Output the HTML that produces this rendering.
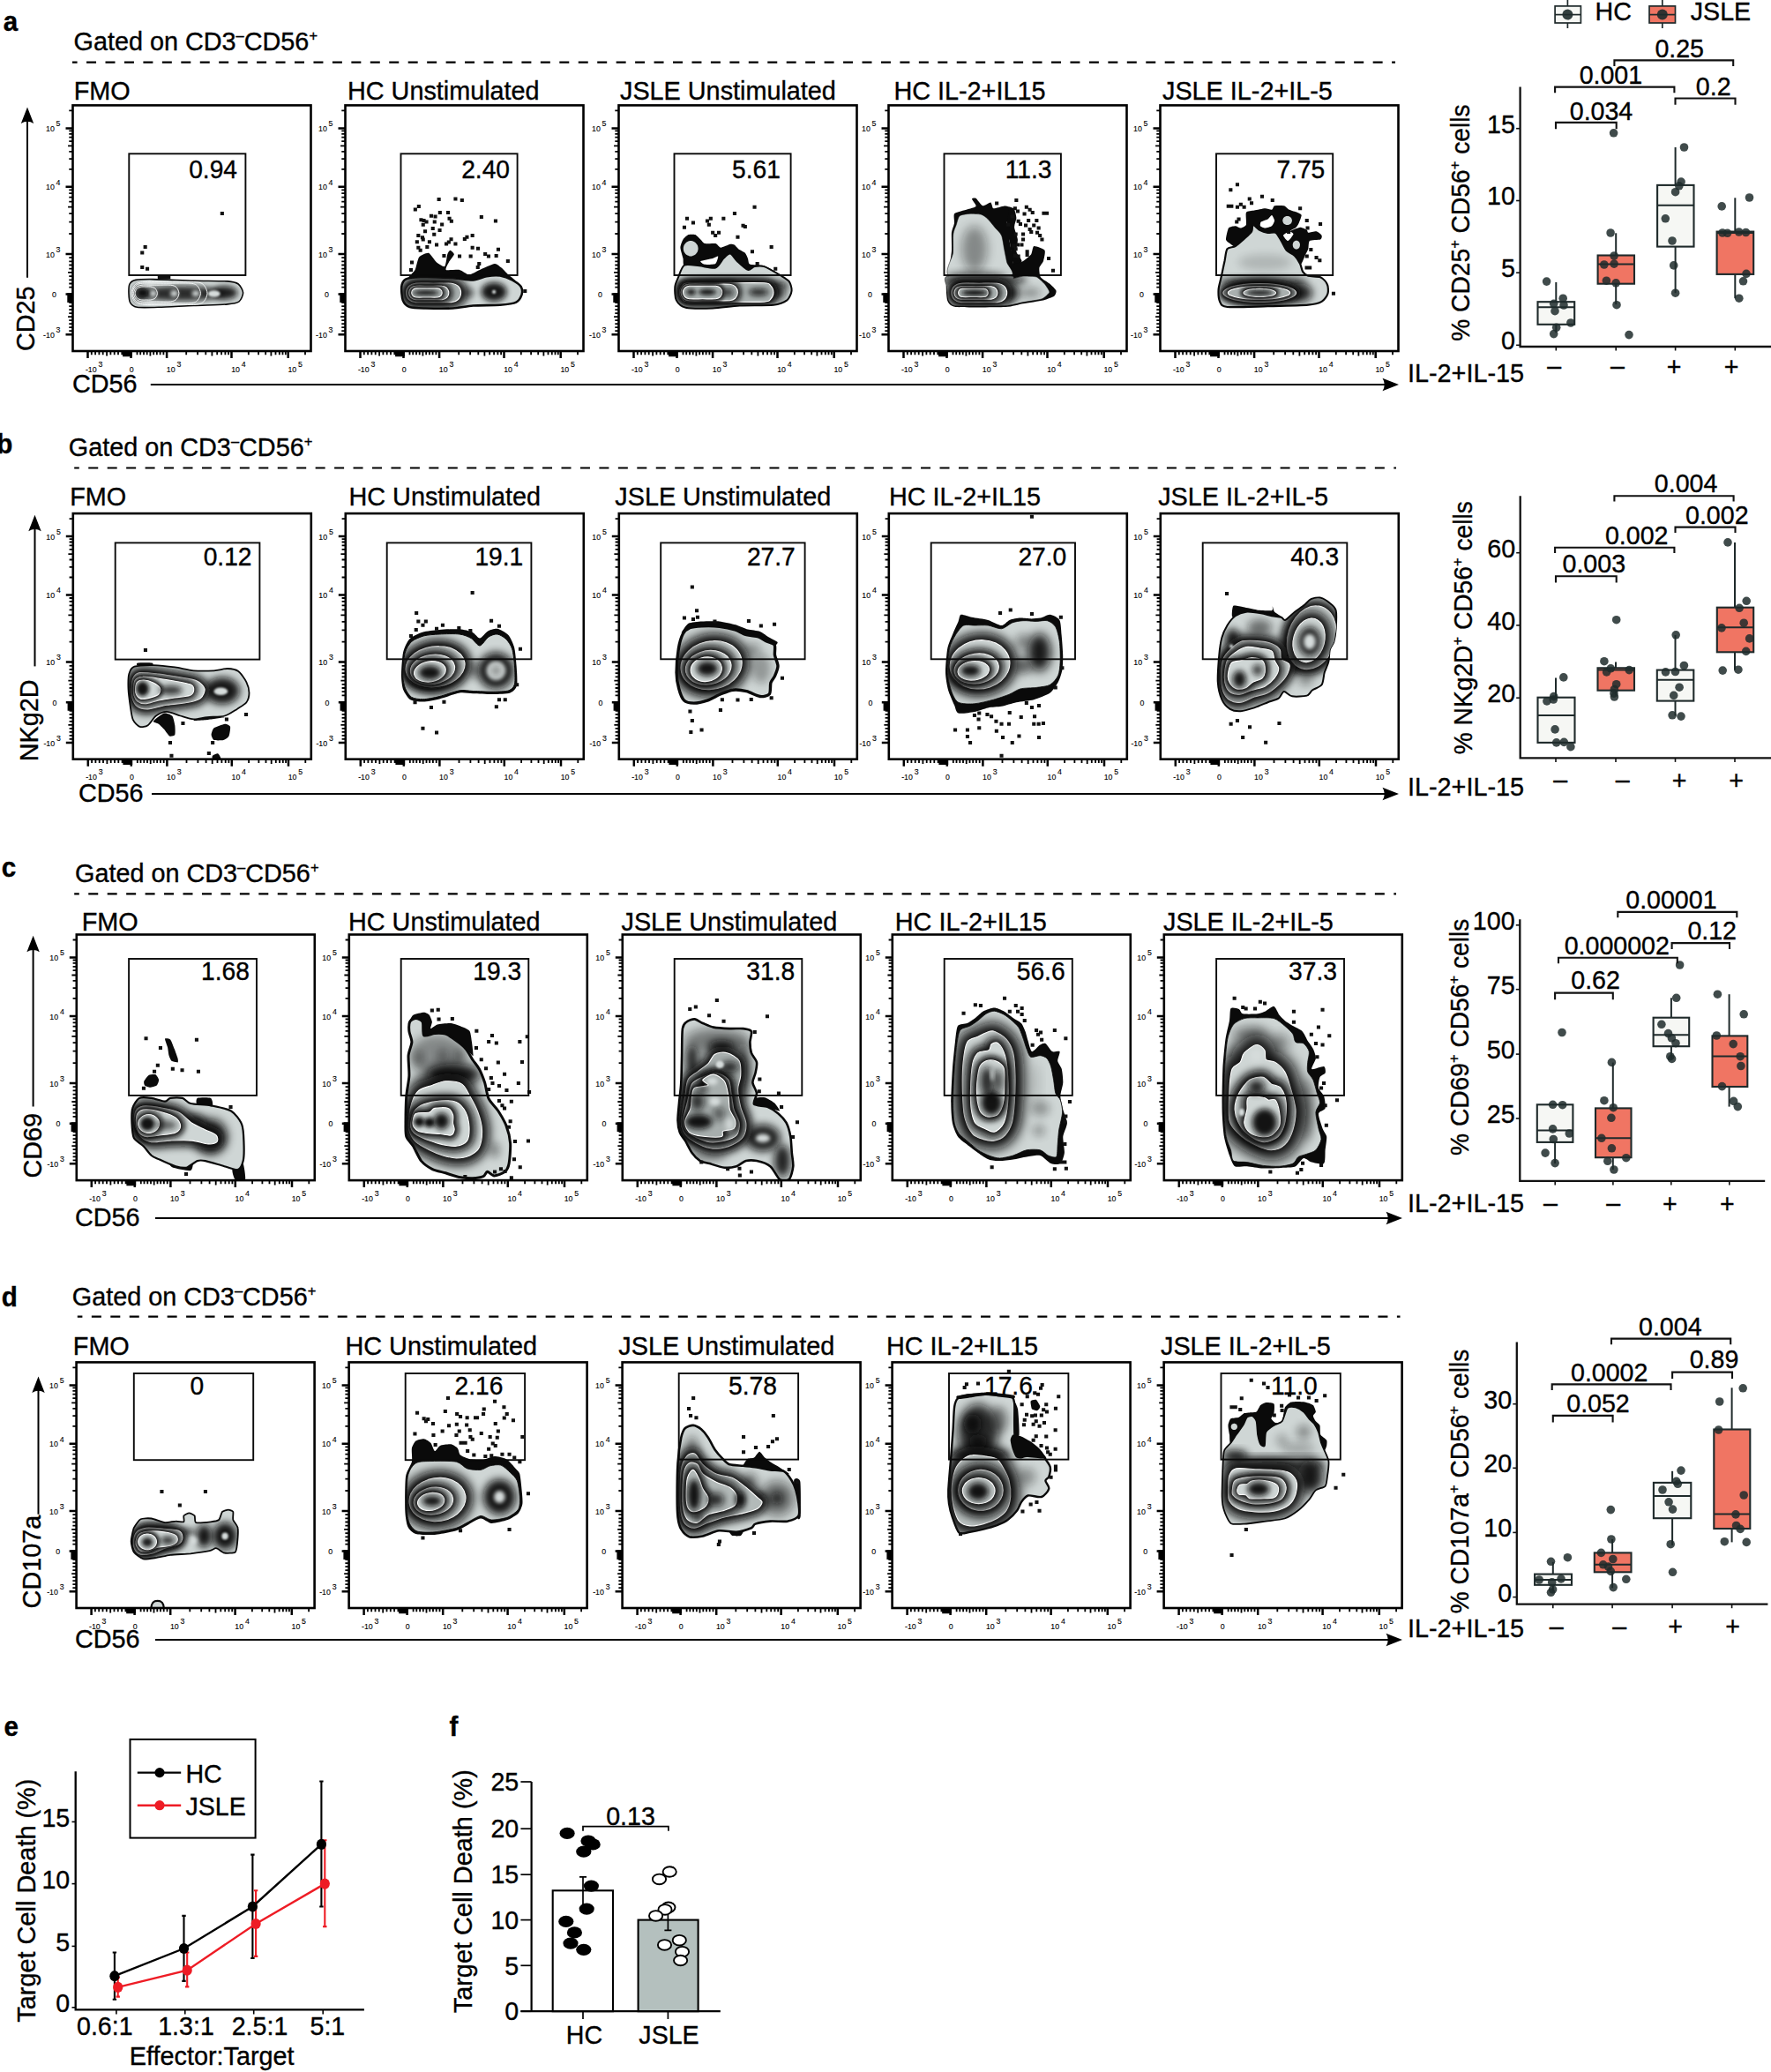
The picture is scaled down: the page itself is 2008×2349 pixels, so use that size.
<!DOCTYPE html><html><head><meta charset="utf-8"><title>Figure</title><style>html,body{margin:0;padding:0;background:#fff}svg{display:block}text{font-family:"Liberation Sans",sans-serif;fill:#000;stroke:#000;stroke-width:.35px}.t{stroke-width:.12px}</style></head><body><svg width="2008" height="2349" viewBox="0 0 2008 2349"><defs><clipPath id="pc"><rect x="0" y="0" width="271" height="278"/></clipPath><filter id="b1" x="-50%" y="-50%" width="200%" height="200%"><feGaussianBlur stdDeviation="1"/></filter><filter id="b2" x="-50%" y="-50%" width="200%" height="200%"><feGaussianBlur stdDeviation="2"/></filter><filter id="b3" x="-50%" y="-50%" width="200%" height="200%"><feGaussianBlur stdDeviation="3"/></filter><filter id="b4" x="-50%" y="-50%" width="200%" height="200%"><feGaussianBlur stdDeviation="4"/></filter><filter id="b5" x="-50%" y="-50%" width="200%" height="200%"><feGaussianBlur stdDeviation="5"/></filter><filter id="b6" x="-50%" y="-50%" width="200%" height="200%"><feGaussianBlur stdDeviation="6"/></filter><filter id="b7" x="-50%" y="-50%" width="200%" height="200%"><feGaussianBlur stdDeviation="7"/></filter><filter id="b8" x="-50%" y="-50%" width="200%" height="200%"><feGaussianBlur stdDeviation="8"/></filter><filter id="b9" x="-50%" y="-50%" width="200%" height="200%"><feGaussianBlur stdDeviation="9"/></filter><filter id="b10" x="-50%" y="-50%" width="200%" height="200%"><feGaussianBlur stdDeviation="10"/></filter><clipPath id="c1"><path d="M64 212.7C63.9 209.8 64 204 65 202C66.1 199.9 68.3 198.1 71.9 197.4C75.5 196.7 83 196.5 91.8 196.6C100.6 196.7 126.5 197.9 137.7 198.2C148.9 198.5 169.2 198.4 176 198.9C182.7 199.4 185.9 200.3 188.2 202C190.6 203.7 193.5 209.3 193.6 211.9C193.7 214.6 191.3 220.1 189 221.9C186.6 223.6 182.8 224.3 176 224.9C169.1 225.6 148.1 226 137.7 226.5C127.3 226.9 106.5 228.1 97.9 228.3C89.4 228.6 77.7 229 73.5 228.3C69.2 227.7 67.1 225.5 65.8 223.4C64.5 221.3 64.1 215.6 64 212.7Z"/></clipPath><clipPath id="c2"><path d="M64.3 205C64.7 201.9 66 198.1 68.9 196.6C71.7 195.2 78.6 194.5 85.7 194.3C92.8 194.1 114.5 194.7 122.4 195.1C130.4 195.5 140.3 197.7 145.4 197.4C150.5 197.1 156.6 193.8 160.7 193.1C164.8 192.5 172.1 191.9 176 192.5C179.9 193.1 186.6 195.7 189.7 197.4C192.9 199.1 198.3 202.8 199.7 205C201.1 207.3 201.2 211.9 200.5 214.2C199.7 216.6 197.6 221.1 194.3 222.6C191.1 224.2 182.5 225.2 176 225.7C169.4 226.2 152.5 226 145.4 226.5C138.2 227 129.6 229.1 122.4 229.5C115.3 229.9 98.3 229.7 91.8 229.5C85.3 229.3 76.9 229.2 73.5 228C70 226.8 67 223.4 65.8 220.4C64.6 217.3 63.9 208.2 64.3 205Z"/></clipPath><clipPath id="c3"><path d="M64.3 205C64.6 201.6 66.7 197.6 68.1 194.3C69.5 191.1 71.8 182.3 75 180.6C78.1 178.8 87.1 180.9 91.8 181.3C96.5 181.7 106.5 184.7 110.2 183.6C113.8 182.5 117.1 175.1 119.4 172.9C121.6 170.8 125 167.1 127 167.6C129 168 132 173.5 134.7 176C137.3 178.4 144.2 185.1 146.9 185.9C149.6 186.7 152.1 182.6 154.6 182.1C157 181.6 161.4 180.8 165.3 182.1C169.1 183.4 179.9 189.8 183.6 192C187.4 194.3 191.8 196.6 193.6 198.9C195.3 201.3 196.9 206.8 196.6 209.6C196.3 212.5 194 218.2 191.3 220.4C188.5 222.5 183.1 224.9 176 225.7C168.8 226.5 146.9 226 137.7 226.5C128.5 227 115.3 229.2 107.1 229.5C99 229.8 82 230 76.5 228.8C71 227.5 67.4 223.5 65.8 220.4C64.2 217.2 64 208.5 64.3 205Z"/></clipPath><clipPath id="c4"><path d="M69.6 193.1C62 190 73 172.4 73.5 166.8C73.9 161.2 73.3 149.1 73.8 145.4C74.2 141.6 76.4 137.1 77.3 134.7C78.1 132.2 79.4 126.1 81.1 124.7C82.8 123.3 89 122.6 91.8 122.4C94.7 122.2 103.1 122.5 105.6 123.2C108.1 123.9 111.5 126.8 113.2 128.5C115 130.2 119.1 135.6 120.9 137.7C122.7 139.9 127.3 144 128.5 146.9C129.8 149.8 130.9 158.6 131.6 162.2C132.3 165.8 133.9 173.9 134.7 177.5C135.5 181.1 146.1 191.3 138.5 193.1C130.9 194.9 77.2 196.2 69.6 193.1Z"/></clipPath><clipPath id="c5"><path d="M67.3 193.1C73.3 192.1 132.2 192.9 138.5 193.1C144.7 193.3 141.1 195.6 142.3 195.6C143.5 195.6 150.9 193.2 153 193.1C155.2 193 166.3 193.3 168.3 194C170.4 194.8 176.3 200.6 177.5 202C178.7 203.4 183.1 209.8 182.9 211.2C182.6 212.6 176.9 217.9 174.4 218.8C172 219.8 156.5 222 153 222.6C149.6 223.3 139.5 226.2 133.1 226.5C126.8 226.8 81.9 227 76.5 226.5C71.1 226 69.4 222.1 68.6 220.4C67.7 218.6 66.5 207.3 66.4 205C66.3 202.8 61.3 194.1 67.3 193.1Z"/></clipPath><clipPath id="c6"><path d="M66.6 208.1C66.8 204.4 68.7 198.6 69.6 194.3C70.5 190.1 72.5 180.3 73.5 176C74.4 171.7 74.9 164.4 76.5 162.2C78.1 160 83.2 160.6 85.7 159.1C88.1 157.7 92.4 153.7 94.9 151.5C97.3 149.2 102.6 144.6 104.1 142.3C105.5 140.1 104.4 134.9 105.6 134.7C106.8 134.5 111 139.6 113.2 140.8C115.5 142 120 143.4 122.4 143.8C124.9 144.2 129.6 142.6 131.6 143.8C133.6 145.1 136.1 150.4 137.7 153C139.4 155.7 141.8 161.5 143.8 163.7C145.9 166 151 167.8 153 169.9C155.1 171.9 157.9 176.6 159.1 179C160.4 181.5 161 186.4 162.2 188.2C163.4 190.1 165.7 192 168.3 192.8C171 193.6 179.2 193.1 182.1 194.3C185 195.6 188.6 199.5 189.7 202C190.9 204.4 191.3 210 190.5 212.7C189.7 215.4 186.6 220.1 183.6 221.9C180.7 223.6 176.5 225 168.3 225.7C160.2 226.4 134.7 226.9 122.4 227.2C110.2 227.5 83.8 228.7 76.5 228C69.3 227.3 69.4 224.5 68.1 221.9C66.8 219.2 66.4 211.8 66.6 208.1Z"/></clipPath><clipPath id="c7"><path d="M63.5 198.9C63.3 194 63.4 185.5 64.3 182.1C65.2 178.7 66.7 175 70.4 173.7C74.1 172.4 85.7 172 91.8 172.1C97.9 172.3 110.2 173.6 116.3 174.4C122.4 175.3 131.8 177.8 137.7 178.3C143.6 178.8 155.6 178.6 160.7 178.3C165.8 178 172.3 175.9 176 176C179.6 176.1 185.4 177 188.2 179C191.1 181.1 195.8 188 197.4 191.3C199 194.5 200.5 200.5 200.5 203.5C200.5 206.6 199.2 211.8 197.4 214.2C195.6 216.7 189.9 219.8 186.7 221.9C183.4 223.9 177.4 228.3 172.9 229.5C168.4 230.8 157.7 230.6 153 231.1C148.3 231.6 141.8 233.6 137.7 233.4C133.6 233.2 126.5 230.7 122.4 229.5C118.3 228.4 110.8 224.9 107.1 224.9C103.4 224.9 97.7 227.5 94.9 229.5C92 231.6 88.1 238.6 85.7 240.2C83.2 241.9 78.8 242.6 76.5 241.8C74.3 241 70.3 237.2 68.9 234.1C67.4 231.1 66.5 223.5 65.8 218.8C65.1 214.1 63.7 203.8 63.5 198.9Z"/></clipPath><clipPath id="c8"><path d="M65.8 183.6C65.8 178.3 66.8 163.5 68.1 158.4C69.4 153.3 72.9 148 75.7 145.4C78.6 142.8 85.3 140.1 89.5 138.9C93.7 137.8 101.7 137.2 107.1 137C112.5 136.7 125.3 136.3 130.1 137C134.9 137.6 140 139.8 143.1 141.5C146.1 143.3 150.4 150.2 153 150C155.7 149.8 160.3 141.7 163 140C165.6 138.3 170.3 136.6 172.9 137C175.6 137.3 180.6 140.4 182.9 142.6C185.1 144.9 188.5 149.7 189.7 153.8C191 157.8 192.1 167.6 192.5 172.9C192.9 178.2 193.4 189.9 192.5 193.6C191.6 197.3 189.1 199.6 185.9 200.8C182.7 201.9 173.7 202.2 168.3 202.3C162.9 202.4 150.5 201.7 145.4 201.5C140.3 201.3 135.2 199.9 130.1 200.8C125 201.6 112.6 206.3 107.1 207.6C101.6 209 92.9 210.6 88.8 210.7C84.6 210.8 78.5 210.1 75.7 208.4C73 206.7 69.7 201.5 68.4 198.2C67.1 194.9 65.8 188.9 65.8 183.6Z"/></clipPath><clipPath id="c9"><path d="M66.1 180.6C66.1 174.5 67.4 158.9 68.4 153C69.4 147.1 71.8 139.3 73.5 136.2C75.1 133.1 77.9 130.9 80.8 129.8C83.7 128.6 90.3 128 94.9 127.8C99.4 127.6 109.8 127.7 114.8 128.2C119.8 128.8 128.3 130.6 132.4 131.9C136.4 133.2 141.8 136.6 145.4 137.7C148.9 138.8 156.1 139 159.1 140C162.2 141 165.9 143.8 168.3 145.1C170.7 146.3 176 147.1 177.2 149.2C178.4 151.3 177 157.5 177.5 160.7C178 163.8 181 169.8 181 172.9C181 176.1 178.6 181.8 177.5 184.4C176.4 186.9 173.7 189.3 172.9 192C172.1 194.8 173 202.7 171.4 204.7C169.8 206.8 164.1 207.9 160.7 207.5C157.2 207.1 149.5 202.7 145.4 201.7C141.3 200.7 133.9 199.7 130.1 200.2C126.2 200.6 120.2 203.2 116.3 204.7C112.4 206.3 105.1 210.7 101 212.1C96.9 213.5 89.2 215.1 85.7 215.1C82.2 215.1 77 214.4 74.7 212.1C72.4 209.8 69.7 202.4 68.6 198.2C67.4 194 66.1 186.6 66.1 180.6Z"/></clipPath><clipPath id="c10"><path d="M67.3 180.6C67 174 68.4 158.7 69.6 153C70.8 147.3 74.4 141.2 76.5 137.7C78.7 134.3 82.8 128.4 85.7 127C88.5 125.6 94.3 127 97.9 127C101.6 127 109.2 126.5 113.2 127C117.3 127.5 124.9 131.2 128.5 130.8C132.2 130.4 137.5 125.2 140.8 123.9C144 122.7 149.3 121.9 153 121.7C156.7 121.4 164.7 122.4 168.3 122.4C172 122.4 177.7 120.8 180.6 121.7C183.4 122.5 187.9 125.4 189.7 128.5C191.6 131.7 193.6 140.1 194.3 145.4C195.1 150.7 195.3 163.2 195.1 168.3C194.9 173.4 194.3 180.2 192.8 183.6C191.3 187.1 186.9 192.5 183.6 194.3C180.4 196.2 172.8 196.8 168.3 197.4C163.8 198 154 197.9 150 198.9C145.9 199.9 141.8 203.4 137.7 205C133.6 206.7 124.7 209.7 119.4 211.2C114.1 212.6 103.2 215.4 97.9 215.8C92.6 216.2 83 216.1 79.6 214.2C76.1 212.4 73.6 206.5 71.9 202C70.3 197.5 67.6 187.1 67.3 180.6Z"/></clipPath><clipPath id="c11"><path d="M65.8 191.3C65.4 184.5 66.7 167.4 67.3 160.7C67.9 153.9 69.2 145.3 70.4 140.8C71.6 136.3 74.5 130.3 76.5 127C78.6 123.7 82.8 118.3 85.7 116.3C88.5 114.3 94.1 112.1 97.9 111.7C101.8 111.3 110.9 112.6 114.8 113.2C118.6 113.8 123.9 115.7 127 116.3C130.1 116.9 135.7 117.2 137.7 117.8C139.8 118.4 140.3 121.7 142.3 120.9C144.3 120.1 150.2 113.9 153 111.7C155.9 109.5 161.3 106 163.7 104.1C166.2 102.1 168.9 98.3 171.4 97.2C173.8 96 179.2 95 182.1 95.6C185 96.3 190.5 99.8 192.8 101.8C195.2 103.7 198.8 106.4 199.7 110.2C200.6 113.9 200 125.4 199.7 130.1C199.4 134.8 198.3 142.1 197.4 145.4C196.5 148.6 193.6 151.5 192.8 154.6C192 157.6 192.1 164.9 191.3 168.3C190.5 171.8 187.7 177.1 186.7 180.6C185.7 184 185.5 191.7 183.6 194.3C181.8 197 175.2 198.8 172.9 200.5C170.7 202.1 169.9 205.7 166.8 206.6C163.7 207.5 153.4 208 150 207.3C146.5 206.7 142.8 201.7 140.8 202C138.7 202.3 137.1 208 134.7 209.6C132.2 211.3 126.1 212.8 122.4 214.2C118.7 215.7 111.2 219 107.1 220.4C103 221.7 95.5 224 91.8 224.2C88.1 224.4 82.4 223.6 79.6 221.9C76.7 220.1 72.2 215.2 70.4 211.2C68.6 207.1 66.2 198 65.8 191.3Z"/></clipPath><clipPath id="c12"><path d="M63.5 214.2C63.3 209.7 63.1 201.2 64.3 197.4C65.4 193.6 69.1 187.5 71.9 185.9C74.8 184.4 81.8 185.4 85.7 185.9C89.6 186.4 98.1 189.7 101 189.7C103.9 189.7 104.5 186.4 107.1 185.9C109.8 185.4 117.8 185.1 120.9 185.9C123.9 186.7 125.8 190.9 130.1 192C134.4 193.2 146.9 193.2 153 194.3C159.1 195.5 171.3 197.6 176 200.5C180.7 203.3 186.3 210.9 188.2 215.8C190.2 220.7 190.3 231.7 190.5 237.2C190.7 242.7 190.7 253.1 189.7 257.1C188.8 261.1 186.5 266.2 183.6 267C180.8 267.8 173.2 264.5 168.3 263.2C163.4 261.9 151 257.9 146.9 257.1C142.8 256.3 140.6 256.1 137.7 257.1C134.9 258.1 128.7 263.9 125.5 264.7C122.2 265.5 117.3 264.4 113.2 263.2C109.2 262 98.5 257.2 94.9 255.5C91.2 253.9 88.1 253 85.7 251C83.2 248.9 79.2 242.9 76.5 240.2C73.9 237.6 67.5 234.5 65.8 231.1C64.1 227.6 63.7 218.7 63.5 214.2Z"/></clipPath><clipPath id="c13"><path d="M65 214.2C65 208.1 65.3 190.8 65.8 183.6C66.3 176.5 68.6 166.8 68.9 160.7C69.2 154.6 67.7 142.8 68.1 137.7C68.5 132.6 71.8 126.1 71.9 122.4C72 118.7 69.2 113.2 68.9 110.2C68.6 107.1 68.6 101.4 69.6 99.5C70.6 97.5 74.6 95.6 76.5 95.6C78.4 95.6 82.9 96.9 84.2 99.5C85.4 102 83.9 113 85.7 114.8C87.5 116.5 94.7 112.7 97.9 112.5C101.2 112.3 106.9 112.1 110.2 113.2C113.4 114.4 119.4 118.6 122.4 120.9C125.5 123.1 130.7 127.2 133.1 130.1C135.6 132.9 138.7 139.2 140.8 142.3C142.8 145.4 146.6 149.6 148.4 153C150.3 156.5 153.1 163.8 154.6 168.3C156 172.8 157.1 182.4 159.1 186.7C161.2 191 167.2 196.4 169.9 200.5C172.5 204.5 177.2 212.4 179 217.3C180.9 222.2 183.2 231.5 183.6 237.2C184 242.9 182.9 255.9 182.1 260.1C181.3 264.4 179.7 267.5 177.5 269.3C175.3 271.2 167.9 273.9 165.3 273.9C162.6 273.9 159.2 269.2 157.6 269.3C156 269.4 155.3 273.7 153 274.7C150.8 275.7 144.5 276.6 140.8 276.7C137.1 276.8 129.6 276.2 125.5 275.4C121.4 274.7 114.3 272.1 110.2 270.8C106.1 269.6 98.5 268.1 94.9 266.3C91.2 264.4 85.5 260.5 82.6 257.1C79.8 253.6 75.7 243.9 73.5 240.2C71.2 236.6 66.9 233 65.8 229.5C64.7 226.1 65 220.4 65 214.2Z"/></clipPath><clipPath id="c14"><path d="M63.5 211.2C63.4 206.7 64.5 197 65 191.3C65.5 185.6 66.9 175.5 67.3 168.3C67.7 161.2 67.9 145.9 68.1 137.7C68.3 129.6 68.1 112.2 68.9 107.1C69.6 102 71.6 100.9 73.5 99.5C75.3 98 80.2 96.2 82.6 96.4C85.1 96.6 89 99.8 91.8 101C94.7 102.2 100 104.8 104.1 105.6C108.1 106.4 117.9 106.9 122.4 107.1C126.9 107.3 134.5 106.7 137.7 107.1C141 107.5 145.9 108.1 146.9 110.2C147.9 112.2 145.4 119.2 145.4 122.4C145.4 125.7 145.9 131.6 146.9 134.7C147.9 137.7 152.4 142.3 153 145.4C153.6 148.4 152.1 154.6 151.5 157.6C150.9 160.7 148.2 165.3 148.4 168.3C148.6 171.4 152.8 177.3 153 180.6C153.2 183.8 148.3 190.8 150 192.8C151.6 194.8 161.6 194.4 165.3 195.9C168.9 197.3 174.6 201.1 177.5 203.5C180.4 206 184.8 210.8 186.7 214.2C188.5 217.7 190.5 225 191.3 229.5C192.1 234 192.4 243.4 192.8 247.9C193.2 252.4 194.7 259.2 194.3 263.2C193.9 267.2 191.8 276.1 189.7 278C187.7 280 181.9 280 179 278C176.2 276.1 171.8 266 168.3 263.2C164.9 260.4 156.7 257.9 153 257.1C149.3 256.3 143.8 256.3 140.8 257.1C137.7 257.9 133.3 262.2 130.1 263.2C126.8 264.2 120.4 265.1 116.3 264.7C112.2 264.3 103.1 261.2 99.5 260.1C95.8 259.1 91.4 258.7 88.8 257.1C86.1 255.4 81.8 251 79.6 247.9C77.3 244.8 73.8 237.2 71.9 234.1C70.1 231.1 66.9 228 65.8 224.9C64.7 221.9 63.6 215.7 63.5 211.2Z"/></clipPath><clipPath id="c15"><path d="M69.6 191.3C69.6 183.1 70.5 162.2 71.2 153C71.8 143.8 73.3 128.3 74.2 122.4C75.1 116.5 76.1 111.1 78 108.6C80 106.2 86.1 105.5 88.8 104.1C91.4 102.6 95.5 99.8 97.9 97.9C100.4 96.1 104.7 91.7 107.1 90.3C109.6 88.9 113.6 87.1 116.3 87.2C118.9 87.3 124.4 89.6 127 91C129.7 92.5 133.9 96 136.2 97.9C138.4 99.9 142.2 103.1 143.8 105.6C145.5 108 147.2 113 148.4 116.3C149.7 119.6 151.8 127 153 130.1C154.2 133.1 155.6 138.2 157.6 139.2C159.7 140.3 165.9 137.5 168.3 137.7C170.8 137.9 174.3 139.1 176 140.8C177.6 142.4 179.5 146.7 180.6 150C181.6 153.2 182.9 161.2 183.6 165.3C184.3 169.3 184.9 177.5 185.9 180.6C186.9 183.6 190.3 185.4 191.3 188.2C192.3 191.1 193.8 197.5 193.6 202C193.4 206.5 190.5 217 189.7 221.9C189 226.8 188.6 234.6 188.2 238.7C187.8 242.8 188.1 250.9 186.7 252.5C185.3 254.1 180 252 177.5 251C175.1 249.9 171.6 245.6 168.3 244.8C165.1 244 157.1 244 153 244.8C148.9 245.6 141.8 249.7 137.7 251C133.6 252.2 126.1 254 122.4 254C118.7 254 113.4 252.2 110.2 251C106.9 249.7 101 246.9 97.9 244.8C94.9 242.8 90.1 238.1 87.2 235.7C84.4 233.2 78.7 229.3 76.5 226.5C74.4 223.6 72.1 218.9 71.2 214.2C70.2 209.5 69.6 199.4 69.6 191.3Z"/></clipPath><clipPath id="c16"><path d="M68.9 198.9C68.7 188.7 69.1 163.6 69.6 153C70.1 142.4 71.4 126.1 72.7 119.4C74 112.6 77 105.7 79.6 102.5C82.1 99.4 88.1 96.7 91.8 95.6C95.5 94.6 102.6 94.9 107.1 94.9C111.6 94.9 121.4 94.4 125.5 95.6C129.6 96.9 134.9 101.7 137.7 104.1C140.6 106.4 145.3 110.8 146.9 113.2C148.5 115.7 148.3 121 150 122.4C151.6 123.8 157.1 122.5 159.1 123.9C161.2 125.4 164.7 130.3 165.3 133.1C165.9 136 163.9 142.3 163.7 145.4C163.5 148.4 162.9 153.4 163.7 156.1C164.5 158.7 168.4 162 169.9 165.3C171.3 168.5 173.4 177.1 174.4 180.6C175.5 184 177.7 188.4 177.5 191.3C177.3 194.1 173.1 198.1 172.9 202C172.7 205.9 175.2 216.3 176 220.4C176.8 224.4 179.4 229.3 179 232.6C178.6 235.9 175.2 242.6 172.9 244.8C170.7 247.1 164.9 248.4 162.2 249.4C159.5 250.4 155.1 251.1 153 252.5C151 253.9 149.8 258.7 146.9 260.1C144 261.6 136.1 262.9 131.6 263.2C127.1 263.5 118.1 263 113.2 262.4C108.3 261.8 99.4 259.3 94.9 258.6C90.4 257.9 82 258.9 79.6 257.1C77.1 255.2 77.6 248.5 76.5 244.8C75.4 241.2 72.2 235.7 71.2 229.5C70.1 223.4 69.1 209.1 68.9 198.9Z"/></clipPath><clipPath id="c17"><path d="M62.7 203.5C62.7 200.8 64.7 190.7 65.8 188.2C66.9 185.7 71.5 179.3 73.5 178.3C75.4 177.2 82.9 177.1 85.7 177.5C88.4 177.9 98.2 181.8 101 182.1C103.7 182.4 111.1 180.6 113.2 180.6C115.4 180.5 121.5 181.9 122.4 181.3C123.3 180.7 121.8 175.4 122.4 174.4C123 173.4 127.3 171.4 128.5 171.4C129.8 171.4 133.9 173.4 134.7 174.4C135.4 175.5 134.4 181.4 136.2 182.1C138 182.8 150.4 181.6 153 181.3C155.6 181 160.9 180.2 162.2 179C163.5 177.9 165 171 166 169.9C167.1 168.7 171.7 167.6 172.9 167.6C174.1 167.6 177.7 168.7 178.3 169.9C178.8 171 177.7 177.2 178.3 179C178.8 180.9 183.2 185.5 183.6 188.2C184.1 191 183.2 203.8 182.9 206.6C182.6 209.3 182 214.8 180.6 215.8C179.1 216.8 170.5 217 168.3 216.5C166.2 216.1 160.8 211.4 159.1 211.2C157.5 210.9 154.4 213.6 151.5 214.2C148.6 214.8 134.5 216.8 130.1 217.3C125.6 217.7 110.9 218.4 107.1 218.8C103.3 219.3 94.9 221.4 91.8 221.9C88.8 222.3 79.1 224 76.5 223.4C73.9 222.8 67.2 217.7 65.8 215.8C64.4 213.8 62.7 206.3 62.7 203.5Z"/></clipPath><clipPath id="c18"><path d="M85.1 290.7C83.7 289.2 85.6 277.4 86 275.4C86.4 273.5 88.6 271.6 89.5 271.2C90.5 270.7 94.7 270.7 95.6 271.2C96.6 271.6 98.7 273.5 99.2 275.4C99.6 277.4 101.5 289.2 100.1 290.7C98.7 292.3 86.5 292.3 85.1 290.7Z"/></clipPath><clipPath id="c19"><path d="M66.6 168.3C66.3 161.2 66 137.2 67.3 130.1C68.7 122.9 72.8 117.1 76.5 114.8C80.2 112.4 88.8 112.7 94.9 112.5C101 112.3 117.1 112.1 122.4 113.2C127.7 114.4 131 119.7 134.7 120.9C138.3 122.1 146.5 122.8 150 122.4C153.4 122 157.6 118.5 160.7 117.8C163.7 117.1 169.9 116 172.9 117.1C176 118.1 181.2 123.1 183.6 125.5C186.1 127.8 189.8 131 191.3 134.7C192.7 138.3 194.1 148.7 194.3 153C194.5 157.3 194.6 163.7 192.8 166.8C191 169.9 184.6 174.3 180.6 176C176.5 177.6 166.3 179.2 162.2 179C158.1 178.8 153.6 174 150 174.4C146.3 174.9 138.3 180.3 134.7 182.1C131 183.9 127.3 186.8 122.4 188.2C117.5 189.6 103.9 192.3 97.9 192.8C92 193.3 81.8 193.3 78 192C74.3 190.8 71.2 186.8 69.6 183.6C68.1 180.5 66.9 175.5 66.6 168.3Z"/></clipPath><clipPath id="c20"><path d="M62.7 153C62.7 144.9 62.9 123.7 63.5 114.8C64.1 105.8 66.2 91 67.3 85.7C68.5 80.4 70.1 76.8 71.9 75C73.8 73.1 78.7 71.7 81.1 71.9C83.5 72.1 88 74.7 90.3 76.5C92.5 78.3 95.9 82.6 97.9 85.7C100 88.8 103.3 96.2 105.6 99.5C107.8 102.7 112.5 107.9 114.8 110.2C117 112.4 119.4 115.3 122.4 116.3C125.5 117.3 133.6 117.4 137.7 117.8C141.8 118.2 148.9 118.7 153 119.4C157.1 120 164.2 121.8 168.3 122.4C172.4 123 180.4 122.3 183.6 123.9C186.9 125.6 191 131.8 192.8 134.7C194.6 137.5 196.4 141.9 197.4 145.4C198.4 148.8 200 156.8 200.5 160.7C200.9 164.5 202.1 171.8 200.5 174.4C198.8 177.1 192.5 179.7 188.2 180.6C183.9 181.4 173.2 180.2 168.3 180.6C163.4 181 154.3 182.6 151.5 183.6C148.6 184.6 149.8 187 146.9 188.2C144 189.4 135 192.4 130.1 192.8C125.2 193.2 115.3 190.7 110.2 191.3C105.1 191.9 96.3 196.5 91.8 197.4C87.3 198.3 79.8 199.2 76.5 198.2C73.2 197.1 69.1 192.7 67.3 189.7C65.6 186.8 64.1 180.9 63.5 176C62.9 171.1 62.7 161.2 62.7 153Z"/></clipPath><clipPath id="c21"><path d="M64.3 145.4C64.6 138.2 66.6 116.3 67.3 107.1C68 97.9 69.1 84.1 69.6 76.5C70.1 69 70.4 55.2 71.2 50.5C71.9 45.8 73 43 75 41.3C76.9 39.6 81.4 38.1 85.7 37.5C90 36.9 101.2 36.6 107.1 36.7C113 36.8 126 37.6 130.1 38.3C134.1 38.9 136.4 39.3 137.7 41.3C139 43.4 139.6 49.9 140 53.6C140.4 57.2 140.7 65 140.8 68.9C140.9 72.7 140 80.4 140.8 82.6C141.6 84.9 144.7 84.5 146.9 85.7C149.1 86.9 154.8 89.8 157.6 91.8C160.5 93.9 166.1 98.5 168.3 101C170.6 103.4 172.9 107.7 174.4 110.2C176 112.6 179.3 116.7 179.8 119.4C180.3 122 179 128 178.3 130.1C177.6 132.1 174.4 132.8 174.4 134.7C174.4 136.5 178.9 141.4 178.3 143.8C177.7 146.3 173 152 169.9 153C166.7 154 157.6 150.7 154.6 151.5C151.5 152.3 148.5 156.9 146.9 159.1C145.3 161.4 144.3 165.7 142.3 168.3C140.3 171 134.7 176.8 131.6 179C128.5 181.3 123 183.7 119.4 185.2C115.7 186.6 108.1 188.7 104.1 189.7C100 190.8 92.4 192.3 88.8 192.8C85.1 193.3 79.2 195.8 76.5 193.6C73.9 191.3 70.4 180.4 68.9 176C67.3 171.6 65.6 164.8 65 160.7C64.4 156.6 64 152.5 64.3 145.4Z"/></clipPath><clipPath id="c22"><path d="M66.6 153C66.4 147.7 67.1 128.5 67.3 122.4C67.6 116.3 67.8 104.6 68.9 101C69.9 97.4 74.9 94 76.5 91.8C78.1 89.7 81 85 82.6 82.6C84.2 80.3 88.9 74.2 90.3 71.9C91.7 69.6 93.6 64 94.9 62.7C96.1 61.5 99.7 60.7 101 61.2C102.2 61.7 104.9 64.8 105.6 67.3C106.3 69.8 106.6 79.6 107.1 82.6C107.7 85.7 109.3 91.9 110.2 93.3C111.1 94.8 114.1 96.5 114.8 94.9C115.5 93.3 115 82.2 116.3 79.6C117.5 76.9 123.3 73.3 125.5 71.9C127.6 70.5 132.9 69.7 134.7 67.3C136.4 65 139 53.9 140.8 52C142.6 50.2 147.8 50.7 150 51.3C152.1 51.8 157.4 55.1 159.1 56.6C160.9 58.1 163.8 62.7 165.3 64.3C166.7 65.9 170.1 68.6 171.4 70.4C172.6 72.2 175.1 77.1 176 79.6C176.9 82.1 178.1 89.1 179 91.8C179.9 94.5 182.6 100 183.6 102.5C184.6 105 187.2 110 187.5 113.2C187.7 116.4 186.4 126.9 185.9 130.1C185.5 133.3 185.1 139 183.6 140.8C182.1 142.6 175.1 143.6 172.9 145.4C170.8 147.2 167.6 153.4 165.3 156.1C162.9 158.8 156.2 165.8 153 168.3C149.8 170.8 142 176.1 137.7 177.5C133.4 178.9 121.7 179.9 116.3 180.6C110.9 181.3 96.5 183.4 91.8 183.6C87.2 183.9 79.2 184.6 76.5 182.9C73.8 181.1 70 171.8 68.9 168.3C67.7 164.8 66.7 158.4 66.6 153Z"/></clipPath></defs><rect width="2008" height="2349" fill="#fff"/><text font-weight="bold" transform="translate(3.8 35) scale(1 1.04)" font-size="29.6" stroke-width="0">a</text>
<text transform="translate(83.5 56.5) scale(1 1.04)" font-size="28.8">Gated on CD3<tspan font-size="16.5" dy="-10.5">&#8211;</tspan><tspan dy="10.5" font-size="1">&#8203;</tspan>CD56<tspan font-size="16.5" dy="-10.5">+</tspan><tspan dy="10.5" font-size="1">&#8203;</tspan></text>
<line x1="82" y1="70.6" x2="1582" y2="70.6" stroke="#000" stroke-width="2.2" stroke-dasharray="11 10.45" stroke-dashoffset="5.4"/>
<text transform="translate(83.7 112.8) scale(1 1.04)" font-size="28.8">FMO</text>
<text transform="translate(394 112.8) scale(1 1.04)" font-size="28.8">HC Unstimulated</text>
<text transform="translate(703 112.8) scale(1 1.04)" font-size="28.8">JSLE Unstimulated</text>
<text transform="translate(1013.4 112.8) scale(1 1.04)" font-size="28.8">HC IL-2+IL15</text>
<text transform="translate(1318 112.8) scale(1 1.04)" font-size="28.8">JSLE IL-2+IL-5</text>
<text transform="translate(39.1 398) rotate(-90) scale(1 1.04)" font-size="28.8">CD25</text>
<line x1="31" y1="314.8" x2="31" y2="131.4" stroke="#000" stroke-width="2"/>
<path d="M31 121.4l-7.2 18.5q7.2 -4.5 14.4 0z" fill="#000"/>
<text transform="translate(81.9 444.6) scale(1 1.04)" font-size="28.8">CD56</text>
<line x1="170.8" y1="436" x2="1576" y2="436" stroke="#000" stroke-width="2"/>
<path d="M1586 436l-18.5 -7.2q4.5 7.2 0 14.4z" fill="#000"/>
<text transform="translate(1596 433) scale(1 1.04)" font-size="28.8">IL-2+IL-15</text>
<g transform="translate(82 120)" clip-path="url(#pc)">
<path d="M64 212.7C63.9 209.8 64 204 65 202C66.1 199.9 68.3 198.1 71.9 197.4C75.5 196.7 83 196.5 91.8 196.6C100.6 196.7 126.5 197.9 137.7 198.2C148.9 198.5 169.2 198.4 176 198.9C182.7 199.4 185.9 200.3 188.2 202C190.6 203.7 193.5 209.3 193.6 211.9C193.7 214.6 191.3 220.1 189 221.9C186.6 223.6 182.8 224.3 176 224.9C169.1 225.6 148.1 226 137.7 226.5C127.3 226.9 106.5 228.1 97.9 228.3C89.4 228.6 77.7 229 73.5 228.3C69.2 227.7 67.1 225.5 65.8 223.4C64.5 221.3 64.1 215.6 64 212.7Z" fill="#cfd6d5" stroke="#0a0a0a" stroke-width="1.6"/>
<g clip-path="url(#c1)">
<ellipse cx="122.4" cy="212.7" rx="50.5" ry="8.4" fill="#0c0c0c" opacity="0.85" filter="url(#b3)"/>
<ellipse cx="172.9" cy="211.9" rx="14.5" ry="7.7" fill="#0c0c0c" opacity="0.9" filter="url(#b3)"/>
<ellipse cx="76.5" cy="212.7" rx="9.2" ry="10.7" fill="#0c0c0c" opacity="0.6" filter="url(#b3)"/>
<ellipse cx="91.8" cy="212.7" rx="4" ry="3.7" fill="#d6dcdb" filter="url(#b2)"/>
<ellipse cx="115.5" cy="212.7" rx="4.3" ry="3.7" fill="#d6dcdb" filter="url(#b2)"/>
<ellipse cx="140" cy="212.7" rx="4.3" ry="3.4" fill="#d6dcdb" filter="url(#b2)"/>
<ellipse cx="160.7" cy="213" rx="7" ry="3.8" fill="#d6dcdb" filter="url(#b1)"/>
<path d="M79.3 223.7C74 223.2 73.1 222.1 71.4 220.4C69.7 218.7 68.1 214.9 68.1 212.5C68.1 210.1 69.7 206.2 71.4 204.5C73.1 202.8 74 201.7 79.3 201.2C84.6 200.7 98.5 201.2 106.7 201.2C114.9 201.2 128.8 200.7 134.1 201.2C139.4 201.7 140.4 202.8 142.1 204.5C143.8 206.2 145.4 210.1 145.4 212.5C145.4 214.9 143.8 218.7 142.1 220.4C140.4 222.1 139.4 223.2 134.1 223.7C128.8 224.2 114.9 223.7 106.7 223.7C98.5 223.7 84.6 224.2 79.3 223.7Z" fill="none" stroke="#f4f6f6" stroke-width="1"/>
<path d="M79 221.9C75.5 221.5 73.8 220.5 72.4 219.1C71 217.7 69.6 214.5 69.6 212.5C69.6 210.6 71 207.3 72.4 205.9C73.8 204.5 75.5 203.6 79 203.2C82.4 202.8 90.4 203.2 95.3 203.2C100.1 203.2 108.1 202.8 111.6 203.2C115 203.6 116.8 204.5 118.2 205.9C119.6 207.3 120.9 210.6 120.9 212.5C120.9 214.5 119.6 217.7 118.2 219.1C116.8 220.5 115 221.5 111.6 221.9C108.1 222.3 100.1 221.9 95.3 221.9C90.4 221.9 82.4 222.3 79 221.9Z" fill="none" stroke="#f4f6f6" stroke-width="1"/>
<path d="M78.7 220C77.1 219.7 74.5 219 73.4 217.8C72.2 216.7 71.2 214.1 71.2 212.5C71.2 211 72.2 208.4 73.4 207.2C74.5 206.1 77.1 205.4 78.7 205C80.2 204.7 82.2 205 83.8 205C85.3 205 87.3 204.7 88.9 205C90.5 205.4 93.1 206.1 94.2 207.2C95.3 208.4 96.4 211 96.4 212.5C96.4 214.1 95.3 216.7 94.2 217.8C93.1 219 90.5 219.7 88.9 220C87.3 220.4 85.3 220 83.8 220C82.2 220 80.2 220.4 78.7 220Z" fill="none" stroke="#f4f6f6" stroke-width="1"/>
<path d="M79.6 225.2C73.7 224.7 72.5 223.4 70.6 221.5C68.7 219.6 66.9 215.2 66.9 212.5C66.9 209.8 68.7 205.4 70.6 203.4C72.5 201.5 73.7 200.3 79.6 199.7C85.5 199.1 100.9 199.7 109.9 199.7C119 199.7 134.3 199.1 140.2 199.7C146.1 200.3 147.4 201.5 149.3 203.4C151.2 205.4 153 209.8 153 212.5C153 215.2 151.2 219.6 149.3 221.5C147.4 223.4 146.1 224.7 140.2 225.2C134.3 225.8 119 225.2 109.9 225.2C100.9 225.2 85.5 225.8 79.6 225.2Z" fill="none" stroke="#f4f6f6" stroke-width="1"/>
<ellipse cx="79.6" cy="211.9" rx="5.8" ry="4" fill="#0c0c0c" opacity="0.95" filter="url(#b2)"/>
</g>
<path d="M167.8 120h4.1v4h-4.1zM80.6 157.9h4.1v4h-4.1zM77.2 164.5h4.1v4h-4.1zM77.2 180.9h4.1v4h-4.1zM83 182.8h4.1v4h-4.1zM96.8 192.2h14.5v4h-14.5z" fill="#111"/>
<rect x="64.3" y="54.3" width="132.1" height="137.7" fill="none" stroke="#0a0a0a" stroke-width="1.9"/>
<text transform="translate(187 82.2) scale(1 1.04)" font-size="28.2" text-anchor="end">0.94</text>
</g>
<rect x="82.5" y="119.4" width="270" height="278.6" fill="none" stroke="#000" stroke-width="2.6"/>
<path d="M211.2 398v4.2M224.1 398v4.2M233.3 398v4.2M240.4 398v5.4M246.2 398v4.2M251.1 398v4.2M255.4 398v4.2M259.1 398v4.2M281.8 398v4.2M293.1 398v4.2M301.2 398v4.2M307.4 398v5.4M312.5 398v4.2M316.8 398v4.2M320.5 398v4.2M323.8 398v4.2M346 398v4.2M155.5 398v4.2M159.2 398v4.2M163 398v4.2M166.7 398v4.2M170.4 398v5.4M174.2 398v4.2M177.9 398v4.2M181.6 398v4.2M185.4 398v4.2M138.3 398v4.2M134 398v4.2M129.7 398v4.2M125.4 398v4.2M121.1 398v5.4M116.7 398v4.2M112.4 398v4.2M108.1 398v4.2M103.8 398v4.2M140 398v6.2M141.5 398v6.2M143 398v6.2M144.5 398v6.2M146 398v6.2M147.5 398v6.2M149 398v6.2" stroke="#000" stroke-width="1.8" fill="none"/>
<path d="M99.5 398v8M148.5 398v8M189.1 398v8M262.5 398v8M326.7 398v8" stroke="#000" stroke-width="2.5" fill="none"/>
<path d="M82.5 265h-4.2M82.5 251.6h-4.2M82.5 242.1h-4.2M82.5 234.7h-5.4M82.5 228.7h-4.2M82.5 223.6h-4.2M82.5 219.2h-4.2M82.5 215.3h-4.2M82.5 191.8h-4.2M82.5 180.1h-4.2M82.5 171.8h-4.2M82.5 165.4h-5.4M82.5 160.1h-4.2M82.5 155.7h-4.2M82.5 151.8h-4.2M82.5 148.4h-4.2M82.5 125.4h-4.2M82.5 325.7h-4.2M82.5 321.5h-4.2M82.5 317.3h-4.2M82.5 313.1h-4.2M82.5 308.9h-5.4M82.5 304.7h-4.2M82.5 300.5h-4.2M82.5 296.3h-4.2M82.5 292.1h-4.2M82.5 343.1h-4.2M82.5 347.1h-4.2M82.5 351.1h-4.2M82.5 355.1h-4.2M82.5 359.1h-5.4M82.5 363.1h-4.2M82.5 367.2h-4.2M82.5 371.2h-4.2M82.5 375.2h-4.2M82.5 342.1h-6.2M82.5 340.6h-6.2M82.5 339.1h-6.2M82.5 337.6h-6.2M82.5 336.1h-6.2M82.5 334.6h-6.2M82.5 333.1h-6.2" stroke="#000" stroke-width="1.8" fill="none"/>
<path d="M82.5 379.2h-8M82.5 333.6h-8M82.5 287.9h-8M82.5 211.8h-8M82.5 145.4h-8" stroke="#000" stroke-width="2.5" fill="none"/>
<text x="96.9" y="421.5" font-size="8.8" class="t">-10<tspan dx="1.8" dy="-5.8">3</tspan></text>
<text x="146.7" y="421.5" font-size="8.8" class="t">0</text>
<text x="188.8" y="421.5" font-size="8.8" class="t">10<tspan dx="1.8" dy="-5.8">3</tspan></text>
<text x="262.2" y="421.5" font-size="8.8" class="t">10<tspan dx="1.8" dy="-5.8">4</tspan></text>
<text x="326.4" y="421.5" font-size="8.8" class="t">10<tspan dx="1.8" dy="-5.8">5</tspan></text>
<text x="68.5" y="382.8" font-size="8.8" text-anchor="end" class="t">-10<tspan dx="1.8" dy="-5.8">3</tspan></text>
<text x="64" y="337.2" font-size="8.8" text-anchor="end" class="t">0</text>
<text x="68.5" y="291.5" font-size="8.8" text-anchor="end" class="t">10<tspan dx="1.8" dy="-5.8">3</tspan></text>
<text x="68.5" y="215.4" font-size="8.8" text-anchor="end" class="t">10<tspan dx="1.8" dy="-5.8">4</tspan></text>
<text x="68.5" y="149" font-size="8.8" text-anchor="end" class="t">10<tspan dx="1.8" dy="-5.8">5</tspan></text>
<g transform="translate(391 120)" clip-path="url(#pc)">
<path d="M71.9 195.1C71.3 194.2 78.3 188.3 79.6 185.9C80.8 183.5 82.6 173.3 84.2 171.4C85.7 169.5 92.9 166.2 94.9 166.8C96.9 167.4 102.2 176 104.1 177.5C105.9 179 112 183 113.2 182.1C114.5 181.2 115.7 170.2 116.3 168.3C116.9 166.5 118.6 163.7 119.4 163.7C120.1 163.7 124.1 166.9 123.9 168.3C123.8 169.7 118.7 175.7 117.8 177.5C116.9 179.3 113.5 185.1 114.8 185.9C116 186.8 127.5 185.4 130.1 185.9C132.7 186.5 138.5 191.3 140.8 191.3C143.1 191.3 150.1 187.1 153 185.9C155.9 184.7 167.4 179.3 169.9 179C172.3 178.8 176 182.4 177.5 183.6C179 184.8 183.6 189.7 185.2 191.3C186.7 192.8 195.3 198.6 192.8 198.9C190.4 199.2 165.4 194.4 160.7 194.3C155.9 194.3 149.2 198 145.4 198.2C141.5 198.3 128.4 196.2 122.4 195.9C116.4 195.6 90.7 195.2 85.7 195.1C80.6 195 72.5 196 71.9 195.1Z" fill="#0a0a0a"/>
<path d="M64.3 205C64.7 201.9 66 198.1 68.9 196.6C71.7 195.2 78.6 194.5 85.7 194.3C92.8 194.1 114.5 194.7 122.4 195.1C130.4 195.5 140.3 197.7 145.4 197.4C150.5 197.1 156.6 193.8 160.7 193.1C164.8 192.5 172.1 191.9 176 192.5C179.9 193.1 186.6 195.7 189.7 197.4C192.9 199.1 198.3 202.8 199.7 205C201.1 207.3 201.2 211.9 200.5 214.2C199.7 216.6 197.6 221.1 194.3 222.6C191.1 224.2 182.5 225.2 176 225.7C169.4 226.2 152.5 226 145.4 226.5C138.2 227 129.6 229.1 122.4 229.5C115.3 229.9 98.3 229.7 91.8 229.5C85.3 229.3 76.9 229.2 73.5 228C70 226.8 67 223.4 65.8 220.4C64.6 217.3 63.9 208.2 64.3 205Z" fill="#cfd6d5" stroke="#0a0a0a" stroke-width="2.6"/>
<g clip-path="url(#c2)">
<ellipse cx="169.1" cy="210.9" rx="14.5" ry="10.7" fill="#0c0c0c" opacity="0.95" filter="url(#b3)"/>
<ellipse cx="137.7" cy="211.9" rx="9.2" ry="6.1" fill="#0c0c0c" opacity="0.5" filter="url(#b3)"/>
<ellipse cx="169.1" cy="210.9" rx="2.1" ry="2.1" fill="#d6dcdb" filter="url(#b1)"/>
<path d="M80.3 222.6C76.2 222.2 74.4 221.1 72.8 219.5C71.2 217.9 69.6 214.2 69.6 211.9C69.6 209.7 71.2 206 72.8 204.4C74.4 202.8 76.2 201.7 80.3 201.2C84.5 200.8 94.5 201.2 100.6 201.2C106.7 201.2 116.7 200.8 120.9 201.2C125.1 201.7 126.9 202.8 128.5 204.4C130.1 206 131.6 209.7 131.6 211.9C131.6 214.2 130.1 217.9 128.5 219.5C126.9 221.1 125.1 222.2 120.9 222.6C116.7 223.1 106.7 222.6 100.6 222.6C94.5 222.6 84.5 223.1 80.3 222.6Z" fill="#0c0c0c" stroke="#0c0c0c" stroke-width="13.6" filter="url(#b5)"/>
<path d="M80.3 222.6C76.2 222.2 74.4 221.1 72.8 219.5C71.2 217.9 69.6 214.2 69.6 211.9C69.6 209.7 71.2 206 72.8 204.4C74.4 202.8 76.2 201.7 80.3 201.2C84.5 200.8 94.5 201.2 100.6 201.2C106.7 201.2 116.7 200.8 120.9 201.2C125.1 201.7 126.9 202.8 128.5 204.4C130.1 206 131.6 209.7 131.6 211.9C131.6 214.2 130.1 217.9 128.5 219.5C126.9 221.1 125.1 222.2 120.9 222.6C116.7 223.1 106.7 222.6 100.6 222.6C94.5 222.6 84.5 223.1 80.3 222.6Z" fill="#a9b0af" stroke="#fff" stroke-width="1.1"/>
<path d="M80.3 219.6C77.3 219.2 76.1 218.5 74.9 217.3C73.8 216.2 72.7 213.6 72.7 211.9C72.7 210.3 73.8 207.7 74.9 206.5C76.1 205.4 77.3 204.6 80.3 204.3C83.4 203.9 90.8 204.3 95.3 204.3C99.7 204.3 107.1 203.9 110.2 204.3C113.2 204.6 114.4 205.4 115.6 206.5C116.7 207.7 117.8 210.3 117.8 211.9C117.8 213.6 116.7 216.2 115.6 217.3C114.4 218.5 113.2 219.2 110.2 219.6C107.1 219.9 99.7 219.6 95.3 219.6C90.8 219.6 83.4 219.9 80.3 219.6Z" fill="#0c0c0c" stroke="#0c0c0c" stroke-width="8.5" filter="url(#b3)"/>
<path d="M80.3 219.6C77.3 219.2 76.1 218.5 74.9 217.3C73.8 216.2 72.7 213.6 72.7 211.9C72.7 210.3 73.8 207.7 74.9 206.5C76.1 205.4 77.3 204.6 80.3 204.3C83.4 203.9 90.8 204.3 95.3 204.3C99.7 204.3 107.1 203.9 110.2 204.3C113.2 204.6 114.4 205.4 115.6 206.5C116.7 207.7 117.8 210.3 117.8 211.9C117.8 213.6 116.7 216.2 115.6 217.3C114.4 218.5 113.2 219.2 110.2 219.6C107.1 219.9 99.7 219.6 95.3 219.6C90.8 219.6 83.4 219.9 80.3 219.6Z" fill="#a9b0af" stroke="#fff" stroke-width="1.1"/>
<path d="M80.8 217C78.4 216.8 78 216.3 77.2 215.5C76.5 214.7 75.7 213 75.7 211.9C75.7 210.9 76.5 209.1 77.2 208.4C78 207.6 78.4 207.1 80.8 206.9C83.2 206.7 89.3 206.9 93 206.9C96.6 206.9 102.8 206.7 105.1 206.9C107.5 207.1 107.9 207.6 108.7 208.4C109.5 209.1 110.2 210.9 110.2 211.9C110.2 213 109.5 214.7 108.7 215.5C107.9 216.3 107.5 216.8 105.1 217C102.8 217.2 96.6 217 93 217C89.3 217 83.2 217.2 80.8 217Z" fill="#0c0c0c" stroke="#0c0c0c" stroke-width="6.8" filter="url(#b2)"/>
<path d="M80.8 217C78.4 216.8 78 216.3 77.2 215.5C76.5 214.7 75.7 213 75.7 211.9C75.7 210.9 76.5 209.1 77.2 208.4C78 207.6 78.4 207.1 80.8 206.9C83.2 206.7 89.3 206.9 93 206.9C96.6 206.9 102.8 206.7 105.1 206.9C107.5 207.1 107.9 207.6 108.7 208.4C109.5 209.1 110.2 210.9 110.2 211.9C110.2 213 109.5 214.7 108.7 215.5C107.9 216.3 107.5 216.8 105.1 217C102.8 217.2 96.6 217 93 217C89.3 217 83.2 217.2 80.8 217Z" fill="#a9b0af" stroke="#fff" stroke-width="1.1"/>
<ellipse cx="91.8" cy="211.9" rx="14.5" ry="2.8" fill="#0c0c0c" opacity="0.95" filter="url(#b2)"/>
</g>
<path d="M104.6 104h4.1v4h-4.1zM123.4 103.6h4.1v4h-4.1zM130.8 105.1h4.1v4h-4.1zM81.8 112h4.1v4h-4.1zM77.8 115.4h4.1v4h-4.1zM105.8 118.9h4.1v4h-4.1zM115 118.9h4.1v4h-4.1zM95.9 122.7h4.1v4h-4.1zM100.5 123.5h4.1v4h-4.1zM84.4 127.3h4.1v4h-4.1zM87.5 128.1h4.1v4h-4.1zM90.5 129.6h4.1v4h-4.1zM99.7 129.6h4.1v4h-4.1zM152.8 123.9h4.1v4h-4.1zM116.5 125.8h4.1v4h-4.1zM118.8 128.8h4.1v4h-4.1zM168.9 128.4h4.1v4h-4.1zM86.7 132.7h4.1v4h-4.1zM108.1 132.4h4.1v4h-4.1zM97.7 136.9h4.1v4h-4.1zM89 140.3h4.1v4h-4.1zM105.5 139.1h4.1v4h-4.1zM99.2 143.7h4.1v4h-4.1zM81.3 144.9h4.1v4h-4.1zM85.9 147.2h4.1v4h-4.1zM142.6 144.9h4.1v4h-4.1zM136.4 146.7h4.1v4h-4.1zM133.8 149h4.1v4h-4.1zM118.5 149.2h4.1v4h-4.1zM79.8 152.2h4.1v4h-4.1zM86.7 149.5h4.1v4h-4.1zM93.9 152.2h4.1v4h-4.1zM115.8 152.6h4.1v4h-4.1zM113 154.4h4.1v4h-4.1zM123.4 154.4h4.1v4h-4.1zM102 155.6h4.1v4h-4.1zM81.3 158.7h4.1v4h-4.1zM91.3 157.9h4.1v4h-4.1zM142.6 158.7h4.1v4h-4.1zM149 159.7h4.1v4h-4.1zM171.9 160.7h4.1v4h-4.1zM83.6 161.7h4.1v4h-4.1zM157.1 166h4.1v4h-4.1zM160.9 168.6h4.1v4h-4.1zM169.6 167.9h4.1v4h-4.1zM110.4 167.9h4.1v4h-4.1zM128 168.6h4.1v4h-4.1zM140.6 168.6h4.1v4h-4.1zM74 175.5h4.1v4h-4.1zM72.9 183.9h4.1v4h-4.1zM150.2 177h4.1v4h-4.1zM148.7 180.9h4.1v4h-4.1zM182.8 174h4.1v4h-4.1zM202.2 207.9h4.1v4h-4.1z" fill="#111"/>
<rect x="63.5" y="54.3" width="132.1" height="137.7" fill="none" stroke="#0a0a0a" stroke-width="1.9"/>
<text transform="translate(187 82.2) scale(1 1.04)" font-size="28.2" text-anchor="end">2.40</text>
</g>
<rect x="391.5" y="119.4" width="270" height="278.6" fill="none" stroke="#000" stroke-width="2.6"/>
<path d="M520.2 398v4.2M533.1 398v4.2M542.3 398v4.2M549.4 398v5.4M555.2 398v4.2M560.1 398v4.2M564.4 398v4.2M568.1 398v4.2M590.8 398v4.2M602.1 398v4.2M610.2 398v4.2M616.4 398v5.4M621.5 398v4.2M625.8 398v4.2M629.5 398v4.2M632.8 398v4.2M655 398v4.2M464.5 398v4.2M468.2 398v4.2M472 398v4.2M475.7 398v4.2M479.4 398v5.4M483.2 398v4.2M486.9 398v4.2M490.6 398v4.2M494.4 398v4.2M447.3 398v4.2M443 398v4.2M438.7 398v4.2M434.4 398v4.2M430.1 398v5.4M425.7 398v4.2M421.4 398v4.2M417.1 398v4.2M412.8 398v4.2M449 398v6.2M450.5 398v6.2M452 398v6.2M453.5 398v6.2M455 398v6.2M456.5 398v6.2M458 398v6.2" stroke="#000" stroke-width="1.8" fill="none"/>
<path d="M408.5 398v8M457.5 398v8M498.1 398v8M571.5 398v8M635.7 398v8" stroke="#000" stroke-width="2.5" fill="none"/>
<path d="M391.5 265h-4.2M391.5 251.6h-4.2M391.5 242.1h-4.2M391.5 234.7h-5.4M391.5 228.7h-4.2M391.5 223.6h-4.2M391.5 219.2h-4.2M391.5 215.3h-4.2M391.5 191.8h-4.2M391.5 180.1h-4.2M391.5 171.8h-4.2M391.5 165.4h-5.4M391.5 160.1h-4.2M391.5 155.7h-4.2M391.5 151.8h-4.2M391.5 148.4h-4.2M391.5 125.4h-4.2M391.5 325.7h-4.2M391.5 321.5h-4.2M391.5 317.3h-4.2M391.5 313.1h-4.2M391.5 308.9h-5.4M391.5 304.7h-4.2M391.5 300.5h-4.2M391.5 296.3h-4.2M391.5 292.1h-4.2M391.5 343.1h-4.2M391.5 347.1h-4.2M391.5 351.1h-4.2M391.5 355.1h-4.2M391.5 359.1h-5.4M391.5 363.1h-4.2M391.5 367.2h-4.2M391.5 371.2h-4.2M391.5 375.2h-4.2M391.5 342.1h-6.2M391.5 340.6h-6.2M391.5 339.1h-6.2M391.5 337.6h-6.2M391.5 336.1h-6.2M391.5 334.6h-6.2M391.5 333.1h-6.2" stroke="#000" stroke-width="1.8" fill="none"/>
<path d="M391.5 379.2h-8M391.5 333.6h-8M391.5 287.9h-8M391.5 211.8h-8M391.5 145.4h-8" stroke="#000" stroke-width="2.5" fill="none"/>
<text x="405.9" y="421.5" font-size="8.8" class="t">-10<tspan dx="1.8" dy="-5.8">3</tspan></text>
<text x="455.7" y="421.5" font-size="8.8" class="t">0</text>
<text x="497.8" y="421.5" font-size="8.8" class="t">10<tspan dx="1.8" dy="-5.8">3</tspan></text>
<text x="571.2" y="421.5" font-size="8.8" class="t">10<tspan dx="1.8" dy="-5.8">4</tspan></text>
<text x="635.4" y="421.5" font-size="8.8" class="t">10<tspan dx="1.8" dy="-5.8">5</tspan></text>
<text x="377.5" y="382.8" font-size="8.8" text-anchor="end" class="t">-10<tspan dx="1.8" dy="-5.8">3</tspan></text>
<text x="373" y="337.2" font-size="8.8" text-anchor="end" class="t">0</text>
<text x="377.5" y="291.5" font-size="8.8" text-anchor="end" class="t">10<tspan dx="1.8" dy="-5.8">3</tspan></text>
<text x="377.5" y="215.4" font-size="8.8" text-anchor="end" class="t">10<tspan dx="1.8" dy="-5.8">4</tspan></text>
<text x="377.5" y="149" font-size="8.8" text-anchor="end" class="t">10<tspan dx="1.8" dy="-5.8">5</tspan></text>
<g transform="translate(701 120)" clip-path="url(#pc)">
<path d="M70.4 160.7C70.4 158.5 72.5 152.9 73.5 151.5C74.4 150 78.2 146.7 79.6 146.1C80.9 145.6 85.8 145.6 87.2 146.1C88.6 146.7 92.3 150.5 93.3 151.5C94.4 152.5 96.3 155.6 97.9 156.1C99.6 156.5 108.3 155.6 110.2 156.1C112 156.5 114.6 160.6 116.3 160.7C118 160.7 125.5 157.2 127 156.8C128.5 156.5 130.7 157.1 131.6 157.6C132.5 158.1 135 161.3 136.2 162.2C137.4 163.1 142.8 165.7 143.8 166.8C144.9 167.9 146.4 171.7 146.9 172.9C147.4 174.1 147.7 178.2 148.4 179C149.2 179.9 154.7 180.6 154.6 181.3C154.4 182.1 148.9 187.2 146.9 186.7C144.9 186.1 136.6 177.9 134.7 176C132.7 174.1 128.5 167.9 127 167.6C125.5 167.3 120.7 171.2 119.4 172.9C118 174.6 116 183.5 113.2 184.4C110.5 185.3 95.6 182.4 91.8 182.1C88 181.8 76.8 182.2 75 181.3C73.1 180.4 73.9 175 73.5 172.9C73 170.8 70.4 162.8 70.4 160.7Z" fill="#0a0a0a"/>
<path d="M146.9 180.6C148.7 180 161.6 180.3 165.3 181.3C168.9 182.4 181.9 190.1 183.6 191.3C185.3 192.5 183.9 193.9 182.1 193.1C180.3 192.3 168 184.7 165.3 183.6C162.5 182.6 156.3 182.5 154.6 182.9C152.8 183.2 148.4 187.2 147.7 187C146.9 186.8 145.1 181.1 146.9 180.6Z" fill="#0a0a0a"/>
<path d="M64.3 205C64.6 201.6 66.7 197.6 68.1 194.3C69.5 191.1 71.8 182.3 75 180.6C78.1 178.8 87.1 180.9 91.8 181.3C96.5 181.7 106.5 184.7 110.2 183.6C113.8 182.5 117.1 175.1 119.4 172.9C121.6 170.8 125 167.1 127 167.6C129 168 132 173.5 134.7 176C137.3 178.4 144.2 185.1 146.9 185.9C149.6 186.7 152.1 182.6 154.6 182.1C157 181.6 161.4 180.8 165.3 182.1C169.1 183.4 179.9 189.8 183.6 192C187.4 194.3 191.8 196.6 193.6 198.9C195.3 201.3 196.9 206.8 196.6 209.6C196.3 212.5 194 218.2 191.3 220.4C188.5 222.5 183.1 224.9 176 225.7C168.8 226.5 146.9 226 137.7 226.5C128.5 227 115.3 229.2 107.1 229.5C99 229.8 82 230 76.5 228.8C71 227.5 67.4 223.5 65.8 220.4C64.2 217.2 64 208.5 64.3 205Z" fill="#cfd6d5" stroke="#0a0a0a" stroke-width="2"/>
<g clip-path="url(#c3)">
<ellipse cx="130.1" cy="203.5" rx="64.3" ry="6.9" fill="#0c0c0c" opacity="0.9" filter="url(#b4)"/>
<ellipse cx="176" cy="211.9" rx="13.8" ry="9.2" fill="#0c0c0c" opacity="0.8" filter="url(#b4)"/>
<path d="M80.3 222.2C72.8 221.7 74.4 220.7 72.8 219C71.2 217.4 69.6 213.7 69.6 211.5C69.6 209.2 71.2 205.5 72.8 203.9C74.4 202.3 72.8 201.2 80.3 200.8C87.8 200.3 110.1 200.8 122.8 200.8C135.5 200.8 157.8 200.3 165.3 200.8C172.8 201.2 171.2 202.3 172.8 203.9C174.4 205.5 176 209.2 176 211.5C176 213.7 174.4 217.4 172.8 219C171.2 220.7 172.8 221.7 165.3 222.2C157.8 222.7 135.5 222.2 122.8 222.2C110.1 222.2 87.8 222.7 80.3 222.2Z" fill="#0c0c0c" stroke="#0c0c0c" stroke-width="10.2" filter="url(#b3)"/>
<path d="M80.3 222.2C72.8 221.7 74.4 220.7 72.8 219C71.2 217.4 69.6 213.7 69.6 211.5C69.6 209.2 71.2 205.5 72.8 203.9C74.4 202.3 72.8 201.2 80.3 200.8C87.8 200.3 110.1 200.8 122.8 200.8C135.5 200.8 157.8 200.3 165.3 200.8C172.8 201.2 171.2 202.3 172.8 203.9C174.4 205.5 176 209.2 176 211.5C176 213.7 174.4 217.4 172.8 219C171.2 220.7 172.8 221.7 165.3 222.2C157.8 222.7 135.5 222.2 122.8 222.2C110.1 222.2 87.8 222.7 80.3 222.2Z" fill="#a9b0af" stroke="#fff" stroke-width="1.1"/>
<path d="M80.3 220.7C75.9 220.3 75.2 219.3 73.8 218C72.5 216.6 71.2 213.4 71.2 211.5C71.2 209.5 72.5 206.4 73.8 205C75.2 203.6 75.9 202.7 80.3 202.3C84.8 201.9 96.4 202.3 103.3 202.3C110.2 202.3 121.8 201.9 126.2 202.3C130.7 202.7 131.4 203.6 132.7 205C134.1 206.4 135.4 209.5 135.4 211.5C135.4 213.4 134.1 216.6 132.7 218C131.4 219.3 130.7 220.3 126.2 220.7C121.8 221.1 110.2 220.7 103.3 220.7C96.4 220.7 84.8 221.1 80.3 220.7Z" fill="#0c0c0c" stroke="#0c0c0c" stroke-width="8.5" filter="url(#b3)"/>
<path d="M80.3 220.7C75.9 220.3 75.2 219.3 73.8 218C72.5 216.6 71.2 213.4 71.2 211.5C71.2 209.5 72.5 206.4 73.8 205C75.2 203.6 75.9 202.7 80.3 202.3C84.8 201.9 96.4 202.3 103.3 202.3C110.2 202.3 121.8 201.9 126.2 202.3C130.7 202.7 131.4 203.6 132.7 205C134.1 206.4 135.4 209.5 135.4 211.5C135.4 213.4 134.1 216.6 132.7 218C131.4 219.3 130.7 220.3 126.2 220.7C121.8 221.1 110.2 220.7 103.3 220.7C96.4 220.7 84.8 221.1 80.3 220.7Z" fill="#a9b0af" stroke="#fff" stroke-width="1.1"/>
<path d="M80.7 218.8C77.7 218.5 76.7 217.8 75.6 216.7C74.5 215.6 73.5 213.1 73.5 211.6C73.5 210 74.5 207.5 75.6 206.4C76.7 205.3 77.7 204.6 80.7 204.3C83.7 204 91.2 204.3 95.6 204.3C100.1 204.3 107.5 204 110.6 204.3C113.6 204.6 114.6 205.3 115.7 206.4C116.8 207.5 117.8 210 117.8 211.6C117.8 213.1 116.8 215.6 115.7 216.7C114.6 217.8 113.6 218.5 110.6 218.8C107.5 219.1 100.1 218.8 95.6 218.8C91.2 218.8 83.7 219.1 80.7 218.8Z" fill="#0c0c0c" stroke="#0c0c0c" stroke-width="6.8" filter="url(#b2)"/>
<path d="M80.7 218.8C77.7 218.5 76.7 217.8 75.6 216.7C74.5 215.6 73.5 213.1 73.5 211.6C73.5 210 74.5 207.5 75.6 206.4C76.7 205.3 77.7 204.6 80.7 204.3C83.7 204 91.2 204.3 95.6 204.3C100.1 204.3 107.5 204 110.6 204.3C113.6 204.6 114.6 205.3 115.7 206.4C116.8 207.5 117.8 210 117.8 211.6C117.8 213.1 116.8 215.6 115.7 216.7C114.6 217.8 113.6 218.5 110.6 218.8C107.5 219.1 100.1 218.8 95.6 218.8C91.2 218.8 83.7 219.1 80.7 218.8Z" fill="#a9b0af" stroke="#fff" stroke-width="1.1"/>
<ellipse cx="82.6" cy="211.2" rx="5.4" ry="3.4" fill="#0c0c0c" opacity="0.9" filter="url(#b2)"/>
<ellipse cx="101" cy="211.2" rx="9.9" ry="3.4" fill="#0c0c0c" opacity="0.95" filter="url(#b2)"/>
<ellipse cx="124.7" cy="211.5" rx="6.1" ry="4.3" fill="#0c0c0c" opacity="0.85" filter="url(#b3)"/>
<ellipse cx="159.1" cy="211.2" rx="11.5" ry="4" fill="#0c0c0c" opacity="0.9" filter="url(#b3)"/>
</g>
<path d="M93.3 176C94.3 175.3 105.1 173.4 107.1 172.9C109.1 172.4 112.9 170 113.2 170.6C113.5 171.2 111.7 178.1 110.2 179C108.6 180 99.6 180.1 97.9 179.8C96.3 179.5 92.4 176.7 93.3 176Z" fill="#fff"/>
<path d="M90.6 161.7C90.6 162.8 90.2 164.6 89.8 165.5C89.3 166.4 88.2 167.9 87.4 168.6C86.7 169.2 85 170 84 170.2C83.1 170.5 81.2 170.5 80.3 170.2C79.4 170 77.7 169.2 76.9 168.6C76.2 167.9 75 166.4 74.6 165.5C74.2 164.6 73.8 162.8 73.8 161.7C73.8 160.7 74.2 158.9 74.6 158C75 157 76.2 155.6 76.9 154.9C77.7 154.3 79.4 153.5 80.3 153.2C81.2 153 83.1 153 84 153.2C85 153.5 86.7 154.3 87.4 154.9C88.2 155.6 89.3 157 89.8 158C90.2 158.9 90.6 160.7 90.6 161.7Z" fill="#cfd6d5"/>
<path d="M152.5 112.8h4.1v4h-4.1zM129.9 120h4.1v4h-4.1zM76 125.8h4.1v4h-4.1zM102.8 125.8h4.1v4h-4.1zM117.3 125.8h4.1v4h-4.1zM82.9 130.4h4.1v4h-4.1zM98.9 128.4h4.1v4h-4.1zM100.8 132.7h4.1v4h-4.1zM72.9 135.7h4.1v4h-4.1zM139.5 133.7h4.1v4h-4.1zM141.8 135h4.1v4h-4.1zM105.1 141.8h4.1v4h-4.1zM112 141.8h4.1v4h-4.1zM108.1 144.9h4.1v4h-4.1zM133.4 146.7h4.1v4h-4.1zM171.6 157.9h4.1v4h-4.1zM149.9 163.3h4.1v4h-4.1zM155.6 177h4.1v4h-4.1zM176.2 182.8h4.1v4h-4.1z" fill="#111"/>
<rect x="63.5" y="54.3" width="132.1" height="137.7" fill="none" stroke="#0a0a0a" stroke-width="1.9"/>
<text transform="translate(183.9 82.2) scale(1 1.04)" font-size="28.2" text-anchor="end">5.61</text>
</g>
<rect x="701.5" y="119.4" width="270" height="278.6" fill="none" stroke="#000" stroke-width="2.6"/>
<path d="M830.2 398v4.2M843.1 398v4.2M852.3 398v4.2M859.4 398v5.4M865.2 398v4.2M870.1 398v4.2M874.4 398v4.2M878.1 398v4.2M900.8 398v4.2M912.1 398v4.2M920.2 398v4.2M926.4 398v5.4M931.5 398v4.2M935.8 398v4.2M939.5 398v4.2M942.8 398v4.2M965 398v4.2M774.5 398v4.2M778.2 398v4.2M782 398v4.2M785.7 398v4.2M789.4 398v5.4M793.2 398v4.2M796.9 398v4.2M800.6 398v4.2M804.4 398v4.2M757.3 398v4.2M753 398v4.2M748.7 398v4.2M744.4 398v4.2M740.1 398v5.4M735.7 398v4.2M731.4 398v4.2M727.1 398v4.2M722.8 398v4.2M759 398v6.2M760.5 398v6.2M762 398v6.2M763.5 398v6.2M765 398v6.2M766.5 398v6.2M768 398v6.2" stroke="#000" stroke-width="1.8" fill="none"/>
<path d="M718.5 398v8M767.5 398v8M808.1 398v8M881.5 398v8M945.7 398v8" stroke="#000" stroke-width="2.5" fill="none"/>
<path d="M701.5 265h-4.2M701.5 251.6h-4.2M701.5 242.1h-4.2M701.5 234.7h-5.4M701.5 228.7h-4.2M701.5 223.6h-4.2M701.5 219.2h-4.2M701.5 215.3h-4.2M701.5 191.8h-4.2M701.5 180.1h-4.2M701.5 171.8h-4.2M701.5 165.4h-5.4M701.5 160.1h-4.2M701.5 155.7h-4.2M701.5 151.8h-4.2M701.5 148.4h-4.2M701.5 125.4h-4.2M701.5 325.7h-4.2M701.5 321.5h-4.2M701.5 317.3h-4.2M701.5 313.1h-4.2M701.5 308.9h-5.4M701.5 304.7h-4.2M701.5 300.5h-4.2M701.5 296.3h-4.2M701.5 292.1h-4.2M701.5 343.1h-4.2M701.5 347.1h-4.2M701.5 351.1h-4.2M701.5 355.1h-4.2M701.5 359.1h-5.4M701.5 363.1h-4.2M701.5 367.2h-4.2M701.5 371.2h-4.2M701.5 375.2h-4.2M701.5 342.1h-6.2M701.5 340.6h-6.2M701.5 339.1h-6.2M701.5 337.6h-6.2M701.5 336.1h-6.2M701.5 334.6h-6.2M701.5 333.1h-6.2" stroke="#000" stroke-width="1.8" fill="none"/>
<path d="M701.5 379.2h-8M701.5 333.6h-8M701.5 287.9h-8M701.5 211.8h-8M701.5 145.4h-8" stroke="#000" stroke-width="2.5" fill="none"/>
<text x="715.9" y="421.5" font-size="8.8" class="t">-10<tspan dx="1.8" dy="-5.8">3</tspan></text>
<text x="765.7" y="421.5" font-size="8.8" class="t">0</text>
<text x="807.8" y="421.5" font-size="8.8" class="t">10<tspan dx="1.8" dy="-5.8">3</tspan></text>
<text x="881.2" y="421.5" font-size="8.8" class="t">10<tspan dx="1.8" dy="-5.8">4</tspan></text>
<text x="945.4" y="421.5" font-size="8.8" class="t">10<tspan dx="1.8" dy="-5.8">5</tspan></text>
<text x="687.5" y="382.8" font-size="8.8" text-anchor="end" class="t">-10<tspan dx="1.8" dy="-5.8">3</tspan></text>
<text x="683" y="337.2" font-size="8.8" text-anchor="end" class="t">0</text>
<text x="687.5" y="291.5" font-size="8.8" text-anchor="end" class="t">10<tspan dx="1.8" dy="-5.8">3</tspan></text>
<text x="687.5" y="215.4" font-size="8.8" text-anchor="end" class="t">10<tspan dx="1.8" dy="-5.8">4</tspan></text>
<text x="687.5" y="149" font-size="8.8" text-anchor="end" class="t">10<tspan dx="1.8" dy="-5.8">5</tspan></text>
<g transform="translate(1007 120)" clip-path="url(#pc)">
<path d="M130.1 114C130.8 112.3 140.8 115 142.3 116.3C143.8 117.6 145.3 124.9 145.4 127C145.4 129.1 142.9 135.3 143.1 137.7C143.2 140.2 146.7 148.7 146.9 151.5C147.1 154.2 144.9 162.8 145.4 165.3C145.8 167.7 151.8 174.4 151.5 176C151.2 177.5 143.7 182.9 142.3 180.6C140.9 178.3 138.5 157.8 137.7 153C137 148.3 135.4 137 134.7 133.1C133.9 129.2 129.3 115.7 130.1 114Z" fill="#0a0a0a"/>
<path d="M65.8 205C65.9 202.1 67.5 195.3 68.1 191.3C68.7 187.3 71.5 170 71.9 165.3C72.3 160.5 71.6 147.1 71.9 143.8C72.2 140.6 74.7 135.3 75 133.1C75.3 131 73.9 123.9 75 122.4C76.1 121 83.2 119.4 85.7 118.6C88.1 117.7 98.5 115.3 99.5 114C100.4 112.7 94.9 106.5 94.9 105.6C94.9 104.7 98.2 104.1 99.5 104.8C100.7 105.6 105.4 112.8 107.1 113.2C108.8 113.7 115.1 109.1 116.3 109.4C117.5 109.7 118 115.8 119.4 116.3C120.7 116.8 128.4 114 130.1 114C131.8 114 135.6 115.5 136.2 116.3C136.8 117.1 136.3 120.7 136.2 122.4C136 124.1 134.2 131.1 134.7 133.1C135.1 135.1 140.5 140.3 140.8 142.3C141.1 144.3 137.7 150.4 137.7 153C137.7 155.6 140.3 165.7 140.8 168.3C141.2 170.9 141.1 178.3 142.3 179C143.5 179.8 151 177 153 176C155 174.9 161 170 162.2 168.3C163.4 166.6 163.7 159.6 165.3 159.1C166.8 158.7 176.4 162 177.5 163.7C178.6 165.4 176.6 174 176 176C175.4 178 171.7 181.8 171.4 183.6C171.1 185.5 171.7 192.5 172.9 194.3C174.1 196.2 181.9 200.5 183.6 202C185.4 203.5 190.1 208.3 190.5 209.6C191 211 189.7 214.7 188.2 215.8C186.8 216.8 179.5 219.5 176 220.4C172.5 221.2 157.3 223.4 153 224.2C148.7 224.9 140.8 227.6 133.1 228C125.5 228.4 83.1 228.7 76.5 228C69.9 227.3 68.4 223.4 67.3 221.1C66.3 218.8 65.7 208 65.8 205Z" fill="#0a0a0a"/>
<path d="M69.6 193.1C62 190 73 172.4 73.5 166.8C73.9 161.2 73.3 149.1 73.8 145.4C74.2 141.6 76.4 137.1 77.3 134.7C78.1 132.2 79.4 126.1 81.1 124.7C82.8 123.3 89 122.6 91.8 122.4C94.7 122.2 103.1 122.5 105.6 123.2C108.1 123.9 111.5 126.8 113.2 128.5C115 130.2 119.1 135.6 120.9 137.7C122.7 139.9 127.3 144 128.5 146.9C129.8 149.8 130.9 158.6 131.6 162.2C132.3 165.8 133.9 173.9 134.7 177.5C135.5 181.1 146.1 191.3 138.5 193.1C130.9 194.9 77.2 196.2 69.6 193.1Z" fill="#cfd6d5" stroke="#0a0a0a" stroke-width="0.5"/>
<g clip-path="url(#c4)">
<ellipse cx="97.9" cy="162.2" rx="14.5" ry="26" fill="#0c0c0c" opacity="0.38" filter="url(#b6)"/>
<ellipse cx="99.5" cy="195.9" rx="35.2" ry="6.9" fill="#0c0c0c" opacity="0.7" filter="url(#b5)"/>
</g>
<path d="M67.3 193.1C73.3 192.1 132.2 192.9 138.5 193.1C144.7 193.3 141.1 195.6 142.3 195.6C143.5 195.6 150.9 193.2 153 193.1C155.2 193 166.3 193.3 168.3 194C170.4 194.8 176.3 200.6 177.5 202C178.7 203.4 183.1 209.8 182.9 211.2C182.6 212.6 176.9 217.9 174.4 218.8C172 219.8 156.5 222 153 222.6C149.6 223.3 139.5 226.2 133.1 226.5C126.8 226.8 81.9 227 76.5 226.5C71.1 226 69.4 222.1 68.6 220.4C67.7 218.6 66.5 207.3 66.4 205C66.3 202.8 61.3 194.1 67.3 193.1Z" fill="#cfd6d5" stroke="#0a0a0a" stroke-width="0.5"/>
<g clip-path="url(#c5)">
<ellipse cx="107.1" cy="197.4" rx="50.5" ry="6.1" fill="#0c0c0c" opacity="0.85" filter="url(#b4)"/>
<ellipse cx="137.7" cy="211.9" rx="10.7" ry="10.7" fill="#0c0c0c" opacity="0.85" filter="url(#b4)"/>
<ellipse cx="160.7" cy="211.9" rx="12.2" ry="6.1" fill="#0c0c0c" opacity="0.3" filter="url(#b4)"/>
<path d="M82.6 222.6C78.4 222.2 76.7 221.1 75.1 219.5C73.5 217.9 71.9 214.2 71.9 211.9C71.9 209.7 73.5 206 75.1 204.4C76.7 202.8 78.4 201.7 82.6 201.2C86.9 200.8 97.1 201.2 103.3 201.2C109.5 201.2 119.7 200.8 123.9 201.2C128.2 201.7 129.9 202.8 131.5 204.4C133.1 206 134.7 209.7 134.7 211.9C134.7 214.2 133.1 217.9 131.5 219.5C129.9 221.1 128.2 222.2 123.9 222.6C119.7 223.1 109.5 222.6 103.3 222.6C97.1 222.6 86.9 223.1 82.6 222.6Z" fill="#0c0c0c" stroke="#0c0c0c" stroke-width="11.9" filter="url(#b4)"/>
<path d="M82.6 222.6C78.4 222.2 76.7 221.1 75.1 219.5C73.5 217.9 71.9 214.2 71.9 211.9C71.9 209.7 73.5 206 75.1 204.4C76.7 202.8 78.4 201.7 82.6 201.2C86.9 200.8 97.1 201.2 103.3 201.2C109.5 201.2 119.7 200.8 123.9 201.2C128.2 201.7 129.9 202.8 131.5 204.4C133.1 206 134.7 209.7 134.7 211.9C134.7 214.2 133.1 217.9 131.5 219.5C129.9 221.1 128.2 222.2 123.9 222.6C119.7 223.1 109.5 222.6 103.3 222.6C97.1 222.6 86.9 223.1 82.6 222.6Z" fill="#a9b0af" stroke="#fff" stroke-width="1.1"/>
<path d="M82.2 219.1C78.8 218.8 78.2 218.1 77.1 217C76 215.9 75 213.5 75 211.9C75 210.4 76 207.9 77.1 206.8C78.2 205.8 78.8 205.1 82.2 204.7C85.5 204.4 94.3 204.7 99.5 204.7C104.7 204.7 113.4 204.4 116.8 204.7C120.1 205.1 120.8 205.8 121.8 206.8C122.9 207.9 123.9 210.4 123.9 211.9C123.9 213.5 122.9 215.9 121.8 217C120.8 218.1 120.1 218.8 116.8 219.1C113.4 219.4 104.7 219.1 99.5 219.1C94.3 219.1 85.5 219.4 82.2 219.1Z" fill="#0c0c0c" stroke="#0c0c0c" stroke-width="8.5" filter="url(#b3)"/>
<path d="M82.2 219.1C78.8 218.8 78.2 218.1 77.1 217C76 215.9 75 213.5 75 211.9C75 210.4 76 207.9 77.1 206.8C78.2 205.8 78.8 205.1 82.2 204.7C85.5 204.4 94.3 204.7 99.5 204.7C104.7 204.7 113.4 204.4 116.8 204.7C120.1 205.1 120.8 205.8 121.8 206.8C122.9 207.9 123.9 210.4 123.9 211.9C123.9 213.5 122.9 215.9 121.8 217C120.8 218.1 120.1 218.8 116.8 219.1C113.4 219.4 104.7 219.1 99.5 219.1C94.3 219.1 85.5 219.4 82.2 219.1Z" fill="#a9b0af" stroke="#fff" stroke-width="1.1"/>
<path d="M84.2 216.5C81.8 216.3 81.6 215.9 80.9 215.2C80.2 214.5 79.6 212.9 79.6 211.9C79.6 211 80.2 209.4 80.9 208.7C81.6 208 81.8 207.5 84.2 207.3C86.5 207.1 92.7 207.3 96.4 207.3C100.1 207.3 106.3 207.1 108.6 207.3C111 207.5 111.2 208 111.9 208.7C112.6 209.4 113.2 211 113.2 211.9C113.2 212.9 112.6 214.5 111.9 215.2C111.2 215.9 111 216.3 108.6 216.5C106.3 216.7 100.1 216.5 96.4 216.5C92.7 216.5 86.5 216.7 84.2 216.5Z" fill="#0c0c0c" stroke="#0c0c0c" stroke-width="6.8" filter="url(#b2)"/>
<path d="M84.2 216.5C81.8 216.3 81.6 215.9 80.9 215.2C80.2 214.5 79.6 212.9 79.6 211.9C79.6 211 80.2 209.4 80.9 208.7C81.6 208 81.8 207.5 84.2 207.3C86.5 207.1 92.7 207.3 96.4 207.3C100.1 207.3 106.3 207.1 108.6 207.3C111 207.5 111.2 208 111.9 208.7C112.6 209.4 113.2 211 113.2 211.9C113.2 212.9 112.6 214.5 111.9 215.2C111.2 215.9 111 216.3 108.6 216.5C106.3 216.7 100.1 216.5 96.4 216.5C92.7 216.5 86.5 216.7 84.2 216.5Z" fill="#a9b0af" stroke="#fff" stroke-width="1.1"/>
<ellipse cx="97.9" cy="211.9" rx="14.5" ry="3.1" fill="#0c0c0c" opacity="1" filter="url(#b2)"/>
</g>
<path d="M143.3 105.1h4.1v4h-4.1zM121.1 108.5h4.1v4h-4.1zM154.8 112.8h4.1v4h-4.1zM141.8 114.3h4.1v4h-4.1zM158.6 115.8h4.1v4h-4.1zM144.9 117.4h4.1v4h-4.1zM161.7 118.9h4.1v4h-4.1zM174.4 119.7h7.7v4h-7.7zM152.5 120.4h4.1v4h-4.1zM138.7 123.5h4.1v4h-4.1zM145.6 128.8h4.1v4h-4.1zM157.1 128.1h4.1v4h-4.1zM166.3 128.1h4.1v4h-4.1zM134.1 132.7h4.1v4h-4.1zM147.9 131.9h4.1v4h-4.1zM154 133.4h4.1v4h-4.1zM163.2 133.4h4.1v4h-4.1zM168.6 136.5h4.1v4h-4.1zM158.6 138h4.1v4h-4.1zM160.2 141.1h4.1v4h-4.1zM167 141.8h4.1v4h-4.1zM142.6 143.4h4.1v4h-4.1zM151 143.4h4.1v4h-4.1zM170.1 144.9h4.1v4h-4.1zM151 149.5h4.1v4h-4.1zM172.4 149.5h4.1v4h-4.1zM149.4 155.6h4.1v4h-4.1zM140.3 156.4h4.1v4h-4.1zM144.9 155.6h4.1v4h-4.1zM142.6 160.2h4.1v4h-4.1zM155.6 163.3h4.1v4h-4.1zM141.8 167.9h4.1v4h-4.1zM145.6 168.6h4.1v4h-4.1zM155.6 167.1h4.1v4h-4.1zM180 170.9h4.1v4h-4.1zM184.9 184.7h4.1v4h-4.1z" fill="#111"/>
<rect x="63.5" y="54.3" width="132.4" height="137.7" fill="none" stroke="#0a0a0a" stroke-width="1.9"/>
<text transform="translate(185.5 82.2) scale(1 1.04)" font-size="28.2" text-anchor="end">11.3</text>
</g>
<rect x="1007.5" y="119.4" width="270" height="278.6" fill="none" stroke="#000" stroke-width="2.6"/>
<path d="M1136.2 398v4.2M1149.1 398v4.2M1158.3 398v4.2M1165.4 398v5.4M1171.2 398v4.2M1176.1 398v4.2M1180.4 398v4.2M1184.1 398v4.2M1206.8 398v4.2M1218.1 398v4.2M1226.2 398v4.2M1232.4 398v5.4M1237.5 398v4.2M1241.8 398v4.2M1245.5 398v4.2M1248.8 398v4.2M1271 398v4.2M1080.5 398v4.2M1084.2 398v4.2M1088 398v4.2M1091.7 398v4.2M1095.4 398v5.4M1099.2 398v4.2M1102.9 398v4.2M1106.6 398v4.2M1110.4 398v4.2M1063.3 398v4.2M1059 398v4.2M1054.7 398v4.2M1050.4 398v4.2M1046.1 398v5.4M1041.7 398v4.2M1037.4 398v4.2M1033.1 398v4.2M1028.8 398v4.2M1065 398v6.2M1066.5 398v6.2M1068 398v6.2M1069.5 398v6.2M1071 398v6.2M1072.5 398v6.2M1074 398v6.2" stroke="#000" stroke-width="1.8" fill="none"/>
<path d="M1024.5 398v8M1073.5 398v8M1114.1 398v8M1187.5 398v8M1251.7 398v8" stroke="#000" stroke-width="2.5" fill="none"/>
<path d="M1007.5 265h-4.2M1007.5 251.6h-4.2M1007.5 242.1h-4.2M1007.5 234.7h-5.4M1007.5 228.7h-4.2M1007.5 223.6h-4.2M1007.5 219.2h-4.2M1007.5 215.3h-4.2M1007.5 191.8h-4.2M1007.5 180.1h-4.2M1007.5 171.8h-4.2M1007.5 165.4h-5.4M1007.5 160.1h-4.2M1007.5 155.7h-4.2M1007.5 151.8h-4.2M1007.5 148.4h-4.2M1007.5 125.4h-4.2M1007.5 325.7h-4.2M1007.5 321.5h-4.2M1007.5 317.3h-4.2M1007.5 313.1h-4.2M1007.5 308.9h-5.4M1007.5 304.7h-4.2M1007.5 300.5h-4.2M1007.5 296.3h-4.2M1007.5 292.1h-4.2M1007.5 343.1h-4.2M1007.5 347.1h-4.2M1007.5 351.1h-4.2M1007.5 355.1h-4.2M1007.5 359.1h-5.4M1007.5 363.1h-4.2M1007.5 367.2h-4.2M1007.5 371.2h-4.2M1007.5 375.2h-4.2M1007.5 342.1h-6.2M1007.5 340.6h-6.2M1007.5 339.1h-6.2M1007.5 337.6h-6.2M1007.5 336.1h-6.2M1007.5 334.6h-6.2M1007.5 333.1h-6.2" stroke="#000" stroke-width="1.8" fill="none"/>
<path d="M1007.5 379.2h-8M1007.5 333.6h-8M1007.5 287.9h-8M1007.5 211.8h-8M1007.5 145.4h-8" stroke="#000" stroke-width="2.5" fill="none"/>
<text x="1021.9" y="421.5" font-size="8.8" class="t">-10<tspan dx="1.8" dy="-5.8">3</tspan></text>
<text x="1071.7" y="421.5" font-size="8.8" class="t">0</text>
<text x="1113.8" y="421.5" font-size="8.8" class="t">10<tspan dx="1.8" dy="-5.8">3</tspan></text>
<text x="1187.2" y="421.5" font-size="8.8" class="t">10<tspan dx="1.8" dy="-5.8">4</tspan></text>
<text x="1251.4" y="421.5" font-size="8.8" class="t">10<tspan dx="1.8" dy="-5.8">5</tspan></text>
<text x="993.5" y="382.8" font-size="8.8" text-anchor="end" class="t">-10<tspan dx="1.8" dy="-5.8">3</tspan></text>
<text x="989" y="337.2" font-size="8.8" text-anchor="end" class="t">0</text>
<text x="993.5" y="291.5" font-size="8.8" text-anchor="end" class="t">10<tspan dx="1.8" dy="-5.8">3</tspan></text>
<text x="993.5" y="215.4" font-size="8.8" text-anchor="end" class="t">10<tspan dx="1.8" dy="-5.8">4</tspan></text>
<text x="993.5" y="149" font-size="8.8" text-anchor="end" class="t">10<tspan dx="1.8" dy="-5.8">5</tspan></text>
<g transform="translate(1315 120)" clip-path="url(#pc)">
<path d="M75 151.5C74.8 149.7 77 140 78 138.5C79.1 137 84.3 136.2 85.7 136.2C87.1 136.2 90.6 138.6 91.8 138.5C93 138.3 97.3 136.4 97.9 134.7C98.5 132.9 97 122.5 97.9 120.9C98.9 119.3 105 119.1 107.1 118.6C109.3 118.1 117.4 116.4 119.4 116.3C121.3 116.2 125.9 118.1 127 117.8C128.1 117.5 128.7 113.7 130.1 113.2C131.4 112.8 139.1 112.8 140.8 113.2C142.5 113.7 145.4 117.1 146.9 117.8C148.4 118.6 154.7 120.3 156.1 120.9C157.5 121.5 160.5 122.7 160.7 123.9C160.8 125.2 158.2 131.8 157.6 133.1C157 134.5 155.6 136.8 154.6 137.7C153.5 138.6 148.6 140.8 146.9 142.3C145.2 143.8 139.2 152.8 137.7 153C136.2 153.3 133.1 145.4 131.6 144.6C130.1 143.8 124.3 144.9 122.4 144.6C120.6 144.3 114.9 142.5 113.2 141.5C111.6 140.6 106.5 135.3 105.6 135.4C104.7 135.6 105.1 141.4 104.1 143.1C103 144.8 96.7 150.6 94.9 152.3C93 153.9 87.2 159.5 85.7 159.9C84.2 160.3 80.6 156.9 79.6 156.1C78.5 155.2 75.1 153.3 75 151.5Z" fill="#0a0a0a"/>
<path d="M139.2 146.9C140.2 145.8 144.9 143.2 146.9 142.3C148.9 141.4 157.2 137.9 159.1 137.7C161.1 137.6 165.9 140.2 166.8 140.8C167.7 141.4 167.3 143.7 168.3 143.8C169.4 144 176 142 177.5 142.3C179 142.6 183.2 146 183.6 146.9C184.1 147.8 183.5 150.9 182.1 151.5C180.7 152.1 171.2 151.9 169.9 153C168.5 154.1 168.8 160.7 168.3 162.2C167.9 163.7 166.1 166.6 165.3 168.3C164.4 170.1 161.1 179.6 159.9 179.8C158.7 180 154.6 172.1 153 170.6C151.4 169.1 145.4 166.3 143.8 164.5C142.3 162.7 138.2 154.8 137.7 153C137.3 151.3 138.3 148 139.2 146.9Z" fill="#0a0a0a"/>
<path d="M66.6 208.1C66.8 204.4 68.7 198.6 69.6 194.3C70.5 190.1 72.5 180.3 73.5 176C74.4 171.7 74.9 164.4 76.5 162.2C78.1 160 83.2 160.6 85.7 159.1C88.1 157.7 92.4 153.7 94.9 151.5C97.3 149.2 102.6 144.6 104.1 142.3C105.5 140.1 104.4 134.9 105.6 134.7C106.8 134.5 111 139.6 113.2 140.8C115.5 142 120 143.4 122.4 143.8C124.9 144.2 129.6 142.6 131.6 143.8C133.6 145.1 136.1 150.4 137.7 153C139.4 155.7 141.8 161.5 143.8 163.7C145.9 166 151 167.8 153 169.9C155.1 171.9 157.9 176.6 159.1 179C160.4 181.5 161 186.4 162.2 188.2C163.4 190.1 165.7 192 168.3 192.8C171 193.6 179.2 193.1 182.1 194.3C185 195.6 188.6 199.5 189.7 202C190.9 204.4 191.3 210 190.5 212.7C189.7 215.4 186.6 220.1 183.6 221.9C180.7 223.6 176.5 225 168.3 225.7C160.2 226.4 134.7 226.9 122.4 227.2C110.2 227.5 83.8 228.7 76.5 228C69.3 227.3 69.4 224.5 68.1 221.9C66.8 219.2 66.4 211.8 66.6 208.1Z" fill="#cfd6d5" stroke="#0a0a0a" stroke-width="2.2"/>
<g clip-path="url(#c6)">
<ellipse cx="119.4" cy="177.5" rx="30.6" ry="9.2" fill="#0c0c0c" opacity="0.15" filter="url(#b5)"/>
<ellipse cx="116.3" cy="199.7" rx="50.5" ry="4.9" fill="#0c0c0c" opacity="0.9" filter="url(#b4)"/>
<ellipse cx="157.6" cy="211.9" rx="15.3" ry="10.7" fill="#0c0c0c" opacity="0.9" filter="url(#b5)"/>
<path d="M154.6 211.9C154.6 213.3 152.8 215.2 150.5 216.4C148.1 217.7 143.2 219.2 139 220.1C134.8 220.9 127.7 221.8 122.4 222.1C117.2 222.4 109.3 222.4 104 222.1C98.8 221.8 91.7 220.9 87.5 220.1C83.3 219.2 78.3 217.7 76 216.4C73.7 215.2 71.9 213.3 71.9 211.9C71.9 210.6 73.7 208.6 76 207.4C78.3 206.2 83.3 204.6 87.5 203.8C91.7 203 98.8 202.1 104 201.8C109.3 201.5 117.2 201.5 122.4 201.8C127.7 202.1 134.8 203 139 203.8C143.2 204.6 148.1 206.2 150.5 207.4C152.8 208.6 154.6 210.6 154.6 211.9Z" fill="#0c0c0c" stroke="#0c0c0c" stroke-width="10.2" filter="url(#b3)"/>
<path d="M154.6 211.9C154.6 213.3 152.8 215.2 150.5 216.4C148.1 217.7 143.2 219.2 139 220.1C134.8 220.9 127.7 221.8 122.4 222.1C117.2 222.4 109.3 222.4 104 222.1C98.8 221.8 91.7 220.9 87.5 220.1C83.3 219.2 78.3 217.7 76 216.4C73.7 215.2 71.9 213.3 71.9 211.9C71.9 210.6 73.7 208.6 76 207.4C78.3 206.2 83.3 204.6 87.5 203.8C91.7 203 98.8 202.1 104 201.8C109.3 201.5 117.2 201.5 122.4 201.8C127.7 202.1 134.8 203 139 203.8C143.2 204.6 148.1 206.2 150.5 207.4C152.8 208.6 154.6 210.6 154.6 211.9Z" fill="#a9b0af" stroke="#fff" stroke-width="1.1"/>
<path d="M147.7 211.9C147.7 212.9 146.2 214.3 144.2 215.1C142.2 216 138 217.1 134.4 217.7C130.8 218.3 124.8 218.9 120.3 219.1C115.8 219.3 109.1 219.3 104.6 219.1C100.2 218.9 94.1 218.3 90.5 217.7C86.9 217.1 82.7 216 80.8 215.1C78.8 214.3 77.3 212.9 77.3 211.9C77.3 211 78.8 209.6 80.8 208.7C82.7 207.9 86.9 206.8 90.5 206.2C94.1 205.6 100.2 205 104.6 204.8C109.1 204.6 115.8 204.6 120.3 204.8C124.8 205 130.8 205.6 134.4 206.2C138 206.8 142.2 207.9 144.2 208.7C146.2 209.6 147.7 211 147.7 211.9Z" fill="#0c0c0c" stroke="#0c0c0c" stroke-width="8.5" filter="url(#b3)"/>
<path d="M147.7 211.9C147.7 212.9 146.2 214.3 144.2 215.1C142.2 216 138 217.1 134.4 217.7C130.8 218.3 124.8 218.9 120.3 219.1C115.8 219.3 109.1 219.3 104.6 219.1C100.2 218.9 94.1 218.3 90.5 217.7C86.9 217.1 82.7 216 80.8 215.1C78.8 214.3 77.3 212.9 77.3 211.9C77.3 211 78.8 209.6 80.8 208.7C82.7 207.9 86.9 206.8 90.5 206.2C94.1 205.6 100.2 205 104.6 204.8C109.1 204.6 115.8 204.6 120.3 204.8C124.8 205 130.8 205.6 134.4 206.2C138 206.8 142.2 207.9 144.2 208.7C146.2 209.6 147.7 211 147.7 211.9Z" fill="#a9b0af" stroke="#fff" stroke-width="1.1"/>
<path d="M131.6 211.9C131.6 212.5 130.8 213.4 129.8 213.9C128.7 214.5 126.6 215.2 124.7 215.5C122.8 215.9 119.7 216.3 117.3 216.4C115 216.5 111.5 216.5 109.1 216.4C106.8 216.3 103.7 215.9 101.8 215.5C99.9 215.2 97.7 214.5 96.7 213.9C95.7 213.4 94.9 212.5 94.9 211.9C94.9 211.3 95.7 210.5 96.7 209.9C97.7 209.4 99.9 208.7 101.8 208.3C103.7 208 106.8 207.6 109.1 207.5C111.5 207.3 115 207.3 117.3 207.5C119.7 207.6 122.8 208 124.7 208.3C126.6 208.7 128.7 209.4 129.8 209.9C130.8 210.5 131.6 211.3 131.6 211.9Z" fill="#0c0c0c" stroke="#0c0c0c" stroke-width="6.8" filter="url(#b2)"/>
<path d="M131.6 211.9C131.6 212.5 130.8 213.4 129.8 213.9C128.7 214.5 126.6 215.2 124.7 215.5C122.8 215.9 119.7 216.3 117.3 216.4C115 216.5 111.5 216.5 109.1 216.4C106.8 216.3 103.7 215.9 101.8 215.5C99.9 215.2 97.7 214.5 96.7 213.9C95.7 213.4 94.9 212.5 94.9 211.9C94.9 211.3 95.7 210.5 96.7 209.9C97.7 209.4 99.9 208.7 101.8 208.3C103.7 208 106.8 207.6 109.1 207.5C111.5 207.3 115 207.3 117.3 207.5C119.7 207.6 122.8 208 124.7 208.3C126.6 208.7 128.7 209.4 129.8 209.9C130.8 210.5 131.6 211.3 131.6 211.9Z" fill="#a9b0af" stroke="#fff" stroke-width="1.1"/>
<ellipse cx="113.2" cy="211.9" rx="14.5" ry="2.6" fill="#0c0c0c" opacity="0.95" filter="url(#b2)"/>
</g>
<path d="M114.8 131.6C115.6 130.8 121.2 129.3 122.4 128.5C123.6 127.8 126.2 123.8 127 123.9C127.8 124.1 130.1 128.8 130.1 130.1C130.1 131.3 128.1 135.3 127 136.2C125.9 137 120.7 138.5 119.4 138.5C118.1 138.5 114.5 136.9 114 136.2C113.5 135.5 113.9 132.4 114.8 131.6Z" fill="#fff"/>
<path d="M140 146.9C140.2 145.9 145.8 142.8 146.9 142.6C148 142.5 151.6 144.3 151.5 145.4C151.3 146.4 146.5 152.9 145.4 153C144.2 153.2 139.9 147.9 140 146.9Z" fill="#fff"/>
<path d="M150 130.1C150 130.7 149.7 131.7 149.4 132.3C149.2 132.8 148.4 133.7 147.9 134C147.5 134.4 146.4 134.9 145.8 135C145.2 135.1 144 135.1 143.4 135C142.8 134.9 141.7 134.4 141.3 134C140.8 133.7 140 132.8 139.8 132.3C139.5 131.7 139.2 130.7 139.2 130.1C139.2 129.5 139.5 128.4 139.8 127.9C140 127.4 140.8 126.5 141.3 126.1C141.7 125.8 142.8 125.3 143.4 125.1C144 125 145.2 125 145.8 125.1C146.4 125.3 147.5 125.8 147.9 126.1C148.4 126.5 149.2 127.4 149.4 127.9C149.7 128.4 150 129.5 150 130.1Z" fill="#cfd6d5"/>
<path d="M159 157.6C159 158.2 158.8 159.2 158.6 159.7C158.4 160.2 157.8 161.1 157.4 161.4C157.1 161.8 156.2 162.3 155.8 162.4C155.3 162.5 154.4 162.5 153.9 162.4C153.5 162.3 152.7 161.8 152.3 161.4C151.9 161.1 151.3 160.2 151.1 159.7C150.9 159.2 150.7 158.2 150.7 157.6C150.7 157 150.9 156 151.1 155.5C151.3 155 151.9 154.1 152.3 153.8C152.7 153.4 153.5 153 153.9 152.8C154.4 152.7 155.3 152.7 155.8 152.8C156.2 153 157.1 153.4 157.4 153.8C157.8 154.1 158.4 155 158.6 155.5C158.8 156 159 157 159 157.6Z" fill="#cfd6d5"/>
<path d="M85.9 87.2h4.1v4h-4.1zM78.3 93.3h4.1v4h-4.1zM113.9 100.8h4.1v4h-4.1zM99.7 103.6h4.1v4h-4.1zM125.7 105.1h4.1v4h-4.1zM102 108.2h4.1v4h-4.1zM75.7 111.7h7.7v4h-7.7zM89.8 109.7h4.1v4h-4.1zM85.9 112.8h4.1v4h-4.1zM93.6 112.8h4.1v4h-4.1zM157.1 114.3h4.1v4h-4.1zM87.5 126.5h4.1v4h-4.1zM85.2 129.6h4.1v4h-4.1zM164.7 128.1h4.1v4h-4.1zM180 131.9h4.1v4h-4.1zM165.5 136.5h4.1v4h-4.1zM144.1 141.1h4.1v4h-4.1zM169.3 161h4.1v4h-4.1zM164.7 168.6h4.1v4h-4.1zM175.5 170.1h4.1v4h-4.1zM179.3 173.2h4.1v4h-4.1zM164.5 181.6h7.7v4h-7.7zM194.9 210.7h4.1v4h-4.1z" fill="#111"/>
<rect x="64" y="54.3" width="132.2" height="137.7" fill="none" stroke="#0a0a0a" stroke-width="1.9"/>
<text transform="translate(187.3 82.2) scale(1 1.04)" font-size="28.2" text-anchor="end">7.75</text>
</g>
<rect x="1315.5" y="119.4" width="270" height="278.6" fill="none" stroke="#000" stroke-width="2.6"/>
<path d="M1444.2 398v4.2M1457.1 398v4.2M1466.3 398v4.2M1473.4 398v5.4M1479.2 398v4.2M1484.1 398v4.2M1488.4 398v4.2M1492.1 398v4.2M1514.8 398v4.2M1526.1 398v4.2M1534.2 398v4.2M1540.4 398v5.4M1545.5 398v4.2M1549.8 398v4.2M1553.5 398v4.2M1556.8 398v4.2M1579 398v4.2M1388.5 398v4.2M1392.2 398v4.2M1396 398v4.2M1399.7 398v4.2M1403.4 398v5.4M1407.2 398v4.2M1410.9 398v4.2M1414.6 398v4.2M1418.4 398v4.2M1371.3 398v4.2M1367 398v4.2M1362.7 398v4.2M1358.4 398v4.2M1354.1 398v5.4M1349.7 398v4.2M1345.4 398v4.2M1341.1 398v4.2M1336.8 398v4.2M1373 398v6.2M1374.5 398v6.2M1376 398v6.2M1377.5 398v6.2M1379 398v6.2M1380.5 398v6.2M1382 398v6.2" stroke="#000" stroke-width="1.8" fill="none"/>
<path d="M1332.5 398v8M1381.5 398v8M1422.1 398v8M1495.5 398v8M1559.7 398v8" stroke="#000" stroke-width="2.5" fill="none"/>
<path d="M1315.5 265h-4.2M1315.5 251.6h-4.2M1315.5 242.1h-4.2M1315.5 234.7h-5.4M1315.5 228.7h-4.2M1315.5 223.6h-4.2M1315.5 219.2h-4.2M1315.5 215.3h-4.2M1315.5 191.8h-4.2M1315.5 180.1h-4.2M1315.5 171.8h-4.2M1315.5 165.4h-5.4M1315.5 160.1h-4.2M1315.5 155.7h-4.2M1315.5 151.8h-4.2M1315.5 148.4h-4.2M1315.5 125.4h-4.2M1315.5 325.7h-4.2M1315.5 321.5h-4.2M1315.5 317.3h-4.2M1315.5 313.1h-4.2M1315.5 308.9h-5.4M1315.5 304.7h-4.2M1315.5 300.5h-4.2M1315.5 296.3h-4.2M1315.5 292.1h-4.2M1315.5 343.1h-4.2M1315.5 347.1h-4.2M1315.5 351.1h-4.2M1315.5 355.1h-4.2M1315.5 359.1h-5.4M1315.5 363.1h-4.2M1315.5 367.2h-4.2M1315.5 371.2h-4.2M1315.5 375.2h-4.2M1315.5 342.1h-6.2M1315.5 340.6h-6.2M1315.5 339.1h-6.2M1315.5 337.6h-6.2M1315.5 336.1h-6.2M1315.5 334.6h-6.2M1315.5 333.1h-6.2" stroke="#000" stroke-width="1.8" fill="none"/>
<path d="M1315.5 379.2h-8M1315.5 333.6h-8M1315.5 287.9h-8M1315.5 211.8h-8M1315.5 145.4h-8" stroke="#000" stroke-width="2.5" fill="none"/>
<text x="1329.9" y="421.5" font-size="8.8" class="t">-10<tspan dx="1.8" dy="-5.8">3</tspan></text>
<text x="1379.7" y="421.5" font-size="8.8" class="t">0</text>
<text x="1421.8" y="421.5" font-size="8.8" class="t">10<tspan dx="1.8" dy="-5.8">3</tspan></text>
<text x="1495.2" y="421.5" font-size="8.8" class="t">10<tspan dx="1.8" dy="-5.8">4</tspan></text>
<text x="1559.4" y="421.5" font-size="8.8" class="t">10<tspan dx="1.8" dy="-5.8">5</tspan></text>
<text x="1301.5" y="382.8" font-size="8.8" text-anchor="end" class="t">-10<tspan dx="1.8" dy="-5.8">3</tspan></text>
<text x="1297" y="337.2" font-size="8.8" text-anchor="end" class="t">0</text>
<text x="1301.5" y="291.5" font-size="8.8" text-anchor="end" class="t">10<tspan dx="1.8" dy="-5.8">3</tspan></text>
<text x="1301.5" y="215.4" font-size="8.8" text-anchor="end" class="t">10<tspan dx="1.8" dy="-5.8">4</tspan></text>
<text x="1301.5" y="149" font-size="8.8" text-anchor="end" class="t">10<tspan dx="1.8" dy="-5.8">5</tspan></text>
<text font-weight="bold" transform="translate(-3.7 513.5) scale(1 1.04)" font-size="29.6" stroke-width="0">b</text>
<text transform="translate(77.8 516.6) scale(1 1.04)" font-size="28.8">Gated on CD3<tspan font-size="16.5" dy="-10.5">&#8211;</tspan><tspan dy="10.5" font-size="1">&#8203;</tspan>CD56<tspan font-size="16.5" dy="-10.5">+</tspan><tspan dy="10.5" font-size="1">&#8203;</tspan></text>
<line x1="84.2" y1="530.5" x2="1583" y2="530.5" stroke="#000" stroke-width="2.2" stroke-dasharray="11 10.45" stroke-dashoffset="5.4"/>
<text transform="translate(79.2 573.2) scale(1 1.04)" font-size="28.8">FMO</text>
<text transform="translate(395.5 573.2) scale(1 1.04)" font-size="28.8">HC Unstimulated</text>
<text transform="translate(697.3 573.2) scale(1 1.04)" font-size="28.8">JSLE Unstimulated</text>
<text transform="translate(1008 573.2) scale(1 1.04)" font-size="28.8">HC IL-2+IL15</text>
<text transform="translate(1313.2 573.2) scale(1 1.04)" font-size="28.8">JSLE IL-2+IL-5</text>
<text transform="translate(43.1 863.3) rotate(-90) scale(1 1.04)" font-size="28.8">NKg2D</text>
<line x1="39.5" y1="755.4" x2="39.5" y2="593.8" stroke="#000" stroke-width="2"/>
<path d="M39.5 583.8l-7.2 18.5q7.2 -4.5 14.4 0z" fill="#000"/>
<text transform="translate(89 908.8) scale(1 1.04)" font-size="28.8">CD56</text>
<line x1="172" y1="900" x2="1576" y2="900" stroke="#000" stroke-width="2"/>
<path d="M1586 900l-18.5 -7.2q4.5 7.2 0 14.4z" fill="#000"/>
<text transform="translate(1596 902) scale(1 1.04)" font-size="28.8">IL-2+IL-15</text>
<g transform="translate(82 582)" clip-path="url(#pc)">
<path d="M91.8 235.7C92.4 234.4 101.9 227.1 104.1 226.5C106.2 225.9 112 228.2 113.2 229.5C114.5 230.9 116 238.1 116.3 240.2C116.6 242.4 116.9 249.7 116.3 251C115.7 252.2 111.4 253.1 110.2 252.5C109 251.9 105.3 246.2 104.1 244.8C102.8 243.5 99.2 239.6 97.9 238.7C96.7 237.8 91.2 236.9 91.8 235.7Z" fill="#0a0a0a"/>
<path d="M157.6 251C157.6 249.6 159.1 244.5 160.7 243.3C162.2 242.1 171.1 238.9 172.9 238.7C174.7 238.6 178.6 240.4 179 241.8C179.5 243.2 178.3 251 177.5 252.5C176.7 254 173.1 256.6 171.4 257.1C169.7 257.5 162 257.7 160.7 257.1C159.3 256.5 157.6 252.3 157.6 251Z" fill="#0a0a0a"/>
<path d="M143.8 229.5C145.4 227.7 151.5 216.5 153 216.5C154.6 216.5 157.2 228.1 159.1 229.5C161.1 231 173.5 230.6 172.9 231.1C172.3 231.5 156.5 233.7 153 234.1C149.5 234.5 138.6 235.3 137.7 234.9C136.8 234.4 142.3 231.4 143.8 229.5Z" fill="#0a0a0a"/>
<path d="M159.1 274.7C159.8 274.1 164.3 272 165.3 272.4C166.2 272.7 168.9 277.5 168.3 278C167.7 278.6 160.1 278.4 159.1 278C158.2 277.7 158.5 275.2 159.1 274.7Z" fill="#0a0a0a"/>
<path d="M74.2 169.5C75.9 169.2 88.6 169.2 90.3 169.5C91.9 169.9 92.2 172.3 90.6 172.6C89 172.9 75.5 172.9 73.9 172.6C72.3 172.3 72.6 169.9 74.2 169.5Z" fill="#0a0a0a"/>
<path d="M63.5 198.9C63.3 194 63.4 185.5 64.3 182.1C65.2 178.7 66.7 175 70.4 173.7C74.1 172.4 85.7 172 91.8 172.1C97.9 172.3 110.2 173.6 116.3 174.4C122.4 175.3 131.8 177.8 137.7 178.3C143.6 178.8 155.6 178.6 160.7 178.3C165.8 178 172.3 175.9 176 176C179.6 176.1 185.4 177 188.2 179C191.1 181.1 195.8 188 197.4 191.3C199 194.5 200.5 200.5 200.5 203.5C200.5 206.6 199.2 211.8 197.4 214.2C195.6 216.7 189.9 219.8 186.7 221.9C183.4 223.9 177.4 228.3 172.9 229.5C168.4 230.8 157.7 230.6 153 231.1C148.3 231.6 141.8 233.6 137.7 233.4C133.6 233.2 126.5 230.7 122.4 229.5C118.3 228.4 110.8 224.9 107.1 224.9C103.4 224.9 97.7 227.5 94.9 229.5C92 231.6 88.1 238.6 85.7 240.2C83.2 241.9 78.8 242.6 76.5 241.8C74.3 241 70.3 237.2 68.9 234.1C67.4 231.1 66.5 223.5 65.8 218.8C65.1 214.1 63.7 203.8 63.5 198.9Z" fill="#cfd6d5" stroke="#0a0a0a" stroke-width="1.8"/>
<g clip-path="url(#c7)">
<ellipse cx="169.9" cy="201.2" rx="19.9" ry="15.3" fill="#0c0c0c" opacity="0.95" filter="url(#b4)"/>
<ellipse cx="168.3" cy="201.7" rx="8" ry="4.3" fill="#d6dcdb" filter="url(#b1)"/>
<path d="M67.3 198.9C67.4 195.5 67.5 189.4 68.9 186.7C70.2 183.9 72.1 181.3 76.5 180.6C80.9 179.9 91 181.3 97.9 182.1C104.8 182.9 116 184.8 122.4 185.9C128.8 187.1 136.6 187.8 140.8 189.7C144.9 191.7 149.3 195.9 150 198.9C150.6 201.9 148.1 207.3 145.4 209.6C142.6 211.9 137.3 213.1 131.6 214.2C125.9 215.4 114 216.1 107.1 217.3C100.2 218.4 90.7 221.7 85.7 221.9C80.6 222.1 76.1 220.7 73.5 218.8C70.8 217 69 212.6 68.1 209.6C67.2 206.7 67.2 202.4 67.3 198.9Z" fill="#0c0c0c" stroke="#0c0c0c" stroke-width="11.9" filter="url(#b4)"/>
<path d="M67.3 198.9C67.4 195.5 67.5 189.4 68.9 186.7C70.2 183.9 72.1 181.3 76.5 180.6C80.9 179.9 91 181.3 97.9 182.1C104.8 182.9 116 184.8 122.4 185.9C128.8 187.1 136.6 187.8 140.8 189.7C144.9 191.7 149.3 195.9 150 198.9C150.6 201.9 148.1 207.3 145.4 209.6C142.6 211.9 137.3 213.1 131.6 214.2C125.9 215.4 114 216.1 107.1 217.3C100.2 218.4 90.7 221.7 85.7 221.9C80.6 222.1 76.1 220.7 73.5 218.8C70.8 217 69 212.6 68.1 209.6C67.2 206.7 67.2 202.4 67.3 198.9Z" fill="#cfd6d5" stroke="#fff" stroke-width="1.1"/>
<path d="M69.6 198.9C69.8 196.3 69.7 191 71.2 189C72.6 186.9 75.3 185.4 79.6 185.2C83.8 184.9 93 186.5 99.5 187.5C105.9 188.4 117.1 190.2 122.4 191.3C127.7 192.3 132.4 193 134.7 194.3C137 195.7 137.9 198.6 137.7 200.5C137.5 202.3 136.3 205.3 133.1 206.6C129.9 207.8 121.6 208.1 116.3 208.9C111 209.7 103 210.9 97.9 211.9C92.9 213 86.3 215.6 82.6 215.8C79 215.9 75.3 214.1 73.5 212.7C71.6 211.3 70.7 208.6 70.1 206.6C69.5 204.5 69.5 201.6 69.6 198.9Z" fill="#0c0c0c" stroke="#0c0c0c" stroke-width="8.5" filter="url(#b3)"/>
<path d="M69.6 198.9C69.8 196.3 69.7 191 71.2 189C72.6 186.9 75.3 185.4 79.6 185.2C83.8 184.9 93 186.5 99.5 187.5C105.9 188.4 117.1 190.2 122.4 191.3C127.7 192.3 132.4 193 134.7 194.3C137 195.7 137.9 198.6 137.7 200.5C137.5 202.3 136.3 205.3 133.1 206.6C129.9 207.8 121.6 208.1 116.3 208.9C111 209.7 103 210.9 97.9 211.9C92.9 213 86.3 215.6 82.6 215.8C79 215.9 75.3 214.1 73.5 212.7C71.6 211.3 70.7 208.6 70.1 206.6C69.5 204.5 69.5 201.6 69.6 198.9Z" fill="#cfd6d5" stroke="#fff" stroke-width="1.1"/>
<path d="M71.6 198.9C71.7 196.7 72 192.8 73.5 191.3C74.9 189.8 78.3 188.9 81.1 189C83.9 189.1 89.1 190.7 91.8 192C94.6 193.4 98.5 196.2 99.5 198.2C100.4 200.1 99.5 203.4 97.9 205C96.3 206.7 91.7 208.1 88.8 208.9C85.8 209.7 80.5 210.9 78 210.4C75.6 209.9 73.6 207.5 72.7 205.8C71.7 204.1 71.5 201.1 71.6 198.9Z" fill="#0c0c0c" stroke="#0c0c0c" stroke-width="6.8" filter="url(#b2)"/>
<path d="M71.6 198.9C71.7 196.7 72 192.8 73.5 191.3C74.9 189.8 78.3 188.9 81.1 189C83.9 189.1 89.1 190.7 91.8 192C94.6 193.4 98.5 196.2 99.5 198.2C100.4 200.1 99.5 203.4 97.9 205C96.3 206.7 91.7 208.1 88.8 208.9C85.8 209.7 80.5 210.9 78 210.4C75.6 209.9 73.6 207.5 72.7 205.8C71.7 204.1 71.5 201.1 71.6 198.9Z" fill="#cfd6d5" stroke="#fff" stroke-width="1.1"/>
<ellipse cx="79.6" cy="198.9" rx="7.3" ry="8.4" fill="#0c0c0c" opacity="0.97" filter="url(#b2)"/>
<ellipse cx="111.7" cy="200.5" rx="13" ry="4.9" fill="#0c0c0c" opacity="0.8" filter="url(#b3)"/>
</g>
<path d="M80.9 152.9h4.1v4h-4.1zM195 226h4.1v4h-4.1zM172.9 231.4h4.1v4h-4.1zM123.4 235.9h4.1v4h-4.1zM108.9 258.1h4.1v4h-4.1zM157.1 258.1h4.1v4h-4.1zM110.4 272.7h4.1v4h-4.1zM152.8 270.1h4.1v4h-4.1z" fill="#111"/>
<rect x="48.7" y="33.4" width="163.7" height="132.2" fill="none" stroke="#0a0a0a" stroke-width="1.9"/>
<text transform="translate(203.5 58.6) scale(1 1.04)" font-size="28.2" text-anchor="end">0.12</text>
</g>
<rect x="82.8" y="582.1" width="270" height="278.6" fill="none" stroke="#000" stroke-width="2.6"/>
<path d="M211.5 860.7v4.2M224.4 860.7v4.2M233.6 860.7v4.2M240.7 860.7v5.4M246.5 860.7v4.2M251.4 860.7v4.2M255.7 860.7v4.2M259.4 860.7v4.2M282.1 860.7v4.2M293.4 860.7v4.2M301.5 860.7v4.2M307.7 860.7v5.4M312.8 860.7v4.2M317.1 860.7v4.2M320.8 860.7v4.2M324.1 860.7v4.2M346.3 860.7v4.2M155.8 860.7v4.2M159.5 860.7v4.2M163.3 860.7v4.2M167 860.7v4.2M170.7 860.7v5.4M174.5 860.7v4.2M178.2 860.7v4.2M181.9 860.7v4.2M185.7 860.7v4.2M138.6 860.7v4.2M134.3 860.7v4.2M130 860.7v4.2M125.7 860.7v4.2M121.4 860.7v5.4M117 860.7v4.2M112.7 860.7v4.2M108.4 860.7v4.2M104.1 860.7v4.2M140.3 860.7v6.2M141.8 860.7v6.2M143.3 860.7v6.2M144.8 860.7v6.2M146.3 860.7v6.2M147.8 860.7v6.2M149.3 860.7v6.2" stroke="#000" stroke-width="1.8" fill="none"/>
<path d="M99.8 860.7v8M148.8 860.7v8M189.4 860.7v8M262.8 860.7v8M327 860.7v8" stroke="#000" stroke-width="2.5" fill="none"/>
<path d="M82.8 727.7h-4.2M82.8 714.3h-4.2M82.8 704.8h-4.2M82.8 697.4h-5.4M82.8 691.4h-4.2M82.8 686.3h-4.2M82.8 681.9h-4.2M82.8 678h-4.2M82.8 654.5h-4.2M82.8 642.8h-4.2M82.8 634.5h-4.2M82.8 628.1h-5.4M82.8 622.8h-4.2M82.8 618.4h-4.2M82.8 614.5h-4.2M82.8 611.1h-4.2M82.8 588.1h-4.2M82.8 788.4h-4.2M82.8 784.2h-4.2M82.8 780h-4.2M82.8 775.8h-4.2M82.8 771.6h-5.4M82.8 767.4h-4.2M82.8 763.2h-4.2M82.8 759h-4.2M82.8 754.8h-4.2M82.8 805.8h-4.2M82.8 809.8h-4.2M82.8 813.8h-4.2M82.8 817.8h-4.2M82.8 821.8h-5.4M82.8 825.8h-4.2M82.8 829.9h-4.2M82.8 833.9h-4.2M82.8 837.9h-4.2M82.8 804.8h-6.2M82.8 803.3h-6.2M82.8 801.8h-6.2M82.8 800.3h-6.2M82.8 798.8h-6.2M82.8 797.3h-6.2M82.8 795.8h-6.2" stroke="#000" stroke-width="1.8" fill="none"/>
<path d="M82.8 841.9h-8M82.8 796.3h-8M82.8 750.6h-8M82.8 674.5h-8M82.8 608.1h-8" stroke="#000" stroke-width="2.5" fill="none"/>
<text x="97.2" y="884.2" font-size="8.8" class="t">-10<tspan dx="1.8" dy="-5.8">3</tspan></text>
<text x="147" y="884.2" font-size="8.8" class="t">0</text>
<text x="189.1" y="884.2" font-size="8.8" class="t">10<tspan dx="1.8" dy="-5.8">3</tspan></text>
<text x="262.5" y="884.2" font-size="8.8" class="t">10<tspan dx="1.8" dy="-5.8">4</tspan></text>
<text x="326.7" y="884.2" font-size="8.8" class="t">10<tspan dx="1.8" dy="-5.8">5</tspan></text>
<text x="68.8" y="845.5" font-size="8.8" text-anchor="end" class="t">-10<tspan dx="1.8" dy="-5.8">3</tspan></text>
<text x="64.3" y="799.9" font-size="8.8" text-anchor="end" class="t">0</text>
<text x="68.8" y="754.2" font-size="8.8" text-anchor="end" class="t">10<tspan dx="1.8" dy="-5.8">3</tspan></text>
<text x="68.8" y="678.1" font-size="8.8" text-anchor="end" class="t">10<tspan dx="1.8" dy="-5.8">4</tspan></text>
<text x="68.8" y="611.7" font-size="8.8" text-anchor="end" class="t">10<tspan dx="1.8" dy="-5.8">5</tspan></text>
<g transform="translate(391 582)" clip-path="url(#pc)">
<path d="M64 183.6C64 178.7 65 162.4 66.1 157.6C67.2 152.8 70.9 145 73.5 142.3C76 139.6 84.1 135.9 88 134.7C91.9 133.4 102.2 132.3 107.1 131.9C112 131.5 125.7 131 130.1 131.3C134.4 131.6 141.9 133.5 144.6 134.7C147.3 135.9 151 141.7 153 141.5C155.1 141.4 159.9 134.7 162.2 133.4C164.5 132.2 170.2 130.3 172.9 130.8C175.6 131.3 182.9 135.3 185.2 137.7C187.4 140.1 190.9 147.4 192 151.5C193.1 155.6 194.3 167.8 194.6 172.9C195 178 195.9 191.5 195.1 195.1C194.3 198.7 190.6 202.4 187.5 203.5C184.3 204.7 173.2 205 168.3 205C163.4 205.1 149.8 204.5 145.4 204.3C140.9 204.1 134.5 202.8 130.1 203.5C125.6 204.2 111.9 209.2 107.1 210.4C102.3 211.6 92.6 213.4 88.8 213.5C84.9 213.6 76.9 212.8 74.2 211.2C71.6 209.6 67.3 202.9 66.1 199.7C64.9 196.5 64 188.5 64 183.6Z" fill="#0a0a0a"/>
<path d="M65.8 183.6C65.8 178.3 66.8 163.5 68.1 158.4C69.4 153.3 72.9 148 75.7 145.4C78.6 142.8 85.3 140.1 89.5 138.9C93.7 137.8 101.7 137.2 107.1 137C112.5 136.7 125.3 136.3 130.1 137C134.9 137.6 140 139.8 143.1 141.5C146.1 143.3 150.4 150.2 153 150C155.7 149.8 160.3 141.7 163 140C165.6 138.3 170.3 136.6 172.9 137C175.6 137.3 180.6 140.4 182.9 142.6C185.1 144.9 188.5 149.7 189.7 153.8C191 157.8 192.1 167.6 192.5 172.9C192.9 178.2 193.4 189.9 192.5 193.6C191.6 197.3 189.1 199.6 185.9 200.8C182.7 201.9 173.7 202.2 168.3 202.3C162.9 202.4 150.5 201.7 145.4 201.5C140.3 201.3 135.2 199.9 130.1 200.8C125 201.6 112.6 206.3 107.1 207.6C101.6 209 92.9 210.6 88.8 210.7C84.6 210.8 78.5 210.1 75.7 208.4C73 206.7 69.7 201.5 68.4 198.2C67.1 194.9 65.8 188.9 65.8 183.6Z" fill="#cfd6d5" stroke="#0a0a0a" stroke-width="1"/>
<g clip-path="url(#c8)">
<ellipse cx="171.4" cy="178.3" rx="20.7" ry="20.7" fill="#0c0c0c" opacity="0.95" filter="url(#b5)"/>
<ellipse cx="146.9" cy="178.3" rx="6.1" ry="9.2" fill="#0c0c0c" opacity="0.4" filter="url(#b4)"/>
<ellipse cx="171.4" cy="178.3" rx="11" ry="11" fill="#d6dcdb" filter="url(#b2)"/>
<path d="M135.9 169C136.3 172 135.5 176.4 133.9 179.3C132.4 182.2 128.9 186.2 125.8 188.5C122.7 190.8 117.2 193.5 113.1 194.8C108.9 196 102.5 196.9 98.2 196.9C93.9 196.8 87.9 195.7 84.2 194.4C80.6 193 76.1 190.2 73.9 187.8C71.6 185.4 69.6 181.3 69.2 178.4C68.8 175.4 69.6 171 71.1 168C72.6 165.1 76.1 161.2 79.2 158.8C82.4 156.5 87.9 153.8 92 152.6C96.1 151.3 102.5 150.4 106.8 150.5C111.2 150.5 117.2 151.6 120.8 153C124.5 154.4 128.9 157.2 131.2 159.6C133.4 162 135.4 166 135.9 169Z" fill="#0c0c0c" stroke="#0c0c0c" stroke-width="15.3" filter="url(#b5)"/>
<path d="M135.9 169C136.3 172 135.5 176.4 133.9 179.3C132.4 182.2 128.9 186.2 125.8 188.5C122.7 190.8 117.2 193.5 113.1 194.8C108.9 196 102.5 196.9 98.2 196.9C93.9 196.8 87.9 195.7 84.2 194.4C80.6 193 76.1 190.2 73.9 187.8C71.6 185.4 69.6 181.3 69.2 178.4C68.8 175.4 69.6 171 71.1 168C72.6 165.1 76.1 161.2 79.2 158.8C82.4 156.5 87.9 153.8 92 152.6C96.1 151.3 102.5 150.4 106.8 150.5C111.2 150.5 117.2 151.6 120.8 153C124.5 154.4 128.9 157.2 131.2 159.6C133.4 162 135.4 166 135.9 169Z" fill="#cfd6d5" stroke="#fff" stroke-width="1.1"/>
<path d="M124.5 173.2C124.8 175.4 124.1 178.6 123 180.7C121.8 182.8 119.2 185.7 116.9 187.3C114.5 189 110.4 191 107.3 191.9C104.2 192.8 99.4 193.5 96.1 193.5C92.9 193.4 88.4 192.7 85.7 191.7C82.9 190.8 79.6 188.7 77.9 187C76.3 185.3 74.8 182.4 74.5 180.3C74.2 178.1 74.8 174.9 75.9 172.8C77.1 170.7 79.7 167.8 82.1 166.1C84.4 164.4 88.6 162.5 91.7 161.6C94.8 160.6 99.5 160 102.8 160C106 160 110.5 160.8 113.3 161.8C116 162.7 119.3 164.8 121 166.5C122.7 168.2 124.2 171.1 124.5 173.2Z" fill="#0c0c0c" stroke="#0c0c0c" stroke-width="11.9" filter="url(#b4)"/>
<path d="M124.5 173.2C124.8 175.4 124.1 178.6 123 180.7C121.8 182.8 119.2 185.7 116.9 187.3C114.5 189 110.4 191 107.3 191.9C104.2 192.8 99.4 193.5 96.1 193.5C92.9 193.4 88.4 192.7 85.7 191.7C82.9 190.8 79.6 188.7 77.9 187C76.3 185.3 74.8 182.4 74.5 180.3C74.2 178.1 74.8 174.9 75.9 172.8C77.1 170.7 79.7 167.8 82.1 166.1C84.4 164.4 88.6 162.5 91.7 161.6C94.8 160.6 99.5 160 102.8 160C106 160 110.5 160.8 113.3 161.8C116 162.7 119.3 164.8 121 166.5C122.7 168.2 124.2 171.1 124.5 173.2Z" fill="#cfd6d5" stroke="#fff" stroke-width="1.1"/>
<path d="M114.2 176.2C114.4 177.7 114.1 179.9 113.3 181.4C112.5 182.9 110.7 185 109 186.2C107.4 187.5 104.5 188.9 102.3 189.7C100.1 190.4 96.7 191 94.4 191.1C92.1 191.1 88.8 190.7 86.9 190.1C84.9 189.5 82.5 188.2 81.2 187.1C80 185.9 78.9 183.9 78.6 182.5C78.4 181 78.7 178.8 79.5 177.3C80.3 175.8 82.1 173.7 83.8 172.5C85.4 171.2 88.3 169.7 90.5 169C92.7 168.3 96.1 167.7 98.4 167.6C100.7 167.6 104 168 105.9 168.5C107.9 169.1 110.3 170.5 111.6 171.6C112.8 172.8 113.9 174.7 114.2 176.2Z" fill="#0c0c0c" stroke="#0c0c0c" stroke-width="10.2" filter="url(#b3)"/>
<path d="M114.2 176.2C114.4 177.7 114.1 179.9 113.3 181.4C112.5 182.9 110.7 185 109 186.2C107.4 187.5 104.5 188.9 102.3 189.7C100.1 190.4 96.7 191 94.4 191.1C92.1 191.1 88.8 190.7 86.9 190.1C84.9 189.5 82.5 188.2 81.2 187.1C80 185.9 78.9 183.9 78.6 182.5C78.4 181 78.7 178.8 79.5 177.3C80.3 175.8 82.1 173.7 83.8 172.5C85.4 171.2 88.3 169.7 90.5 169C92.7 168.3 96.1 167.7 98.4 167.6C100.7 167.6 104 168 105.9 168.5C107.9 169.1 110.3 170.5 111.6 171.6C112.8 172.8 113.9 174.7 114.2 176.2Z" fill="#cfd6d5" stroke="#fff" stroke-width="1.1"/>
<ellipse cx="96.4" cy="180.6" rx="13" ry="8.4" fill="#0c0c0c" opacity="0.97" filter="url(#b3)"/>
<ellipse cx="171.4" cy="178.3" rx="5.8" ry="5.8" fill="#0c0c0c" opacity="0.45" filter="url(#b4)"/>
</g>
<path d="M142.6 88h4.1v4h-4.1zM79.1 110.9h4.1v4h-4.1zM81.3 120.4h4.1v4h-4.1zM89.8 120.4h4.1v4h-4.1zM86.4 124.7h4.1v4h-4.1zM108.9 124.7h4.1v4h-4.1zM164 119.7h4.1v4h-4.1zM172.9 125.8h4.1v4h-4.1zM78.7 129.9h4.1v4h-4.1zM72.9 136.9h4.1v4h-4.1zM102 128.8h4.1v4h-4.1zM127.3 128.1h4.1v4h-4.1zM140.3 131.1h4.1v4h-4.1zM196.9 151.8h4.1v4h-4.1zM193.1 192.3h4.1v4h-4.1zM77.5 212.2h4.1v4h-4.1zM110.4 211.8h4.1v4h-4.1zM95.9 217.9h4.1v4h-4.1zM172.9 209.2h4.1v4h-4.1zM179.7 209.2h4.1v4h-4.1zM169.8 217.3h4.1v4h-4.1zM86.4 241.8h4.1v4h-4.1zM102 246.4h4.1v4h-4.1z" fill="#111"/>
<rect x="47.7" y="33.4" width="163.7" height="131.9" fill="none" stroke="#0a0a0a" stroke-width="1.9"/>
<text transform="translate(202.3 58.6) scale(1 1.04)" font-size="28.2" text-anchor="end">19.1</text>
</g>
<rect x="391.8" y="582.1" width="270" height="278.6" fill="none" stroke="#000" stroke-width="2.6"/>
<path d="M520.5 860.7v4.2M533.4 860.7v4.2M542.6 860.7v4.2M549.7 860.7v5.4M555.5 860.7v4.2M560.4 860.7v4.2M564.7 860.7v4.2M568.4 860.7v4.2M591.1 860.7v4.2M602.4 860.7v4.2M610.5 860.7v4.2M616.7 860.7v5.4M621.8 860.7v4.2M626.1 860.7v4.2M629.8 860.7v4.2M633.1 860.7v4.2M655.3 860.7v4.2M464.8 860.7v4.2M468.5 860.7v4.2M472.3 860.7v4.2M476 860.7v4.2M479.7 860.7v5.4M483.5 860.7v4.2M487.2 860.7v4.2M490.9 860.7v4.2M494.7 860.7v4.2M447.6 860.7v4.2M443.3 860.7v4.2M439 860.7v4.2M434.7 860.7v4.2M430.4 860.7v5.4M426 860.7v4.2M421.7 860.7v4.2M417.4 860.7v4.2M413.1 860.7v4.2M449.3 860.7v6.2M450.8 860.7v6.2M452.3 860.7v6.2M453.8 860.7v6.2M455.3 860.7v6.2M456.8 860.7v6.2M458.3 860.7v6.2" stroke="#000" stroke-width="1.8" fill="none"/>
<path d="M408.8 860.7v8M457.8 860.7v8M498.4 860.7v8M571.8 860.7v8M636 860.7v8" stroke="#000" stroke-width="2.5" fill="none"/>
<path d="M391.8 727.7h-4.2M391.8 714.3h-4.2M391.8 704.8h-4.2M391.8 697.4h-5.4M391.8 691.4h-4.2M391.8 686.3h-4.2M391.8 681.9h-4.2M391.8 678h-4.2M391.8 654.5h-4.2M391.8 642.8h-4.2M391.8 634.5h-4.2M391.8 628.1h-5.4M391.8 622.8h-4.2M391.8 618.4h-4.2M391.8 614.5h-4.2M391.8 611.1h-4.2M391.8 588.1h-4.2M391.8 788.4h-4.2M391.8 784.2h-4.2M391.8 780h-4.2M391.8 775.8h-4.2M391.8 771.6h-5.4M391.8 767.4h-4.2M391.8 763.2h-4.2M391.8 759h-4.2M391.8 754.8h-4.2M391.8 805.8h-4.2M391.8 809.8h-4.2M391.8 813.8h-4.2M391.8 817.8h-4.2M391.8 821.8h-5.4M391.8 825.8h-4.2M391.8 829.9h-4.2M391.8 833.9h-4.2M391.8 837.9h-4.2M391.8 804.8h-6.2M391.8 803.3h-6.2M391.8 801.8h-6.2M391.8 800.3h-6.2M391.8 798.8h-6.2M391.8 797.3h-6.2M391.8 795.8h-6.2" stroke="#000" stroke-width="1.8" fill="none"/>
<path d="M391.8 841.9h-8M391.8 796.3h-8M391.8 750.6h-8M391.8 674.5h-8M391.8 608.1h-8" stroke="#000" stroke-width="2.5" fill="none"/>
<text x="406.2" y="884.2" font-size="8.8" class="t">-10<tspan dx="1.8" dy="-5.8">3</tspan></text>
<text x="456" y="884.2" font-size="8.8" class="t">0</text>
<text x="498.1" y="884.2" font-size="8.8" class="t">10<tspan dx="1.8" dy="-5.8">3</tspan></text>
<text x="571.5" y="884.2" font-size="8.8" class="t">10<tspan dx="1.8" dy="-5.8">4</tspan></text>
<text x="635.7" y="884.2" font-size="8.8" class="t">10<tspan dx="1.8" dy="-5.8">5</tspan></text>
<text x="377.8" y="845.5" font-size="8.8" text-anchor="end" class="t">-10<tspan dx="1.8" dy="-5.8">3</tspan></text>
<text x="373.3" y="799.9" font-size="8.8" text-anchor="end" class="t">0</text>
<text x="377.8" y="754.2" font-size="8.8" text-anchor="end" class="t">10<tspan dx="1.8" dy="-5.8">3</tspan></text>
<text x="377.8" y="678.1" font-size="8.8" text-anchor="end" class="t">10<tspan dx="1.8" dy="-5.8">4</tspan></text>
<text x="377.8" y="611.7" font-size="8.8" text-anchor="end" class="t">10<tspan dx="1.8" dy="-5.8">5</tspan></text>
<g transform="translate(701 582)" clip-path="url(#pc)">
<path d="M71.9 134.7C72.5 133.5 77.3 125.9 79.6 124.7C81.9 123.5 91.4 122.6 94.9 122.4C98.4 122.2 110.9 122 114.8 122.4C118.6 122.8 129.9 125.3 133.1 126.2C136.3 127.2 144.1 130.8 146.9 131.6C149.7 132.4 158.2 133 160.7 133.9C163.1 134.8 169.4 139.6 171.4 140.8C173.4 142 180 145.2 180.6 146.1C181.2 147.1 178.7 150 177.5 150C176.3 149.9 170.2 146.3 168.3 145.4C166.5 144.4 161.4 141.2 159.1 140.5C156.8 139.7 148 138.8 145.4 138C142.7 137.2 135.4 133.3 132.4 132.4C129.3 131.4 118.5 129 114.8 128.5C111 128.1 98.3 128.1 94.9 128.2C91.5 128.4 82.9 129.2 80.8 130.1C78.7 130.9 74.3 136 73.5 136.5C72.6 137 71.3 135.8 71.9 134.7Z" fill="#0a0a0a"/>
<path d="M66.1 180.6C66.1 174.5 67.4 158.9 68.4 153C69.4 147.1 71.8 139.3 73.5 136.2C75.1 133.1 77.9 130.9 80.8 129.8C83.7 128.6 90.3 128 94.9 127.8C99.4 127.6 109.8 127.7 114.8 128.2C119.8 128.8 128.3 130.6 132.4 131.9C136.4 133.2 141.8 136.6 145.4 137.7C148.9 138.8 156.1 139 159.1 140C162.2 141 165.9 143.8 168.3 145.1C170.7 146.3 176 147.1 177.2 149.2C178.4 151.3 177 157.5 177.5 160.7C178 163.8 181 169.8 181 172.9C181 176.1 178.6 181.8 177.5 184.4C176.4 186.9 173.7 189.3 172.9 192C172.1 194.8 173 202.7 171.4 204.7C169.8 206.8 164.1 207.9 160.7 207.5C157.2 207.1 149.5 202.7 145.4 201.7C141.3 200.7 133.9 199.7 130.1 200.2C126.2 200.6 120.2 203.2 116.3 204.7C112.4 206.3 105.1 210.7 101 212.1C96.9 213.5 89.2 215.1 85.7 215.1C82.2 215.1 77 214.4 74.7 212.1C72.4 209.8 69.7 202.4 68.6 198.2C67.4 194 66.1 186.6 66.1 180.6Z" fill="#cfd6d5" stroke="#0a0a0a" stroke-width="3.4"/>
<g clip-path="url(#c9)">
<ellipse cx="162.2" cy="176" rx="10.7" ry="16.8" fill="#0c0c0c" opacity="0.3" filter="url(#b5)"/>
<ellipse cx="153" cy="154.6" rx="9.2" ry="7.7" fill="#0c0c0c" opacity="0.3" filter="url(#b5)"/>
<path d="M139.7 164.9C140.4 168.4 140.1 173.6 138.8 177.2C137.5 180.7 134.3 185.6 131.3 188.5C128.3 191.4 122.9 194.8 118.7 196.5C114.5 198.2 108 199.6 103.5 199.7C99 199.9 92.7 198.9 88.7 197.5C84.8 196.1 79.9 193 77.3 190.2C74.7 187.5 72.2 182.9 71.5 179.4C70.7 175.9 71.1 170.7 72.4 167.1C73.6 163.6 76.9 158.7 79.9 155.8C82.9 152.9 88.3 149.5 92.5 147.8C96.6 146.1 103.2 144.7 107.7 144.6C112.2 144.4 118.5 145.4 122.4 146.8C126.4 148.2 131.3 151.3 133.9 154.1C136.5 156.8 139 161.4 139.7 164.9Z" fill="#0c0c0c" stroke="#0c0c0c" stroke-width="17" filter="url(#b6)"/>
<path d="M139.7 164.9C140.4 168.4 140.1 173.6 138.8 177.2C137.5 180.7 134.3 185.6 131.3 188.5C128.3 191.4 122.9 194.8 118.7 196.5C114.5 198.2 108 199.6 103.5 199.7C99 199.9 92.7 198.9 88.7 197.5C84.8 196.1 79.9 193 77.3 190.2C74.7 187.5 72.2 182.9 71.5 179.4C70.7 175.9 71.1 170.7 72.4 167.1C73.6 163.6 76.9 158.7 79.9 155.8C82.9 152.9 88.3 149.5 92.5 147.8C96.6 146.1 103.2 144.7 107.7 144.6C112.2 144.4 118.5 145.4 122.4 146.8C126.4 148.2 131.3 151.3 133.9 154.1C136.5 156.8 139 161.4 139.7 164.9Z" fill="#cfd6d5" stroke="#fff" stroke-width="1.1"/>
<path d="M127.8 170.2C128.3 172.7 127.8 176.4 126.7 178.9C125.7 181.3 123.1 184.7 120.8 186.7C118.5 188.6 114.3 191 111.2 192.1C108 193.2 103.1 194.1 99.8 194.1C96.4 194.1 91.7 193.4 88.8 192.3C86 191.2 82.4 188.9 80.6 187C78.7 185 77 181.7 76.6 179.3C76.2 176.8 76.6 173.1 77.7 170.6C78.8 168.2 81.3 164.8 83.6 162.8C86 160.9 90.1 158.5 93.3 157.4C96.4 156.3 101.3 155.4 104.7 155.4C108 155.4 112.7 156.1 115.6 157.2C118.5 158.3 122 160.6 123.9 162.5C125.7 164.5 127.4 167.8 127.8 170.2Z" fill="#0c0c0c" stroke="#0c0c0c" stroke-width="11.9" filter="url(#b4)"/>
<path d="M127.8 170.2C128.3 172.7 127.8 176.4 126.7 178.9C125.7 181.3 123.1 184.7 120.8 186.7C118.5 188.6 114.3 191 111.2 192.1C108 193.2 103.1 194.1 99.8 194.1C96.4 194.1 91.7 193.4 88.8 192.3C86 191.2 82.4 188.9 80.6 187C78.7 185 77 181.7 76.6 179.3C76.2 176.8 76.6 173.1 77.7 170.6C78.8 168.2 81.3 164.8 83.6 162.8C86 160.9 90.1 158.5 93.3 157.4C96.4 156.3 101.3 155.4 104.7 155.4C108 155.4 112.7 156.1 115.6 157.2C118.5 158.3 122 160.6 123.9 162.5C125.7 164.5 127.4 167.8 127.8 170.2Z" fill="#cfd6d5" stroke="#fff" stroke-width="1.1"/>
<path d="M117.3 174.3C117.6 176 117.2 178.7 116.4 180.4C115.7 182.2 113.9 184.5 112.2 185.9C110.6 187.2 107.7 188.8 105.5 189.5C103.4 190.2 100 190.7 97.7 190.6C95.4 190.5 92.3 189.8 90.3 188.9C88.4 188.1 86 186.3 84.8 184.9C83.5 183.4 82.4 181 82.2 179.2C81.9 177.4 82.3 174.8 83.1 173C83.9 171.3 85.7 169 87.3 167.6C88.9 166.3 91.8 164.7 94 164C96.2 163.3 99.5 162.8 101.8 162.9C104.1 163 107.3 163.7 109.2 164.5C111.2 165.4 113.6 167.1 114.8 168.6C116 170.1 117.1 172.5 117.3 174.3Z" fill="#0c0c0c" stroke="#0c0c0c" stroke-width="10.2" filter="url(#b3)"/>
<path d="M117.3 174.3C117.6 176 117.2 178.7 116.4 180.4C115.7 182.2 113.9 184.5 112.2 185.9C110.6 187.2 107.7 188.8 105.5 189.5C103.4 190.2 100 190.7 97.7 190.6C95.4 190.5 92.3 189.8 90.3 188.9C88.4 188.1 86 186.3 84.8 184.9C83.5 183.4 82.4 181 82.2 179.2C81.9 177.4 82.3 174.8 83.1 173C83.9 171.3 85.7 169 87.3 167.6C88.9 166.3 91.8 164.7 94 164C96.2 163.3 99.5 162.8 101.8 162.9C104.1 163 107.3 163.7 109.2 164.5C111.2 165.4 113.6 167.1 114.8 168.6C116 170.1 117.1 172.5 117.3 174.3Z" fill="#cfd6d5" stroke="#fff" stroke-width="1.1"/>
<ellipse cx="101" cy="176" rx="12.2" ry="8.4" fill="#0c0c0c" opacity="0.97" filter="url(#b3)"/>
</g>
<path d="M81.8 81.4h4.1v4h-4.1zM87 108.2h4.1v4h-4.1zM72.9 116.6h4.1v4h-4.1zM82.9 118.1h4.1v4h-4.1zM87.9 115.8h4.1v4h-4.1zM107.4 120.4h4.1v4h-4.1zM145.9 120.1h4.1v4h-4.1zM159.8 125.5h4.1v4h-4.1zM175 123.8h4.1v4h-4.1zM183.9 184.7h4.1v4h-4.1zM171.6 207.3h4.1v4h-4.1zM148.7 208.9h4.1v4h-4.1zM133.4 209.5h4.1v4h-4.1zM115.8 209.2h4.1v4h-4.1zM113.9 221h4.1v4h-4.1zM79.4 222.5h4.1v4h-4.1zM81.8 232.9h4.1v4h-4.1zM92.5 243.6h4.1v4h-4.1zM80.3 245.9h4.1v4h-4.1z" fill="#111"/>
<rect x="48.2" y="33.4" width="163.4" height="131.9" fill="none" stroke="#0a0a0a" stroke-width="1.9"/>
<text transform="translate(200.8 58.6) scale(1 1.04)" font-size="28.2" text-anchor="end">27.7</text>
</g>
<rect x="701.8" y="582.1" width="270" height="278.6" fill="none" stroke="#000" stroke-width="2.6"/>
<path d="M830.5 860.7v4.2M843.4 860.7v4.2M852.6 860.7v4.2M859.7 860.7v5.4M865.5 860.7v4.2M870.4 860.7v4.2M874.7 860.7v4.2M878.4 860.7v4.2M901.1 860.7v4.2M912.4 860.7v4.2M920.5 860.7v4.2M926.7 860.7v5.4M931.8 860.7v4.2M936.1 860.7v4.2M939.8 860.7v4.2M943.1 860.7v4.2M965.3 860.7v4.2M774.8 860.7v4.2M778.5 860.7v4.2M782.3 860.7v4.2M786 860.7v4.2M789.7 860.7v5.4M793.5 860.7v4.2M797.2 860.7v4.2M800.9 860.7v4.2M804.7 860.7v4.2M757.6 860.7v4.2M753.3 860.7v4.2M749 860.7v4.2M744.7 860.7v4.2M740.4 860.7v5.4M736 860.7v4.2M731.7 860.7v4.2M727.4 860.7v4.2M723.1 860.7v4.2M759.3 860.7v6.2M760.8 860.7v6.2M762.3 860.7v6.2M763.8 860.7v6.2M765.3 860.7v6.2M766.8 860.7v6.2M768.3 860.7v6.2" stroke="#000" stroke-width="1.8" fill="none"/>
<path d="M718.8 860.7v8M767.8 860.7v8M808.4 860.7v8M881.8 860.7v8M946 860.7v8" stroke="#000" stroke-width="2.5" fill="none"/>
<path d="M701.8 727.7h-4.2M701.8 714.3h-4.2M701.8 704.8h-4.2M701.8 697.4h-5.4M701.8 691.4h-4.2M701.8 686.3h-4.2M701.8 681.9h-4.2M701.8 678h-4.2M701.8 654.5h-4.2M701.8 642.8h-4.2M701.8 634.5h-4.2M701.8 628.1h-5.4M701.8 622.8h-4.2M701.8 618.4h-4.2M701.8 614.5h-4.2M701.8 611.1h-4.2M701.8 588.1h-4.2M701.8 788.4h-4.2M701.8 784.2h-4.2M701.8 780h-4.2M701.8 775.8h-4.2M701.8 771.6h-5.4M701.8 767.4h-4.2M701.8 763.2h-4.2M701.8 759h-4.2M701.8 754.8h-4.2M701.8 805.8h-4.2M701.8 809.8h-4.2M701.8 813.8h-4.2M701.8 817.8h-4.2M701.8 821.8h-5.4M701.8 825.8h-4.2M701.8 829.9h-4.2M701.8 833.9h-4.2M701.8 837.9h-4.2M701.8 804.8h-6.2M701.8 803.3h-6.2M701.8 801.8h-6.2M701.8 800.3h-6.2M701.8 798.8h-6.2M701.8 797.3h-6.2M701.8 795.8h-6.2" stroke="#000" stroke-width="1.8" fill="none"/>
<path d="M701.8 841.9h-8M701.8 796.3h-8M701.8 750.6h-8M701.8 674.5h-8M701.8 608.1h-8" stroke="#000" stroke-width="2.5" fill="none"/>
<text x="716.2" y="884.2" font-size="8.8" class="t">-10<tspan dx="1.8" dy="-5.8">3</tspan></text>
<text x="766" y="884.2" font-size="8.8" class="t">0</text>
<text x="808.1" y="884.2" font-size="8.8" class="t">10<tspan dx="1.8" dy="-5.8">3</tspan></text>
<text x="881.5" y="884.2" font-size="8.8" class="t">10<tspan dx="1.8" dy="-5.8">4</tspan></text>
<text x="945.7" y="884.2" font-size="8.8" class="t">10<tspan dx="1.8" dy="-5.8">5</tspan></text>
<text x="687.8" y="845.5" font-size="8.8" text-anchor="end" class="t">-10<tspan dx="1.8" dy="-5.8">3</tspan></text>
<text x="683.3" y="799.9" font-size="8.8" text-anchor="end" class="t">0</text>
<text x="687.8" y="754.2" font-size="8.8" text-anchor="end" class="t">10<tspan dx="1.8" dy="-5.8">3</tspan></text>
<text x="687.8" y="678.1" font-size="8.8" text-anchor="end" class="t">10<tspan dx="1.8" dy="-5.8">4</tspan></text>
<text x="687.8" y="611.7" font-size="8.8" text-anchor="end" class="t">10<tspan dx="1.8" dy="-5.8">5</tspan></text>
<g transform="translate(1007 582)" clip-path="url(#pc)">
<path d="M65 180.6C64.9 175 66.3 158.2 67.3 153C68.3 147.8 72 139.8 73.5 136.2C74.9 132.6 78.5 124.9 79.6 122.4C80.6 119.9 80.8 115.3 82.6 114.8C84.4 114.2 91.3 117.1 94.9 117.8C98.4 118.5 109.3 119.8 113.2 120.9C117.2 122 125.7 127 128.5 127C131.4 127 135.2 121.9 137.7 120.9C140.2 119.9 147.1 118.8 150 118.6C152.8 118.4 159.5 119.4 162.2 119.4C164.9 119.4 170.4 119.1 172.9 118.6C175.4 118.1 181.1 114.5 183.6 114.8C186.1 115 192.8 118.2 194.3 120.9C195.9 123.6 196.2 133.1 196.6 137.7C197.1 142.4 198.1 156 198.2 160.7C198.3 165.3 198 173.9 197.4 177.5C196.8 181.1 194.4 188.2 192.8 191.3C191.2 194.3 186.8 201.2 183.6 203.5C180.4 205.8 169.7 209.9 165.3 211.2C160.8 212.4 149.7 213.3 145.4 214.2C141.1 215.1 132.3 218.1 128.5 218.8C124.8 219.5 116.8 219.6 113.2 220.4C109.7 221.1 101.9 224.2 97.9 224.9C94 225.7 82.2 227.4 79.6 226.5C76.9 225.6 76.3 220.3 75 217.3C73.6 214.3 69.3 204.7 68.1 200.5C66.9 196.2 65.1 186.1 65 180.6Z" fill="#0a0a0a"/>
<path d="M67.3 180.6C67 174 68.4 158.7 69.6 153C70.8 147.3 74.4 141.2 76.5 137.7C78.7 134.3 82.8 128.4 85.7 127C88.5 125.6 94.3 127 97.9 127C101.6 127 109.2 126.5 113.2 127C117.3 127.5 124.9 131.2 128.5 130.8C132.2 130.4 137.5 125.2 140.8 123.9C144 122.7 149.3 121.9 153 121.7C156.7 121.4 164.7 122.4 168.3 122.4C172 122.4 177.7 120.8 180.6 121.7C183.4 122.5 187.9 125.4 189.7 128.5C191.6 131.7 193.6 140.1 194.3 145.4C195.1 150.7 195.3 163.2 195.1 168.3C194.9 173.4 194.3 180.2 192.8 183.6C191.3 187.1 186.9 192.5 183.6 194.3C180.4 196.2 172.8 196.8 168.3 197.4C163.8 198 154 197.9 150 198.9C145.9 199.9 141.8 203.4 137.7 205C133.6 206.7 124.7 209.7 119.4 211.2C114.1 212.6 103.2 215.4 97.9 215.8C92.6 216.2 83 216.1 79.6 214.2C76.1 212.4 73.6 206.5 71.9 202C70.3 197.5 67.6 187.1 67.3 180.6Z" fill="#cfd6d5" stroke="#0a0a0a" stroke-width="0.8"/>
<g clip-path="url(#c10)">
<ellipse cx="171.4" cy="157.6" rx="13" ry="21.4" fill="#0c0c0c" opacity="0.95" filter="url(#b6)"/>
<ellipse cx="153" cy="172.9" rx="10.7" ry="9.2" fill="#0c0c0c" opacity="0.5" filter="url(#b5)"/>
<ellipse cx="153" cy="145.4" rx="9.2" ry="9.2" fill="#0c0c0c" opacity="0.35" filter="url(#b5)"/>
<path d="M137.7 166.7C138.2 170.2 137.5 175.5 136 179C134.6 182.4 131.1 187.1 128 189.8C124.9 192.5 119.4 195.5 115.3 196.9C111.1 198.3 104.7 199.2 100.3 199C95.9 198.8 89.8 197.4 86.1 195.7C82.3 193.9 77.8 190.4 75.4 187.5C73.1 184.5 70.9 179.7 70.4 176.1C69.9 172.6 70.6 167.3 72.1 163.8C73.5 160.3 77 155.7 80.1 153C83.2 150.3 88.7 147.2 92.8 145.8C97 144.5 103.4 143.5 107.8 143.7C112.2 143.9 118.3 145.4 122 147.1C125.8 148.8 130.4 152.4 132.7 155.3C135 158.2 137.2 163.1 137.7 166.7Z" fill="#0c0c0c" stroke="#0c0c0c" stroke-width="17" filter="url(#b6)"/>
<path d="M137.7 166.7C138.2 170.2 137.5 175.5 136 179C134.6 182.4 131.1 187.1 128 189.8C124.9 192.5 119.4 195.5 115.3 196.9C111.1 198.3 104.7 199.2 100.3 199C95.9 198.8 89.8 197.4 86.1 195.7C82.3 193.9 77.8 190.4 75.4 187.5C73.1 184.5 70.9 179.7 70.4 176.1C69.9 172.6 70.6 167.3 72.1 163.8C73.5 160.3 77 155.7 80.1 153C83.2 150.3 88.7 147.2 92.8 145.8C97 144.5 103.4 143.5 107.8 143.7C112.2 143.9 118.3 145.4 122 147.1C125.8 148.8 130.4 152.4 132.7 155.3C135 158.2 137.2 163.1 137.7 166.7Z" fill="#cfd6d5" stroke="#fff" stroke-width="1.1"/>
<path d="M125.2 172.5C125.5 174.6 124.9 177.9 123.8 180C122.6 182.2 120 185.1 117.6 186.8C115.3 188.5 111.2 190.5 108.1 191.4C105 192.4 100.2 193 96.9 193C93.7 193 89.2 192.2 86.5 191.2C83.7 190.2 80.4 188.1 78.7 186.4C77 184.6 75.5 181.7 75.2 179.5C74.9 177.3 75.5 174.1 76.7 171.9C77.8 169.8 80.5 166.8 82.8 165.1C85.2 163.4 89.3 161.4 92.4 160.5C95.5 159.6 100.3 158.9 103.5 158.9C106.7 159 111.3 159.8 114 160.8C116.7 161.7 120.1 163.8 121.7 165.6C123.4 167.3 124.9 170.3 125.2 172.5Z" fill="#0c0c0c" stroke="#0c0c0c" stroke-width="11.9" filter="url(#b4)"/>
<path d="M125.2 172.5C125.5 174.6 124.9 177.9 123.8 180C122.6 182.2 120 185.1 117.6 186.8C115.3 188.5 111.2 190.5 108.1 191.4C105 192.4 100.2 193 96.9 193C93.7 193 89.2 192.2 86.5 191.2C83.7 190.2 80.4 188.1 78.7 186.4C77 184.6 75.5 181.7 75.2 179.5C74.9 177.3 75.5 174.1 76.7 171.9C77.8 169.8 80.5 166.8 82.8 165.1C85.2 163.4 89.3 161.4 92.4 160.5C95.5 159.6 100.3 158.9 103.5 158.9C106.7 159 111.3 159.8 114 160.8C116.7 161.7 120.1 163.8 121.7 165.6C123.4 167.3 124.9 170.3 125.2 172.5Z" fill="#cfd6d5" stroke="#fff" stroke-width="1.1"/>
<path d="M114.4 176.4C114.5 177.8 114 179.9 113.1 181.2C112.2 182.6 110.3 184.4 108.6 185.4C106.9 186.5 103.9 187.7 101.7 188.2C99.5 188.8 96.1 189.1 93.9 189.1C91.6 189 88.5 188.4 86.6 187.8C84.7 187.1 82.4 185.7 81.3 184.6C80.2 183.4 79.2 181.5 79.1 180.1C78.9 178.7 79.5 176.7 80.3 175.3C81.2 174 83.1 172.2 84.8 171.1C86.5 170 89.5 168.8 91.7 168.3C93.9 167.8 97.3 167.4 99.5 167.5C101.8 167.5 105 168.1 106.8 168.8C108.7 169.5 111 170.8 112.1 172C113.3 173.1 114.2 175 114.4 176.4Z" fill="#0c0c0c" stroke="#0c0c0c" stroke-width="10.2" filter="url(#b3)"/>
<path d="M114.4 176.4C114.5 177.8 114 179.9 113.1 181.2C112.2 182.6 110.3 184.4 108.6 185.4C106.9 186.5 103.9 187.7 101.7 188.2C99.5 188.8 96.1 189.1 93.9 189.1C91.6 189 88.5 188.4 86.6 187.8C84.7 187.1 82.4 185.7 81.3 184.6C80.2 183.4 79.2 181.5 79.1 180.1C78.9 178.7 79.5 176.7 80.3 175.3C81.2 174 83.1 172.2 84.8 171.1C86.5 170 89.5 168.8 91.7 168.3C93.9 167.8 97.3 167.4 99.5 167.5C101.8 167.5 105 168.1 106.8 168.8C108.7 169.5 111 170.8 112.1 172C113.3 173.1 114.2 175 114.4 176.4Z" fill="#cfd6d5" stroke="#fff" stroke-width="1.1"/>
<ellipse cx="93.3" cy="178.3" rx="11.5" ry="6.9" fill="#0c0c0c" opacity="0.97" filter="url(#b3)"/>
</g>
<path d="M160.9 1.8h4.1v4h-4.1zM136.7 107.4h4.1v4h-4.1zM125 110.9h4.1v4h-4.1zM160.9 112h4.1v4h-4.1zM193.8 115.8h4.1v4h-4.1zM195.3 173.2h4.1v4h-4.1zM187.7 195.4h4.1v4h-4.1zM154.8 213h4.1v4h-4.1zM160.9 217.9h4.1v4h-4.1zM168.9 216.1h4.1v4h-4.1zM135.7 224h4.1v4h-4.1zM101.2 224.5h4.1v4h-4.1zM95.9 227.1h4.1v4h-4.1zM110.4 226h4.1v4h-4.1zM115 228.3h4.1v4h-4.1zM148.7 229.1h4.1v4h-4.1zM164 228.3h4.1v4h-4.1zM100.5 231.4h4.1v4h-4.1zM120.4 233.7h4.1v4h-4.1zM126.5 236.7h4.1v4h-4.1zM134.9 236.7h4.1v4h-4.1zM163.2 236.7h4.1v4h-4.1zM168.6 236.7h4.1v4h-4.1zM173.9 235.9h4.1v4h-4.1zM101.2 241.3h4.1v4h-4.1zM74 243.6h4.1v4h-4.1zM87.9 243.6h4.1v4h-4.1zM120.8 244.8h4.1v4h-4.1zM87.9 250.9h4.1v4h-4.1zM128 252h4.1v4h-4.1zM146.4 250.5h4.1v4h-4.1zM169 252h4.1v4h-4.1zM91 258.1h4.1v4h-4.1zM138.7 258.1h4.1v4h-4.1zM126.5 272.7h4.1v4h-4.1z" fill="#111"/>
<rect x="48.7" y="33.4" width="163.3" height="131.9" fill="none" stroke="#0a0a0a" stroke-width="1.9"/>
<text transform="translate(202.3 58.6) scale(1 1.04)" font-size="28.2" text-anchor="end">27.0</text>
</g>
<rect x="1007.8" y="582.1" width="270" height="278.6" fill="none" stroke="#000" stroke-width="2.6"/>
<path d="M1136.5 860.7v4.2M1149.4 860.7v4.2M1158.6 860.7v4.2M1165.7 860.7v5.4M1171.5 860.7v4.2M1176.4 860.7v4.2M1180.7 860.7v4.2M1184.4 860.7v4.2M1207.1 860.7v4.2M1218.4 860.7v4.2M1226.5 860.7v4.2M1232.7 860.7v5.4M1237.8 860.7v4.2M1242.1 860.7v4.2M1245.8 860.7v4.2M1249.1 860.7v4.2M1271.3 860.7v4.2M1080.8 860.7v4.2M1084.5 860.7v4.2M1088.3 860.7v4.2M1092 860.7v4.2M1095.7 860.7v5.4M1099.5 860.7v4.2M1103.2 860.7v4.2M1106.9 860.7v4.2M1110.7 860.7v4.2M1063.6 860.7v4.2M1059.3 860.7v4.2M1055 860.7v4.2M1050.7 860.7v4.2M1046.4 860.7v5.4M1042 860.7v4.2M1037.7 860.7v4.2M1033.4 860.7v4.2M1029.1 860.7v4.2M1065.3 860.7v6.2M1066.8 860.7v6.2M1068.3 860.7v6.2M1069.8 860.7v6.2M1071.3 860.7v6.2M1072.8 860.7v6.2M1074.3 860.7v6.2" stroke="#000" stroke-width="1.8" fill="none"/>
<path d="M1024.8 860.7v8M1073.8 860.7v8M1114.4 860.7v8M1187.8 860.7v8M1252 860.7v8" stroke="#000" stroke-width="2.5" fill="none"/>
<path d="M1007.8 727.7h-4.2M1007.8 714.3h-4.2M1007.8 704.8h-4.2M1007.8 697.4h-5.4M1007.8 691.4h-4.2M1007.8 686.3h-4.2M1007.8 681.9h-4.2M1007.8 678h-4.2M1007.8 654.5h-4.2M1007.8 642.8h-4.2M1007.8 634.5h-4.2M1007.8 628.1h-5.4M1007.8 622.8h-4.2M1007.8 618.4h-4.2M1007.8 614.5h-4.2M1007.8 611.1h-4.2M1007.8 588.1h-4.2M1007.8 788.4h-4.2M1007.8 784.2h-4.2M1007.8 780h-4.2M1007.8 775.8h-4.2M1007.8 771.6h-5.4M1007.8 767.4h-4.2M1007.8 763.2h-4.2M1007.8 759h-4.2M1007.8 754.8h-4.2M1007.8 805.8h-4.2M1007.8 809.8h-4.2M1007.8 813.8h-4.2M1007.8 817.8h-4.2M1007.8 821.8h-5.4M1007.8 825.8h-4.2M1007.8 829.9h-4.2M1007.8 833.9h-4.2M1007.8 837.9h-4.2M1007.8 804.8h-6.2M1007.8 803.3h-6.2M1007.8 801.8h-6.2M1007.8 800.3h-6.2M1007.8 798.8h-6.2M1007.8 797.3h-6.2M1007.8 795.8h-6.2" stroke="#000" stroke-width="1.8" fill="none"/>
<path d="M1007.8 841.9h-8M1007.8 796.3h-8M1007.8 750.6h-8M1007.8 674.5h-8M1007.8 608.1h-8" stroke="#000" stroke-width="2.5" fill="none"/>
<text x="1022.2" y="884.2" font-size="8.8" class="t">-10<tspan dx="1.8" dy="-5.8">3</tspan></text>
<text x="1072" y="884.2" font-size="8.8" class="t">0</text>
<text x="1114.1" y="884.2" font-size="8.8" class="t">10<tspan dx="1.8" dy="-5.8">3</tspan></text>
<text x="1187.5" y="884.2" font-size="8.8" class="t">10<tspan dx="1.8" dy="-5.8">4</tspan></text>
<text x="1251.7" y="884.2" font-size="8.8" class="t">10<tspan dx="1.8" dy="-5.8">5</tspan></text>
<text x="993.8" y="845.5" font-size="8.8" text-anchor="end" class="t">-10<tspan dx="1.8" dy="-5.8">3</tspan></text>
<text x="989.3" y="799.9" font-size="8.8" text-anchor="end" class="t">0</text>
<text x="993.8" y="754.2" font-size="8.8" text-anchor="end" class="t">10<tspan dx="1.8" dy="-5.8">3</tspan></text>
<text x="993.8" y="678.1" font-size="8.8" text-anchor="end" class="t">10<tspan dx="1.8" dy="-5.8">4</tspan></text>
<text x="993.8" y="611.7" font-size="8.8" text-anchor="end" class="t">10<tspan dx="1.8" dy="-5.8">5</tspan></text>
<g transform="translate(1315 582)" clip-path="url(#pc)">
<path d="M83.4 104.8C84.7 103.8 92.2 105.9 94.9 106.3C97.6 106.8 107 109 110.2 109.4C113.4 109.8 125.2 110.6 127 110.2C128.8 109.8 127.5 105.4 127.8 105.6C128.1 105.7 129.1 110.6 130.1 111.7C131.1 112.9 138 116.5 137.7 117.1C137.4 117.6 129.3 117.4 127 117.1C124.7 116.8 117.7 114.5 114.8 114C111.9 113.5 100.8 112 97.9 112.5C95 112.9 87.3 118.2 85.7 118.6C84.1 119 82.1 117.7 81.9 116.3C81.6 114.9 82.1 105.8 83.4 104.8Z" fill="#0a0a0a"/>
<path d="M162.2 197.4C162.7 196.2 165.9 194 166.8 194.3C167.7 194.6 171.2 199.2 171.4 200.5C171.5 201.7 169.2 206.3 168.3 206.9C167.4 207.4 162.8 206.8 162.2 205.8C161.6 204.9 161.7 198.5 162.2 197.4Z" fill="#0a0a0a"/>
<path d="M65.8 191.3C65.4 184.5 66.7 167.4 67.3 160.7C67.9 153.9 69.2 145.3 70.4 140.8C71.6 136.3 74.5 130.3 76.5 127C78.6 123.7 82.8 118.3 85.7 116.3C88.5 114.3 94.1 112.1 97.9 111.7C101.8 111.3 110.9 112.6 114.8 113.2C118.6 113.8 123.9 115.7 127 116.3C130.1 116.9 135.7 117.2 137.7 117.8C139.8 118.4 140.3 121.7 142.3 120.9C144.3 120.1 150.2 113.9 153 111.7C155.9 109.5 161.3 106 163.7 104.1C166.2 102.1 168.9 98.3 171.4 97.2C173.8 96 179.2 95 182.1 95.6C185 96.3 190.5 99.8 192.8 101.8C195.2 103.7 198.8 106.4 199.7 110.2C200.6 113.9 200 125.4 199.7 130.1C199.4 134.8 198.3 142.1 197.4 145.4C196.5 148.6 193.6 151.5 192.8 154.6C192 157.6 192.1 164.9 191.3 168.3C190.5 171.8 187.7 177.1 186.7 180.6C185.7 184 185.5 191.7 183.6 194.3C181.8 197 175.2 198.8 172.9 200.5C170.7 202.1 169.9 205.7 166.8 206.6C163.7 207.5 153.4 208 150 207.3C146.5 206.7 142.8 201.7 140.8 202C138.7 202.3 137.1 208 134.7 209.6C132.2 211.3 126.1 212.8 122.4 214.2C118.7 215.7 111.2 219 107.1 220.4C103 221.7 95.5 224 91.8 224.2C88.1 224.4 82.4 223.6 79.6 221.9C76.7 220.1 72.2 215.2 70.4 211.2C68.6 207.1 66.2 198 65.8 191.3Z" fill="#cfd6d5" stroke="#0a0a0a" stroke-width="2"/>
<g clip-path="url(#c11)">
<ellipse cx="82.6" cy="141.5" rx="8.4" ry="10.7" fill="#0c0c0c" opacity="0.9" filter="url(#b4)"/>
<ellipse cx="113.2" cy="129.3" rx="13.8" ry="9.2" fill="#0c0c0c" opacity="0.5" filter="url(#b5)"/>
<ellipse cx="153" cy="172.9" rx="10.7" ry="6.1" fill="#0c0c0c" opacity="0.5" filter="url(#b4)"/>
<ellipse cx="165.3" cy="189.7" rx="9.2" ry="6.1" fill="#0c0c0c" opacity="0.3" filter="url(#b4)"/>
<path d="M197.6 149.1C196.1 153.6 192.9 159.8 190.2 163.4C187.4 167 182.7 171.3 179.2 173.2C175.6 175.2 170.3 176.7 166.8 176.7C163.2 176.6 158.3 175.1 155.4 173C152.5 170.9 149.1 166.6 147.4 162.9C145.7 159.3 144.4 153 144.3 148.5C144.2 143.9 145.2 137.1 146.7 132.5C148.2 128 151.4 121.8 154.1 118.2C156.9 114.5 161.6 110.3 165.1 108.3C168.7 106.3 174 104.8 177.5 104.9C181.1 104.9 186 106.5 188.9 108.6C191.8 110.6 195.2 115 196.9 118.6C198.6 122.3 199.9 128.5 200 133.1C200.1 137.6 199.1 144.5 197.6 149.1Z" fill="#0c0c0c" stroke="#0c0c0c" stroke-width="13.6" filter="url(#b5)"/>
<path d="M197.6 149.1C196.1 153.6 192.9 159.8 190.2 163.4C187.4 167 182.7 171.3 179.2 173.2C175.6 175.2 170.3 176.7 166.8 176.7C163.2 176.6 158.3 175.1 155.4 173C152.5 170.9 149.1 166.6 147.4 162.9C145.7 159.3 144.4 153 144.3 148.5C144.2 143.9 145.2 137.1 146.7 132.5C148.2 128 151.4 121.8 154.1 118.2C156.9 114.5 161.6 110.3 165.1 108.3C168.7 106.3 174 104.8 177.5 104.9C181.1 104.9 186 106.5 188.9 108.6C191.8 110.6 195.2 115 196.9 118.6C198.6 122.3 199.9 128.5 200 133.1C200.1 137.6 199.1 144.5 197.6 149.1Z" fill="#cfd6d5" stroke="#fff" stroke-width="1.1"/>
<path d="M186.1 148.4C185.2 151.6 183.3 155.9 181.6 158.5C179.8 161.1 176.8 164.2 174.6 165.7C172.3 167.3 168.8 168.5 166.5 168.6C164.2 168.8 160.9 167.9 158.9 166.6C157 165.3 154.6 162.5 153.4 160.1C152.2 157.6 151.1 153.4 150.9 150.3C150.7 147.2 151.2 142.5 152.1 139.3C152.9 136.1 154.9 131.8 156.6 129.2C158.3 126.6 161.3 123.4 163.6 121.9C165.9 120.4 169.3 119.2 171.7 119C174 118.9 177.3 119.8 179.2 121.1C181.2 122.4 183.6 125.2 184.8 127.6C186 130.1 187 134.2 187.2 137.4C187.4 140.5 186.9 145.2 186.1 148.4Z" fill="#0c0c0c" stroke="#0c0c0c" stroke-width="17" filter="url(#b6)"/>
<path d="M186.1 148.4C185.2 151.6 183.3 155.9 181.6 158.5C179.8 161.1 176.8 164.2 174.6 165.7C172.3 167.3 168.8 168.5 166.5 168.6C164.2 168.8 160.9 167.9 158.9 166.6C157 165.3 154.6 162.5 153.4 160.1C152.2 157.6 151.1 153.4 150.9 150.3C150.7 147.2 151.2 142.5 152.1 139.3C152.9 136.1 154.9 131.8 156.6 129.2C158.3 126.6 161.3 123.4 163.6 121.9C165.9 120.4 169.3 119.2 171.7 119C174 118.9 177.3 119.8 179.2 121.1C181.2 122.4 183.6 125.2 184.8 127.6C186 130.1 187 134.2 187.2 137.4C187.4 140.5 186.9 145.2 186.1 148.4Z" fill="#cfd6d5" stroke="#fff" stroke-width="1.1"/>
<path d="M69.6 183.6C69.6 178.1 70.4 169.6 71.9 165.3C73.4 160.9 76.6 157.5 79.6 154.6C82.6 151.6 87.2 146.9 91.8 145.4C96.4 143.9 104.9 144.3 110.2 144.6C115.5 144.9 123.1 146.2 127 147.7C130.9 149.2 134.6 151.9 136.2 154.6C137.8 157.2 136.1 162.7 137.7 165.3C139.3 167.8 146 168.6 146.9 171.4C147.8 174.1 145.7 180.2 143.8 183.6C142 187.1 137.9 191.4 134.7 194.3C131.4 197.3 126.5 201.5 122.4 203.5C118.3 205.6 111.7 206.5 107.1 208.1C102.5 209.7 95.9 213.7 91.8 214.2C87.7 214.8 82.6 213.8 79.6 211.9C76.6 210.1 73.4 206.2 71.9 202C70.4 197.7 69.6 189.1 69.6 183.6Z" fill="#0c0c0c" stroke="#0c0c0c" stroke-width="13.6" filter="url(#b5)"/>
<path d="M69.6 183.6C69.6 178.1 70.4 169.6 71.9 165.3C73.4 160.9 76.6 157.5 79.6 154.6C82.6 151.6 87.2 146.9 91.8 145.4C96.4 143.9 104.9 144.3 110.2 144.6C115.5 144.9 123.1 146.2 127 147.7C130.9 149.2 134.6 151.9 136.2 154.6C137.8 157.2 136.1 162.7 137.7 165.3C139.3 167.8 146 168.6 146.9 171.4C147.8 174.1 145.7 180.2 143.8 183.6C142 187.1 137.9 191.4 134.7 194.3C131.4 197.3 126.5 201.5 122.4 203.5C118.3 205.6 111.7 206.5 107.1 208.1C102.5 209.7 95.9 213.7 91.8 214.2C87.7 214.8 82.6 213.8 79.6 211.9C76.6 210.1 73.4 206.2 71.9 202C70.4 197.7 69.6 189.1 69.6 183.6Z" fill="#cfd6d5" stroke="#fff" stroke-width="1.1"/>
<path d="M73.5 183.6C73.7 179.3 74.7 170.7 76.5 166.8C78.3 162.9 82.5 159.9 85.7 157.6C88.9 155.3 93.8 152.2 97.9 151.5C102.1 150.8 108.9 152.3 113.2 153C117.6 153.7 124.5 154 127 156.1C129.5 158.1 128.9 163.8 130.1 166.8C131.2 169.8 134.7 173 134.7 176C134.7 179 132.4 183.7 130.1 186.7C127.8 189.7 123.3 193.8 119.4 195.9C115.5 197.9 108.2 199.1 104.1 200.5C99.9 201.8 95.3 204.6 91.8 205C88.4 205.5 83.6 204.9 81.1 203.5C78.6 202.1 76.1 198.9 75 195.9C73.8 192.9 73.2 188 73.5 183.6Z" fill="#0c0c0c" stroke="#0c0c0c" stroke-width="11.9" filter="url(#b4)"/>
<path d="M73.5 183.6C73.7 179.3 74.7 170.7 76.5 166.8C78.3 162.9 82.5 159.9 85.7 157.6C88.9 155.3 93.8 152.2 97.9 151.5C102.1 150.8 108.9 152.3 113.2 153C117.6 153.7 124.5 154 127 156.1C129.5 158.1 128.9 163.8 130.1 166.8C131.2 169.8 134.7 173 134.7 176C134.7 179 132.4 183.7 130.1 186.7C127.8 189.7 123.3 193.8 119.4 195.9C115.5 197.9 108.2 199.1 104.1 200.5C99.9 201.8 95.3 204.6 91.8 205C88.4 205.5 83.6 204.9 81.1 203.5C78.6 202.1 76.1 198.9 75 195.9C73.8 192.9 73.2 188 73.5 183.6Z" fill="#cfd6d5" stroke="#fff" stroke-width="1.1"/>
<path d="M77.3 183.6C77.5 180.2 78.9 172.4 81.1 169.9C83.3 167.3 88.4 167.7 91.8 166.8C95.3 165.9 100.4 163.7 104.1 163.7C107.7 163.7 114 164.7 116.3 166.8C118.6 168.9 119.4 174.5 119.4 177.5C119.4 180.5 118.4 184.6 116.3 186.7C114.2 188.8 108.3 189.7 105.6 191.3C102.8 192.9 100.7 196.2 97.9 197.4C95.2 198.5 90 199.6 87.2 198.9C84.5 198.2 81.1 195.1 79.6 192.8C78.1 190.5 77 187.1 77.3 183.6Z" fill="#0c0c0c" stroke="#0c0c0c" stroke-width="10.2" filter="url(#b3)"/>
<path d="M77.3 183.6C77.5 180.2 78.9 172.4 81.1 169.9C83.3 167.3 88.4 167.7 91.8 166.8C95.3 165.9 100.4 163.7 104.1 163.7C107.7 163.7 114 164.7 116.3 166.8C118.6 168.9 119.4 174.5 119.4 177.5C119.4 180.5 118.4 184.6 116.3 186.7C114.2 188.8 108.3 189.7 105.6 191.3C102.8 192.9 100.7 196.2 97.9 197.4C95.2 198.5 90 199.6 87.2 198.9C84.5 198.2 81.1 195.1 79.6 192.8C78.1 190.5 77 187.1 77.3 183.6Z" fill="#cfd6d5" stroke="#fff" stroke-width="1.1"/>
<ellipse cx="90.3" cy="188.2" rx="7.7" ry="9.9" fill="#0c0c0c" opacity="0.95" filter="url(#b3)"/>
<ellipse cx="110.9" cy="177.5" rx="6.1" ry="6.4" fill="#0c0c0c" opacity="0.7" filter="url(#b3)"/>
<ellipse cx="169.9" cy="145.4" rx="13" ry="16.8" fill="#0c0c0c" opacity="0.95" filter="url(#b4)"/>
<ellipse cx="169.9" cy="145.4" rx="6.9" ry="8.9" fill="#d6dcdb" filter="url(#b2)"/>
<ellipse cx="81.1" cy="150.7" rx="2.1" ry="2.1" fill="#d6dcdb" filter="url(#b1)"/>
</g>
<path d="M74 89h4.1v4h-4.1zM85.9 232.9h4.1v4h-4.1zM78.6 236.7h4.1v4h-4.1zM133.4 235.9h4.1v4h-4.1zM100 240.2h4.1v4h-4.1zM92.1 252h4.1v4h-4.1zM118.1 257.7h4.1v4h-4.1z" fill="#111"/>
<rect x="48.7" y="33.4" width="163.6" height="131.9" fill="none" stroke="#0a0a0a" stroke-width="1.9"/>
<text transform="translate(203.1 58.6) scale(1 1.04)" font-size="28.2" text-anchor="end">40.3</text>
</g>
<rect x="1315.8" y="582.1" width="270" height="278.6" fill="none" stroke="#000" stroke-width="2.6"/>
<path d="M1444.5 860.7v4.2M1457.4 860.7v4.2M1466.6 860.7v4.2M1473.7 860.7v5.4M1479.5 860.7v4.2M1484.4 860.7v4.2M1488.7 860.7v4.2M1492.4 860.7v4.2M1515.1 860.7v4.2M1526.4 860.7v4.2M1534.5 860.7v4.2M1540.7 860.7v5.4M1545.8 860.7v4.2M1550.1 860.7v4.2M1553.8 860.7v4.2M1557.1 860.7v4.2M1579.3 860.7v4.2M1388.8 860.7v4.2M1392.5 860.7v4.2M1396.3 860.7v4.2M1400 860.7v4.2M1403.7 860.7v5.4M1407.5 860.7v4.2M1411.2 860.7v4.2M1414.9 860.7v4.2M1418.7 860.7v4.2M1371.6 860.7v4.2M1367.3 860.7v4.2M1363 860.7v4.2M1358.7 860.7v4.2M1354.4 860.7v5.4M1350 860.7v4.2M1345.7 860.7v4.2M1341.4 860.7v4.2M1337.1 860.7v4.2M1373.3 860.7v6.2M1374.8 860.7v6.2M1376.3 860.7v6.2M1377.8 860.7v6.2M1379.3 860.7v6.2M1380.8 860.7v6.2M1382.3 860.7v6.2" stroke="#000" stroke-width="1.8" fill="none"/>
<path d="M1332.8 860.7v8M1381.8 860.7v8M1422.4 860.7v8M1495.8 860.7v8M1560 860.7v8" stroke="#000" stroke-width="2.5" fill="none"/>
<path d="M1315.8 727.7h-4.2M1315.8 714.3h-4.2M1315.8 704.8h-4.2M1315.8 697.4h-5.4M1315.8 691.4h-4.2M1315.8 686.3h-4.2M1315.8 681.9h-4.2M1315.8 678h-4.2M1315.8 654.5h-4.2M1315.8 642.8h-4.2M1315.8 634.5h-4.2M1315.8 628.1h-5.4M1315.8 622.8h-4.2M1315.8 618.4h-4.2M1315.8 614.5h-4.2M1315.8 611.1h-4.2M1315.8 588.1h-4.2M1315.8 788.4h-4.2M1315.8 784.2h-4.2M1315.8 780h-4.2M1315.8 775.8h-4.2M1315.8 771.6h-5.4M1315.8 767.4h-4.2M1315.8 763.2h-4.2M1315.8 759h-4.2M1315.8 754.8h-4.2M1315.8 805.8h-4.2M1315.8 809.8h-4.2M1315.8 813.8h-4.2M1315.8 817.8h-4.2M1315.8 821.8h-5.4M1315.8 825.8h-4.2M1315.8 829.9h-4.2M1315.8 833.9h-4.2M1315.8 837.9h-4.2M1315.8 804.8h-6.2M1315.8 803.3h-6.2M1315.8 801.8h-6.2M1315.8 800.3h-6.2M1315.8 798.8h-6.2M1315.8 797.3h-6.2M1315.8 795.8h-6.2" stroke="#000" stroke-width="1.8" fill="none"/>
<path d="M1315.8 841.9h-8M1315.8 796.3h-8M1315.8 750.6h-8M1315.8 674.5h-8M1315.8 608.1h-8" stroke="#000" stroke-width="2.5" fill="none"/>
<text x="1330.2" y="884.2" font-size="8.8" class="t">-10<tspan dx="1.8" dy="-5.8">3</tspan></text>
<text x="1380" y="884.2" font-size="8.8" class="t">0</text>
<text x="1422.1" y="884.2" font-size="8.8" class="t">10<tspan dx="1.8" dy="-5.8">3</tspan></text>
<text x="1495.5" y="884.2" font-size="8.8" class="t">10<tspan dx="1.8" dy="-5.8">4</tspan></text>
<text x="1559.7" y="884.2" font-size="8.8" class="t">10<tspan dx="1.8" dy="-5.8">5</tspan></text>
<text x="1301.8" y="845.5" font-size="8.8" text-anchor="end" class="t">-10<tspan dx="1.8" dy="-5.8">3</tspan></text>
<text x="1297.3" y="799.9" font-size="8.8" text-anchor="end" class="t">0</text>
<text x="1301.8" y="754.2" font-size="8.8" text-anchor="end" class="t">10<tspan dx="1.8" dy="-5.8">3</tspan></text>
<text x="1301.8" y="678.1" font-size="8.8" text-anchor="end" class="t">10<tspan dx="1.8" dy="-5.8">4</tspan></text>
<text x="1301.8" y="611.7" font-size="8.8" text-anchor="end" class="t">10<tspan dx="1.8" dy="-5.8">5</tspan></text>
<text font-weight="bold" transform="translate(1.8 993.6) scale(1 1.04)" font-size="29.6" stroke-width="0">c</text>
<text transform="translate(85 999.5) scale(1 1.04)" font-size="28.8">Gated on CD3<tspan font-size="16.5" dy="-10.5">&#8211;</tspan><tspan dy="10.5" font-size="1">&#8203;</tspan>CD56<tspan font-size="16.5" dy="-10.5">+</tspan><tspan dy="10.5" font-size="1">&#8203;</tspan></text>
<line x1="84.2" y1="1013.4" x2="1583" y2="1013.4" stroke="#000" stroke-width="2.2" stroke-dasharray="11 10.45" stroke-dashoffset="5.4"/>
<text transform="translate(92.7 1055.3) scale(1 1.04)" font-size="28.8">FMO</text>
<text transform="translate(395 1055.3) scale(1 1.04)" font-size="28.8">HC Unstimulated</text>
<text transform="translate(704.5 1055.3) scale(1 1.04)" font-size="28.8">JSLE Unstimulated</text>
<text transform="translate(1014.8 1055.3) scale(1 1.04)" font-size="28.8">HC IL-2+IL15</text>
<text transform="translate(1319 1055.3) scale(1 1.04)" font-size="28.8">JSLE IL-2+IL-5</text>
<text transform="translate(47.1 1335.5) rotate(-90) scale(1 1.04)" font-size="28.8">CD69</text>
<line x1="37.6" y1="1254.5" x2="37.6" y2="1070.8" stroke="#000" stroke-width="2"/>
<path d="M37.6 1060.8l-7.2 18.5q7.2 -4.5 14.4 0z" fill="#000"/>
<text transform="translate(85 1389.7) scale(1 1.04)" font-size="28.8">CD56</text>
<line x1="176" y1="1381" x2="1580" y2="1381" stroke="#000" stroke-width="2"/>
<path d="M1590 1381l-18.5 -7.2q4.5 7.2 0 14.4z" fill="#000"/>
<text transform="translate(1596 1373.6) scale(1 1.04)" font-size="28.8">IL-2+IL-15</text>
<g transform="translate(86 1059)" clip-path="url(#pc)">
<path d="M137.7 185.9C139.2 185.2 151.3 185 153 185.9C154.7 186.8 156.1 194.3 154.6 195.1C153 195.9 139.4 194.5 137.7 193.6C136 192.7 136.2 186.7 137.7 185.9Z" fill="#0a0a0a"/>
<path d="M177.5 266.3C178.3 264.3 187.5 257.4 189 258.6C190.4 259.8 192.9 276.1 192 278C191.2 280 182 279.2 180.6 278C179.1 276.9 176.7 268.2 177.5 266.3Z" fill="#0a0a0a"/>
<path d="M107.1 260.1C109.3 259.5 129.3 257.8 131.6 258.6C133.9 259.4 132.2 267.5 130.1 268.1C127.9 268.7 112.5 265.5 110.2 264.7C107.9 263.9 105 260.7 107.1 260.1Z" fill="#0a0a0a"/>
<path d="M101 118.6C101.3 117.7 106 118.2 107.1 119.4C108.2 120.5 110.9 127.9 111.7 130.1C112.5 132.2 115.1 139.2 115.5 140.8C115.9 142.3 116.2 145.1 115.5 145.4C114.8 145.7 109.6 144.6 108.6 143.8C107.7 143.1 106 139.2 105.6 137.7C105.1 136.2 104.5 130.5 104.1 128.5C103.6 126.6 100.7 119.5 101 118.6Z" fill="#0a0a0a"/>
<path d="M77.3 166.8C77.7 165.6 81.3 160.7 82.6 159.9C83.9 159.1 89.1 158.6 90.3 159.1C91.4 159.7 94 164 94.1 165.3C94.3 166.5 92.8 170.5 91.8 171.4C90.8 172.2 85.5 173.7 84.2 173.7C82.8 173.7 78.7 172.1 78 171.4C77.4 170.7 76.8 167.9 77.3 166.8Z" fill="#0a0a0a"/>
<path d="M63.5 214.2C63.3 209.7 63.1 201.2 64.3 197.4C65.4 193.6 69.1 187.5 71.9 185.9C74.8 184.4 81.8 185.4 85.7 185.9C89.6 186.4 98.1 189.7 101 189.7C103.9 189.7 104.5 186.4 107.1 185.9C109.8 185.4 117.8 185.1 120.9 185.9C123.9 186.7 125.8 190.9 130.1 192C134.4 193.2 146.9 193.2 153 194.3C159.1 195.5 171.3 197.6 176 200.5C180.7 203.3 186.3 210.9 188.2 215.8C190.2 220.7 190.3 231.7 190.5 237.2C190.7 242.7 190.7 253.1 189.7 257.1C188.8 261.1 186.5 266.2 183.6 267C180.8 267.8 173.2 264.5 168.3 263.2C163.4 261.9 151 257.9 146.9 257.1C142.8 256.3 140.6 256.1 137.7 257.1C134.9 258.1 128.7 263.9 125.5 264.7C122.2 265.5 117.3 264.4 113.2 263.2C109.2 262 98.5 257.2 94.9 255.5C91.2 253.9 88.1 253 85.7 251C83.2 248.9 79.2 242.9 76.5 240.2C73.9 237.6 67.5 234.5 65.8 231.1C64.1 227.6 63.7 218.7 63.5 214.2Z" fill="#cfd6d5" stroke="#0a0a0a" stroke-width="2.2"/>
<g clip-path="url(#c12)">
<ellipse cx="153" cy="229.5" rx="18.4" ry="19.9" fill="#0c0c0c" opacity="0.9" filter="url(#b6)"/>
<ellipse cx="134.7" cy="214.2" rx="13.8" ry="10.7" fill="#0c0c0c" opacity="0.8" filter="url(#b5)"/>
<ellipse cx="146.9" cy="229.5" rx="11.5" ry="3.4" fill="#d6dcdb" filter="url(#b2)"/>
<path d="M66.6 214.2C65.8 209.9 66.6 203.3 68.1 200.5C69.6 197.6 72.5 195.7 76.5 195.1C80.5 194.5 88.9 195.6 94.9 196.6C100.8 197.7 110.8 199.3 116.3 202C121.8 204.6 127 211.2 131.6 214.2C136.2 217.2 142.8 219.8 146.9 221.9C151 223.9 157.2 225.9 159.1 228C161.1 230.1 161.3 234.2 159.9 235.7C158.5 237.1 154.2 238.2 150 237.9C145.7 237.7 138 234.7 131.6 234.1C125.2 233.5 114 233.9 107.1 234.1C100.2 234.4 90.7 236.3 85.7 235.7C80.6 235 76.3 232.7 73.5 229.5C70.6 226.3 67.4 218.6 66.6 214.2Z" fill="#0c0c0c" stroke="#0c0c0c" stroke-width="13.6" filter="url(#b5)"/>
<path d="M66.6 214.2C65.8 209.9 66.6 203.3 68.1 200.5C69.6 197.6 72.5 195.7 76.5 195.1C80.5 194.5 88.9 195.6 94.9 196.6C100.8 197.7 110.8 199.3 116.3 202C121.8 204.6 127 211.2 131.6 214.2C136.2 217.2 142.8 219.8 146.9 221.9C151 223.9 157.2 225.9 159.1 228C161.1 230.1 161.3 234.2 159.9 235.7C158.5 237.1 154.2 238.2 150 237.9C145.7 237.7 138 234.7 131.6 234.1C125.2 233.5 114 233.9 107.1 234.1C100.2 234.4 90.7 236.3 85.7 235.7C80.6 235 76.3 232.7 73.5 229.5C70.6 226.3 67.4 218.6 66.6 214.2Z" fill="#cfd6d5" stroke="#fff" stroke-width="1.1"/>
<path d="M68.6 214.2C68.3 210.9 68.7 205 70.4 202.8C72 200.5 75.4 199 79.6 198.9C83.7 198.8 92.9 200.6 97.9 202C103 203.4 110.1 205.8 113.2 208.1C116.3 210.4 118.6 214.8 118.6 217.3C118.6 219.8 116.8 223.3 113.2 224.9C109.7 226.5 99.9 227.3 94.9 228C89.8 228.7 83 230 79.6 229.5C76.1 229.1 73.6 227.2 71.9 224.9C70.3 222.6 68.8 217.6 68.6 214.2Z" fill="#0c0c0c" stroke="#0c0c0c" stroke-width="10.2" filter="url(#b3)"/>
<path d="M68.6 214.2C68.3 210.9 68.7 205 70.4 202.8C72 200.5 75.4 199 79.6 198.9C83.7 198.8 92.9 200.6 97.9 202C103 203.4 110.1 205.8 113.2 208.1C116.3 210.4 118.6 214.8 118.6 217.3C118.6 219.8 116.8 223.3 113.2 224.9C109.7 226.5 99.9 227.3 94.9 228C89.8 228.7 83 230 79.6 229.5C76.1 229.1 73.6 227.2 71.9 224.9C70.3 222.6 68.8 217.6 68.6 214.2Z" fill="#cfd6d5" stroke="#fff" stroke-width="1.1"/>
<path d="M94.6 215C94.6 216.3 94.1 218.3 93.4 219.5C92.7 220.7 91.3 222.3 90.1 223.1C88.9 224 86.8 224.8 85.3 225.1C83.8 225.4 81.5 225.4 80 225.1C78.5 224.8 76.4 224 75.2 223.1C74 222.3 72.6 220.7 71.9 219.5C71.2 218.3 70.7 216.3 70.7 215C70.7 213.6 71.2 211.7 71.9 210.5C72.6 209.3 74 207.7 75.2 206.9C76.4 206 78.5 205.2 80 204.8C81.5 204.5 83.8 204.5 85.3 204.8C86.8 205.2 88.9 206 90.1 206.9C91.3 207.7 92.7 209.3 93.4 210.5C94.1 211.7 94.6 213.6 94.6 215Z" fill="#0c0c0c" stroke="#0c0c0c" stroke-width="8.5" filter="url(#b3)"/>
<path d="M94.6 215C94.6 216.3 94.1 218.3 93.4 219.5C92.7 220.7 91.3 222.3 90.1 223.1C88.9 224 86.8 224.8 85.3 225.1C83.8 225.4 81.5 225.4 80 225.1C78.5 224.8 76.4 224 75.2 223.1C74 222.3 72.6 220.7 71.9 219.5C71.2 218.3 70.7 216.3 70.7 215C70.7 213.6 71.2 211.7 71.9 210.5C72.6 209.3 74 207.7 75.2 206.9C76.4 206 78.5 205.2 80 204.8C81.5 204.5 83.8 204.5 85.3 204.8C86.8 205.2 88.9 206 90.1 206.9C91.3 207.7 92.7 209.3 93.4 210.5C94.1 211.7 94.6 213.6 94.6 215Z" fill="#cfd6d5" stroke="#fff" stroke-width="1.1"/>
<ellipse cx="81.1" cy="215" rx="8.4" ry="8" fill="#0c0c0c" opacity="0.97" filter="url(#b2)"/>
<ellipse cx="102.5" cy="216.5" rx="12.2" ry="5.8" fill="#0c0c0c" opacity="0.55" filter="url(#b3)"/>
</g>
<path d="M77.5 116.3h4.1v4h-4.1zM134.9 117.8h4.1v4h-4.1zM93.9 127h4.1v4h-4.1zM90.8 146.7h4.1v4h-4.1zM107.8 150.7h4.1v4h-4.1zM118.5 152.2h4.1v4h-4.1zM136.9 153.8h4.1v4h-4.1zM87 153.8h4.1v4h-4.1zM74.9 172.7h4.1v4h-4.1zM173.5 193.9h4.1v4h-4.1zM123 269.9h4.1v4h-4.1z" fill="#111"/>
<rect x="60.1" y="28" width="144.9" height="154.9" fill="none" stroke="#0a0a0a" stroke-width="1.9"/>
<text transform="translate(196.9 51.7) scale(1 1.04)" font-size="28.2" text-anchor="end">1.68</text>
</g>
<rect x="86.8" y="1059.5" width="270" height="278.6" fill="none" stroke="#000" stroke-width="2.6"/>
<path d="M215.5 1338.1v4.2M228.4 1338.1v4.2M237.6 1338.1v4.2M244.7 1338.1v5.4M250.5 1338.1v4.2M255.4 1338.1v4.2M259.7 1338.1v4.2M263.4 1338.1v4.2M286.1 1338.1v4.2M297.4 1338.1v4.2M305.5 1338.1v4.2M311.7 1338.1v5.4M316.8 1338.1v4.2M321.1 1338.1v4.2M324.8 1338.1v4.2M328.1 1338.1v4.2M350.3 1338.1v4.2M159.8 1338.1v4.2M163.5 1338.1v4.2M167.3 1338.1v4.2M171 1338.1v4.2M174.7 1338.1v5.4M178.5 1338.1v4.2M182.2 1338.1v4.2M185.9 1338.1v4.2M189.7 1338.1v4.2M142.6 1338.1v4.2M138.3 1338.1v4.2M134 1338.1v4.2M129.7 1338.1v4.2M125.4 1338.1v5.4M121 1338.1v4.2M116.7 1338.1v4.2M112.4 1338.1v4.2M108.1 1338.1v4.2M144.3 1338.1v6.2M145.8 1338.1v6.2M147.3 1338.1v6.2M148.8 1338.1v6.2M150.3 1338.1v6.2M151.8 1338.1v6.2M153.3 1338.1v6.2" stroke="#000" stroke-width="1.8" fill="none"/>
<path d="M103.8 1338.1v8M152.8 1338.1v8M193.4 1338.1v8M266.8 1338.1v8M331 1338.1v8" stroke="#000" stroke-width="2.5" fill="none"/>
<path d="M86.8 1205.1h-4.2M86.8 1191.7h-4.2M86.8 1182.2h-4.2M86.8 1174.8h-5.4M86.8 1168.8h-4.2M86.8 1163.7h-4.2M86.8 1159.3h-4.2M86.8 1155.4h-4.2M86.8 1131.9h-4.2M86.8 1120.2h-4.2M86.8 1111.9h-4.2M86.8 1105.5h-5.4M86.8 1100.2h-4.2M86.8 1095.8h-4.2M86.8 1091.9h-4.2M86.8 1088.5h-4.2M86.8 1065.5h-4.2M86.8 1265.8h-4.2M86.8 1261.6h-4.2M86.8 1257.4h-4.2M86.8 1253.2h-4.2M86.8 1249h-5.4M86.8 1244.8h-4.2M86.8 1240.6h-4.2M86.8 1236.4h-4.2M86.8 1232.2h-4.2M86.8 1283.2h-4.2M86.8 1287.2h-4.2M86.8 1291.2h-4.2M86.8 1295.2h-4.2M86.8 1299.2h-5.4M86.8 1303.2h-4.2M86.8 1307.3h-4.2M86.8 1311.3h-4.2M86.8 1315.3h-4.2M86.8 1282.2h-6.2M86.8 1280.7h-6.2M86.8 1279.2h-6.2M86.8 1277.7h-6.2M86.8 1276.2h-6.2M86.8 1274.7h-6.2M86.8 1273.2h-6.2" stroke="#000" stroke-width="1.8" fill="none"/>
<path d="M86.8 1319.3h-8M86.8 1273.7h-8M86.8 1228h-8M86.8 1151.9h-8M86.8 1085.5h-8" stroke="#000" stroke-width="2.5" fill="none"/>
<text x="101.2" y="1361.6" font-size="8.8" class="t">-10<tspan dx="1.8" dy="-5.8">3</tspan></text>
<text x="151" y="1361.6" font-size="8.8" class="t">0</text>
<text x="193.1" y="1361.6" font-size="8.8" class="t">10<tspan dx="1.8" dy="-5.8">3</tspan></text>
<text x="266.5" y="1361.6" font-size="8.8" class="t">10<tspan dx="1.8" dy="-5.8">4</tspan></text>
<text x="330.7" y="1361.6" font-size="8.8" class="t">10<tspan dx="1.8" dy="-5.8">5</tspan></text>
<text x="72.8" y="1322.9" font-size="8.8" text-anchor="end" class="t">-10<tspan dx="1.8" dy="-5.8">3</tspan></text>
<text x="68.3" y="1277.3" font-size="8.8" text-anchor="end" class="t">0</text>
<text x="72.8" y="1231.6" font-size="8.8" text-anchor="end" class="t">10<tspan dx="1.8" dy="-5.8">3</tspan></text>
<text x="72.8" y="1155.5" font-size="8.8" text-anchor="end" class="t">10<tspan dx="1.8" dy="-5.8">4</tspan></text>
<text x="72.8" y="1089.1" font-size="8.8" text-anchor="end" class="t">10<tspan dx="1.8" dy="-5.8">5</tspan></text>
<g transform="translate(395 1059)" clip-path="url(#pc)">
<path d="M68.9 99.5C68.6 99.1 71.8 92.9 73.5 91.8C75.1 90.7 83.9 88.8 85.7 88.8C87.5 88.8 90.9 90.7 91.8 91.8C92.7 92.9 94.7 97.9 94.9 99.5C95 101 92.7 106.8 93.3 107.1C94 107.4 98.7 103.1 101 102.5C103.3 101.9 113.4 100.7 116.3 101C119.2 101.3 127.9 104.7 130.1 105.6C132.2 106.5 136.7 108.5 137.7 110.2C138.7 111.9 139.6 119.7 140 122.4C140.4 125.2 141.8 136.5 141.5 137.7C141.3 138.9 138.6 135.4 137.7 134.7C136.9 133.9 134.7 131.4 133.1 130.1C131.6 128.7 124.7 122.6 122.4 120.9C120.1 119.2 112.6 114.1 110.2 113.2C107.7 112.4 100.4 112 97.9 112.5C95.5 112.9 87.1 119.1 85.7 117.8C84.3 116.5 85.1 101.7 84.2 99.5C83.2 97.2 78 95.6 76.5 95.6C75 95.6 69.2 99.8 68.9 99.5Z" fill="#0a0a0a"/>
<path d="M65 214.2C65 208.1 65.3 190.8 65.8 183.6C66.3 176.5 68.6 166.8 68.9 160.7C69.2 154.6 67.7 142.8 68.1 137.7C68.5 132.6 71.8 126.1 71.9 122.4C72 118.7 69.2 113.2 68.9 110.2C68.6 107.1 68.6 101.4 69.6 99.5C70.6 97.5 74.6 95.6 76.5 95.6C78.4 95.6 82.9 96.9 84.2 99.5C85.4 102 83.9 113 85.7 114.8C87.5 116.5 94.7 112.7 97.9 112.5C101.2 112.3 106.9 112.1 110.2 113.2C113.4 114.4 119.4 118.6 122.4 120.9C125.5 123.1 130.7 127.2 133.1 130.1C135.6 132.9 138.7 139.2 140.8 142.3C142.8 145.4 146.6 149.6 148.4 153C150.3 156.5 153.1 163.8 154.6 168.3C156 172.8 157.1 182.4 159.1 186.7C161.2 191 167.2 196.4 169.9 200.5C172.5 204.5 177.2 212.4 179 217.3C180.9 222.2 183.2 231.5 183.6 237.2C184 242.9 182.9 255.9 182.1 260.1C181.3 264.4 179.7 267.5 177.5 269.3C175.3 271.2 167.9 273.9 165.3 273.9C162.6 273.9 159.2 269.2 157.6 269.3C156 269.4 155.3 273.7 153 274.7C150.8 275.7 144.5 276.6 140.8 276.7C137.1 276.8 129.6 276.2 125.5 275.4C121.4 274.7 114.3 272.1 110.2 270.8C106.1 269.6 98.5 268.1 94.9 266.3C91.2 264.4 85.5 260.5 82.6 257.1C79.8 253.6 75.7 243.9 73.5 240.2C71.2 236.6 66.9 233 65.8 229.5C64.7 226.1 65 220.4 65 214.2Z" fill="#cfd6d5" stroke="#0a0a0a" stroke-width="3"/>
<g clip-path="url(#c13)">
<ellipse cx="101" cy="137.7" rx="32.1" ry="24.5" fill="#0c0c0c" opacity="0.38" filter="url(#b6)"/>
<ellipse cx="119.4" cy="159.1" rx="30.6" ry="12.2" fill="#0c0c0c" opacity="0.97" filter="url(#b6)"/>
<ellipse cx="79.6" cy="140.8" rx="5.4" ry="9.2" fill="#0c0c0c" opacity="0.35" filter="url(#b4)"/>
<ellipse cx="107.1" cy="137.7" rx="6.1" ry="7.7" fill="#0c0c0c" opacity="0.35" filter="url(#b4)"/>
<ellipse cx="125.5" cy="137.7" rx="6.1" ry="7.7" fill="#0c0c0c" opacity="0.35" filter="url(#b4)"/>
<ellipse cx="91.8" cy="168.3" rx="18.4" ry="9.2" fill="#0c0c0c" opacity="0.5" filter="url(#b6)"/>
<ellipse cx="166" cy="244.8" rx="6.1" ry="9.2" fill="#0c0c0c" opacity="0.35" filter="url(#b4)"/>
<path d="M68.1 214.2C68.4 209.2 70.2 196.8 71.9 191.3C73.6 185.8 76.1 180.5 79.6 177.5C83 174.5 90.3 173 94.9 171.4C99.5 169.8 105.1 167 110.2 166.8C115.2 166.6 124.4 167.3 128.5 169.9C132.7 172.4 135 178.8 137.7 183.6C140.5 188.4 144.8 196.2 146.9 202C149 207.7 151.3 215.9 151.5 221.9C151.7 227.8 150.5 237.4 148.4 241.8C146.4 246.1 141.6 249.1 137.7 251C133.8 252.8 127 254 122.4 254C117.8 254 111.7 252.3 107.1 251C102.5 249.6 96.4 247.1 91.8 244.8C87.2 242.5 79.8 238.6 76.5 235.7C73.2 232.7 70.9 228.2 69.6 224.9C68.4 221.7 67.8 219.3 68.1 214.2Z" fill="#0c0c0c" stroke="#0c0c0c" stroke-width="17" filter="url(#b6)"/>
<path d="M68.1 214.2C68.4 209.2 70.2 196.8 71.9 191.3C73.6 185.8 76.1 180.5 79.6 177.5C83 174.5 90.3 173 94.9 171.4C99.5 169.8 105.1 167 110.2 166.8C115.2 166.6 124.4 167.3 128.5 169.9C132.7 172.4 135 178.8 137.7 183.6C140.5 188.4 144.8 196.2 146.9 202C149 207.7 151.3 215.9 151.5 221.9C151.7 227.8 150.5 237.4 148.4 241.8C146.4 246.1 141.6 249.1 137.7 251C133.8 252.8 127 254 122.4 254C117.8 254 111.7 252.3 107.1 251C102.5 249.6 96.4 247.1 91.8 244.8C87.2 242.5 79.8 238.6 76.5 235.7C73.2 232.7 70.9 228.2 69.6 224.9C68.4 221.7 67.8 219.3 68.1 214.2Z" fill="#cfd6d5" stroke="#fff" stroke-width="1.1"/>
<path d="M70.7 214.2C71.2 211 72.7 203.7 75 200.5C77.2 197.2 81.3 194.5 85.7 192.8C90.1 191.1 98.5 189.3 104.1 189C109.6 188.6 118.1 188.6 122.4 190.5C126.8 192.5 130.9 197.7 133.1 202C135.3 206.2 136.7 214 137 218.8C137.2 223.6 136.8 230.9 134.7 234.1C132.5 237.3 126.5 239.6 122.4 240.2C118.3 240.9 111.7 239.6 107.1 238.7C102.5 237.8 96.2 235.7 91.8 234.1C87.5 232.5 81 229.8 78 228C75.1 226.2 73 223.9 71.9 221.9C70.8 219.8 70.2 217.4 70.7 214.2Z" fill="#0c0c0c" stroke="#0c0c0c" stroke-width="13.6" filter="url(#b5)"/>
<path d="M70.7 214.2C71.2 211 72.7 203.7 75 200.5C77.2 197.2 81.3 194.5 85.7 192.8C90.1 191.1 98.5 189.3 104.1 189C109.6 188.6 118.1 188.6 122.4 190.5C126.8 192.5 130.9 197.7 133.1 202C135.3 206.2 136.7 214 137 218.8C137.2 223.6 136.8 230.9 134.7 234.1C132.5 237.3 126.5 239.6 122.4 240.2C118.3 240.9 111.7 239.6 107.1 238.7C102.5 237.8 96.2 235.7 91.8 234.1C87.5 232.5 81 229.8 78 228C75.1 226.2 73 223.9 71.9 221.9C70.8 219.8 70.2 217.4 70.7 214.2Z" fill="#cfd6d5" stroke="#fff" stroke-width="1.1"/>
<path d="M73.1 212.7C73.5 210.4 73.7 205.1 76.5 203.5C79.3 201.9 88.6 202.9 91.8 202C95 201.1 94.7 198.1 97.9 197.4C101.1 196.7 110.1 196.2 113.2 197.4C116.3 198.5 117.8 202.5 118.6 205C119.4 207.6 118.4 211.7 118.6 214.2C118.8 216.8 120.5 219.8 120.1 221.9C119.8 223.9 118.7 227.3 116.3 228C113.9 228.7 107.7 226.8 104.1 226.5C100.4 226.1 95.5 226.2 91.8 225.7C88.1 225.2 82.2 224.4 79.6 223.4C76.9 222.4 75.2 220.4 74.2 218.8C73.3 217.2 72.8 215 73.1 212.7Z" fill="#0c0c0c" stroke="#0c0c0c" stroke-width="10.2" filter="url(#b3)"/>
<path d="M73.1 212.7C73.5 210.4 73.7 205.1 76.5 203.5C79.3 201.9 88.6 202.9 91.8 202C95 201.1 94.7 198.1 97.9 197.4C101.1 196.7 110.1 196.2 113.2 197.4C116.3 198.5 117.8 202.5 118.6 205C119.4 207.6 118.4 211.7 118.6 214.2C118.8 216.8 120.5 219.8 120.1 221.9C119.8 223.9 118.7 227.3 116.3 228C113.9 228.7 107.7 226.8 104.1 226.5C100.4 226.1 95.5 226.2 91.8 225.7C88.1 225.2 82.2 224.4 79.6 223.4C76.9 222.4 75.2 220.4 74.2 218.8C73.3 217.2 72.8 215 73.1 212.7Z" fill="#cfd6d5" stroke="#fff" stroke-width="1.1"/>
<ellipse cx="80.3" cy="212.7" rx="6.1" ry="5.8" fill="#0c0c0c" opacity="0.97" filter="url(#b2)"/>
<ellipse cx="91.8" cy="213.5" rx="6.4" ry="5.8" fill="#0c0c0c" opacity="0.97" filter="url(#b2)"/>
<ellipse cx="105.6" cy="211.9" rx="8.9" ry="9.5" fill="#0c0c0c" opacity="0.97" filter="url(#b3)"/>
</g>
<path d="M92.8 84.5h4.1v4h-4.1zM99.7 83.7h4.1v4h-4.1zM100.5 94.4h4.1v4h-4.1zM115.8 93.9h4.1v4h-4.1zM143.3 107.7h4.1v4h-4.1zM160.9 113.1h4.1v4h-4.1zM200.7 114.3h4.1v4h-4.1zM157.1 120h4.1v4h-4.1zM165.8 121.6h4.1v4h-4.1zM192.3 120h4.1v4h-4.1zM142.9 127h4.1v4h-4.1zM148.7 140.3h4.1v4h-4.1zM167.8 143.4h4.1v4h-4.1zM194.9 142.9h4.1v4h-4.1zM154 150.3h4.1v4h-4.1zM175 156.8h4.1v4h-4.1zM159.8 161h4.1v4h-4.1zM161.4 167.1h4.1v4h-4.1zM190.8 167.1h4.1v4h-4.1zM168.9 170.1h4.1v4h-4.1zM177.4 175h4.1v4h-4.1zM157.1 174h4.1v4h-4.1zM203 177h4.1v4h-4.1zM168.9 187h4.1v4h-4.1zM182.8 187.7h4.1v4h-4.1zM172.4 192.3h4.1v4h-4.1zM175 195.4h4.1v4h-4.1zM181.6 210.2h4.1v4h-4.1zM180 216.8h4.1v4h-4.1zM186.9 232.9h4.1v4h-4.1zM201.9 232.6h4.1v4h-4.1zM185.9 253.2h4.1v4h-4.1zM192.7 262.3h4.1v4h-4.1zM170.9 264.3h4.1v4h-4.1zM175.5 266.9h4.1v4h-4.1zM164 267.6h4.1v4h-4.1zM130.3 273h4.1v4h-4.1zM182.8 274.2h4.1v4h-4.1z" fill="#111"/>
<rect x="59.7" y="28" width="144.6" height="154.9" fill="none" stroke="#0a0a0a" stroke-width="1.9"/>
<text transform="translate(196.2 51.7) scale(1 1.04)" font-size="28.2" text-anchor="end">19.3</text>
</g>
<rect x="395.8" y="1059.5" width="270" height="278.6" fill="none" stroke="#000" stroke-width="2.6"/>
<path d="M524.5 1338.1v4.2M537.4 1338.1v4.2M546.6 1338.1v4.2M553.7 1338.1v5.4M559.5 1338.1v4.2M564.4 1338.1v4.2M568.7 1338.1v4.2M572.4 1338.1v4.2M595.1 1338.1v4.2M606.4 1338.1v4.2M614.5 1338.1v4.2M620.7 1338.1v5.4M625.8 1338.1v4.2M630.1 1338.1v4.2M633.8 1338.1v4.2M637.1 1338.1v4.2M659.3 1338.1v4.2M468.8 1338.1v4.2M472.5 1338.1v4.2M476.3 1338.1v4.2M480 1338.1v4.2M483.7 1338.1v5.4M487.5 1338.1v4.2M491.2 1338.1v4.2M494.9 1338.1v4.2M498.7 1338.1v4.2M451.6 1338.1v4.2M447.3 1338.1v4.2M443 1338.1v4.2M438.7 1338.1v4.2M434.4 1338.1v5.4M430 1338.1v4.2M425.7 1338.1v4.2M421.4 1338.1v4.2M417.1 1338.1v4.2M453.3 1338.1v6.2M454.8 1338.1v6.2M456.3 1338.1v6.2M457.8 1338.1v6.2M459.3 1338.1v6.2M460.8 1338.1v6.2M462.3 1338.1v6.2" stroke="#000" stroke-width="1.8" fill="none"/>
<path d="M412.8 1338.1v8M461.8 1338.1v8M502.4 1338.1v8M575.8 1338.1v8M640 1338.1v8" stroke="#000" stroke-width="2.5" fill="none"/>
<path d="M395.8 1205.1h-4.2M395.8 1191.7h-4.2M395.8 1182.2h-4.2M395.8 1174.8h-5.4M395.8 1168.8h-4.2M395.8 1163.7h-4.2M395.8 1159.3h-4.2M395.8 1155.4h-4.2M395.8 1131.9h-4.2M395.8 1120.2h-4.2M395.8 1111.9h-4.2M395.8 1105.5h-5.4M395.8 1100.2h-4.2M395.8 1095.8h-4.2M395.8 1091.9h-4.2M395.8 1088.5h-4.2M395.8 1065.5h-4.2M395.8 1265.8h-4.2M395.8 1261.6h-4.2M395.8 1257.4h-4.2M395.8 1253.2h-4.2M395.8 1249h-5.4M395.8 1244.8h-4.2M395.8 1240.6h-4.2M395.8 1236.4h-4.2M395.8 1232.2h-4.2M395.8 1283.2h-4.2M395.8 1287.2h-4.2M395.8 1291.2h-4.2M395.8 1295.2h-4.2M395.8 1299.2h-5.4M395.8 1303.2h-4.2M395.8 1307.3h-4.2M395.8 1311.3h-4.2M395.8 1315.3h-4.2M395.8 1282.2h-6.2M395.8 1280.7h-6.2M395.8 1279.2h-6.2M395.8 1277.7h-6.2M395.8 1276.2h-6.2M395.8 1274.7h-6.2M395.8 1273.2h-6.2" stroke="#000" stroke-width="1.8" fill="none"/>
<path d="M395.8 1319.3h-8M395.8 1273.7h-8M395.8 1228h-8M395.8 1151.9h-8M395.8 1085.5h-8" stroke="#000" stroke-width="2.5" fill="none"/>
<text x="410.2" y="1361.6" font-size="8.8" class="t">-10<tspan dx="1.8" dy="-5.8">3</tspan></text>
<text x="460" y="1361.6" font-size="8.8" class="t">0</text>
<text x="502.1" y="1361.6" font-size="8.8" class="t">10<tspan dx="1.8" dy="-5.8">3</tspan></text>
<text x="575.5" y="1361.6" font-size="8.8" class="t">10<tspan dx="1.8" dy="-5.8">4</tspan></text>
<text x="639.7" y="1361.6" font-size="8.8" class="t">10<tspan dx="1.8" dy="-5.8">5</tspan></text>
<text x="381.8" y="1322.9" font-size="8.8" text-anchor="end" class="t">-10<tspan dx="1.8" dy="-5.8">3</tspan></text>
<text x="377.3" y="1277.3" font-size="8.8" text-anchor="end" class="t">0</text>
<text x="381.8" y="1231.6" font-size="8.8" text-anchor="end" class="t">10<tspan dx="1.8" dy="-5.8">3</tspan></text>
<text x="381.8" y="1155.5" font-size="8.8" text-anchor="end" class="t">10<tspan dx="1.8" dy="-5.8">4</tspan></text>
<text x="381.8" y="1089.1" font-size="8.8" text-anchor="end" class="t">10<tspan dx="1.8" dy="-5.8">5</tspan></text>
<g transform="translate(705 1059)" clip-path="url(#pc)">
<path d="M151.5 185.9C152.7 185.1 160.1 184.6 162.2 185.2C164.3 185.7 171.2 189.7 172.9 191.3C174.6 192.8 179.8 199.9 179 200.5C178.3 201 168.2 197.3 165.3 196.6C162.4 195.9 151.3 194.6 150 193.6C148.6 192.5 150.3 186.8 151.5 185.9Z" fill="#0a0a0a"/>
<path d="M63.5 211.2C63.4 206.7 64.5 197 65 191.3C65.5 185.6 66.9 175.5 67.3 168.3C67.7 161.2 67.9 145.9 68.1 137.7C68.3 129.6 68.1 112.2 68.9 107.1C69.6 102 71.6 100.9 73.5 99.5C75.3 98 80.2 96.2 82.6 96.4C85.1 96.6 89 99.8 91.8 101C94.7 102.2 100 104.8 104.1 105.6C108.1 106.4 117.9 106.9 122.4 107.1C126.9 107.3 134.5 106.7 137.7 107.1C141 107.5 145.9 108.1 146.9 110.2C147.9 112.2 145.4 119.2 145.4 122.4C145.4 125.7 145.9 131.6 146.9 134.7C147.9 137.7 152.4 142.3 153 145.4C153.6 148.4 152.1 154.6 151.5 157.6C150.9 160.7 148.2 165.3 148.4 168.3C148.6 171.4 152.8 177.3 153 180.6C153.2 183.8 148.3 190.8 150 192.8C151.6 194.8 161.6 194.4 165.3 195.9C168.9 197.3 174.6 201.1 177.5 203.5C180.4 206 184.8 210.8 186.7 214.2C188.5 217.7 190.5 225 191.3 229.5C192.1 234 192.4 243.4 192.8 247.9C193.2 252.4 194.7 259.2 194.3 263.2C193.9 267.2 191.8 276.1 189.7 278C187.7 280 181.9 280 179 278C176.2 276.1 171.8 266 168.3 263.2C164.9 260.4 156.7 257.9 153 257.1C149.3 256.3 143.8 256.3 140.8 257.1C137.7 257.9 133.3 262.2 130.1 263.2C126.8 264.2 120.4 265.1 116.3 264.7C112.2 264.3 103.1 261.2 99.5 260.1C95.8 259.1 91.4 258.7 88.8 257.1C86.1 255.4 81.8 251 79.6 247.9C77.3 244.8 73.8 237.2 71.9 234.1C70.1 231.1 66.9 228 65.8 224.9C64.7 221.9 63.6 215.7 63.5 211.2Z" fill="#cfd6d5" stroke="#0a0a0a" stroke-width="2.6"/>
<g clip-path="url(#c14)">
<ellipse cx="107.1" cy="120.9" rx="36.7" ry="14.5" fill="#0c0c0c" opacity="0.45" filter="url(#b6)"/>
<ellipse cx="79.6" cy="142.3" rx="7.7" ry="16.8" fill="#0c0c0c" opacity="0.85" filter="url(#b5)"/>
<ellipse cx="113.2" cy="127" rx="15.3" ry="6.9" fill="#0c0c0c" opacity="0.85" filter="url(#b5)"/>
<ellipse cx="182.1" cy="257.1" rx="9.2" ry="18.4" fill="#0c0c0c" opacity="0.9" filter="url(#b5)"/>
<ellipse cx="159.9" cy="231.1" rx="19.9" ry="15.3" fill="#0c0c0c" opacity="0.9" filter="url(#b5)"/>
<ellipse cx="137.7" cy="153" rx="8.4" ry="32.1" fill="#0c0c0c" opacity="0.6" filter="url(#b6)"/>
<ellipse cx="94.9" cy="252.5" rx="23" ry="6.1" fill="#0c0c0c" opacity="0.3" filter="url(#b5)"/>
<ellipse cx="159.9" cy="231.4" rx="8.4" ry="4.9" fill="#d6dcdb" filter="url(#b2)"/>
<path d="M67.3 211.2C67.7 205.2 70.8 190.5 71.9 183.6C73.1 176.7 72.9 169.4 75 165.3C77 161.1 82.2 158.8 85.7 156.1C89.1 153.3 94.9 149.9 97.9 146.9C100.9 143.9 102.4 138 105.6 136.2C108.8 134.4 115.2 133.5 119.4 134.7C123.5 135.8 130.8 139.9 133.1 143.8C135.4 147.7 134.9 155.9 134.7 160.7C134.4 165.5 131.6 170.7 131.6 176C131.6 181.3 133.3 190.1 134.7 195.9C136 201.6 140.3 209.2 140.8 214.2C141.2 219.3 140 225.9 137.7 229.5C135.4 233.2 130.1 236.6 125.5 238.7C120.9 240.8 112.2 243.1 107.1 243.3C102.1 243.5 96.2 241.8 91.8 240.2C87.5 238.6 81.4 235.1 78 232.6C74.7 230.1 71.2 226.6 69.6 223.4C68 220.2 67 217.1 67.3 211.2Z" fill="#0c0c0c" stroke="#0c0c0c" stroke-width="13.6" filter="url(#b5)"/>
<path d="M67.3 211.2C67.7 205.2 70.8 190.5 71.9 183.6C73.1 176.7 72.9 169.4 75 165.3C77 161.1 82.2 158.8 85.7 156.1C89.1 153.3 94.9 149.9 97.9 146.9C100.9 143.9 102.4 138 105.6 136.2C108.8 134.4 115.2 133.5 119.4 134.7C123.5 135.8 130.8 139.9 133.1 143.8C135.4 147.7 134.9 155.9 134.7 160.7C134.4 165.5 131.6 170.7 131.6 176C131.6 181.3 133.3 190.1 134.7 195.9C136 201.6 140.3 209.2 140.8 214.2C141.2 219.3 140 225.9 137.7 229.5C135.4 233.2 130.1 236.6 125.5 238.7C120.9 240.8 112.2 243.1 107.1 243.3C102.1 243.5 96.2 241.8 91.8 240.2C87.5 238.6 81.4 235.1 78 232.6C74.7 230.1 71.2 226.6 69.6 223.4C68 220.2 67 217.1 67.3 211.2Z" fill="#a7aead" stroke="#fff" stroke-width="1.1"/>
<path d="M69.6 211.2C69.9 205.9 73.5 194.4 75 188.2C76.5 182 77 173.8 79.6 169.9C82.1 166 87.7 164 91.8 162.2C95.9 160.4 102.8 157.2 107.1 157.6C111.5 158.1 118.4 161.8 120.9 165.3C123.4 168.7 123 175.5 123.9 180.6C124.9 185.6 125.6 193.9 127 198.9C128.4 204 132.7 209.9 133.1 214.2C133.6 218.6 132.6 225 130.1 228C127.5 231 120.9 233 116.3 234.1C111.7 235.3 104.1 236.1 99.5 235.7C94.9 235.2 89.6 232.9 85.7 231.1C81.8 229.2 75.9 226.4 73.5 223.4C71 220.4 69.4 216.4 69.6 211.2Z" fill="#0c0c0c" stroke="#0c0c0c" stroke-width="11.9" filter="url(#b4)"/>
<path d="M69.6 211.2C69.9 205.9 73.5 194.4 75 188.2C76.5 182 77 173.8 79.6 169.9C82.1 166 87.7 164 91.8 162.2C95.9 160.4 102.8 157.2 107.1 157.6C111.5 158.1 118.4 161.8 120.9 165.3C123.4 168.7 123 175.5 123.9 180.6C124.9 185.6 125.6 193.9 127 198.9C128.4 204 132.7 209.9 133.1 214.2C133.6 218.6 132.6 225 130.1 228C127.5 231 120.9 233 116.3 234.1C111.7 235.3 104.1 236.1 99.5 235.7C94.9 235.2 89.6 232.9 85.7 231.1C81.8 229.2 75.9 226.4 73.5 223.4C71 220.4 69.4 216.4 69.6 211.2Z" fill="#a7aead" stroke="#fff" stroke-width="1.1"/>
<path d="M71.9 211.2C72.6 207.7 76.9 201.5 78 197.4C79.2 193.3 78.9 187.1 79.6 183.6C80.3 180.2 79.9 176.3 82.6 174.4C85.4 172.6 96.6 172.8 97.9 171.4C99.3 170 90.9 167.1 91.8 165.3C92.7 163.4 100.4 158.9 104.1 159.1C107.7 159.4 113.8 163.1 116.3 166.8C118.8 170.5 120 178.8 120.9 183.6C121.8 188.4 121.3 194.8 122.4 198.9C123.6 203.1 127.8 208 128.5 211.2C129.2 214.4 129.1 218.5 127 220.4C124.9 222.2 116.8 222 114.8 223.4C112.7 224.8 116.2 228.6 113.2 229.5C110.3 230.4 99.9 230 94.9 229.5C89.8 229.1 82.8 227.8 79.6 226.5C76.4 225.1 74.6 222.6 73.5 220.4C72.3 218.1 71.2 214.6 71.9 211.2Z" fill="#0c0c0c" stroke="#0c0c0c" stroke-width="10.2" filter="url(#b3)"/>
<path d="M71.9 211.2C72.6 207.7 76.9 201.5 78 197.4C79.2 193.3 78.9 187.1 79.6 183.6C80.3 180.2 79.9 176.3 82.6 174.4C85.4 172.6 96.6 172.8 97.9 171.4C99.3 170 90.9 167.1 91.8 165.3C92.7 163.4 100.4 158.9 104.1 159.1C107.7 159.4 113.8 163.1 116.3 166.8C118.8 170.5 120 178.8 120.9 183.6C121.8 188.4 121.3 194.8 122.4 198.9C123.6 203.1 127.8 208 128.5 211.2C129.2 214.4 129.1 218.5 127 220.4C124.9 222.2 116.8 222 114.8 223.4C112.7 224.8 116.2 228.6 113.2 229.5C110.3 230.4 99.9 230 94.9 229.5C89.8 229.1 82.8 227.8 79.6 226.5C76.4 225.1 74.6 222.6 73.5 220.4C72.3 218.1 71.2 214.6 71.9 211.2Z" fill="#a7aead" stroke="#fff" stroke-width="1.1"/>
<ellipse cx="87.2" cy="212.7" rx="15.3" ry="8.4" fill="#0c0c0c" opacity="0.97" filter="url(#b3)"/>
<ellipse cx="122.4" cy="150.7" rx="10.7" ry="6.1" fill="#0c0c0c" opacity="0.9" filter="url(#b4)"/>
<ellipse cx="85.7" cy="189.7" rx="7.7" ry="10.7" fill="#0c0c0c" opacity="0.8" filter="url(#b4)"/>
<ellipse cx="110.2" cy="203.5" rx="6.9" ry="7.7" fill="#0c0c0c" opacity="0.55" filter="url(#b4)"/>
<ellipse cx="91.8" cy="176" rx="6.1" ry="4.6" fill="#0c0c0c" opacity="0.6" filter="url(#b3)"/>
<ellipse cx="111.2" cy="147.7" rx="4.6" ry="4.3" fill="#d6dcdb" filter="url(#b1)"/>
<ellipse cx="122.4" cy="215.8" rx="4.6" ry="8.4" fill="#d6dcdb" filter="url(#b3)"/>
<ellipse cx="102.5" cy="166.8" rx="6.4" ry="4.3" fill="#d6dcdb" filter="url(#b2)"/>
<ellipse cx="105.6" cy="189.7" rx="6.1" ry="4.9" fill="#d6dcdb" filter="url(#b2)"/>
</g>
<path d="M105.8 73h4.1v4h-4.1zM81.8 80.6h4.1v4h-4.1zM75.2 82.9h4.1v4h-4.1zM97 90.3h4.1v4h-4.1zM113.5 96.7h4.1v4h-4.1zM162.9 91.3h4.1v4h-4.1zM148.7 108.9h4.1v4h-4.1zM154.3 162.5h4.1v4h-4.1zM153.7 176.3h4.1v4h-4.1zM175.9 178.6h4.1v4h-4.1zM179 193.9h4.1v4h-4.1zM196.9 211.2h4.1v4h-4.1zM192 228h4.1v4h-4.1zM131.4 263.8h4.1v4h-4.1zM144.9 267.6h4.1v4h-4.1zM131.8 271.4h4.1v4h-4.1zM88.2 256.6h4.1v4h-4.1zM118.1 264.3h4.1v4h-4.1z" fill="#111"/>
<rect x="59.7" y="28" width="144.6" height="154.9" fill="none" stroke="#0a0a0a" stroke-width="1.9"/>
<text transform="translate(196.2 51.7) scale(1 1.04)" font-size="28.2" text-anchor="end">31.8</text>
</g>
<rect x="705.8" y="1059.5" width="270" height="278.6" fill="none" stroke="#000" stroke-width="2.6"/>
<path d="M834.5 1338.1v4.2M847.4 1338.1v4.2M856.6 1338.1v4.2M863.7 1338.1v5.4M869.5 1338.1v4.2M874.4 1338.1v4.2M878.7 1338.1v4.2M882.4 1338.1v4.2M905.1 1338.1v4.2M916.4 1338.1v4.2M924.5 1338.1v4.2M930.7 1338.1v5.4M935.8 1338.1v4.2M940.1 1338.1v4.2M943.8 1338.1v4.2M947.1 1338.1v4.2M969.3 1338.1v4.2M778.8 1338.1v4.2M782.5 1338.1v4.2M786.3 1338.1v4.2M790 1338.1v4.2M793.7 1338.1v5.4M797.5 1338.1v4.2M801.2 1338.1v4.2M804.9 1338.1v4.2M808.7 1338.1v4.2M761.6 1338.1v4.2M757.3 1338.1v4.2M753 1338.1v4.2M748.7 1338.1v4.2M744.4 1338.1v5.4M740 1338.1v4.2M735.7 1338.1v4.2M731.4 1338.1v4.2M727.1 1338.1v4.2M763.3 1338.1v6.2M764.8 1338.1v6.2M766.3 1338.1v6.2M767.8 1338.1v6.2M769.3 1338.1v6.2M770.8 1338.1v6.2M772.3 1338.1v6.2" stroke="#000" stroke-width="1.8" fill="none"/>
<path d="M722.8 1338.1v8M771.8 1338.1v8M812.4 1338.1v8M885.8 1338.1v8M950 1338.1v8" stroke="#000" stroke-width="2.5" fill="none"/>
<path d="M705.8 1205.1h-4.2M705.8 1191.7h-4.2M705.8 1182.2h-4.2M705.8 1174.8h-5.4M705.8 1168.8h-4.2M705.8 1163.7h-4.2M705.8 1159.3h-4.2M705.8 1155.4h-4.2M705.8 1131.9h-4.2M705.8 1120.2h-4.2M705.8 1111.9h-4.2M705.8 1105.5h-5.4M705.8 1100.2h-4.2M705.8 1095.8h-4.2M705.8 1091.9h-4.2M705.8 1088.5h-4.2M705.8 1065.5h-4.2M705.8 1265.8h-4.2M705.8 1261.6h-4.2M705.8 1257.4h-4.2M705.8 1253.2h-4.2M705.8 1249h-5.4M705.8 1244.8h-4.2M705.8 1240.6h-4.2M705.8 1236.4h-4.2M705.8 1232.2h-4.2M705.8 1283.2h-4.2M705.8 1287.2h-4.2M705.8 1291.2h-4.2M705.8 1295.2h-4.2M705.8 1299.2h-5.4M705.8 1303.2h-4.2M705.8 1307.3h-4.2M705.8 1311.3h-4.2M705.8 1315.3h-4.2M705.8 1282.2h-6.2M705.8 1280.7h-6.2M705.8 1279.2h-6.2M705.8 1277.7h-6.2M705.8 1276.2h-6.2M705.8 1274.7h-6.2M705.8 1273.2h-6.2" stroke="#000" stroke-width="1.8" fill="none"/>
<path d="M705.8 1319.3h-8M705.8 1273.7h-8M705.8 1228h-8M705.8 1151.9h-8M705.8 1085.5h-8" stroke="#000" stroke-width="2.5" fill="none"/>
<text x="720.2" y="1361.6" font-size="8.8" class="t">-10<tspan dx="1.8" dy="-5.8">3</tspan></text>
<text x="770" y="1361.6" font-size="8.8" class="t">0</text>
<text x="812.1" y="1361.6" font-size="8.8" class="t">10<tspan dx="1.8" dy="-5.8">3</tspan></text>
<text x="885.5" y="1361.6" font-size="8.8" class="t">10<tspan dx="1.8" dy="-5.8">4</tspan></text>
<text x="949.7" y="1361.6" font-size="8.8" class="t">10<tspan dx="1.8" dy="-5.8">5</tspan></text>
<text x="691.8" y="1322.9" font-size="8.8" text-anchor="end" class="t">-10<tspan dx="1.8" dy="-5.8">3</tspan></text>
<text x="687.3" y="1277.3" font-size="8.8" text-anchor="end" class="t">0</text>
<text x="691.8" y="1231.6" font-size="8.8" text-anchor="end" class="t">10<tspan dx="1.8" dy="-5.8">3</tspan></text>
<text x="691.8" y="1155.5" font-size="8.8" text-anchor="end" class="t">10<tspan dx="1.8" dy="-5.8">4</tspan></text>
<text x="691.8" y="1089.1" font-size="8.8" text-anchor="end" class="t">10<tspan dx="1.8" dy="-5.8">5</tspan></text>
<g transform="translate(1011 1059)" clip-path="url(#pc)">
<path d="M67.3 191.3C67.3 184.1 68.3 161.1 68.9 153C69.4 145 71.2 128.1 71.9 122.4C72.6 116.7 73.4 106.6 75 104.1C76.6 101.6 83.4 102.1 85.7 101C88 99.9 92.7 96.5 94.9 94.9C97 93.3 101.6 88.6 104.1 87.2C106.6 85.9 113.6 83.4 116.3 83.4C119 83.4 124.5 85.9 127 87.2C129.5 88.6 135.4 93.3 137.7 94.9C140 96.5 145.3 99.2 146.9 101C148.5 102.8 150.6 107.9 151.5 110.2C152.4 112.5 153.7 118.2 154.6 120.9C155.4 123.6 157.5 132.6 159.1 133.1C160.7 133.7 166.5 126.5 168.3 125.5C170.1 124.4 172.8 123.1 174.4 123.9C176.1 124.8 180.2 132.1 182.1 133.1C184 134.2 189.8 131.9 190.5 133.1C191.2 134.4 187.9 141.5 188.2 143.8C188.5 146.2 192.1 150.2 192.8 153C193.5 155.9 194.5 164.8 194.3 168.3C194.2 171.9 191.3 180.1 191.3 183.6C191.3 187.2 193.4 195.4 194.3 198.9C195.2 202.5 198.9 210.7 198.9 214.2C198.9 217.8 194.7 225.6 194.3 229.5C194 233.5 196.2 244.3 195.9 247.9C195.5 251.5 193.1 258.7 191.3 260.1C189.5 261.6 183.2 261.2 180.6 260.1C177.9 259.1 171.5 251.8 168.3 251C165.1 250.1 156.6 251.9 153 252.5C149.5 253 141.3 255 137.7 255.5C134.1 256.1 125.6 257.1 122.4 257.1C119.2 257.1 113 256.6 110.2 255.5C107.3 254.5 100.8 249.9 97.9 247.9C95.1 245.9 88.4 240.9 85.7 238.7C83 236.6 76.9 232.4 75 229.5C73 226.7 69.8 218.7 68.9 214.2C68 209.8 67.3 198.4 67.3 191.3Z" fill="#0a0a0a"/>
<path d="M69.6 191.3C69.6 183.1 70.5 162.2 71.2 153C71.8 143.8 73.3 128.3 74.2 122.4C75.1 116.5 76.1 111.1 78 108.6C80 106.2 86.1 105.5 88.8 104.1C91.4 102.6 95.5 99.8 97.9 97.9C100.4 96.1 104.7 91.7 107.1 90.3C109.6 88.9 113.6 87.1 116.3 87.2C118.9 87.3 124.4 89.6 127 91C129.7 92.5 133.9 96 136.2 97.9C138.4 99.9 142.2 103.1 143.8 105.6C145.5 108 147.2 113 148.4 116.3C149.7 119.6 151.8 127 153 130.1C154.2 133.1 155.6 138.2 157.6 139.2C159.7 140.3 165.9 137.5 168.3 137.7C170.8 137.9 174.3 139.1 176 140.8C177.6 142.4 179.5 146.7 180.6 150C181.6 153.2 182.9 161.2 183.6 165.3C184.3 169.3 184.9 177.5 185.9 180.6C186.9 183.6 190.3 185.4 191.3 188.2C192.3 191.1 193.8 197.5 193.6 202C193.4 206.5 190.5 217 189.7 221.9C189 226.8 188.6 234.6 188.2 238.7C187.8 242.8 188.1 250.9 186.7 252.5C185.3 254.1 180 252 177.5 251C175.1 249.9 171.6 245.6 168.3 244.8C165.1 244 157.1 244 153 244.8C148.9 245.6 141.8 249.7 137.7 251C133.6 252.2 126.1 254 122.4 254C118.7 254 113.4 252.2 110.2 251C106.9 249.7 101 246.9 97.9 244.8C94.9 242.8 90.1 238.1 87.2 235.7C84.4 233.2 78.7 229.3 76.5 226.5C74.4 223.6 72.1 218.9 71.2 214.2C70.2 209.5 69.6 199.4 69.6 191.3Z" fill="#cfd6d5" stroke="#0a0a0a" stroke-width="0.8"/>
<g clip-path="url(#c15)">
<ellipse cx="168.3" cy="197.4" rx="10.7" ry="9.2" fill="#0c0c0c" opacity="0.3" filter="url(#b5)"/>
<ellipse cx="166.8" cy="222.6" rx="6.9" ry="6.9" fill="#0c0c0c" opacity="0.3" filter="url(#b5)"/>
<ellipse cx="162.2" cy="168.3" rx="6.1" ry="23" fill="#0c0c0c" opacity="0.12" filter="url(#b6)"/>
<path d="M80.3 176C80.1 166.8 80.3 153.4 81.1 145.4C81.9 137.3 83.2 126.8 85.7 122.4C88.2 118.1 94.7 117.9 97.9 116.3C101.1 114.7 104.4 112.6 107.1 111.7C109.9 110.8 112.9 109 116.3 110.2C119.7 111.3 126.9 115.7 130.1 119.4C133.3 123 136.2 128.5 137.7 134.7C139.2 140.9 139.8 152.2 140 160.7C140.2 169.2 139.8 183.2 139.2 191.3C138.7 199.3 137.8 208.7 136.2 214.2C134.6 219.7 131.5 225 128.5 228C125.6 231 120 233.4 116.3 234.1C112.6 234.8 107.7 233.7 104.1 232.6C100.4 231.4 95 230.4 91.8 226.5C88.6 222.6 84.4 214.2 82.6 206.6C80.9 199 80.6 185.2 80.3 176Z" fill="#0c0c0c" stroke="#0c0c0c" stroke-width="20.4" filter="url(#b7)"/>
<path d="M80.3 176C80.1 166.8 80.3 153.4 81.1 145.4C81.9 137.3 83.2 126.8 85.7 122.4C88.2 118.1 94.7 117.9 97.9 116.3C101.1 114.7 104.4 112.6 107.1 111.7C109.9 110.8 112.9 109 116.3 110.2C119.7 111.3 126.9 115.7 130.1 119.4C133.3 123 136.2 128.5 137.7 134.7C139.2 140.9 139.8 152.2 140 160.7C140.2 169.2 139.8 183.2 139.2 191.3C138.7 199.3 137.8 208.7 136.2 214.2C134.6 219.7 131.5 225 128.5 228C125.6 231 120 233.4 116.3 234.1C112.6 234.8 107.7 233.7 104.1 232.6C100.4 231.4 95 230.4 91.8 226.5C88.6 222.6 84.4 214.2 82.6 206.6C80.9 199 80.6 185.2 80.3 176Z" fill="#cfd6d5" stroke="#fff" stroke-width="1.1"/>
<path d="M89.5 176C89.7 168.2 90.6 153.1 91.8 146.9C93.1 140.7 95.2 137 97.9 134.7C100.7 132.4 107.9 133.1 110.2 131.6C112.5 130.1 111.6 125.9 113.2 124.7C114.8 123.6 118.6 122 120.9 123.9C123.2 125.9 126.9 132.2 128.5 137.7C130.1 143.2 131.1 152.6 131.6 160.7C132.1 168.7 132.3 183.2 131.6 191.3C130.9 199.3 129.3 209.3 127 214.2C124.7 219.2 119.5 223.3 116.3 224.2C113.1 225.1 108.8 221.8 105.6 220.4C102.4 218.9 97.2 217.4 94.9 214.2C92.6 211 91.1 204.7 90.3 198.9C89.5 193.2 89.3 183.8 89.5 176Z" fill="#0c0c0c" stroke="#0c0c0c" stroke-width="13.6" filter="url(#b5)"/>
<path d="M89.5 176C89.7 168.2 90.6 153.1 91.8 146.9C93.1 140.7 95.2 137 97.9 134.7C100.7 132.4 107.9 133.1 110.2 131.6C112.5 130.1 111.6 125.9 113.2 124.7C114.8 123.6 118.6 122 120.9 123.9C123.2 125.9 126.9 132.2 128.5 137.7C130.1 143.2 131.1 152.6 131.6 160.7C132.1 168.7 132.3 183.2 131.6 191.3C130.9 199.3 129.3 209.3 127 214.2C124.7 219.2 119.5 223.3 116.3 224.2C113.1 225.1 108.8 221.8 105.6 220.4C102.4 218.9 97.2 217.4 94.9 214.2C92.6 211 91.1 204.7 90.3 198.9C89.5 193.2 89.3 183.8 89.5 176Z" fill="#cfd6d5" stroke="#fff" stroke-width="1.1"/>
<path d="M96.4 176C96.4 168.9 97.9 156.3 99.5 151.5C101.1 146.7 104.4 145 107.1 143.8C109.9 142.7 114.8 142.7 117.8 143.8C120.8 145 125.5 147.8 127 151.5C128.5 155.2 127.8 162.8 127.8 168.3C127.8 173.8 127.6 183.6 127 188.2C126.4 192.8 125.3 196.3 123.9 198.9C122.6 201.6 120.4 204.7 117.8 205.8C115.3 207 109.9 207.6 107.1 206.6C104.4 205.5 101.1 203.5 99.5 198.9C97.9 194.3 96.4 183.1 96.4 176Z" fill="#0c0c0c" stroke="#0c0c0c" stroke-width="10.2" filter="url(#b3)"/>
<path d="M96.4 176C96.4 168.9 97.9 156.3 99.5 151.5C101.1 146.7 104.4 145 107.1 143.8C109.9 142.7 114.8 142.7 117.8 143.8C120.8 145 125.5 147.8 127 151.5C128.5 155.2 127.8 162.8 127.8 168.3C127.8 173.8 127.6 183.6 127 188.2C126.4 192.8 125.3 196.3 123.9 198.9C122.6 201.6 120.4 204.7 117.8 205.8C115.3 207 109.9 207.6 107.1 206.6C104.4 205.5 101.1 203.5 99.5 198.9C97.9 194.3 96.4 183.1 96.4 176Z" fill="#cfd6d5" stroke="#fff" stroke-width="1.1"/>
<ellipse cx="113.2" cy="191.3" rx="11.9" ry="14.1" fill="#0c0c0c" opacity="0.97" filter="url(#b3)"/>
<ellipse cx="107.9" cy="166.8" rx="7.7" ry="16.8" fill="#0c0c0c" opacity="0.88" filter="url(#b4)"/>
<ellipse cx="120.9" cy="166.8" rx="5.8" ry="13.8" fill="#0c0c0c" opacity="0.7" filter="url(#b4)"/>
<ellipse cx="114" cy="159.1" rx="1.8" ry="7.7" fill="#d6dcdb" filter="url(#b2)"/>
</g>
<path d="M126 70.7h4.1v4h-4.1zM92.8 78.3h4.1v4h-4.1zM98.9 79.1h4.1v4h-4.1zM138.7 79.1h4.1v4h-4.1zM145.6 81.9h4.1v4h-4.1zM79.5 87.8h4.1v4h-4.1zM131.8 85.7h4.1v4h-4.1zM141 85.7h4.1v4h-4.1zM145.6 89h4.1v4h-4.1zM148.7 95.9h4.1v4h-4.1zM162 107h4.1v4h-4.1zM167 109.4h4.1v4h-4.1zM164 111.7h4.1v4h-4.1zM182.8 107h4.1v4h-4.1zM168.1 117.7h4.1v4h-4.1zM195.3 116.3h4.1v4h-4.1zM157.6 123.8h4.1v4h-4.1zM199.9 188.1h4.1v4h-4.1zM195.3 204.6h4.1v4h-4.1zM194.3 210.7h4.1v4h-4.1zM194.3 235.9h4.1v4h-4.1zM194.3 256.6h4.1v4h-4.1zM190.8 256.6h4.1v4h-4.1zM111.6 262.3h4.1v4h-4.1zM182.8 264.3h4.1v4h-4.1zM195.8 263.8h4.1v4h-4.1z" fill="#111"/>
<rect x="59.7" y="28" width="145.1" height="154.9" fill="none" stroke="#0a0a0a" stroke-width="1.9"/>
<text transform="translate(196.6 51.7) scale(1 1.04)" font-size="28.2" text-anchor="end">56.6</text>
</g>
<rect x="1011.8" y="1059.5" width="270" height="278.6" fill="none" stroke="#000" stroke-width="2.6"/>
<path d="M1140.5 1338.1v4.2M1153.4 1338.1v4.2M1162.6 1338.1v4.2M1169.7 1338.1v5.4M1175.5 1338.1v4.2M1180.4 1338.1v4.2M1184.7 1338.1v4.2M1188.4 1338.1v4.2M1211.1 1338.1v4.2M1222.4 1338.1v4.2M1230.5 1338.1v4.2M1236.7 1338.1v5.4M1241.8 1338.1v4.2M1246.1 1338.1v4.2M1249.8 1338.1v4.2M1253.1 1338.1v4.2M1275.3 1338.1v4.2M1084.8 1338.1v4.2M1088.5 1338.1v4.2M1092.3 1338.1v4.2M1096 1338.1v4.2M1099.7 1338.1v5.4M1103.5 1338.1v4.2M1107.2 1338.1v4.2M1110.9 1338.1v4.2M1114.7 1338.1v4.2M1067.6 1338.1v4.2M1063.3 1338.1v4.2M1059 1338.1v4.2M1054.7 1338.1v4.2M1050.4 1338.1v5.4M1046 1338.1v4.2M1041.7 1338.1v4.2M1037.4 1338.1v4.2M1033.1 1338.1v4.2M1069.3 1338.1v6.2M1070.8 1338.1v6.2M1072.3 1338.1v6.2M1073.8 1338.1v6.2M1075.3 1338.1v6.2M1076.8 1338.1v6.2M1078.3 1338.1v6.2" stroke="#000" stroke-width="1.8" fill="none"/>
<path d="M1028.8 1338.1v8M1077.8 1338.1v8M1118.4 1338.1v8M1191.8 1338.1v8M1256 1338.1v8" stroke="#000" stroke-width="2.5" fill="none"/>
<path d="M1011.8 1205.1h-4.2M1011.8 1191.7h-4.2M1011.8 1182.2h-4.2M1011.8 1174.8h-5.4M1011.8 1168.8h-4.2M1011.8 1163.7h-4.2M1011.8 1159.3h-4.2M1011.8 1155.4h-4.2M1011.8 1131.9h-4.2M1011.8 1120.2h-4.2M1011.8 1111.9h-4.2M1011.8 1105.5h-5.4M1011.8 1100.2h-4.2M1011.8 1095.8h-4.2M1011.8 1091.9h-4.2M1011.8 1088.5h-4.2M1011.8 1065.5h-4.2M1011.8 1265.8h-4.2M1011.8 1261.6h-4.2M1011.8 1257.4h-4.2M1011.8 1253.2h-4.2M1011.8 1249h-5.4M1011.8 1244.8h-4.2M1011.8 1240.6h-4.2M1011.8 1236.4h-4.2M1011.8 1232.2h-4.2M1011.8 1283.2h-4.2M1011.8 1287.2h-4.2M1011.8 1291.2h-4.2M1011.8 1295.2h-4.2M1011.8 1299.2h-5.4M1011.8 1303.2h-4.2M1011.8 1307.3h-4.2M1011.8 1311.3h-4.2M1011.8 1315.3h-4.2M1011.8 1282.2h-6.2M1011.8 1280.7h-6.2M1011.8 1279.2h-6.2M1011.8 1277.7h-6.2M1011.8 1276.2h-6.2M1011.8 1274.7h-6.2M1011.8 1273.2h-6.2" stroke="#000" stroke-width="1.8" fill="none"/>
<path d="M1011.8 1319.3h-8M1011.8 1273.7h-8M1011.8 1228h-8M1011.8 1151.9h-8M1011.8 1085.5h-8" stroke="#000" stroke-width="2.5" fill="none"/>
<text x="1026.2" y="1361.6" font-size="8.8" class="t">-10<tspan dx="1.8" dy="-5.8">3</tspan></text>
<text x="1076" y="1361.6" font-size="8.8" class="t">0</text>
<text x="1118.1" y="1361.6" font-size="8.8" class="t">10<tspan dx="1.8" dy="-5.8">3</tspan></text>
<text x="1191.5" y="1361.6" font-size="8.8" class="t">10<tspan dx="1.8" dy="-5.8">4</tspan></text>
<text x="1255.7" y="1361.6" font-size="8.8" class="t">10<tspan dx="1.8" dy="-5.8">5</tspan></text>
<text x="997.8" y="1322.9" font-size="8.8" text-anchor="end" class="t">-10<tspan dx="1.8" dy="-5.8">3</tspan></text>
<text x="993.3" y="1277.3" font-size="8.8" text-anchor="end" class="t">0</text>
<text x="997.8" y="1231.6" font-size="8.8" text-anchor="end" class="t">10<tspan dx="1.8" dy="-5.8">3</tspan></text>
<text x="997.8" y="1155.5" font-size="8.8" text-anchor="end" class="t">10<tspan dx="1.8" dy="-5.8">4</tspan></text>
<text x="997.8" y="1089.1" font-size="8.8" text-anchor="end" class="t">10<tspan dx="1.8" dy="-5.8">5</tspan></text>
<g transform="translate(1319 1059)" clip-path="url(#pc)">
<path d="M66.6 198.9C66.4 190 66.9 162.3 67.3 153C67.8 143.7 69.5 125.8 70.4 119.4C71.3 112.9 74.3 102 75 97.9C75.7 93.8 75.3 85.7 76.5 84.2C77.8 82.6 84.1 84.2 85.7 84.9C87.3 85.6 87.8 89.7 90.3 90.3C92.8 90.9 104.1 90.6 107.1 90.3C110.1 89.9 114.2 88.2 116.3 87.2C118.4 86.2 123.7 81.3 125.5 81.9C127.3 82.4 130.2 89.9 131.6 91.8C133 93.7 135.9 96.5 137.7 97.9C139.5 99.4 144.6 102.6 146.9 104.1C149.2 105.5 155.6 108.2 157.6 110.2C159.6 112.1 162.3 118.6 163.7 120.9C165.2 123.2 168.8 127.7 169.9 130.1C170.9 132.4 173.1 138.1 172.9 140.8C172.7 143.5 167.3 151.9 168.3 153C169.4 154.1 180.3 149.4 182.1 150C183.9 150.5 184.2 156.2 183.6 157.6C183.1 159 178.4 160.2 177.5 162.2C176.6 164.2 175.4 171.9 176 174.4C176.5 176.9 181.2 180.9 182.1 183.6C183 186.3 184.3 195.1 183.6 197.4C182.9 199.7 176.3 200.8 176 203.5C175.6 206.2 179.5 217.3 180.6 220.4C181.6 223.4 184.8 226.7 185.2 229.5C185.5 232.4 184 241.3 183.6 244.8C183.3 248.4 183.9 258.5 182.1 260.1C180.3 261.7 171 259.3 168.3 258.6C165.6 257.9 161.3 253.5 159.1 254C157 254.6 152.5 261.9 150 263.2C147.5 264.4 142 264.5 137.7 264.7C133.4 265 118.2 265.7 113.2 265.5C108.2 265.3 98.6 263.5 94.9 263.2C91.1 262.9 83.4 264.6 81.1 263.2C78.8 261.8 76.4 254.9 75 251C73.6 247 69.8 235.6 68.9 229.5C67.9 223.5 66.7 207.9 66.6 198.9Z" fill="#0a0a0a"/>
<path d="M68.9 198.9C68.7 188.7 69.1 163.6 69.6 153C70.1 142.4 71.4 126.1 72.7 119.4C74 112.6 77 105.7 79.6 102.5C82.1 99.4 88.1 96.7 91.8 95.6C95.5 94.6 102.6 94.9 107.1 94.9C111.6 94.9 121.4 94.4 125.5 95.6C129.6 96.9 134.9 101.7 137.7 104.1C140.6 106.4 145.3 110.8 146.9 113.2C148.5 115.7 148.3 121 150 122.4C151.6 123.8 157.1 122.5 159.1 123.9C161.2 125.4 164.7 130.3 165.3 133.1C165.9 136 163.9 142.3 163.7 145.4C163.5 148.4 162.9 153.4 163.7 156.1C164.5 158.7 168.4 162 169.9 165.3C171.3 168.5 173.4 177.1 174.4 180.6C175.5 184 177.7 188.4 177.5 191.3C177.3 194.1 173.1 198.1 172.9 202C172.7 205.9 175.2 216.3 176 220.4C176.8 224.4 179.4 229.3 179 232.6C178.6 235.9 175.2 242.6 172.9 244.8C170.7 247.1 164.9 248.4 162.2 249.4C159.5 250.4 155.1 251.1 153 252.5C151 253.9 149.8 258.7 146.9 260.1C144 261.6 136.1 262.9 131.6 263.2C127.1 263.5 118.1 263 113.2 262.4C108.3 261.8 99.4 259.3 94.9 258.6C90.4 257.9 82 258.9 79.6 257.1C77.1 255.2 77.6 248.5 76.5 244.8C75.4 241.2 72.2 235.7 71.2 229.5C70.1 223.4 69.1 209.1 68.9 198.9Z" fill="#cfd6d5" stroke="#0a0a0a" stroke-width="0.8"/>
<g clip-path="url(#c16)">
<ellipse cx="97.9" cy="113.2" rx="19.9" ry="8.4" fill="#0c0c0c" opacity="0.38" filter="url(#b6)"/>
<ellipse cx="131.6" cy="122.4" rx="12.2" ry="9.2" fill="#0c0c0c" opacity="0.35" filter="url(#b6)"/>
<ellipse cx="162.2" cy="198.9" rx="6.9" ry="35.2" fill="#0c0c0c" opacity="0.45" filter="url(#b6)"/>
<ellipse cx="79.6" cy="153" rx="4.6" ry="30.6" fill="#0c0c0c" opacity="0.3" filter="url(#b5)"/>
<path d="M91.8 134.7C94.6 131.7 102.1 125.9 105.6 125.5C109 125 113.2 129.1 114.8 131.6C116.4 134.1 114.5 140.2 116.3 142.3C118.1 144.4 123.8 143.3 127 145.4C130.2 147.4 135.2 151.9 137.7 156.1C140.2 160.2 142 166.5 143.8 172.9C145.7 179.3 149.5 191.6 150 198.9C150.4 206.3 148.7 215.9 146.9 221.9C145.1 227.8 141.4 235.3 137.7 238.7C134 242.2 127.5 244.8 122.4 244.8C117.4 244.8 109.6 241.5 104.1 238.7C98.5 236 90.1 230.6 85.7 226.5C81.3 222.3 76.6 218.7 75 211.2C73.4 203.6 74.5 184.7 75 176C75.4 167.3 76.2 157.6 78 153C79.9 148.4 85.2 148.1 87.2 145.4C89.3 142.6 89.1 137.6 91.8 134.7Z" fill="#0c0c0c" stroke="#0c0c0c" stroke-width="23.8" filter="url(#b8)"/>
<path d="M91.8 134.7C94.6 131.7 102.1 125.9 105.6 125.5C109 125 113.2 129.1 114.8 131.6C116.4 134.1 114.5 140.2 116.3 142.3C118.1 144.4 123.8 143.3 127 145.4C130.2 147.4 135.2 151.9 137.7 156.1C140.2 160.2 142 166.5 143.8 172.9C145.7 179.3 149.5 191.6 150 198.9C150.4 206.3 148.7 215.9 146.9 221.9C145.1 227.8 141.4 235.3 137.7 238.7C134 242.2 127.5 244.8 122.4 244.8C117.4 244.8 109.6 241.5 104.1 238.7C98.5 236 90.1 230.6 85.7 226.5C81.3 222.3 76.6 218.7 75 211.2C73.4 203.6 74.5 184.7 75 176C75.4 167.3 76.2 157.6 78 153C79.9 148.4 85.2 148.1 87.2 145.4C89.3 142.6 89.1 137.6 91.8 134.7Z" fill="#cfd6d5" stroke="#fff" stroke-width="1.1"/>
<path d="M97.9 165.3C102.1 162.5 109.6 161.5 113.2 162.2C116.9 162.9 119.4 168 122.4 169.9C125.4 171.7 130.6 171.2 133.1 174.4C135.7 177.7 138.6 185.3 139.2 191.3C139.9 197.2 139.1 208.5 137.7 214.2C136.3 220 133.5 226.3 130.1 229.5C126.6 232.7 119.4 235.7 114.8 235.7C110.2 235.7 103.6 232.3 99.5 229.5C95.3 226.8 90 221.9 87.2 217.3C84.5 212.7 81.3 204.4 81.1 198.9C80.9 193.4 83.2 185.6 85.7 180.6C88.2 175.5 93.8 168 97.9 165.3Z" fill="#0c0c0c" stroke="#0c0c0c" stroke-width="15.3" filter="url(#b5)"/>
<path d="M97.9 165.3C102.1 162.5 109.6 161.5 113.2 162.2C116.9 162.9 119.4 168 122.4 169.9C125.4 171.7 130.6 171.2 133.1 174.4C135.7 177.7 138.6 185.3 139.2 191.3C139.9 197.2 139.1 208.5 137.7 214.2C136.3 220 133.5 226.3 130.1 229.5C126.6 232.7 119.4 235.7 114.8 235.7C110.2 235.7 103.6 232.3 99.5 229.5C95.3 226.8 90 221.9 87.2 217.3C84.5 212.7 81.3 204.4 81.1 198.9C80.9 193.4 83.2 185.6 85.7 180.6C88.2 175.5 93.8 168 97.9 165.3Z" fill="#cfd6d5" stroke="#fff" stroke-width="1.1"/>
<path d="M96.4 185.2C99.2 183.1 109.8 184.7 113.2 185.2C116.7 185.6 117.3 187.8 119.4 188.2C121.4 188.7 125.2 186.1 127 188.2C128.8 190.3 130.9 197.6 131.6 202C132.3 206.3 133 213.4 131.6 217.3C130.2 221.2 125.6 226.2 122.4 228C119.2 229.8 113.8 230 110.2 229.5C106.5 229.1 100.7 227.2 97.9 224.9C95.2 222.6 92.3 218.1 91.8 214.2C91.4 210.3 94.2 203.3 94.9 198.9C95.6 194.6 93.6 187.2 96.4 185.2Z" fill="#0c0c0c" stroke="#0c0c0c" stroke-width="11.9" filter="url(#b4)"/>
<path d="M96.4 185.2C99.2 183.1 109.8 184.7 113.2 185.2C116.7 185.6 117.3 187.8 119.4 188.2C121.4 188.7 125.2 186.1 127 188.2C128.8 190.3 130.9 197.6 131.6 202C132.3 206.3 133 213.4 131.6 217.3C130.2 221.2 125.6 226.2 122.4 228C119.2 229.8 113.8 230 110.2 229.5C106.5 229.1 100.7 227.2 97.9 224.9C95.2 222.6 92.3 218.1 91.8 214.2C91.4 210.3 94.2 203.3 94.9 198.9C95.6 194.6 93.6 187.2 96.4 185.2Z" fill="#cfd6d5" stroke="#fff" stroke-width="1.1"/>
<ellipse cx="114.8" cy="213.5" rx="14.1" ry="15.6" fill="#0c0c0c" opacity="0.97" filter="url(#b3)"/>
<ellipse cx="105.6" cy="172.9" rx="9.9" ry="7.7" fill="#0c0c0c" opacity="0.92" filter="url(#b4)"/>
<ellipse cx="88.8" cy="202" rx="3.1" ry="4" fill="#d6dcdb" filter="url(#b1)"/>
<ellipse cx="105.6" cy="137.7" rx="6.9" ry="6.9" fill="#d6dcdb" filter="url(#b3)"/>
</g>
<path d="M78.6 70.7h4.1v4h-4.1zM107.8 74.8h4.1v4h-4.1zM113 76.5h4.1v4h-4.1zM88.2 81.1h4.1v4h-4.1zM91.6 82.6h4.1v4h-4.1zM102 82.6h4.1v4h-4.1zM145.9 85.7h4.1v4h-4.1zM178.5 83.7h4.1v4h-4.1zM145.9 97.8h4.1v4h-4.1zM173.9 103.6h4.1v4h-4.1zM165.8 111.7h4.1v4h-4.1zM186.2 113.2h4.1v4h-4.1zM170.9 121.9h4.1v4h-4.1zM178.5 123.5h4.1v4h-4.1zM172.4 137.2h4.1v4h-4.1zM180 167.1h4.1v4h-4.1zM177 172.4h4.1v4h-4.1zM194.9 186.2h4.1v4h-4.1zM181.6 192.3h4.1v4h-4.1zM182.8 214.8h4.1v4h-4.1zM156 257.8h4.1v4h-4.1zM177 260.1h4.1v4h-4.1zM154.3 265h4.1v4h-4.1zM119.3 267.6h4.1v4h-4.1zM149.9 268.8h4.1v4h-4.1z" fill="#111"/>
<rect x="60.1" y="28" width="144.9" height="154.9" fill="none" stroke="#0a0a0a" stroke-width="1.9"/>
<text transform="translate(196.9 51.7) scale(1 1.04)" font-size="28.2" text-anchor="end">37.3</text>
</g>
<rect x="1319.8" y="1059.5" width="270" height="278.6" fill="none" stroke="#000" stroke-width="2.6"/>
<path d="M1448.5 1338.1v4.2M1461.4 1338.1v4.2M1470.6 1338.1v4.2M1477.7 1338.1v5.4M1483.5 1338.1v4.2M1488.4 1338.1v4.2M1492.7 1338.1v4.2M1496.4 1338.1v4.2M1519.1 1338.1v4.2M1530.4 1338.1v4.2M1538.5 1338.1v4.2M1544.7 1338.1v5.4M1549.8 1338.1v4.2M1554.1 1338.1v4.2M1557.8 1338.1v4.2M1561.1 1338.1v4.2M1583.3 1338.1v4.2M1392.8 1338.1v4.2M1396.5 1338.1v4.2M1400.3 1338.1v4.2M1404 1338.1v4.2M1407.7 1338.1v5.4M1411.5 1338.1v4.2M1415.2 1338.1v4.2M1418.9 1338.1v4.2M1422.7 1338.1v4.2M1375.6 1338.1v4.2M1371.3 1338.1v4.2M1367 1338.1v4.2M1362.7 1338.1v4.2M1358.4 1338.1v5.4M1354 1338.1v4.2M1349.7 1338.1v4.2M1345.4 1338.1v4.2M1341.1 1338.1v4.2M1377.3 1338.1v6.2M1378.8 1338.1v6.2M1380.3 1338.1v6.2M1381.8 1338.1v6.2M1383.3 1338.1v6.2M1384.8 1338.1v6.2M1386.3 1338.1v6.2" stroke="#000" stroke-width="1.8" fill="none"/>
<path d="M1336.8 1338.1v8M1385.8 1338.1v8M1426.4 1338.1v8M1499.8 1338.1v8M1564 1338.1v8" stroke="#000" stroke-width="2.5" fill="none"/>
<path d="M1319.8 1205.1h-4.2M1319.8 1191.7h-4.2M1319.8 1182.2h-4.2M1319.8 1174.8h-5.4M1319.8 1168.8h-4.2M1319.8 1163.7h-4.2M1319.8 1159.3h-4.2M1319.8 1155.4h-4.2M1319.8 1131.9h-4.2M1319.8 1120.2h-4.2M1319.8 1111.9h-4.2M1319.8 1105.5h-5.4M1319.8 1100.2h-4.2M1319.8 1095.8h-4.2M1319.8 1091.9h-4.2M1319.8 1088.5h-4.2M1319.8 1065.5h-4.2M1319.8 1265.8h-4.2M1319.8 1261.6h-4.2M1319.8 1257.4h-4.2M1319.8 1253.2h-4.2M1319.8 1249h-5.4M1319.8 1244.8h-4.2M1319.8 1240.6h-4.2M1319.8 1236.4h-4.2M1319.8 1232.2h-4.2M1319.8 1283.2h-4.2M1319.8 1287.2h-4.2M1319.8 1291.2h-4.2M1319.8 1295.2h-4.2M1319.8 1299.2h-5.4M1319.8 1303.2h-4.2M1319.8 1307.3h-4.2M1319.8 1311.3h-4.2M1319.8 1315.3h-4.2M1319.8 1282.2h-6.2M1319.8 1280.7h-6.2M1319.8 1279.2h-6.2M1319.8 1277.7h-6.2M1319.8 1276.2h-6.2M1319.8 1274.7h-6.2M1319.8 1273.2h-6.2" stroke="#000" stroke-width="1.8" fill="none"/>
<path d="M1319.8 1319.3h-8M1319.8 1273.7h-8M1319.8 1228h-8M1319.8 1151.9h-8M1319.8 1085.5h-8" stroke="#000" stroke-width="2.5" fill="none"/>
<text x="1334.2" y="1361.6" font-size="8.8" class="t">-10<tspan dx="1.8" dy="-5.8">3</tspan></text>
<text x="1384" y="1361.6" font-size="8.8" class="t">0</text>
<text x="1426.1" y="1361.6" font-size="8.8" class="t">10<tspan dx="1.8" dy="-5.8">3</tspan></text>
<text x="1499.5" y="1361.6" font-size="8.8" class="t">10<tspan dx="1.8" dy="-5.8">4</tspan></text>
<text x="1563.7" y="1361.6" font-size="8.8" class="t">10<tspan dx="1.8" dy="-5.8">5</tspan></text>
<text x="1305.8" y="1322.9" font-size="8.8" text-anchor="end" class="t">-10<tspan dx="1.8" dy="-5.8">3</tspan></text>
<text x="1301.3" y="1277.3" font-size="8.8" text-anchor="end" class="t">0</text>
<text x="1305.8" y="1231.6" font-size="8.8" text-anchor="end" class="t">10<tspan dx="1.8" dy="-5.8">3</tspan></text>
<text x="1305.8" y="1155.5" font-size="8.8" text-anchor="end" class="t">10<tspan dx="1.8" dy="-5.8">4</tspan></text>
<text x="1305.8" y="1089.1" font-size="8.8" text-anchor="end" class="t">10<tspan dx="1.8" dy="-5.8">5</tspan></text>
<text font-weight="bold" transform="translate(1.8 1480.7) scale(1 1.04)" font-size="29.6" stroke-width="0">d</text>
<text transform="translate(81.8 1479.5) scale(1 1.04)" font-size="28.8">Gated on CD3<tspan font-size="16.5" dy="-10.5">&#8211;</tspan><tspan dy="10.5" font-size="1">&#8203;</tspan>CD56<tspan font-size="16.5" dy="-10.5">+</tspan><tspan dy="10.5" font-size="1">&#8203;</tspan></text>
<line x1="87.8" y1="1492.6" x2="1587.5" y2="1492.6" stroke="#000" stroke-width="2.2" stroke-dasharray="11 10.45" stroke-dashoffset="5.4"/>
<text transform="translate(82.8 1536.4) scale(1 1.04)" font-size="28.8">FMO</text>
<text transform="translate(391.5 1536.4) scale(1 1.04)" font-size="28.8">HC Unstimulated</text>
<text transform="translate(701.3 1536.4) scale(1 1.04)" font-size="28.8">JSLE Unstimulated</text>
<text transform="translate(1004.9 1536.4) scale(1 1.04)" font-size="28.8">HC IL-2+IL15</text>
<text transform="translate(1316 1536.4) scale(1 1.04)" font-size="28.8">JSLE IL-2+IL-5</text>
<text transform="translate(46.4 1823.4) rotate(-90) scale(1 1.04)" font-size="28.8">CD107a</text>
<line x1="43.5" y1="1716.7" x2="43.5" y2="1570.6" stroke="#000" stroke-width="2"/>
<path d="M43.5 1560.6l-7.2 18.5q7.2 -4.5 14.4 0z" fill="#000"/>
<text transform="translate(85 1868.1) scale(1 1.04)" font-size="28.8">CD56</text>
<line x1="176" y1="1859" x2="1580" y2="1859" stroke="#000" stroke-width="2"/>
<path d="M1590 1859l-18.5 -7.2q4.5 7.2 0 14.4z" fill="#000"/>
<text transform="translate(1596 1856.4) scale(1 1.04)" font-size="28.8">IL-2+IL-15</text>
<g transform="translate(86 1544)" clip-path="url(#pc)">
<path d="M62.7 203.5C62.7 200.8 64.7 190.7 65.8 188.2C66.9 185.7 71.5 179.3 73.5 178.3C75.4 177.2 82.9 177.1 85.7 177.5C88.4 177.9 98.2 181.8 101 182.1C103.7 182.4 111.1 180.6 113.2 180.6C115.4 180.5 121.5 181.9 122.4 181.3C123.3 180.7 121.8 175.4 122.4 174.4C123 173.4 127.3 171.4 128.5 171.4C129.8 171.4 133.9 173.4 134.7 174.4C135.4 175.5 134.4 181.4 136.2 182.1C138 182.8 150.4 181.6 153 181.3C155.6 181 160.9 180.2 162.2 179C163.5 177.9 165 171 166 169.9C167.1 168.7 171.7 167.6 172.9 167.6C174.1 167.6 177.7 168.7 178.3 169.9C178.8 171 177.7 177.2 178.3 179C178.8 180.9 183.2 185.5 183.6 188.2C184.1 191 183.2 203.8 182.9 206.6C182.6 209.3 182 214.8 180.6 215.8C179.1 216.8 170.5 217 168.3 216.5C166.2 216.1 160.8 211.4 159.1 211.2C157.5 210.9 154.4 213.6 151.5 214.2C148.6 214.8 134.5 216.8 130.1 217.3C125.6 217.7 110.9 218.4 107.1 218.8C103.3 219.3 94.9 221.4 91.8 221.9C88.8 222.3 79.1 224 76.5 223.4C73.9 222.8 67.2 217.7 65.8 215.8C64.4 213.8 62.7 206.3 62.7 203.5Z" fill="#cfd6d5" stroke="#0a0a0a" stroke-width="1.8"/>
<g clip-path="url(#c17)">
<ellipse cx="169.1" cy="197.4" rx="13.8" ry="15.3" fill="#0c0c0c" opacity="0.97" filter="url(#b4)"/>
<ellipse cx="145.4" cy="197.4" rx="9.2" ry="13" fill="#0c0c0c" opacity="0.97" filter="url(#b4)"/>
<ellipse cx="91.8" cy="185.9" rx="23" ry="3.8" fill="#0c0c0c" opacity="0.6" filter="url(#b4)"/>
<ellipse cx="125.5" cy="192.8" rx="9.2" ry="4.6" fill="#0c0c0c" opacity="0.6" filter="url(#b3)"/>
<ellipse cx="169.1" cy="197.4" rx="3.7" ry="4" fill="#d6dcdb" filter="url(#b1)"/>
<ellipse cx="132.4" cy="202.8" rx="5.5" ry="5.2" fill="#d6dcdb" filter="url(#b2)"/>
<path d="M65.5 203.5C65.8 200.5 66.7 195.1 68.9 192.8C71 190.5 75.2 188.8 79.6 188.2C83.9 187.6 92.4 188.5 97.9 189C103.4 189.4 112.9 189.8 116.3 191.3C119.7 192.8 120.9 196.6 120.9 198.9C120.9 201.2 119.3 204.7 116.3 206.6C113.3 208.4 105.6 209.6 101 211.2C96.4 212.8 89.8 216.3 85.7 217.3C81.6 218.3 76.3 218.7 73.5 218.1C70.6 217.4 68.2 214.9 67 212.7C65.8 210.5 65.2 206.5 65.5 203.5Z" fill="#0c0c0c" stroke="#0c0c0c" stroke-width="10.2" filter="url(#b3)"/>
<path d="M65.5 203.5C65.8 200.5 66.7 195.1 68.9 192.8C71 190.5 75.2 188.8 79.6 188.2C83.9 187.6 92.4 188.5 97.9 189C103.4 189.4 112.9 189.8 116.3 191.3C119.7 192.8 120.9 196.6 120.9 198.9C120.9 201.2 119.3 204.7 116.3 206.6C113.3 208.4 105.6 209.6 101 211.2C96.4 212.8 89.8 216.3 85.7 217.3C81.6 218.3 76.3 218.7 73.5 218.1C70.6 217.4 68.2 214.9 67 212.7C65.8 210.5 65.2 206.5 65.5 203.5Z" fill="#cfd6d5" stroke="#fff" stroke-width="1.1"/>
<path d="M68.1 203.5C68.5 201.3 69.7 196.8 71.9 195.1C74.1 193.4 78.5 192.4 82.6 192C86.8 191.7 94.9 192.1 99.5 192.8C104.1 193.5 110.9 195 113.2 196.6C115.5 198.2 115.7 201.8 114.8 203.5C113.8 205.2 110.6 207.1 107.1 208.1C103.7 209.1 95.5 209.5 91.8 210.4C88.1 211.3 85.4 213.7 82.6 214.2C79.9 214.8 75.5 214.9 73.5 214.2C71.4 213.5 70 211.2 69.2 209.6C68.4 208 67.7 205.7 68.1 203.5Z" fill="#0c0c0c" stroke="#0c0c0c" stroke-width="8.5" filter="url(#b3)"/>
<path d="M68.1 203.5C68.5 201.3 69.7 196.8 71.9 195.1C74.1 193.4 78.5 192.4 82.6 192C86.8 191.7 94.9 192.1 99.5 192.8C104.1 193.5 110.9 195 113.2 196.6C115.5 198.2 115.7 201.8 114.8 203.5C113.8 205.2 110.6 207.1 107.1 208.1C103.7 209.1 95.5 209.5 91.8 210.4C88.1 211.3 85.4 213.7 82.6 214.2C79.9 214.8 75.5 214.9 73.5 214.2C71.4 213.5 70 211.2 69.2 209.6C68.4 208 67.7 205.7 68.1 203.5Z" fill="#cfd6d5" stroke="#fff" stroke-width="1.1"/>
<path d="M91.5 203.8C91.5 205 91.1 206.6 90.5 207.7C89.9 208.7 88.6 210 87.6 210.8C86.5 211.5 84.7 212.2 83.4 212.5C82.1 212.7 80.1 212.7 78.8 212.5C77.5 212.2 75.7 211.5 74.6 210.8C73.6 210 72.3 208.7 71.7 207.7C71.1 206.6 70.7 205 70.7 203.8C70.7 202.7 71.1 201 71.7 200C72.3 198.9 73.6 197.6 74.6 196.9C75.7 196.2 77.5 195.4 78.8 195.2C80.1 194.9 82.1 194.9 83.4 195.2C84.7 195.4 86.5 196.2 87.6 196.9C88.6 197.6 89.9 198.9 90.5 200C91.1 201 91.5 202.7 91.5 203.8Z" fill="#0c0c0c" stroke="#0c0c0c" stroke-width="6.8" filter="url(#b2)"/>
<path d="M91.5 203.8C91.5 205 91.1 206.6 90.5 207.7C89.9 208.7 88.6 210 87.6 210.8C86.5 211.5 84.7 212.2 83.4 212.5C82.1 212.7 80.1 212.7 78.8 212.5C77.5 212.2 75.7 211.5 74.6 210.8C73.6 210 72.3 208.7 71.7 207.7C71.1 206.6 70.7 205 70.7 203.8C70.7 202.7 71.1 201 71.7 200C72.3 198.9 73.6 197.6 74.6 196.9C75.7 196.2 77.5 195.4 78.8 195.2C80.1 194.9 82.1 194.9 83.4 195.2C84.7 195.4 86.5 196.2 87.6 196.9C88.6 197.6 89.9 198.9 90.5 200C91.1 201 91.5 202.7 91.5 203.8Z" fill="#cfd6d5" stroke="#fff" stroke-width="1.1"/>
<ellipse cx="81.1" cy="204.3" rx="6.4" ry="5.5" fill="#0c0c0c" opacity="0.9" filter="url(#b2)"/>
<ellipse cx="104.1" cy="202.3" rx="8.4" ry="4" fill="#0c0c0c" opacity="0.9" filter="url(#b3)"/>
</g>
<path d="M85.1 290.7C83.7 289.2 85.6 277.4 86 275.4C86.4 273.5 88.6 271.6 89.5 271.2C90.5 270.7 94.7 270.7 95.6 271.2C96.6 271.6 98.7 273.5 99.2 275.4C99.6 277.4 101.5 289.2 100.1 290.7C98.7 292.3 86.5 292.3 85.1 290.7Z" fill="#cfd6d5" stroke="#0a0a0a" stroke-width="2.2"/>
<g clip-path="url(#c18)">
</g>
<path d="M95.4 144.9h4.1v4h-4.1zM144.9 144.9h4.1v4h-4.1zM115.8 160.5h4.1v4h-4.1z" fill="#111"/>
<rect x="65.8" y="13" width="135.4" height="98.2" fill="none" stroke="#0a0a0a" stroke-width="1.9"/>
<text transform="translate(137.4 37.2) scale(1 1.04)" font-size="28.2" text-anchor="middle">0</text>
</g>
<rect x="86.6" y="1544.4" width="270" height="278.6" fill="none" stroke="#000" stroke-width="2.6"/>
<path d="M215.3 1823v4.2M228.2 1823v4.2M237.4 1823v4.2M244.5 1823v5.4M250.3 1823v4.2M255.2 1823v4.2M259.5 1823v4.2M263.2 1823v4.2M285.9 1823v4.2M297.2 1823v4.2M305.3 1823v4.2M311.5 1823v5.4M316.6 1823v4.2M320.9 1823v4.2M324.6 1823v4.2M327.9 1823v4.2M350.1 1823v4.2M159.6 1823v4.2M163.3 1823v4.2M167.1 1823v4.2M170.8 1823v4.2M174.5 1823v5.4M178.3 1823v4.2M182 1823v4.2M185.7 1823v4.2M189.5 1823v4.2M142.4 1823v4.2M138.1 1823v4.2M133.8 1823v4.2M129.5 1823v4.2M125.2 1823v5.4M120.8 1823v4.2M116.5 1823v4.2M112.2 1823v4.2M107.9 1823v4.2M144.1 1823v6.2M145.6 1823v6.2M147.1 1823v6.2M148.6 1823v6.2M150.1 1823v6.2M151.6 1823v6.2M153.1 1823v6.2" stroke="#000" stroke-width="1.8" fill="none"/>
<path d="M103.6 1823v8M152.6 1823v8M193.2 1823v8M266.6 1823v8M330.8 1823v8" stroke="#000" stroke-width="2.5" fill="none"/>
<path d="M86.6 1690h-4.2M86.6 1676.6h-4.2M86.6 1667.1h-4.2M86.6 1659.7h-5.4M86.6 1653.7h-4.2M86.6 1648.6h-4.2M86.6 1644.2h-4.2M86.6 1640.3h-4.2M86.6 1616.8h-4.2M86.6 1605.1h-4.2M86.6 1596.8h-4.2M86.6 1590.4h-5.4M86.6 1585.1h-4.2M86.6 1580.7h-4.2M86.6 1576.8h-4.2M86.6 1573.4h-4.2M86.6 1550.4h-4.2M86.6 1750.7h-4.2M86.6 1746.5h-4.2M86.6 1742.3h-4.2M86.6 1738.1h-4.2M86.6 1733.9h-5.4M86.6 1729.7h-4.2M86.6 1725.5h-4.2M86.6 1721.3h-4.2M86.6 1717.1h-4.2M86.6 1768.1h-4.2M86.6 1772.1h-4.2M86.6 1776.1h-4.2M86.6 1780.1h-4.2M86.6 1784.1h-5.4M86.6 1788.1h-4.2M86.6 1792.2h-4.2M86.6 1796.2h-4.2M86.6 1800.2h-4.2M86.6 1767.1h-6.2M86.6 1765.6h-6.2M86.6 1764.1h-6.2M86.6 1762.6h-6.2M86.6 1761.1h-6.2M86.6 1759.6h-6.2M86.6 1758.1h-6.2" stroke="#000" stroke-width="1.8" fill="none"/>
<path d="M86.6 1804.2h-8M86.6 1758.6h-8M86.6 1712.9h-8M86.6 1636.8h-8M86.6 1570.4h-8" stroke="#000" stroke-width="2.5" fill="none"/>
<text x="101" y="1846.5" font-size="8.8" class="t">-10<tspan dx="1.8" dy="-5.8">3</tspan></text>
<text x="150.8" y="1846.5" font-size="8.8" class="t">0</text>
<text x="192.9" y="1846.5" font-size="8.8" class="t">10<tspan dx="1.8" dy="-5.8">3</tspan></text>
<text x="266.3" y="1846.5" font-size="8.8" class="t">10<tspan dx="1.8" dy="-5.8">4</tspan></text>
<text x="330.5" y="1846.5" font-size="8.8" class="t">10<tspan dx="1.8" dy="-5.8">5</tspan></text>
<text x="72.6" y="1807.8" font-size="8.8" text-anchor="end" class="t">-10<tspan dx="1.8" dy="-5.8">3</tspan></text>
<text x="68.1" y="1762.2" font-size="8.8" text-anchor="end" class="t">0</text>
<text x="72.6" y="1716.5" font-size="8.8" text-anchor="end" class="t">10<tspan dx="1.8" dy="-5.8">3</tspan></text>
<text x="72.6" y="1640.4" font-size="8.8" text-anchor="end" class="t">10<tspan dx="1.8" dy="-5.8">4</tspan></text>
<text x="72.6" y="1574" font-size="8.8" text-anchor="end" class="t">10<tspan dx="1.8" dy="-5.8">5</tspan></text>
<g transform="translate(395 1544)" clip-path="url(#pc)">
<path d="M64.3 168.3C64 161.7 64.1 136.5 65 130.1C65.9 123.6 71.1 117 71.9 113.2C72.7 109.5 71.4 100.7 71.9 97.9C72.5 95.2 74.9 90.8 76.5 89.5C78.1 88.3 83.7 87 85.7 87.2C87.7 87.5 91.9 90.2 93.3 91.8C94.8 93.4 96.7 100.6 97.9 101C99.2 101.4 101.9 95.8 104.1 94.9C106.2 94 114 93 116.3 93.3C118.6 93.7 122.7 96.5 123.9 97.9C125.2 99.4 125.4 104.2 127 105.6C128.6 107 134.7 109.6 137.7 110.2C140.8 110.8 149.8 111.3 153 110.9C156.2 110.6 162.2 107.2 165.3 107.1C168.3 107 176.2 108.6 179 110.2C181.9 111.8 188 118.9 189.7 120.9C191.5 122.9 193.5 124.2 194.3 127C195.1 129.9 196.3 141.4 196.6 145.4C197 149.3 197.8 157.6 197.4 160.7C197 163.7 194.8 169.2 192.8 171.4C190.8 173.5 184.1 177.7 180.6 179C177 180.4 165.8 183 162.2 182.9C158.6 182.7 153.2 177.2 150 177.5C146.7 177.8 137.9 183.5 134.7 185.2C131.4 186.8 126.7 190 122.4 191.3C118.1 192.5 103.3 195.4 97.9 195.9C92.6 196.3 80.1 196.2 76.5 195.1C72.9 194 68.8 189.8 67.3 186.7C65.9 183.6 64.5 174.9 64.3 168.3Z" fill="#0a0a0a"/>
<path d="M66.6 168.3C66.3 161.2 66 137.2 67.3 130.1C68.7 122.9 72.8 117.1 76.5 114.8C80.2 112.4 88.8 112.7 94.9 112.5C101 112.3 117.1 112.1 122.4 113.2C127.7 114.4 131 119.7 134.7 120.9C138.3 122.1 146.5 122.8 150 122.4C153.4 122 157.6 118.5 160.7 117.8C163.7 117.1 169.9 116 172.9 117.1C176 118.1 181.2 123.1 183.6 125.5C186.1 127.8 189.8 131 191.3 134.7C192.7 138.3 194.1 148.7 194.3 153C194.5 157.3 194.6 163.7 192.8 166.8C191 169.9 184.6 174.3 180.6 176C176.5 177.6 166.3 179.2 162.2 179C158.1 178.8 153.6 174 150 174.4C146.3 174.9 138.3 180.3 134.7 182.1C131 183.9 127.3 186.8 122.4 188.2C117.5 189.6 103.9 192.3 97.9 192.8C92 193.3 81.8 193.3 78 192C74.3 190.8 71.2 186.8 69.6 183.6C68.1 180.5 66.9 175.5 66.6 168.3Z" fill="#cfd6d5" stroke="#0a0a0a" stroke-width="0.8"/>
<g clip-path="url(#c19)">
<ellipse cx="171.4" cy="153" rx="18.4" ry="19.9" fill="#0c0c0c" opacity="0.97" filter="url(#b5)"/>
<ellipse cx="171.4" cy="153" rx="6.4" ry="7" fill="#d6dcdb" filter="url(#b2)"/>
<path d="M132.8 151.6C133.3 154.8 132.5 159.5 131.1 162.6C129.7 165.7 126.5 169.8 123.5 172.2C120.5 174.7 115.3 177.5 111.4 178.7C107.5 180 101.4 180.8 97.2 180.7C93.1 180.6 87.3 179.3 83.8 177.8C80.3 176.3 76 173.2 73.8 170.6C71.6 168 69.6 163.7 69.2 160.6C68.7 157.4 69.4 152.7 70.8 149.6C72.2 146.5 75.5 142.3 78.5 139.9C81.5 137.5 86.7 134.7 90.6 133.4C94.5 132.2 100.6 131.3 104.8 131.4C108.9 131.6 114.7 132.8 118.2 134.3C121.7 135.8 126 138.9 128.2 141.5C130.4 144.1 132.4 148.5 132.8 151.6Z" fill="#0c0c0c" stroke="#0c0c0c" stroke-width="17" filter="url(#b6)"/>
<path d="M132.8 151.6C133.3 154.8 132.5 159.5 131.1 162.6C129.7 165.7 126.5 169.8 123.5 172.2C120.5 174.7 115.3 177.5 111.4 178.7C107.5 180 101.4 180.8 97.2 180.7C93.1 180.6 87.3 179.3 83.8 177.8C80.3 176.3 76 173.2 73.8 170.6C71.6 168 69.6 163.7 69.2 160.6C68.7 157.4 69.4 152.7 70.8 149.6C72.2 146.5 75.5 142.3 78.5 139.9C81.5 137.5 86.7 134.7 90.6 133.4C94.5 132.2 100.6 131.3 104.8 131.4C108.9 131.6 114.7 132.8 118.2 134.3C121.7 135.8 126 138.9 128.2 141.5C130.4 144.1 132.4 148.5 132.8 151.6Z" fill="#cfd6d5" stroke="#fff" stroke-width="1.1"/>
<path d="M118.5 154.5C118.8 156.5 118.3 159.4 117.3 161.4C116.3 163.3 113.9 166 111.9 167.5C109.8 169.1 106.1 170.9 103.4 171.7C100.7 172.5 96.4 173.1 93.6 173.1C90.7 173 86.7 172.3 84.3 171.4C81.9 170.5 78.9 168.6 77.4 167C75.9 165.4 74.6 162.7 74.3 160.7C74 158.7 74.5 155.8 75.5 153.8C76.5 151.9 78.9 149.2 80.9 147.7C83 146.2 86.7 144.4 89.4 143.5C92.1 142.7 96.4 142.1 99.2 142.1C102.1 142.2 106.1 142.9 108.5 143.8C111 144.7 113.9 146.6 115.4 148.2C116.9 149.8 118.2 152.5 118.5 154.5Z" fill="#0c0c0c" stroke="#0c0c0c" stroke-width="11.9" filter="url(#b4)"/>
<path d="M118.5 154.5C118.8 156.5 118.3 159.4 117.3 161.4C116.3 163.3 113.9 166 111.9 167.5C109.8 169.1 106.1 170.9 103.4 171.7C100.7 172.5 96.4 173.1 93.6 173.1C90.7 173 86.7 172.3 84.3 171.4C81.9 170.5 78.9 168.6 77.4 167C75.9 165.4 74.6 162.7 74.3 160.7C74 158.7 74.5 155.8 75.5 153.8C76.5 151.9 78.9 149.2 80.9 147.7C83 146.2 86.7 144.4 89.4 143.5C92.1 142.7 96.4 142.1 99.2 142.1C102.1 142.2 106.1 142.9 108.5 143.8C111 144.7 113.9 146.6 115.4 148.2C116.9 149.8 118.2 152.5 118.5 154.5Z" fill="#cfd6d5" stroke="#fff" stroke-width="1.1"/>
<path d="M108.7 155.7C108.9 157 108.6 158.9 108 160.2C107.3 161.5 105.8 163.3 104.4 164.4C103 165.4 100.5 166.7 98.7 167.3C96.8 168 93.9 168.5 92 168.5C90 168.6 87.3 168.2 85.6 167.7C83.9 167.2 81.9 166 80.8 165C79.8 164 78.8 162.3 78.6 161C78.4 159.8 78.7 157.8 79.3 156.5C80 155.2 81.5 153.4 82.9 152.4C84.3 151.3 86.7 150 88.6 149.4C90.5 148.8 93.4 148.3 95.3 148.2C97.3 148.2 100 148.5 101.7 149.1C103.4 149.6 105.4 150.7 106.5 151.7C107.5 152.7 108.5 154.4 108.7 155.7Z" fill="#0c0c0c" stroke="#0c0c0c" stroke-width="10.2" filter="url(#b3)"/>
<path d="M108.7 155.7C108.9 157 108.6 158.9 108 160.2C107.3 161.5 105.8 163.3 104.4 164.4C103 165.4 100.5 166.7 98.7 167.3C96.8 168 93.9 168.5 92 168.5C90 168.6 87.3 168.2 85.6 167.7C83.9 167.2 81.9 166 80.8 165C79.8 164 78.8 162.3 78.6 161C78.4 159.8 78.7 157.8 79.3 156.5C80 155.2 81.5 153.4 82.9 152.4C84.3 151.3 86.7 150 88.6 149.4C90.5 148.8 93.4 148.3 95.3 148.2C97.3 148.2 100 148.5 101.7 149.1C103.4 149.6 105.4 150.7 106.5 151.7C107.5 152.7 108.5 154.4 108.7 155.7Z" fill="#cfd6d5" stroke="#fff" stroke-width="1.1"/>
<ellipse cx="94.9" cy="157.6" rx="11.5" ry="6.1" fill="#0c0c0c" opacity="0.97" filter="url(#b3)"/>
</g>
<path d="M110.9 38.9h4.1v4h-4.1zM164 42.8h4.1v4h-4.1zM174.4 49.3h4.1v4h-4.1zM151.7 51.6h4.1v4h-4.1zM76 55.8h4.1v4h-4.1zM107.8 53.9h4.1v4h-4.1zM121.1 56.9h4.1v4h-4.1zM151 56.9h4.1v4h-4.1zM177.7 56.9h4.1v4h-4.1zM125 60h4.1v4h-4.1zM132.6 61.2h4.1v4h-4.1zM142 61.2h6.1v4h-6.1zM83.6 62.3h4.1v4h-4.1zM88.2 63h4.1v4h-4.1zM174.7 61.5h4.1v4h-4.1zM85.9 65.3h4.1v4h-4.1zM184.9 64.3h4.1v4h-4.1zM93.9 67.9h4.1v4h-4.1zM164.7 67.9h4.1v4h-4.1zM112 70.2h4.1v4h-4.1zM120.8 68.8h4.1v4h-4.1zM132.1 69.5h4.1v4h-4.1zM135.7 75.3h4.1v4h-4.1zM104.6 76.5h4.1v4h-4.1zM123.7 76.5h4.1v4h-4.1zM167.8 76.5h4.1v4h-4.1zM73.4 79.6h4.1v4h-4.1zM148.7 79.1h4.1v4h-4.1zM94.4 81.1h4.1v4h-4.1zM120.4 81.1h4.1v4h-4.1zM158.6 82.9h4.1v4h-4.1zM166.7 83.7h4.1v4h-4.1zM195.3 82.9h4.1v4h-4.1zM136.4 82.9h4.1v4h-4.1zM138.7 85.7h4.1v4h-4.1zM125.5 89.8h9.2v4h-9.2zM161.7 90.6h4.1v4h-4.1zM164.7 92.9h4.1v4h-4.1zM157.1 96.7h4.1v4h-4.1zM96.6 92.1h4.1v4h-4.1zM133.1 99h4.1v4h-4.1zM140.3 103.6h4.1v4h-4.1zM153.3 105.1h4.1v4h-4.1zM160.2 104.3h4.1v4h-4.1zM172.4 102.8h4.1v4h-4.1zM180.5 102.8h4.1v4h-4.1zM186.2 106.6h4.1v4h-4.1zM192.3 111.2h4.1v4h-4.1zM201.9 147.2h4.1v4h-4.1zM180.5 188.1h4.1v4h-4.1zM125 189.3h4.1v4h-4.1zM82.4 197.4h4.1v4h-4.1z" fill="#111"/>
<rect x="64.7" y="13" width="135.4" height="98.2" fill="none" stroke="#0a0a0a" stroke-width="1.9"/>
<text transform="translate(148 37.2) scale(1 1.04)" font-size="28.2" text-anchor="middle">2.16</text>
</g>
<rect x="395.6" y="1544.4" width="270" height="278.6" fill="none" stroke="#000" stroke-width="2.6"/>
<path d="M524.3 1823v4.2M537.2 1823v4.2M546.4 1823v4.2M553.5 1823v5.4M559.3 1823v4.2M564.2 1823v4.2M568.5 1823v4.2M572.2 1823v4.2M594.9 1823v4.2M606.2 1823v4.2M614.3 1823v4.2M620.5 1823v5.4M625.6 1823v4.2M629.9 1823v4.2M633.6 1823v4.2M636.9 1823v4.2M659.1 1823v4.2M468.6 1823v4.2M472.3 1823v4.2M476.1 1823v4.2M479.8 1823v4.2M483.5 1823v5.4M487.3 1823v4.2M491 1823v4.2M494.7 1823v4.2M498.5 1823v4.2M451.4 1823v4.2M447.1 1823v4.2M442.8 1823v4.2M438.5 1823v4.2M434.2 1823v5.4M429.8 1823v4.2M425.5 1823v4.2M421.2 1823v4.2M416.9 1823v4.2M453.1 1823v6.2M454.6 1823v6.2M456.1 1823v6.2M457.6 1823v6.2M459.1 1823v6.2M460.6 1823v6.2M462.1 1823v6.2" stroke="#000" stroke-width="1.8" fill="none"/>
<path d="M412.6 1823v8M461.6 1823v8M502.2 1823v8M575.6 1823v8M639.8 1823v8" stroke="#000" stroke-width="2.5" fill="none"/>
<path d="M395.6 1690h-4.2M395.6 1676.6h-4.2M395.6 1667.1h-4.2M395.6 1659.7h-5.4M395.6 1653.7h-4.2M395.6 1648.6h-4.2M395.6 1644.2h-4.2M395.6 1640.3h-4.2M395.6 1616.8h-4.2M395.6 1605.1h-4.2M395.6 1596.8h-4.2M395.6 1590.4h-5.4M395.6 1585.1h-4.2M395.6 1580.7h-4.2M395.6 1576.8h-4.2M395.6 1573.4h-4.2M395.6 1550.4h-4.2M395.6 1750.7h-4.2M395.6 1746.5h-4.2M395.6 1742.3h-4.2M395.6 1738.1h-4.2M395.6 1733.9h-5.4M395.6 1729.7h-4.2M395.6 1725.5h-4.2M395.6 1721.3h-4.2M395.6 1717.1h-4.2M395.6 1768.1h-4.2M395.6 1772.1h-4.2M395.6 1776.1h-4.2M395.6 1780.1h-4.2M395.6 1784.1h-5.4M395.6 1788.1h-4.2M395.6 1792.2h-4.2M395.6 1796.2h-4.2M395.6 1800.2h-4.2M395.6 1767.1h-6.2M395.6 1765.6h-6.2M395.6 1764.1h-6.2M395.6 1762.6h-6.2M395.6 1761.1h-6.2M395.6 1759.6h-6.2M395.6 1758.1h-6.2" stroke="#000" stroke-width="1.8" fill="none"/>
<path d="M395.6 1804.2h-8M395.6 1758.6h-8M395.6 1712.9h-8M395.6 1636.8h-8M395.6 1570.4h-8" stroke="#000" stroke-width="2.5" fill="none"/>
<text x="410" y="1846.5" font-size="8.8" class="t">-10<tspan dx="1.8" dy="-5.8">3</tspan></text>
<text x="459.8" y="1846.5" font-size="8.8" class="t">0</text>
<text x="501.9" y="1846.5" font-size="8.8" class="t">10<tspan dx="1.8" dy="-5.8">3</tspan></text>
<text x="575.3" y="1846.5" font-size="8.8" class="t">10<tspan dx="1.8" dy="-5.8">4</tspan></text>
<text x="639.5" y="1846.5" font-size="8.8" class="t">10<tspan dx="1.8" dy="-5.8">5</tspan></text>
<text x="381.6" y="1807.8" font-size="8.8" text-anchor="end" class="t">-10<tspan dx="1.8" dy="-5.8">3</tspan></text>
<text x="377.1" y="1762.2" font-size="8.8" text-anchor="end" class="t">0</text>
<text x="381.6" y="1716.5" font-size="8.8" text-anchor="end" class="t">10<tspan dx="1.8" dy="-5.8">3</tspan></text>
<text x="381.6" y="1640.4" font-size="8.8" text-anchor="end" class="t">10<tspan dx="1.8" dy="-5.8">4</tspan></text>
<text x="381.6" y="1574" font-size="8.8" text-anchor="end" class="t">10<tspan dx="1.8" dy="-5.8">5</tspan></text>
<g transform="translate(705 1544)" clip-path="url(#pc)">
<path d="M142.3 110.2C143.5 109.2 148.6 109.5 150 108.6C151.3 107.8 154.9 101.8 156.1 101.8C157.3 101.8 161 107.5 162.2 108.6C163.4 109.8 166.9 112.3 168.3 113.2C169.7 114.2 173.8 116.4 176 117.8C178.1 119.2 190.5 126.5 189.7 127C189 127.5 171.2 123.3 168.3 123.2C165.4 123.1 162.2 126.5 160.7 126.2C159.1 125.9 155.3 120.9 153 120.1C150.7 119.4 138.8 119.6 137.7 118.6C136.6 117.6 141.1 111.2 142.3 110.2Z" fill="#0a0a0a"/>
<path d="M122.4 192.5C123.6 191.9 136.5 190.5 137.7 191C138.9 191.4 135.9 196.5 134.7 197.1C133.4 197.7 126.7 197.5 125.5 197.1C124.3 196.6 121.2 193.1 122.4 192.5Z" fill="#0a0a0a"/>
<path d="M195.1 134.7C195.4 130.6 201.5 131.4 202.3 135.4C203.1 139.4 203.1 170.4 202.8 174.4C202.4 178.5 199.7 180 198.9 176C198.2 172 194.8 138.7 195.1 134.7Z" fill="#0a0a0a"/>
<path d="M62.7 153C62.7 144.9 62.9 123.7 63.5 114.8C64.1 105.8 66.2 91 67.3 85.7C68.5 80.4 70.1 76.8 71.9 75C73.8 73.1 78.7 71.7 81.1 71.9C83.5 72.1 88 74.7 90.3 76.5C92.5 78.3 95.9 82.6 97.9 85.7C100 88.8 103.3 96.2 105.6 99.5C107.8 102.7 112.5 107.9 114.8 110.2C117 112.4 119.4 115.3 122.4 116.3C125.5 117.3 133.6 117.4 137.7 117.8C141.8 118.2 148.9 118.7 153 119.4C157.1 120 164.2 121.8 168.3 122.4C172.4 123 180.4 122.3 183.6 123.9C186.9 125.6 191 131.8 192.8 134.7C194.6 137.5 196.4 141.9 197.4 145.4C198.4 148.8 200 156.8 200.5 160.7C200.9 164.5 202.1 171.8 200.5 174.4C198.8 177.1 192.5 179.7 188.2 180.6C183.9 181.4 173.2 180.2 168.3 180.6C163.4 181 154.3 182.6 151.5 183.6C148.6 184.6 149.8 187 146.9 188.2C144 189.4 135 192.4 130.1 192.8C125.2 193.2 115.3 190.7 110.2 191.3C105.1 191.9 96.3 196.5 91.8 197.4C87.3 198.3 79.8 199.2 76.5 198.2C73.2 197.1 69.1 192.7 67.3 189.7C65.6 186.8 64.1 180.9 63.5 176C62.9 171.1 62.7 161.2 62.7 153Z" fill="#cfd6d5" stroke="#0a0a0a" stroke-width="2.6"/>
<g clip-path="url(#c20)">
<ellipse cx="79.6" cy="97.9" rx="7.7" ry="13.8" fill="#0c0c0c" opacity="0.4" filter="url(#b5)"/>
<ellipse cx="176" cy="154.6" rx="19.9" ry="19.9" fill="#0c0c0c" opacity="0.5" filter="url(#b6)"/>
<ellipse cx="145.4" cy="134.7" rx="9.2" ry="9.2" fill="#0c0c0c" opacity="0.4" filter="url(#b5)"/>
<ellipse cx="156.1" cy="154.6" rx="6.1" ry="4.6" fill="#0c0c0c" opacity="0.9" filter="url(#b4)"/>
<path d="M66.1 153C66.1 145.7 66.2 129.3 67.3 122.4C68.4 115.5 71.2 109.9 73.5 107.1C75.7 104.4 79.9 102.7 82.6 104.1C85.4 105.4 88.1 112.9 91.8 116.3C95.5 119.7 102.1 124.7 107.1 127C112.2 129.3 120.4 129.3 125.5 131.6C130.5 133.9 136.6 139.1 140.8 142.3C144.9 145.5 150.3 150.5 153 153C155.8 155.5 159.1 157.1 159.1 159.1C159.1 161.2 156.2 165 153 166.8C149.8 168.6 143.2 170 137.7 171.4C132.2 172.8 122.3 174.4 116.3 176C110.3 177.6 103 180.3 97.9 182.1C92.9 183.9 86.5 188 82.6 188.2C78.7 188.4 74.2 186.1 71.9 183.6C69.6 181.1 68.2 176 67.3 171.4C66.5 166.8 66.1 160.4 66.1 153Z" fill="#0c0c0c" stroke="#0c0c0c" stroke-width="13.6" filter="url(#b5)"/>
<path d="M66.1 153C66.1 145.7 66.2 129.3 67.3 122.4C68.4 115.5 71.2 109.9 73.5 107.1C75.7 104.4 79.9 102.7 82.6 104.1C85.4 105.4 88.1 112.9 91.8 116.3C95.5 119.7 102.1 124.7 107.1 127C112.2 129.3 120.4 129.3 125.5 131.6C130.5 133.9 136.6 139.1 140.8 142.3C144.9 145.5 150.3 150.5 153 153C155.8 155.5 159.1 157.1 159.1 159.1C159.1 161.2 156.2 165 153 166.8C149.8 168.6 143.2 170 137.7 171.4C132.2 172.8 122.3 174.4 116.3 176C110.3 177.6 103 180.3 97.9 182.1C92.9 183.9 86.5 188 82.6 188.2C78.7 188.4 74.2 186.1 71.9 183.6C69.6 181.1 68.2 176 67.3 171.4C66.5 166.8 66.1 160.4 66.1 153Z" fill="#b3bab9" stroke="#fff" stroke-width="1.1"/>
<path d="M68.9 153C68.9 146.6 69.2 131.2 70.4 125.5C71.5 119.7 74.2 116.1 76.5 114.8C78.8 113.4 83.4 114.5 85.7 116.3C88 118.1 88.6 124 91.8 127C95 130 102.5 133.9 107.1 136.2C111.7 138.5 119 140 122.4 142.3C125.9 144.6 129.1 148.5 130.1 151.5C131 154.5 130.6 159.7 128.5 162.2C126.5 164.7 120.9 166.7 116.3 168.3C111.7 169.9 102.5 170.8 97.9 172.9C93.3 175 89.1 181.2 85.7 182.1C82.2 183 77.3 181.1 75 179C72.6 177 71 172.2 70.1 168.3C69.2 164.4 68.8 159.4 68.9 153Z" fill="#0c0c0c" stroke="#0c0c0c" stroke-width="11.9" filter="url(#b4)"/>
<path d="M68.9 153C68.9 146.6 69.2 131.2 70.4 125.5C71.5 119.7 74.2 116.1 76.5 114.8C78.8 113.4 83.4 114.5 85.7 116.3C88 118.1 88.6 124 91.8 127C95 130 102.5 133.9 107.1 136.2C111.7 138.5 119 140 122.4 142.3C125.9 144.6 129.1 148.5 130.1 151.5C131 154.5 130.6 159.7 128.5 162.2C126.5 164.7 120.9 166.7 116.3 168.3C111.7 169.9 102.5 170.8 97.9 172.9C93.3 175 89.1 181.2 85.7 182.1C82.2 183 77.3 181.1 75 179C72.6 177 71 172.2 70.1 168.3C69.2 164.4 68.8 159.4 68.9 153Z" fill="#b3bab9" stroke="#fff" stroke-width="1.1"/>
<path d="M73.1 153C73.1 148.1 73.2 136.2 74.4 131.6C75.5 127 78.9 122.4 80.8 122.4C82.7 122.4 85.6 128.4 87.2 131.6C88.9 134.8 90.2 140.5 91.8 143.8C93.4 147.2 97.4 150.9 97.9 153.8C98.5 156.7 97.1 160.8 95.6 163C94.1 165.1 90.4 167.3 88 168.3C85.6 169.3 81.9 170.1 79.9 169.5C77.9 169 75.7 167 74.7 164.5C73.7 162 73.2 158 73.1 153Z" fill="#0c0c0c" stroke="#0c0c0c" stroke-width="10.2" filter="url(#b3)"/>
<path d="M73.1 153C73.1 148.1 73.2 136.2 74.4 131.6C75.5 127 78.9 122.4 80.8 122.4C82.7 122.4 85.6 128.4 87.2 131.6C88.9 134.8 90.2 140.5 91.8 143.8C93.4 147.2 97.4 150.9 97.9 153.8C98.5 156.7 97.1 160.8 95.6 163C94.1 165.1 90.4 167.3 88 168.3C85.6 169.3 81.9 170.1 79.9 169.5C77.9 169 75.7 167 74.7 164.5C73.7 162 73.2 158 73.1 153Z" fill="#b3bab9" stroke="#fff" stroke-width="1.1"/>
<ellipse cx="81.9" cy="150.7" rx="7.3" ry="17.6" fill="#0c0c0c" opacity="0.97" filter="url(#b3)"/>
<ellipse cx="107.1" cy="156.1" rx="9.2" ry="7.7" fill="#0c0c0c" opacity="0.85" filter="url(#b4)"/>
<ellipse cx="134.7" cy="156.1" rx="5.8" ry="9.2" fill="#0c0c0c" opacity="0.97" filter="url(#b3)"/>
<ellipse cx="176" cy="154.6" rx="6.9" ry="6.9" fill="#0c0c0c" opacity="0.8" filter="url(#b4)"/>
<ellipse cx="85.7" cy="176" rx="6.1" ry="3.8" fill="#0c0c0c" opacity="0.8" filter="url(#b3)"/>
<ellipse cx="176" cy="154.6" rx="0.2" ry="0.2" fill="#d6dcdb" filter="url(#b1)"/>
</g>
<path d="M79.1 38.9h4.1v4h-4.1zM74 51.1h4.1v4h-4.1zM76 58.9h4.1v4h-4.1zM82.4 61.2h4.1v4h-4.1zM169.8 58.9h4.1v4h-4.1zM136 82.9h4.1v4h-4.1zM173.9 85.2h4.1v4h-4.1zM168.9 88.3h4.1v4h-4.1zM149.9 94.9h4.1v4h-4.1zM164 93.9h4.1v4h-4.1zM136 100.2h4.1v4h-4.1zM187.7 120h4.1v4h-4.1zM196.9 134.2h4.1v4h-4.1zM147.9 191.9h4.1v4h-4.1zM108.9 201.5h4.1v4h-4.1zM107.8 204.9h4.1v4h-4.1z" fill="#111"/>
<rect x="64.7" y="13" width="135.4" height="97.6" fill="none" stroke="#0a0a0a" stroke-width="1.9"/>
<text transform="translate(148.4 37.2) scale(1 1.04)" font-size="28.2" text-anchor="middle">5.78</text>
</g>
<rect x="705.6" y="1544.4" width="270" height="278.6" fill="none" stroke="#000" stroke-width="2.6"/>
<path d="M834.3 1823v4.2M847.2 1823v4.2M856.4 1823v4.2M863.5 1823v5.4M869.3 1823v4.2M874.2 1823v4.2M878.5 1823v4.2M882.2 1823v4.2M904.9 1823v4.2M916.2 1823v4.2M924.3 1823v4.2M930.5 1823v5.4M935.6 1823v4.2M939.9 1823v4.2M943.6 1823v4.2M946.9 1823v4.2M969.1 1823v4.2M778.6 1823v4.2M782.3 1823v4.2M786.1 1823v4.2M789.8 1823v4.2M793.5 1823v5.4M797.3 1823v4.2M801 1823v4.2M804.7 1823v4.2M808.5 1823v4.2M761.4 1823v4.2M757.1 1823v4.2M752.8 1823v4.2M748.5 1823v4.2M744.2 1823v5.4M739.8 1823v4.2M735.5 1823v4.2M731.2 1823v4.2M726.9 1823v4.2M763.1 1823v6.2M764.6 1823v6.2M766.1 1823v6.2M767.6 1823v6.2M769.1 1823v6.2M770.6 1823v6.2M772.1 1823v6.2" stroke="#000" stroke-width="1.8" fill="none"/>
<path d="M722.6 1823v8M771.6 1823v8M812.2 1823v8M885.6 1823v8M949.8 1823v8" stroke="#000" stroke-width="2.5" fill="none"/>
<path d="M705.6 1690h-4.2M705.6 1676.6h-4.2M705.6 1667.1h-4.2M705.6 1659.7h-5.4M705.6 1653.7h-4.2M705.6 1648.6h-4.2M705.6 1644.2h-4.2M705.6 1640.3h-4.2M705.6 1616.8h-4.2M705.6 1605.1h-4.2M705.6 1596.8h-4.2M705.6 1590.4h-5.4M705.6 1585.1h-4.2M705.6 1580.7h-4.2M705.6 1576.8h-4.2M705.6 1573.4h-4.2M705.6 1550.4h-4.2M705.6 1750.7h-4.2M705.6 1746.5h-4.2M705.6 1742.3h-4.2M705.6 1738.1h-4.2M705.6 1733.9h-5.4M705.6 1729.7h-4.2M705.6 1725.5h-4.2M705.6 1721.3h-4.2M705.6 1717.1h-4.2M705.6 1768.1h-4.2M705.6 1772.1h-4.2M705.6 1776.1h-4.2M705.6 1780.1h-4.2M705.6 1784.1h-5.4M705.6 1788.1h-4.2M705.6 1792.2h-4.2M705.6 1796.2h-4.2M705.6 1800.2h-4.2M705.6 1767.1h-6.2M705.6 1765.6h-6.2M705.6 1764.1h-6.2M705.6 1762.6h-6.2M705.6 1761.1h-6.2M705.6 1759.6h-6.2M705.6 1758.1h-6.2" stroke="#000" stroke-width="1.8" fill="none"/>
<path d="M705.6 1804.2h-8M705.6 1758.6h-8M705.6 1712.9h-8M705.6 1636.8h-8M705.6 1570.4h-8" stroke="#000" stroke-width="2.5" fill="none"/>
<text x="720" y="1846.5" font-size="8.8" class="t">-10<tspan dx="1.8" dy="-5.8">3</tspan></text>
<text x="769.8" y="1846.5" font-size="8.8" class="t">0</text>
<text x="811.9" y="1846.5" font-size="8.8" class="t">10<tspan dx="1.8" dy="-5.8">3</tspan></text>
<text x="885.3" y="1846.5" font-size="8.8" class="t">10<tspan dx="1.8" dy="-5.8">4</tspan></text>
<text x="949.5" y="1846.5" font-size="8.8" class="t">10<tspan dx="1.8" dy="-5.8">5</tspan></text>
<text x="691.6" y="1807.8" font-size="8.8" text-anchor="end" class="t">-10<tspan dx="1.8" dy="-5.8">3</tspan></text>
<text x="687.1" y="1762.2" font-size="8.8" text-anchor="end" class="t">0</text>
<text x="691.6" y="1716.5" font-size="8.8" text-anchor="end" class="t">10<tspan dx="1.8" dy="-5.8">3</tspan></text>
<text x="691.6" y="1640.4" font-size="8.8" text-anchor="end" class="t">10<tspan dx="1.8" dy="-5.8">4</tspan></text>
<text x="691.6" y="1574" font-size="8.8" text-anchor="end" class="t">10<tspan dx="1.8" dy="-5.8">5</tspan></text>
<g transform="translate(1011 1544)" clip-path="url(#pc)">
<path d="M64.3 145.4C64.6 138.2 66.6 116.3 67.3 107.1C68 97.9 69.1 84.1 69.6 76.5C70.1 69 70.4 55.2 71.2 50.5C71.9 45.8 73 43 75 41.3C76.9 39.6 81.4 38.1 85.7 37.5C90 36.9 101.2 36.6 107.1 36.7C113 36.8 126 37.6 130.1 38.3C134.1 38.9 136.4 39.3 137.7 41.3C139 43.4 139.6 49.9 140 53.6C140.4 57.2 140.7 65 140.8 68.9C140.9 72.7 140 80.4 140.8 82.6C141.6 84.9 144.7 84.5 146.9 85.7C149.1 86.9 154.8 89.8 157.6 91.8C160.5 93.9 166.1 98.5 168.3 101C170.6 103.4 172.9 107.7 174.4 110.2C176 112.6 179.3 116.7 179.8 119.4C180.3 122 179 128 178.3 130.1C177.6 132.1 174.4 132.8 174.4 134.7C174.4 136.5 178.9 141.4 178.3 143.8C177.7 146.3 173 152 169.9 153C166.7 154 157.6 150.7 154.6 151.5C151.5 152.3 148.5 156.9 146.9 159.1C145.3 161.4 144.3 165.7 142.3 168.3C140.3 171 134.7 176.8 131.6 179C128.5 181.3 123 183.7 119.4 185.2C115.7 186.6 108.1 188.7 104.1 189.7C100 190.8 92.4 192.3 88.8 192.8C85.1 193.3 79.2 195.8 76.5 193.6C73.9 191.3 70.4 180.4 68.9 176C67.3 171.6 65.6 164.8 65 160.7C64.4 156.6 64 152.5 64.3 145.4Z" fill="#cfd6d5" stroke="#0a0a0a" stroke-width="2.4"/>
<g clip-path="url(#c21)">
<ellipse cx="97.9" cy="79.6" rx="23" ry="32.1" fill="#0c0c0c" opacity="0.85" filter="url(#b6)"/>
<ellipse cx="91.8" cy="70.4" rx="9.9" ry="11.5" fill="#0c0c0c" opacity="0.97" filter="url(#b4)"/>
<ellipse cx="99.5" cy="105.6" rx="33.7" ry="7.7" fill="#0c0c0c" opacity="0.97" filter="url(#b5)"/>
<ellipse cx="97.9" cy="90.3" rx="9.9" ry="8.4" fill="#0c0c0c" opacity="0.8" filter="url(#b4)"/>
<ellipse cx="120.9" cy="65.8" rx="10.7" ry="15.3" fill="#0c0c0c" opacity="0.45" filter="url(#b5)"/>
<ellipse cx="153" cy="130.1" rx="10.7" ry="10.7" fill="#0c0c0c" opacity="0.3" filter="url(#b5)"/>
<path d="M68.1 145.4C68.3 138.9 70 127.7 71.9 122.4C73.9 117.1 78.1 112.7 81.1 110.2C84.1 107.7 87.9 106 91.8 105.6C95.7 105.1 103 106.4 107.1 107.1C111.2 107.8 116.4 108.1 119.4 110.2C122.3 112.2 124.9 117.2 127 120.9C129.1 124.6 132 129.8 133.1 134.7C134.3 139.5 135.1 148 134.7 153C134.2 158.1 132.4 164.7 130.1 168.3C127.8 172 123.3 175.2 119.4 177.5C115.5 179.8 108.6 182.4 104.1 183.6C99.5 184.9 92.9 186.4 88.8 185.9C84.6 185.5 79.3 183.7 76.5 180.6C73.8 177.5 71.7 170.5 70.4 165.3C69.1 160 67.9 151.8 68.1 145.4Z" fill="#0c0c0c" stroke="#0c0c0c" stroke-width="20.4" filter="url(#b7)"/>
<path d="M68.1 145.4C68.3 138.9 70 127.7 71.9 122.4C73.9 117.1 78.1 112.7 81.1 110.2C84.1 107.7 87.9 106 91.8 105.6C95.7 105.1 103 106.4 107.1 107.1C111.2 107.8 116.4 108.1 119.4 110.2C122.3 112.2 124.9 117.2 127 120.9C129.1 124.6 132 129.8 133.1 134.7C134.3 139.5 135.1 148 134.7 153C134.2 158.1 132.4 164.7 130.1 168.3C127.8 172 123.3 175.2 119.4 177.5C115.5 179.8 108.6 182.4 104.1 183.6C99.5 184.9 92.9 186.4 88.8 185.9C84.6 185.5 79.3 183.7 76.5 180.6C73.8 177.5 71.7 170.5 70.4 165.3C69.1 160 67.9 151.8 68.1 145.4Z" fill="#bcc3c2" stroke="#fff" stroke-width="1.1"/>
<path d="M126.2 145.4C126.2 148.4 125.2 152.6 123.7 155.3C122.3 158 119.3 161.5 116.7 163.3C114.2 165.2 109.8 167.1 106.6 167.7C103.4 168.4 98.6 168.4 95.4 167.7C92.2 167.1 87.8 165.2 85.3 163.3C82.7 161.5 79.7 158 78.2 155.3C76.8 152.6 75.7 148.4 75.7 145.4C75.7 142.4 76.8 138.1 78.2 135.4C79.7 132.7 82.7 129.3 85.3 127.4C87.8 125.6 92.2 123.7 95.4 123C98.6 122.3 103.4 122.3 106.6 123C109.8 123.7 114.2 125.6 116.7 127.4C119.3 129.3 122.3 132.7 123.7 135.4C125.2 138.1 126.2 142.4 126.2 145.4Z" fill="#0c0c0c" stroke="#0c0c0c" stroke-width="17" filter="url(#b6)"/>
<path d="M126.2 145.4C126.2 148.4 125.2 152.6 123.7 155.3C122.3 158 119.3 161.5 116.7 163.3C114.2 165.2 109.8 167.1 106.6 167.7C103.4 168.4 98.6 168.4 95.4 167.7C92.2 167.1 87.8 165.2 85.3 163.3C82.7 161.5 79.7 158 78.2 155.3C76.8 152.6 75.7 148.4 75.7 145.4C75.7 142.4 76.8 138.1 78.2 135.4C79.7 132.7 82.7 129.3 85.3 127.4C87.8 125.6 92.2 123.7 95.4 123C98.6 122.3 103.4 122.3 106.6 123C109.8 123.7 114.2 125.6 116.7 127.4C119.3 129.3 122.3 132.7 123.7 135.4C125.2 138.1 126.2 142.4 126.2 145.4Z" fill="#bcc3c2" stroke="#fff" stroke-width="1.1"/>
<path d="M117.1 146.1C117.1 148 116.3 150.7 115.2 152.4C114.2 154.1 112 156.3 110.1 157.5C108.3 158.7 105.1 159.9 102.8 160.3C100.5 160.7 96.9 160.7 94.6 160.3C92.3 159.9 89.1 158.7 87.2 157.5C85.4 156.3 83.2 154.1 82.2 152.4C81.1 150.7 80.3 148 80.3 146.1C80.3 144.2 81.1 141.5 82.2 139.8C83.2 138.1 85.4 135.9 87.2 134.8C89.1 133.6 92.3 132.4 94.6 132C96.9 131.5 100.5 131.5 102.8 132C105.1 132.4 108.3 133.6 110.1 134.8C112 135.9 114.2 138.1 115.2 139.8C116.3 141.5 117.1 144.2 117.1 146.1Z" fill="#0c0c0c" stroke="#0c0c0c" stroke-width="13.6" filter="url(#b5)"/>
<path d="M117.1 146.1C117.1 148 116.3 150.7 115.2 152.4C114.2 154.1 112 156.3 110.1 157.5C108.3 158.7 105.1 159.9 102.8 160.3C100.5 160.7 96.9 160.7 94.6 160.3C92.3 159.9 89.1 158.7 87.2 157.5C85.4 156.3 83.2 154.1 82.2 152.4C81.1 150.7 80.3 148 80.3 146.1C80.3 144.2 81.1 141.5 82.2 139.8C83.2 138.1 85.4 135.9 87.2 134.8C89.1 133.6 92.3 132.4 94.6 132C96.9 131.5 100.5 131.5 102.8 132C105.1 132.4 108.3 133.6 110.1 134.8C112 135.9 114.2 138.1 115.2 139.8C116.3 141.5 117.1 144.2 117.1 146.1Z" fill="#bcc3c2" stroke="#fff" stroke-width="1.1"/>
<ellipse cx="97.9" cy="146.9" rx="11.9" ry="10.1" fill="#0c0c0c" opacity="0.97" filter="url(#b3)"/>
</g>
<path d="M134.7 88.8C134.7 87.1 136.5 82.9 137.7 82.6C138.9 82.3 144.9 84.8 146.9 85.7C148.9 86.6 155.5 90.3 157.6 91.8C159.8 93.3 166.6 99.2 168.3 101C170.1 102.8 176.7 108.7 175.2 109.4C173.7 110.1 155.9 107.9 153 107.9C150.2 107.9 148.1 109.4 146.9 109.4C145.7 109.4 141.8 108.9 140.8 107.9C139.8 106.9 137.6 101.4 137 99.5C136.3 97.6 134.6 90.4 134.7 88.8Z" fill="#0a0a0a"/>
<path d="M157.6 44.4C158.1 43.3 162.7 42.2 163.7 42.8C164.8 43.5 168.2 49.3 168.3 50.5C168.5 51.7 166.2 54.8 165.3 55.1C164.3 55.4 159.9 54.6 159.1 53.6C158.4 52.5 157.2 45.4 157.6 44.4Z" fill="#0a0a0a"/>
<path d="M138.5 45.9C138.9 42.9 142.5 49.9 143.1 53.6C143.7 57.2 145.1 79.6 144.6 82.6C144.1 85.6 139.1 87.1 138.5 83.4C137.9 79.7 138 48.9 138.5 45.9Z" fill="#0a0a0a"/>
<path d="M75 38.3C78 37.5 100.8 34.5 107.1 34.4C113.4 34.4 134.7 36.8 137.7 37.5C140.8 38.2 140.8 41.3 137.7 41.3C134.7 41.4 113.2 37.9 107.1 37.9C101 38 79.7 42.1 76.5 42.1C73.3 42.1 71.9 39 75 38.3Z" fill="#0a0a0a"/>
<path d="M130.8 8.7h4.1v4h-4.1zM82.9 23.2h4.1v4h-4.1zM95.9 22.5h4.1v4h-4.1zM80.6 27.1h4.1v4h-4.1zM168.6 24h4.1v4h-4.1zM167 27.8h4.1v4h-4.1zM160.2 33.2h4.1v4h-4.1zM164 34.7h4.1v4h-4.1zM187.2 37.3h4.1v4h-4.1zM151.7 37.3h4.1v4h-4.1zM145.6 46.2h4.1v4h-4.1zM173.2 46.2h4.1v4h-4.1zM183.9 50.8h4.1v4h-4.1zM170.1 52.3h4.1v4h-4.1zM173.9 54.6h4.1v4h-4.1zM151 57.7h4.1v4h-4.1zM157.1 59.2h4.1v4h-4.1zM160.9 58.4h4.1v4h-4.1zM167.8 58.4h4.1v4h-4.1zM148.7 63.8h4.1v4h-4.1zM161.7 65.3h4.1v4h-4.1zM170.9 66.9h4.1v4h-4.1zM147.9 69.2h4.1v4h-4.1zM158.6 68.7h4.1v4h-4.1zM165.5 70.7h4.1v4h-4.1zM183.6 75.3h4.1v4h-4.1zM161.7 82.2h4.1v4h-4.1zM173.2 82.6h4.1v4h-4.1zM158.6 86.8h4.1v4h-4.1zM167.5 92.9h4.1v4h-4.1zM173.9 95.5h4.1v4h-4.1zM183.6 96.7h4.1v4h-4.1zM175.1 100.2h4.1v4h-4.1zM177.7 102.8h4.1v4h-4.1zM183.9 116.6h4.1v4h-4.1zM183.9 120.4h4.1v4h-4.1zM178.5 128.8h4.1v4h-4.1zM162.4 157.1h4.1v4h-4.1zM155.6 159.4h4.1v4h-4.1zM146.4 167.5h4.1v4h-4.1zM165.5 166.8h4.1v4h-4.1zM76 193.1h4.1v4h-4.1z" fill="#111"/>
<rect x="65" y="13" width="135.4" height="97.6" fill="none" stroke="#0a0a0a" stroke-width="1.9"/>
<text transform="translate(132.4 37.2) scale(1 1.04)" font-size="28.2" text-anchor="middle">17.6</text>
</g>
<rect x="1011.6" y="1544.4" width="270" height="278.6" fill="none" stroke="#000" stroke-width="2.6"/>
<path d="M1140.3 1823v4.2M1153.2 1823v4.2M1162.4 1823v4.2M1169.5 1823v5.4M1175.3 1823v4.2M1180.2 1823v4.2M1184.5 1823v4.2M1188.2 1823v4.2M1210.9 1823v4.2M1222.2 1823v4.2M1230.3 1823v4.2M1236.5 1823v5.4M1241.6 1823v4.2M1245.9 1823v4.2M1249.6 1823v4.2M1252.9 1823v4.2M1275.1 1823v4.2M1084.6 1823v4.2M1088.3 1823v4.2M1092.1 1823v4.2M1095.8 1823v4.2M1099.5 1823v5.4M1103.3 1823v4.2M1107 1823v4.2M1110.7 1823v4.2M1114.5 1823v4.2M1067.4 1823v4.2M1063.1 1823v4.2M1058.8 1823v4.2M1054.5 1823v4.2M1050.2 1823v5.4M1045.8 1823v4.2M1041.5 1823v4.2M1037.2 1823v4.2M1032.9 1823v4.2M1069.1 1823v6.2M1070.6 1823v6.2M1072.1 1823v6.2M1073.6 1823v6.2M1075.1 1823v6.2M1076.6 1823v6.2M1078.1 1823v6.2" stroke="#000" stroke-width="1.8" fill="none"/>
<path d="M1028.6 1823v8M1077.6 1823v8M1118.2 1823v8M1191.6 1823v8M1255.8 1823v8" stroke="#000" stroke-width="2.5" fill="none"/>
<path d="M1011.6 1690h-4.2M1011.6 1676.6h-4.2M1011.6 1667.1h-4.2M1011.6 1659.7h-5.4M1011.6 1653.7h-4.2M1011.6 1648.6h-4.2M1011.6 1644.2h-4.2M1011.6 1640.3h-4.2M1011.6 1616.8h-4.2M1011.6 1605.1h-4.2M1011.6 1596.8h-4.2M1011.6 1590.4h-5.4M1011.6 1585.1h-4.2M1011.6 1580.7h-4.2M1011.6 1576.8h-4.2M1011.6 1573.4h-4.2M1011.6 1550.4h-4.2M1011.6 1750.7h-4.2M1011.6 1746.5h-4.2M1011.6 1742.3h-4.2M1011.6 1738.1h-4.2M1011.6 1733.9h-5.4M1011.6 1729.7h-4.2M1011.6 1725.5h-4.2M1011.6 1721.3h-4.2M1011.6 1717.1h-4.2M1011.6 1768.1h-4.2M1011.6 1772.1h-4.2M1011.6 1776.1h-4.2M1011.6 1780.1h-4.2M1011.6 1784.1h-5.4M1011.6 1788.1h-4.2M1011.6 1792.2h-4.2M1011.6 1796.2h-4.2M1011.6 1800.2h-4.2M1011.6 1767.1h-6.2M1011.6 1765.6h-6.2M1011.6 1764.1h-6.2M1011.6 1762.6h-6.2M1011.6 1761.1h-6.2M1011.6 1759.6h-6.2M1011.6 1758.1h-6.2" stroke="#000" stroke-width="1.8" fill="none"/>
<path d="M1011.6 1804.2h-8M1011.6 1758.6h-8M1011.6 1712.9h-8M1011.6 1636.8h-8M1011.6 1570.4h-8" stroke="#000" stroke-width="2.5" fill="none"/>
<text x="1026" y="1846.5" font-size="8.8" class="t">-10<tspan dx="1.8" dy="-5.8">3</tspan></text>
<text x="1075.8" y="1846.5" font-size="8.8" class="t">0</text>
<text x="1117.9" y="1846.5" font-size="8.8" class="t">10<tspan dx="1.8" dy="-5.8">3</tspan></text>
<text x="1191.3" y="1846.5" font-size="8.8" class="t">10<tspan dx="1.8" dy="-5.8">4</tspan></text>
<text x="1255.5" y="1846.5" font-size="8.8" class="t">10<tspan dx="1.8" dy="-5.8">5</tspan></text>
<text x="997.6" y="1807.8" font-size="8.8" text-anchor="end" class="t">-10<tspan dx="1.8" dy="-5.8">3</tspan></text>
<text x="993.1" y="1762.2" font-size="8.8" text-anchor="end" class="t">0</text>
<text x="997.6" y="1716.5" font-size="8.8" text-anchor="end" class="t">10<tspan dx="1.8" dy="-5.8">3</tspan></text>
<text x="997.6" y="1640.4" font-size="8.8" text-anchor="end" class="t">10<tspan dx="1.8" dy="-5.8">4</tspan></text>
<text x="997.6" y="1574" font-size="8.8" text-anchor="end" class="t">10<tspan dx="1.8" dy="-5.8">5</tspan></text>
<g transform="translate(1319 1544)" clip-path="url(#pc)">
<path d="M73.5 71.9C73.6 70.1 75.3 65.2 76.5 64.3C77.7 63.4 84.2 63.4 85.7 62.7C87.2 62.1 90.6 58.7 91.8 58.1C93 57.6 96.6 57.5 97.9 57.4C99.3 57.2 104.4 57.5 105.6 56.6C106.8 55.8 109.1 50 110.2 49C111.2 47.9 114.8 46.1 116.3 45.9C117.8 45.8 124.6 46.2 125.5 47.4C126.4 48.7 125.8 56.5 125.5 58.1C125.2 59.8 122.3 63.2 122.4 64.3C122.6 65.3 125.8 68.6 127 68.9C128.2 69.2 133.6 69 134.7 67.3C135.7 65.6 136.8 54.2 137.7 52C138.6 49.9 142.3 46.6 143.8 45.9C145.4 45.2 151.2 45.1 153 45.1C154.9 45.1 160.5 45.5 162.2 45.9C163.9 46.3 168.8 47.9 169.9 49C170.9 50 172.9 55.4 172.9 56.6C172.9 57.8 169.9 60.1 169.9 61.2C169.9 62.3 172.1 66.3 172.9 67.3C173.7 68.4 177 70.4 177.5 71.9C178 73.5 177.5 80.9 178.3 82.6C179 84.3 184.5 87.5 185.2 88.8C185.8 90 185.5 93.7 185.2 94.9C184.8 96 183.8 100.5 182.1 100.2C180.4 99.9 172.8 92.7 168.3 91.8C163.9 91 143.5 91.2 137.7 91.8C131.9 92.4 114.8 97.9 110.2 97.9C105.6 97.9 95.2 92.3 91.8 91.8C88.4 91.4 78.2 94.3 76.5 93.3C74.8 92.4 75.3 84.8 75 82.6C74.7 80.5 73.3 73.8 73.5 71.9Z" fill="#0a0a0a"/>
<path d="M66.6 153C66.4 147.7 67.1 128.5 67.3 122.4C67.6 116.3 67.8 104.6 68.9 101C69.9 97.4 74.9 94 76.5 91.8C78.1 89.7 81 85 82.6 82.6C84.2 80.3 88.9 74.2 90.3 71.9C91.7 69.6 93.6 64 94.9 62.7C96.1 61.5 99.7 60.7 101 61.2C102.2 61.7 104.9 64.8 105.6 67.3C106.3 69.8 106.6 79.6 107.1 82.6C107.7 85.7 109.3 91.9 110.2 93.3C111.1 94.8 114.1 96.5 114.8 94.9C115.5 93.3 115 82.2 116.3 79.6C117.5 76.9 123.3 73.3 125.5 71.9C127.6 70.5 132.9 69.7 134.7 67.3C136.4 65 139 53.9 140.8 52C142.6 50.2 147.8 50.7 150 51.3C152.1 51.8 157.4 55.1 159.1 56.6C160.9 58.1 163.8 62.7 165.3 64.3C166.7 65.9 170.1 68.6 171.4 70.4C172.6 72.2 175.1 77.1 176 79.6C176.9 82.1 178.1 89.1 179 91.8C179.9 94.5 182.6 100 183.6 102.5C184.6 105 187.2 110 187.5 113.2C187.7 116.4 186.4 126.9 185.9 130.1C185.5 133.3 185.1 139 183.6 140.8C182.1 142.6 175.1 143.6 172.9 145.4C170.8 147.2 167.6 153.4 165.3 156.1C162.9 158.8 156.2 165.8 153 168.3C149.8 170.8 142 176.1 137.7 177.5C133.4 178.9 121.7 179.9 116.3 180.6C110.9 181.3 96.5 183.4 91.8 183.6C87.2 183.9 79.2 184.6 76.5 182.9C73.8 181.1 70 171.8 68.9 168.3C67.7 164.8 66.7 158.4 66.6 153Z" fill="#cfd6d5" stroke="#0a0a0a" stroke-width="1.8"/>
<g clip-path="url(#c22)">
<ellipse cx="159.1" cy="79.6" rx="8.4" ry="8.4" fill="#0c0c0c" opacity="0.35" filter="url(#b5)"/>
<ellipse cx="134.7" cy="88.8" rx="6.9" ry="6.9" fill="#0c0c0c" opacity="0.25" filter="url(#b5)"/>
<ellipse cx="153" cy="97.9" rx="18.4" ry="6.1" fill="#0c0c0c" opacity="0.25" filter="url(#b5)"/>
<ellipse cx="81.1" cy="106.3" rx="14.5" ry="6.4" fill="#0c0c0c" opacity="0.92" filter="url(#b5)"/>
<ellipse cx="130.1" cy="109" rx="50.5" ry="3.4" fill="#0c0c0c" opacity="0.5" filter="url(#b4)"/>
<ellipse cx="125.5" cy="117.8" rx="58.1" ry="5.8" fill="#0c0c0c" opacity="0.95" filter="url(#b5)"/>
<ellipse cx="166.8" cy="130.1" rx="14.5" ry="18.4" fill="#0c0c0c" opacity="0.95" filter="url(#b6)"/>
<path d="M73.5 145.4C73.5 141 73.6 132.2 75 128.5C76.4 124.9 78.3 121.9 82.6 120.9C87 119.9 98.1 121.4 104.1 121.7C110 121.9 116.9 122 122.4 122.4C127.9 122.9 136.5 122.9 140.8 124.7C145 126.5 149.3 130.9 150.7 134.7C152.1 138.4 151.2 145.8 150 150C148.7 154.1 146 159.3 142.3 162.2C138.6 165.1 131.2 167.9 125.5 169.1C119.7 170.2 110 170.2 104.1 169.9C98.1 169.5 90.1 168.6 85.7 166.8C81.3 165 76.8 160.8 75 157.6C73.1 154.4 73.5 149.7 73.5 145.4Z" fill="#0c0c0c" stroke="#0c0c0c" stroke-width="17" filter="url(#b6)"/>
<path d="M73.5 145.4C73.5 141 73.6 132.2 75 128.5C76.4 124.9 78.3 121.9 82.6 120.9C87 119.9 98.1 121.4 104.1 121.7C110 121.9 116.9 122 122.4 122.4C127.9 122.9 136.5 122.9 140.8 124.7C145 126.5 149.3 130.9 150.7 134.7C152.1 138.4 151.2 145.8 150 150C148.7 154.1 146 159.3 142.3 162.2C138.6 165.1 131.2 167.9 125.5 169.1C119.7 170.2 110 170.2 104.1 169.9C98.1 169.5 90.1 168.6 85.7 166.8C81.3 165 76.8 160.8 75 157.6C73.1 154.4 73.5 149.7 73.5 145.4Z" fill="#cfd6d5" stroke="#fff" stroke-width="1.1"/>
<path d="M78.3 145.4C78.7 143 78.6 136.8 81.1 134.7C83.6 132.5 89.6 131.5 94.9 130.8C100.2 130.1 110.6 129.8 116.3 130.1C122 130.3 129.7 130.5 133.1 132.4C136.6 134.2 139 139 139.2 142.3C139.5 145.6 137.4 151.9 134.7 154.6C131.9 157.2 125.9 159 120.9 159.9C115.8 160.8 106.3 161.2 101 160.7C95.7 160.1 89 157.6 85.7 156.1C82.4 154.6 79.9 152.3 78.8 150.7C77.7 149.1 78 147.8 78.3 145.4Z" fill="#0c0c0c" stroke="#0c0c0c" stroke-width="10.2" filter="url(#b3)"/>
<path d="M78.3 145.4C78.7 143 78.6 136.8 81.1 134.7C83.6 132.5 89.6 131.5 94.9 130.8C100.2 130.1 110.6 129.8 116.3 130.1C122 130.3 129.7 130.5 133.1 132.4C136.6 134.2 139 139 139.2 142.3C139.5 145.6 137.4 151.9 134.7 154.6C131.9 157.2 125.9 159 120.9 159.9C115.8 160.8 106.3 161.2 101 160.7C95.7 160.1 89 157.6 85.7 156.1C82.4 154.6 79.9 152.3 78.8 150.7C77.7 149.1 78 147.8 78.3 145.4Z" fill="#cfd6d5" stroke="#fff" stroke-width="1.1"/>
<path d="M83.9 144.6C84.1 143 85.6 140.2 87.2 139.2C88.9 138.3 92.8 139.2 94.9 138.5C96.9 137.8 97.8 135.2 101 134.7C104.2 134.1 112.2 134 116.3 134.7C120.4 135.3 126.4 137.4 128.5 139.2C130.6 141.1 130.8 144.7 130.4 146.9C129.9 149.1 128.5 152.6 125.5 153.8C122.4 155 114.3 154.7 110.2 154.9C106 155 100.5 155.2 97.9 154.6C95.4 153.9 95.2 151.4 93.3 150.7C91.5 150 87.1 150.9 85.7 150C84.3 149 83.6 146.2 83.9 144.6Z" fill="#0c0c0c" stroke="#0c0c0c" stroke-width="8.5" filter="url(#b3)"/>
<path d="M83.9 144.6C84.1 143 85.6 140.2 87.2 139.2C88.9 138.3 92.8 139.2 94.9 138.5C96.9 137.8 97.8 135.2 101 134.7C104.2 134.1 112.2 134 116.3 134.7C120.4 135.3 126.4 137.4 128.5 139.2C130.6 141.1 130.8 144.7 130.4 146.9C129.9 149.1 128.5 152.6 125.5 153.8C122.4 155 114.3 154.7 110.2 154.9C106 155 100.5 155.2 97.9 154.6C95.4 153.9 95.2 151.4 93.3 150.7C91.5 150 87.1 150.9 85.7 150C84.3 149 83.6 146.2 83.9 144.6Z" fill="#cfd6d5" stroke="#fff" stroke-width="1.1"/>
<ellipse cx="107.9" cy="144.1" rx="12.5" ry="8" fill="#0c0c0c" opacity="0.97" filter="url(#b3)"/>
</g>
<path d="M84 73.5C84 73.9 83.8 74.7 83.6 75C83.5 75.4 83 76.1 82.6 76.3C82.3 76.6 81.6 76.9 81.2 77C80.7 77.1 79.9 77.1 79.5 77C79.1 76.9 78.4 76.6 78 76.3C77.7 76.1 77.2 75.4 77 75C76.8 74.7 76.7 73.9 76.7 73.5C76.7 73 76.8 72.2 77 71.9C77.2 71.5 77.7 70.8 78 70.6C78.4 70.3 79.1 70 79.5 69.9C79.9 69.8 80.7 69.8 81.2 69.9C81.6 70 82.3 70.3 82.6 70.6C83 70.8 83.5 71.5 83.6 71.9C83.8 72.2 84 73 84 73.5Z" fill="#cfd6d5"/>
<path d="M97.7 18.7h4.1v4h-4.1zM112 22.5h4.1v4h-4.1zM116.5 27.1h4.1v4h-4.1zM141 35.5h4.1v4h-4.1zM151 38.6h4.1v4h-4.1zM162.9 38.6h4.1v4h-4.1zM181.1 36.3h4.1v4h-4.1zM86.7 39.3h4.1v4h-4.1zM171.6 41.9h4.1v4h-4.1zM75.4 49.3h8.4v4h-8.4zM85.2 52h4.1v4h-4.1zM132.1 47.7h4.1v4h-4.1zM132.6 53.1h4.1v4h-4.1zM123.7 58.4h4.1v4h-4.1zM202.2 125.8h4.1v4h-4.1zM193.5 140.8h4.1v4h-4.1zM91.8 188.1h4.1v4h-4.1zM75.5 217.1h4.1v4h-4.1z" fill="#111"/>
<rect x="65.5" y="13" width="135.3" height="97.6" fill="none" stroke="#0a0a0a" stroke-width="1.9"/>
<text transform="translate(148.4 37.2) scale(1 1.04)" font-size="28.2" text-anchor="middle">11.0</text>
</g>
<rect x="1319.6" y="1544.4" width="270" height="278.6" fill="none" stroke="#000" stroke-width="2.6"/>
<path d="M1448.3 1823v4.2M1461.2 1823v4.2M1470.4 1823v4.2M1477.5 1823v5.4M1483.3 1823v4.2M1488.2 1823v4.2M1492.5 1823v4.2M1496.2 1823v4.2M1518.9 1823v4.2M1530.2 1823v4.2M1538.3 1823v4.2M1544.5 1823v5.4M1549.6 1823v4.2M1553.9 1823v4.2M1557.6 1823v4.2M1560.9 1823v4.2M1583.1 1823v4.2M1392.6 1823v4.2M1396.3 1823v4.2M1400.1 1823v4.2M1403.8 1823v4.2M1407.5 1823v5.4M1411.3 1823v4.2M1415 1823v4.2M1418.7 1823v4.2M1422.5 1823v4.2M1375.4 1823v4.2M1371.1 1823v4.2M1366.8 1823v4.2M1362.5 1823v4.2M1358.2 1823v5.4M1353.8 1823v4.2M1349.5 1823v4.2M1345.2 1823v4.2M1340.9 1823v4.2M1377.1 1823v6.2M1378.6 1823v6.2M1380.1 1823v6.2M1381.6 1823v6.2M1383.1 1823v6.2M1384.6 1823v6.2M1386.1 1823v6.2" stroke="#000" stroke-width="1.8" fill="none"/>
<path d="M1336.6 1823v8M1385.6 1823v8M1426.2 1823v8M1499.6 1823v8M1563.8 1823v8" stroke="#000" stroke-width="2.5" fill="none"/>
<path d="M1319.6 1690h-4.2M1319.6 1676.6h-4.2M1319.6 1667.1h-4.2M1319.6 1659.7h-5.4M1319.6 1653.7h-4.2M1319.6 1648.6h-4.2M1319.6 1644.2h-4.2M1319.6 1640.3h-4.2M1319.6 1616.8h-4.2M1319.6 1605.1h-4.2M1319.6 1596.8h-4.2M1319.6 1590.4h-5.4M1319.6 1585.1h-4.2M1319.6 1580.7h-4.2M1319.6 1576.8h-4.2M1319.6 1573.4h-4.2M1319.6 1550.4h-4.2M1319.6 1750.7h-4.2M1319.6 1746.5h-4.2M1319.6 1742.3h-4.2M1319.6 1738.1h-4.2M1319.6 1733.9h-5.4M1319.6 1729.7h-4.2M1319.6 1725.5h-4.2M1319.6 1721.3h-4.2M1319.6 1717.1h-4.2M1319.6 1768.1h-4.2M1319.6 1772.1h-4.2M1319.6 1776.1h-4.2M1319.6 1780.1h-4.2M1319.6 1784.1h-5.4M1319.6 1788.1h-4.2M1319.6 1792.2h-4.2M1319.6 1796.2h-4.2M1319.6 1800.2h-4.2M1319.6 1767.1h-6.2M1319.6 1765.6h-6.2M1319.6 1764.1h-6.2M1319.6 1762.6h-6.2M1319.6 1761.1h-6.2M1319.6 1759.6h-6.2M1319.6 1758.1h-6.2" stroke="#000" stroke-width="1.8" fill="none"/>
<path d="M1319.6 1804.2h-8M1319.6 1758.6h-8M1319.6 1712.9h-8M1319.6 1636.8h-8M1319.6 1570.4h-8" stroke="#000" stroke-width="2.5" fill="none"/>
<text x="1334" y="1846.5" font-size="8.8" class="t">-10<tspan dx="1.8" dy="-5.8">3</tspan></text>
<text x="1383.8" y="1846.5" font-size="8.8" class="t">0</text>
<text x="1425.9" y="1846.5" font-size="8.8" class="t">10<tspan dx="1.8" dy="-5.8">3</tspan></text>
<text x="1499.3" y="1846.5" font-size="8.8" class="t">10<tspan dx="1.8" dy="-5.8">4</tspan></text>
<text x="1563.5" y="1846.5" font-size="8.8" class="t">10<tspan dx="1.8" dy="-5.8">5</tspan></text>
<text x="1305.6" y="1807.8" font-size="8.8" text-anchor="end" class="t">-10<tspan dx="1.8" dy="-5.8">3</tspan></text>
<text x="1301.1" y="1762.2" font-size="8.8" text-anchor="end" class="t">0</text>
<text x="1305.6" y="1716.5" font-size="8.8" text-anchor="end" class="t">10<tspan dx="1.8" dy="-5.8">3</tspan></text>
<text x="1305.6" y="1640.4" font-size="8.8" text-anchor="end" class="t">10<tspan dx="1.8" dy="-5.8">4</tspan></text>
<text x="1305.6" y="1574" font-size="8.8" text-anchor="end" class="t">10<tspan dx="1.8" dy="-5.8">5</tspan></text>
<line x1="1777.4" y1="0" x2="1777.4" y2="32" stroke="#1f2a2b" stroke-width="1.7"/>
<rect x="1763.1" y="6.9" width="29.3" height="19.1" fill="#f6f7f4" stroke="#1f2a2b" stroke-width="1.7"/>
<line x1="1763.1" y1="16.6" x2="1792.4" y2="16.6" stroke="#1f2a2b" stroke-width="1.7"/>
<circle cx="1777.4" cy="16.6" r="6" fill="#1e2b2b" fill-opacity="0.9"/>
<text transform="translate(1808.5 23) scale(1 1.04)" font-size="28.6">HC</text>
<line x1="1884.8" y1="0" x2="1884.8" y2="32" stroke="#1f2a2b" stroke-width="1.7"/>
<rect x="1870" y="6.9" width="29.5" height="19.1" fill="#f07563" stroke="#1f2a2b" stroke-width="1.7"/>
<line x1="1870" y1="16.6" x2="1899.5" y2="16.6" stroke="#1f2a2b" stroke-width="1.7"/>
<circle cx="1884.8" cy="16.6" r="6" fill="#1e2b2b" fill-opacity="0.9"/>
<text transform="translate(1916.8 23) scale(1 1.04)" font-size="28.6">JSLE</text>
<path d="M1723.6 98.6V393H2008" fill="none" stroke="#111" stroke-width="2.3"/>
<line x1="1719.1" y1="145.7" x2="1723.6" y2="145.7" stroke="#111" stroke-width="1.6"/>
<text text-anchor="end" transform="translate(1718 150.6) scale(1 1.04)" font-size="28.7">15</text>
<line x1="1719.1" y1="227.5" x2="1723.6" y2="227.5" stroke="#111" stroke-width="1.6"/>
<text text-anchor="end" transform="translate(1718 232.4) scale(1 1.04)" font-size="28.7">10</text>
<line x1="1719.1" y1="309.2" x2="1723.6" y2="309.2" stroke="#111" stroke-width="1.6"/>
<text text-anchor="end" transform="translate(1718 314.1) scale(1 1.04)" font-size="28.7">5</text>
<line x1="1719.1" y1="391.3" x2="1723.6" y2="391.3" stroke="#111" stroke-width="1.6"/>
<text text-anchor="end" transform="translate(1718 396.2) scale(1 1.04)" font-size="28.7">0</text>
<line x1="1764.3" y1="393" x2="1764.3" y2="397.5" stroke="#111" stroke-width="1.6"/>
<line x1="1832.2" y1="393" x2="1832.2" y2="397.5" stroke="#111" stroke-width="1.6"/>
<line x1="1899.6" y1="393" x2="1899.6" y2="397.5" stroke="#111" stroke-width="1.6"/>
<line x1="1967.3" y1="393" x2="1967.3" y2="397.5" stroke="#111" stroke-width="1.6"/>
<text transform="translate(1665.5 386.8) rotate(-90) scale(1 1.04)" font-size="28.2">% CD25<tspan font-size="16.5" dy="-10.5">+</tspan><tspan dy="10.5" font-size="1">&#8203;</tspan> CD56<tspan font-size="16.5" dy="-10.5">+</tspan><tspan dy="10.5" font-size="1">&#8203;</tspan> cells</text>
<line x1="1764.3" y1="320" x2="1764.3" y2="377.4" stroke="#1f2a2b" stroke-width="2"/>
<rect x="1743.5" y="342.2" width="41.7" height="25.6" fill="#f6f7f4" stroke="#1f2a2b" stroke-width="2.1"/>
<line x1="1743.5" y1="348.2" x2="1785.2" y2="348.2" stroke="#1f2a2b" stroke-width="2"/>
<line x1="1832.2" y1="264.3" x2="1832.2" y2="345.2" stroke="#1f2a2b" stroke-width="2"/>
<rect x="1811.6" y="289.5" width="41.4" height="32.2" fill="#f07563" stroke="#1f2a2b" stroke-width="2.1"/>
<line x1="1811.6" y1="299.5" x2="1853" y2="299.5" stroke="#1f2a2b" stroke-width="2"/>
<line x1="1899.6" y1="167" x2="1899.6" y2="332.2" stroke="#1f2a2b" stroke-width="2"/>
<rect x="1879.1" y="209.9" width="41.4" height="69.7" fill="#f6f7f4" stroke="#1f2a2b" stroke-width="2.1"/>
<line x1="1879.1" y1="232.7" x2="1920.5" y2="232.7" stroke="#1f2a2b" stroke-width="2"/>
<line x1="1967.3" y1="224.3" x2="1967.3" y2="338.2" stroke="#1f2a2b" stroke-width="2"/>
<rect x="1946.6" y="262.6" width="41.6" height="48.3" fill="#f07563" stroke="#1f2a2b" stroke-width="2.1"/>
<line x1="1946.6" y1="264" x2="1988.2" y2="264" stroke="#1f2a2b" stroke-width="2"/>
<circle cx="1753.6" cy="319.1" r="4.8" fill="#1e2b2b" fill-opacity="0.85"/>
<circle cx="1772.2" cy="338.2" r="4.8" fill="#1e2b2b" fill-opacity="0.85"/>
<circle cx="1761.7" cy="344.3" r="4.8" fill="#1e2b2b" fill-opacity="0.85"/>
<circle cx="1773" cy="346" r="4.8" fill="#1e2b2b" fill-opacity="0.85"/>
<circle cx="1763" cy="352.7" r="4.8" fill="#1e2b2b" fill-opacity="0.85"/>
<circle cx="1780.9" cy="366" r="4.8" fill="#1e2b2b" fill-opacity="0.85"/>
<circle cx="1764.7" cy="371.3" r="4.8" fill="#1e2b2b" fill-opacity="0.85"/>
<circle cx="1761.7" cy="378.6" r="4.8" fill="#1e2b2b" fill-opacity="0.85"/>
<circle cx="1829.6" cy="150.8" r="4.8" fill="#1e2b2b" fill-opacity="0.85"/>
<circle cx="1826.1" cy="264" r="4.8" fill="#1e2b2b" fill-opacity="0.85"/>
<circle cx="1830.1" cy="290" r="4.8" fill="#1e2b2b" fill-opacity="0.85"/>
<circle cx="1818.8" cy="300" r="4.8" fill="#1e2b2b" fill-opacity="0.85"/>
<circle cx="1830.1" cy="299.1" r="4.8" fill="#1e2b2b" fill-opacity="0.85"/>
<circle cx="1821.4" cy="318.2" r="4.8" fill="#1e2b2b" fill-opacity="0.85"/>
<circle cx="1832.2" cy="320.8" r="4.8" fill="#1e2b2b" fill-opacity="0.85"/>
<circle cx="1833" cy="345.7" r="4.8" fill="#1e2b2b" fill-opacity="0.85"/>
<circle cx="1847" cy="379.6" r="4.8" fill="#1e2b2b" fill-opacity="0.85"/>
<circle cx="1909.5" cy="167" r="4.8" fill="#1e2b2b" fill-opacity="0.85"/>
<circle cx="1906.1" cy="206.1" r="4.8" fill="#1e2b2b" fill-opacity="0.85"/>
<circle cx="1903.8" cy="210.8" r="4.8" fill="#1e2b2b" fill-opacity="0.85"/>
<circle cx="1899.6" cy="217.7" r="4.8" fill="#1e2b2b" fill-opacity="0.85"/>
<circle cx="1888.3" cy="247.8" r="4.8" fill="#1e2b2b" fill-opacity="0.85"/>
<circle cx="1896" cy="273" r="4.8" fill="#1e2b2b" fill-opacity="0.85"/>
<circle cx="1897.7" cy="300.9" r="4.8" fill="#1e2b2b" fill-opacity="0.85"/>
<circle cx="1899.6" cy="332.2" r="4.8" fill="#1e2b2b" fill-opacity="0.85"/>
<circle cx="1983.5" cy="224" r="4.8" fill="#1e2b2b" fill-opacity="0.85"/>
<circle cx="1952.2" cy="233.9" r="4.8" fill="#1e2b2b" fill-opacity="0.85"/>
<circle cx="1953" cy="264" r="4.8" fill="#1e2b2b" fill-opacity="0.85"/>
<circle cx="1958.6" cy="264.3" r="4.8" fill="#1e2b2b" fill-opacity="0.85"/>
<circle cx="1971.6" cy="263" r="4.8" fill="#1e2b2b" fill-opacity="0.85"/>
<circle cx="1979.5" cy="263.5" r="4.8" fill="#1e2b2b" fill-opacity="0.85"/>
<circle cx="1980" cy="310.4" r="4.8" fill="#1e2b2b" fill-opacity="0.85"/>
<circle cx="1976.5" cy="318.8" r="4.8" fill="#1e2b2b" fill-opacity="0.85"/>
<circle cx="1971.8" cy="338.2" r="4.8" fill="#1e2b2b" fill-opacity="0.85"/>
<path d="M1830.4 74.9V68.4H1965.2V74.9" fill="none" stroke="#111" stroke-width="2.1"/>
<text text-anchor="middle" transform="translate(1904.2 65) scale(1 1.04)" font-size="28.6">0.25</text>
<path d="M1763.1 105.3V98.6H1898.4V105.3" fill="none" stroke="#111" stroke-width="2.1"/>
<text text-anchor="middle" transform="translate(1826.4 94.9) scale(1 1.04)" font-size="28.6">0.001</text>
<path d="M1899.5 118.7V111.5H1967.5V118.7" fill="none" stroke="#111" stroke-width="2.1"/>
<text text-anchor="middle" transform="translate(1942.7 107.8) scale(1 1.04)" font-size="28.6">0.2</text>
<path d="M1764 146.3V138.9H1832.7V146.3" fill="none" stroke="#111" stroke-width="2.1"/>
<text text-anchor="middle" transform="translate(1815.5 135.9) scale(1 1.04)" font-size="28.6">0.034</text>
<text text-anchor="middle" transform="translate(1762.3 425.4) scale(1 1.04)" font-size="28.6">&#8211;</text>
<text text-anchor="middle" transform="translate(1833.9 425.4) scale(1 1.04)" font-size="28.6">&#8211;</text>
<text text-anchor="middle" transform="translate(1898.2 426.1) scale(1 1.04)" font-size="28.6">+</text>
<text text-anchor="middle" transform="translate(1963 426.1) scale(1 1.04)" font-size="28.6">+</text>
<path d="M1723.7 562.2V859.4H2008" fill="none" stroke="#111" stroke-width="2.3"/>
<line x1="1719.2" y1="626.7" x2="1723.7" y2="626.7" stroke="#111" stroke-width="1.6"/>
<text text-anchor="end" transform="translate(1718.1 631.6) scale(1 1.04)" font-size="28.7">60</text>
<line x1="1719.2" y1="708.9" x2="1723.7" y2="708.9" stroke="#111" stroke-width="1.6"/>
<text text-anchor="end" transform="translate(1718.1 713.8) scale(1 1.04)" font-size="28.7">40</text>
<line x1="1719.2" y1="791.2" x2="1723.7" y2="791.2" stroke="#111" stroke-width="1.6"/>
<text text-anchor="end" transform="translate(1718.1 796.1) scale(1 1.04)" font-size="28.7">20</text>
<line x1="1764" y1="859.4" x2="1764" y2="863.9" stroke="#111" stroke-width="1.6"/>
<line x1="1832" y1="859.4" x2="1832" y2="863.9" stroke="#111" stroke-width="1.6"/>
<line x1="1899.5" y1="859.4" x2="1899.5" y2="863.9" stroke="#111" stroke-width="1.6"/>
<line x1="1967" y1="859.4" x2="1967" y2="863.9" stroke="#111" stroke-width="1.6"/>
<text transform="translate(1668.8 855.3) rotate(-90) scale(1 1.04)" font-size="28.2">% NKg2D<tspan font-size="16.5" dy="-10.5">+</tspan><tspan dy="10.5" font-size="1">&#8203;</tspan> CD56<tspan font-size="16.5" dy="-10.5">+</tspan><tspan dy="10.5" font-size="1">&#8203;</tspan> cells</text>
<line x1="1764" y1="768.4" x2="1764" y2="841.9" stroke="#1f2a2b" stroke-width="2"/>
<rect x="1743.5" y="790.7" width="42" height="51.2" fill="#f6f7f4" stroke="#1f2a2b" stroke-width="2.1"/>
<line x1="1743.5" y1="811" x2="1785.5" y2="811" stroke="#1f2a2b" stroke-width="2"/>
<line x1="1832" y1="750.4" x2="1832" y2="788.4" stroke="#1f2a2b" stroke-width="2"/>
<rect x="1811.5" y="757.3" width="41.5" height="25.4" fill="#f07563" stroke="#1f2a2b" stroke-width="2.1"/>
<line x1="1811.5" y1="759.6" x2="1853" y2="759.6" stroke="#1f2a2b" stroke-width="2"/>
<line x1="1899.5" y1="720" x2="1899.5" y2="811.5" stroke="#1f2a2b" stroke-width="2"/>
<rect x="1878.8" y="759.6" width="41.5" height="35" fill="#f6f7f4" stroke="#1f2a2b" stroke-width="2.1"/>
<line x1="1878.8" y1="770.7" x2="1920.3" y2="770.7" stroke="#1f2a2b" stroke-width="2"/>
<line x1="1967" y1="614.9" x2="1967" y2="759.6" stroke="#1f2a2b" stroke-width="2"/>
<rect x="1946.8" y="688.7" width="41.4" height="50.6" fill="#f07563" stroke="#1f2a2b" stroke-width="2.1"/>
<line x1="1946.8" y1="711.2" x2="1988.2" y2="711.2" stroke="#1f2a2b" stroke-width="2"/>
<circle cx="1772.8" cy="767.9" r="4.8" fill="#1e2b2b" fill-opacity="0.85"/>
<circle cx="1761.7" cy="789.6" r="4.8" fill="#1e2b2b" fill-opacity="0.85"/>
<circle cx="1753.9" cy="794.9" r="4.8" fill="#1e2b2b" fill-opacity="0.85"/>
<circle cx="1761.3" cy="793" r="4.8" fill="#1e2b2b" fill-opacity="0.85"/>
<circle cx="1763.1" cy="826.9" r="4.8" fill="#1e2b2b" fill-opacity="0.85"/>
<circle cx="1764.7" cy="841.9" r="4.8" fill="#1e2b2b" fill-opacity="0.85"/>
<circle cx="1773.3" cy="841.4" r="4.8" fill="#1e2b2b" fill-opacity="0.85"/>
<circle cx="1780.9" cy="846.7" r="4.8" fill="#1e2b2b" fill-opacity="0.85"/>
<circle cx="1832.7" cy="702.7" r="4.8" fill="#1e2b2b" fill-opacity="0.85"/>
<circle cx="1818.9" cy="749.7" r="4.8" fill="#1e2b2b" fill-opacity="0.85"/>
<circle cx="1826.3" cy="757.8" r="4.8" fill="#1e2b2b" fill-opacity="0.85"/>
<circle cx="1847.2" cy="759.6" r="4.8" fill="#1e2b2b" fill-opacity="0.85"/>
<circle cx="1821.6" cy="761.9" r="4.8" fill="#1e2b2b" fill-opacity="0.85"/>
<circle cx="1832.7" cy="775.7" r="4.8" fill="#1e2b2b" fill-opacity="0.85"/>
<circle cx="1830.4" cy="781.5" r="4.8" fill="#1e2b2b" fill-opacity="0.85"/>
<circle cx="1829.9" cy="786.1" r="4.8" fill="#1e2b2b" fill-opacity="0.85"/>
<circle cx="1830.4" cy="790" r="4.8" fill="#1e2b2b" fill-opacity="0.85"/>
<circle cx="1900.2" cy="719.8" r="4.8" fill="#1e2b2b" fill-opacity="0.85"/>
<circle cx="1909.4" cy="754.5" r="4.8" fill="#1e2b2b" fill-opacity="0.85"/>
<circle cx="1888.5" cy="761.9" r="4.8" fill="#1e2b2b" fill-opacity="0.85"/>
<circle cx="1899.5" cy="761.5" r="4.8" fill="#1e2b2b" fill-opacity="0.85"/>
<circle cx="1904.1" cy="779.2" r="4.8" fill="#1e2b2b" fill-opacity="0.85"/>
<circle cx="1897.7" cy="788.4" r="4.8" fill="#1e2b2b" fill-opacity="0.85"/>
<circle cx="1896.1" cy="810.8" r="4.8" fill="#1e2b2b" fill-opacity="0.85"/>
<circle cx="1906" cy="812.1" r="4.8" fill="#1e2b2b" fill-opacity="0.85"/>
<circle cx="1959" cy="614.9" r="4.8" fill="#1e2b2b" fill-opacity="0.85"/>
<circle cx="1980.2" cy="681.3" r="4.8" fill="#1e2b2b" fill-opacity="0.85"/>
<circle cx="1972.1" cy="689.3" r="4.8" fill="#1e2b2b" fill-opacity="0.85"/>
<circle cx="1977.2" cy="706.2" r="4.8" fill="#1e2b2b" fill-opacity="0.85"/>
<circle cx="1952" cy="711.9" r="4.8" fill="#1e2b2b" fill-opacity="0.85"/>
<circle cx="1983.6" cy="723.9" r="4.8" fill="#1e2b2b" fill-opacity="0.85"/>
<circle cx="1979.7" cy="738.4" r="4.8" fill="#1e2b2b" fill-opacity="0.85"/>
<circle cx="1953.2" cy="760.1" r="4.8" fill="#1e2b2b" fill-opacity="0.85"/>
<circle cx="1970.9" cy="759.2" r="4.8" fill="#1e2b2b" fill-opacity="0.85"/>
<path d="M1830.4 568.4V562.2H1965.6V568.4" fill="none" stroke="#111" stroke-width="2.1"/>
<text text-anchor="middle" transform="translate(1911.6 558) scale(1 1.04)" font-size="28.6">0.004</text>
<path d="M1899.5 604V597.6H1967.5V604" fill="none" stroke="#111" stroke-width="2.1"/>
<text text-anchor="middle" transform="translate(1946.8 593.7) scale(1 1.04)" font-size="28.6">0.002</text>
<path d="M1763.1 627V620.7H1898.4V627" fill="none" stroke="#111" stroke-width="2.1"/>
<text text-anchor="middle" transform="translate(1855.7 616.8) scale(1 1.04)" font-size="28.6">0.002</text>
<path d="M1764 660.5V653.2H1832.7V660.5" fill="none" stroke="#111" stroke-width="2.1"/>
<text text-anchor="middle" transform="translate(1807.3 649) scale(1 1.04)" font-size="28.6">0.003</text>
<text text-anchor="middle" transform="translate(1769.3 894) scale(1 1.04)" font-size="28.6">&#8211;</text>
<text text-anchor="middle" transform="translate(1839.6 894) scale(1 1.04)" font-size="28.6">&#8211;</text>
<text text-anchor="middle" transform="translate(1904.1 894.7) scale(1 1.04)" font-size="28.6">+</text>
<text text-anchor="middle" transform="translate(1968.6 894.7) scale(1 1.04)" font-size="28.6">+</text>
<path d="M1723.3 1042.2V1338.9H2001.2" fill="none" stroke="#111" stroke-width="2.3"/>
<line x1="1718.8" y1="1048.8" x2="1723.3" y2="1048.8" stroke="#111" stroke-width="1.6"/>
<text text-anchor="end" transform="translate(1717.7 1053.7) scale(1 1.04)" font-size="28.7">100</text>
<line x1="1718.8" y1="1121.7" x2="1723.3" y2="1121.7" stroke="#111" stroke-width="1.6"/>
<text text-anchor="end" transform="translate(1717.7 1126.6) scale(1 1.04)" font-size="28.7">75</text>
<line x1="1718.8" y1="1195.1" x2="1723.3" y2="1195.1" stroke="#111" stroke-width="1.6"/>
<text text-anchor="end" transform="translate(1717.7 1200) scale(1 1.04)" font-size="28.7">50</text>
<line x1="1718.8" y1="1268" x2="1723.3" y2="1268" stroke="#111" stroke-width="1.6"/>
<text text-anchor="end" transform="translate(1717.7 1272.9) scale(1 1.04)" font-size="28.7">25</text>
<line x1="1763.2" y1="1338.9" x2="1763.2" y2="1343.4" stroke="#111" stroke-width="1.6"/>
<line x1="1828.9" y1="1338.9" x2="1828.9" y2="1343.4" stroke="#111" stroke-width="1.6"/>
<line x1="1894.8" y1="1338.9" x2="1894.8" y2="1343.4" stroke="#111" stroke-width="1.6"/>
<line x1="1960.8" y1="1338.9" x2="1960.8" y2="1343.4" stroke="#111" stroke-width="1.6"/>
<text transform="translate(1665.3 1310) rotate(-90) scale(1 1.04)" font-size="28.2">% CD69<tspan font-size="16.5" dy="-10.5">+</tspan><tspan dy="10.5" font-size="1">&#8203;</tspan> CD56<tspan font-size="16.5" dy="-10.5">+</tspan><tspan dy="10.5" font-size="1">&#8203;</tspan> cells</text>
<line x1="1763.1" y1="1252.3" x2="1763.1" y2="1319.1" stroke="#1f2a2b" stroke-width="2"/>
<rect x="1742.8" y="1252.3" width="40.6" height="42.6" fill="#f6f7f4" stroke="#1f2a2b" stroke-width="2.1"/>
<line x1="1742.8" y1="1281.5" x2="1783.4" y2="1281.5" stroke="#1f2a2b" stroke-width="2"/>
<line x1="1828.8" y1="1204.6" x2="1828.8" y2="1326" stroke="#1f2a2b" stroke-width="2"/>
<rect x="1809" y="1256.4" width="40.5" height="55.8" fill="#f07563" stroke="#1f2a2b" stroke-width="2.1"/>
<line x1="1809" y1="1290.3" x2="1849.5" y2="1290.3" stroke="#1f2a2b" stroke-width="2"/>
<line x1="1894.9" y1="1131.3" x2="1894.9" y2="1200.4" stroke="#1f2a2b" stroke-width="2"/>
<rect x="1874.6" y="1153.7" width="40.6" height="32.5" fill="#f6f7f4" stroke="#1f2a2b" stroke-width="2.1"/>
<line x1="1874.6" y1="1173.3" x2="1915.2" y2="1173.3" stroke="#1f2a2b" stroke-width="2"/>
<line x1="1960.6" y1="1127.2" x2="1960.6" y2="1254.6" stroke="#1f2a2b" stroke-width="2"/>
<rect x="1941.5" y="1174.4" width="39.8" height="57.6" fill="#f07563" stroke="#1f2a2b" stroke-width="2.1"/>
<line x1="1941.5" y1="1197.5" x2="1981.3" y2="1197.5" stroke="#1f2a2b" stroke-width="2"/>
<circle cx="1771" cy="1170.5" r="4.8" fill="#1e2b2b" fill-opacity="0.85"/>
<circle cx="1760.6" cy="1252.3" r="4.8" fill="#1e2b2b" fill-opacity="0.85"/>
<circle cx="1771.6" cy="1252.7" r="4.8" fill="#1e2b2b" fill-opacity="0.85"/>
<circle cx="1760.6" cy="1279.9" r="4.8" fill="#1e2b2b" fill-opacity="0.85"/>
<circle cx="1779.3" cy="1285" r="4.8" fill="#1e2b2b" fill-opacity="0.85"/>
<circle cx="1761.3" cy="1291.5" r="4.8" fill="#1e2b2b" fill-opacity="0.85"/>
<circle cx="1752.1" cy="1307.1" r="4.8" fill="#1e2b2b" fill-opacity="0.85"/>
<circle cx="1763.1" cy="1318.6" r="4.8" fill="#1e2b2b" fill-opacity="0.85"/>
<circle cx="1827.4" cy="1204.4" r="4.8" fill="#1e2b2b" fill-opacity="0.85"/>
<circle cx="1818.9" cy="1247.7" r="4.8" fill="#1e2b2b" fill-opacity="0.85"/>
<circle cx="1829.2" cy="1255.7" r="4.8" fill="#1e2b2b" fill-opacity="0.85"/>
<circle cx="1826.9" cy="1267.3" r="4.8" fill="#1e2b2b" fill-opacity="0.85"/>
<circle cx="1815.9" cy="1290.3" r="4.8" fill="#1e2b2b" fill-opacity="0.85"/>
<circle cx="1827.4" cy="1301.8" r="4.8" fill="#1e2b2b" fill-opacity="0.85"/>
<circle cx="1843.8" cy="1312.7" r="4.8" fill="#1e2b2b" fill-opacity="0.85"/>
<circle cx="1822.8" cy="1316.3" r="4.8" fill="#1e2b2b" fill-opacity="0.85"/>
<circle cx="1829.9" cy="1326" r="4.8" fill="#1e2b2b" fill-opacity="0.85"/>
<circle cx="1904.6" cy="1094" r="4.8" fill="#1e2b2b" fill-opacity="0.85"/>
<circle cx="1900.7" cy="1131.3" r="4.8" fill="#1e2b2b" fill-opacity="0.85"/>
<circle cx="1883.9" cy="1161.3" r="4.8" fill="#1e2b2b" fill-opacity="0.85"/>
<circle cx="1891.5" cy="1171.6" r="4.8" fill="#1e2b2b" fill-opacity="0.85"/>
<circle cx="1895.4" cy="1176.9" r="4.8" fill="#1e2b2b" fill-opacity="0.85"/>
<circle cx="1900" cy="1182.7" r="4.8" fill="#1e2b2b" fill-opacity="0.85"/>
<circle cx="1893.8" cy="1197.7" r="4.8" fill="#1e2b2b" fill-opacity="0.85"/>
<circle cx="1895.6" cy="1200.4" r="4.8" fill="#1e2b2b" fill-opacity="0.85"/>
<circle cx="1947.4" cy="1127.2" r="4.8" fill="#1e2b2b" fill-opacity="0.85"/>
<circle cx="1977.2" cy="1149.8" r="4.8" fill="#1e2b2b" fill-opacity="0.85"/>
<circle cx="1946.3" cy="1174" r="4.8" fill="#1e2b2b" fill-opacity="0.85"/>
<circle cx="1965.2" cy="1183.6" r="4.8" fill="#1e2b2b" fill-opacity="0.85"/>
<circle cx="1973.2" cy="1197.7" r="4.8" fill="#1e2b2b" fill-opacity="0.85"/>
<circle cx="1973.9" cy="1208.5" r="4.8" fill="#1e2b2b" fill-opacity="0.85"/>
<circle cx="1952.5" cy="1231.6" r="4.8" fill="#1e2b2b" fill-opacity="0.85"/>
<circle cx="1965.6" cy="1248.4" r="4.8" fill="#1e2b2b" fill-opacity="0.85"/>
<circle cx="1970.3" cy="1254.6" r="4.8" fill="#1e2b2b" fill-opacity="0.85"/>
<path d="M1834.3 1040.3V1033.9H1969.3V1040.3" fill="none" stroke="#111" stroke-width="2.1"/>
<text text-anchor="middle" transform="translate(1894.9 1030.4) scale(1 1.04)" font-size="28.6">0.00001</text>
<path d="M1895.6 1076V1069.1H1961V1076" fill="none" stroke="#111" stroke-width="2.1"/>
<text text-anchor="middle" transform="translate(1941.2 1065) scale(1 1.04)" font-size="28.6">0.12</text>
<path d="M1767 1092.2V1085.7H1901.8V1092.2" fill="none" stroke="#111" stroke-width="2.1"/>
<text text-anchor="middle" transform="translate(1833.3 1081.8) scale(1 1.04)" font-size="28.6">0.000002</text>
<path d="M1763.1 1133.2V1125.6H1828.8V1133.2" fill="none" stroke="#111" stroke-width="2.1"/>
<text text-anchor="middle" transform="translate(1809.1 1121.4) scale(1 1.04)" font-size="28.6">0.62</text>
<text text-anchor="middle" transform="translate(1758 1373.9) scale(1 1.04)" font-size="28.6">&#8211;</text>
<text text-anchor="middle" transform="translate(1829.3 1373.9) scale(1 1.04)" font-size="28.6">&#8211;</text>
<text text-anchor="middle" transform="translate(1893.4 1374.6) scale(1 1.04)" font-size="28.6">+</text>
<text text-anchor="middle" transform="translate(1958.4 1374.6) scale(1 1.04)" font-size="28.6">+</text>
<path d="M1719.8 1521.5V1818.7H2004.4" fill="none" stroke="#111" stroke-width="2.3"/>
<line x1="1715.3" y1="1591.7" x2="1719.8" y2="1591.7" stroke="#111" stroke-width="1.6"/>
<text text-anchor="end" transform="translate(1714.2 1596.6) scale(1 1.04)" font-size="28.7">30</text>
<line x1="1715.3" y1="1664.3" x2="1719.8" y2="1664.3" stroke="#111" stroke-width="1.6"/>
<text text-anchor="end" transform="translate(1714.2 1669.2) scale(1 1.04)" font-size="28.7">20</text>
<line x1="1715.3" y1="1737.4" x2="1719.8" y2="1737.4" stroke="#111" stroke-width="1.6"/>
<text text-anchor="end" transform="translate(1714.2 1742.3) scale(1 1.04)" font-size="28.7">10</text>
<line x1="1715.3" y1="1810.6" x2="1719.8" y2="1810.6" stroke="#111" stroke-width="1.6"/>
<text text-anchor="end" transform="translate(1714.2 1815.5) scale(1 1.04)" font-size="28.7">0</text>
<line x1="1760.8" y1="1818.7" x2="1760.8" y2="1823.2" stroke="#111" stroke-width="1.6"/>
<line x1="1828.1" y1="1818.7" x2="1828.1" y2="1823.2" stroke="#111" stroke-width="1.6"/>
<line x1="1896.1" y1="1818.7" x2="1896.1" y2="1823.2" stroke="#111" stroke-width="1.6"/>
<line x1="1963.6" y1="1818.7" x2="1963.6" y2="1823.2" stroke="#111" stroke-width="1.6"/>
<text transform="translate(1665.3 1829.3) rotate(-90) scale(1 1.04)" font-size="28.2">% CD107a<tspan font-size="16.5" dy="-10.5">+</tspan><tspan dy="10.5" font-size="1">&#8203;</tspan> CD56<tspan font-size="16.5" dy="-10.5">+</tspan><tspan dy="10.5" font-size="1">&#8203;</tspan> cells</text>
<line x1="1760.8" y1="1770.8" x2="1760.8" y2="1804.9" stroke="#1f2a2b" stroke-width="2"/>
<rect x="1740.1" y="1784.6" width="41.9" height="12.2" fill="#f6f7f4" stroke="#1f2a2b" stroke-width="2.1"/>
<line x1="1740.1" y1="1791" x2="1782" y2="1791" stroke="#1f2a2b" stroke-width="2"/>
<line x1="1828.1" y1="1745" x2="1828.1" y2="1800.3" stroke="#1f2a2b" stroke-width="2"/>
<rect x="1807.8" y="1760.4" width="41.7" height="21.9" fill="#f07563" stroke="#1f2a2b" stroke-width="2.1"/>
<line x1="1807.8" y1="1773.8" x2="1849.5" y2="1773.8" stroke="#1f2a2b" stroke-width="2"/>
<line x1="1896.1" y1="1667.8" x2="1896.1" y2="1751.9" stroke="#1f2a2b" stroke-width="2"/>
<rect x="1874.9" y="1680.9" width="42.4" height="40.3" fill="#f6f7f4" stroke="#1f2a2b" stroke-width="2.1"/>
<line x1="1874.9" y1="1695.9" x2="1917.3" y2="1695.9" stroke="#1f2a2b" stroke-width="2"/>
<line x1="1963.6" y1="1573.3" x2="1963.6" y2="1748.4" stroke="#1f2a2b" stroke-width="2"/>
<rect x="1943.3" y="1620.5" width="41" height="112.5" fill="#f07563" stroke="#1f2a2b" stroke-width="2.1"/>
<line x1="1943.3" y1="1716.6" x2="1984.3" y2="1716.6" stroke="#1f2a2b" stroke-width="2"/>
<circle cx="1758.5" cy="1770.3" r="4.8" fill="#1e2b2b" fill-opacity="0.85"/>
<circle cx="1777.4" cy="1765.7" r="4.8" fill="#1e2b2b" fill-opacity="0.85"/>
<circle cx="1745.2" cy="1791" r="4.8" fill="#1e2b2b" fill-opacity="0.85"/>
<circle cx="1770" cy="1789.9" r="4.8" fill="#1e2b2b" fill-opacity="0.85"/>
<circle cx="1759.7" cy="1793.8" r="4.8" fill="#1e2b2b" fill-opacity="0.85"/>
<circle cx="1760.6" cy="1801.9" r="4.8" fill="#1e2b2b" fill-opacity="0.85"/>
<circle cx="1758.5" cy="1805.3" r="4.8" fill="#1e2b2b" fill-opacity="0.85"/>
<circle cx="1826.3" cy="1711.6" r="4.8" fill="#1e2b2b" fill-opacity="0.85"/>
<circle cx="1826.9" cy="1745" r="4.8" fill="#1e2b2b" fill-opacity="0.85"/>
<circle cx="1815.4" cy="1760.4" r="4.8" fill="#1e2b2b" fill-opacity="0.85"/>
<circle cx="1828.8" cy="1767.5" r="4.8" fill="#1e2b2b" fill-opacity="0.85"/>
<circle cx="1817.7" cy="1773.8" r="4.8" fill="#1e2b2b" fill-opacity="0.85"/>
<circle cx="1823.5" cy="1776.1" r="4.8" fill="#1e2b2b" fill-opacity="0.85"/>
<circle cx="1826.3" cy="1781.4" r="4.8" fill="#1e2b2b" fill-opacity="0.85"/>
<circle cx="1843.8" cy="1790.3" r="4.8" fill="#1e2b2b" fill-opacity="0.85"/>
<circle cx="1829.2" cy="1799.6" r="4.8" fill="#1e2b2b" fill-opacity="0.85"/>
<circle cx="1906" cy="1667.1" r="4.8" fill="#1e2b2b" fill-opacity="0.85"/>
<circle cx="1900.7" cy="1679.3" r="4.8" fill="#1e2b2b" fill-opacity="0.85"/>
<circle cx="1902.3" cy="1682.3" r="4.8" fill="#1e2b2b" fill-opacity="0.85"/>
<circle cx="1885" cy="1689" r="4.8" fill="#1e2b2b" fill-opacity="0.85"/>
<circle cx="1892.1" cy="1702.8" r="4.8" fill="#1e2b2b" fill-opacity="0.85"/>
<circle cx="1896.5" cy="1711.1" r="4.8" fill="#1e2b2b" fill-opacity="0.85"/>
<circle cx="1894.2" cy="1750.7" r="4.8" fill="#1e2b2b" fill-opacity="0.85"/>
<circle cx="1896.5" cy="1782.3" r="4.8" fill="#1e2b2b" fill-opacity="0.85"/>
<circle cx="1976.2" cy="1573.8" r="4.8" fill="#1e2b2b" fill-opacity="0.85"/>
<circle cx="1949.7" cy="1589" r="4.8" fill="#1e2b2b" fill-opacity="0.85"/>
<circle cx="1948.6" cy="1621" r="4.8" fill="#1e2b2b" fill-opacity="0.85"/>
<circle cx="1977.2" cy="1695" r="4.8" fill="#1e2b2b" fill-opacity="0.85"/>
<circle cx="1968" cy="1716.9" r="4.8" fill="#1e2b2b" fill-opacity="0.85"/>
<circle cx="1968.6" cy="1729.5" r="4.8" fill="#1e2b2b" fill-opacity="0.85"/>
<circle cx="1973.2" cy="1733.4" r="4.8" fill="#1e2b2b" fill-opacity="0.85"/>
<circle cx="1955.3" cy="1747.7" r="4.8" fill="#1e2b2b" fill-opacity="0.85"/>
<circle cx="1980.2" cy="1748.4" r="4.8" fill="#1e2b2b" fill-opacity="0.85"/>
<path d="M1827 1524.2V1517.6H1962.2V1524.2" fill="none" stroke="#111" stroke-width="2.1"/>
<text text-anchor="middle" transform="translate(1893.8 1513.9) scale(1 1.04)" font-size="28.6">0.004</text>
<path d="M1896.1 1563V1555.6H1964V1563" fill="none" stroke="#111" stroke-width="2.1"/>
<text text-anchor="middle" transform="translate(1943.5 1551.4) scale(1 1.04)" font-size="28.6">0.89</text>
<path d="M1759.7 1576.1V1569.4H1894.5V1576.1" fill="none" stroke="#111" stroke-width="2.1"/>
<text text-anchor="middle" transform="translate(1824.7 1565.7) scale(1 1.04)" font-size="28.6">0.0002</text>
<path d="M1760.8 1612.5V1604.9H1828.6V1612.5" fill="none" stroke="#111" stroke-width="2.1"/>
<text text-anchor="middle" transform="translate(1812 1601) scale(1 1.04)" font-size="28.6">0.052</text>
<text text-anchor="middle" transform="translate(1764.7 1853.6) scale(1 1.04)" font-size="28.6">&#8211;</text>
<text text-anchor="middle" transform="translate(1836.2 1853.6) scale(1 1.04)" font-size="28.6">&#8211;</text>
<text text-anchor="middle" transform="translate(1899.5 1854.3) scale(1 1.04)" font-size="28.6">+</text>
<text text-anchor="middle" transform="translate(1964.7 1854.3) scale(1 1.04)" font-size="28.6">+</text>
<text font-weight="bold" transform="translate(4.5 1968) scale(1 1.04)" font-size="29.6">e</text>
<path d="M85.7 2008.3V2278.4H412.9" fill="none" stroke="#000" stroke-width="2.3"/>
<line x1="81.5" y1="2065.4" x2="85.7" y2="2065.4" stroke="#000" stroke-width="1.6"/>
<text text-anchor="end" transform="translate(79.2 2071) scale(1 1.04)" font-size="28.6">15</text>
<line x1="81.5" y1="2135.6" x2="85.7" y2="2135.6" stroke="#000" stroke-width="1.6"/>
<text text-anchor="end" transform="translate(79.2 2141.2) scale(1 1.04)" font-size="28.6">10</text>
<line x1="81.5" y1="2206.4" x2="85.7" y2="2206.4" stroke="#000" stroke-width="1.6"/>
<text text-anchor="end" transform="translate(79.2 2212) scale(1 1.04)" font-size="28.6">5</text>
<line x1="81.5" y1="2275.8" x2="85.7" y2="2275.8" stroke="#000" stroke-width="1.6"/>
<text text-anchor="end" transform="translate(79.2 2281.4) scale(1 1.04)" font-size="28.6">0</text>
<line x1="131.9" y1="2278.4" x2="131.9" y2="2283.5" stroke="#000" stroke-width="1.6"/>
<line x1="209.8" y1="2278.4" x2="209.8" y2="2283.5" stroke="#000" stroke-width="1.6"/>
<line x1="287.7" y1="2278.4" x2="287.7" y2="2283.5" stroke="#000" stroke-width="1.6"/>
<line x1="366.2" y1="2278.4" x2="366.2" y2="2283.5" stroke="#000" stroke-width="1.6"/>
<text text-anchor="middle" transform="translate(118.8 2307) scale(1 1.04)" font-size="28.6">0.6:1</text>
<text text-anchor="middle" transform="translate(211 2307) scale(1 1.04)" font-size="28.6">1.3:1</text>
<text text-anchor="middle" transform="translate(294.5 2307) scale(1 1.04)" font-size="28.6">2.5:1</text>
<text text-anchor="middle" transform="translate(371.4 2307) scale(1 1.04)" font-size="28.6">5:1</text>
<text text-anchor="middle" transform="translate(240.2 2340.7) scale(1 1.04)" font-size="28.8">Effector:Target</text>
<text transform="translate(39.8 2292.7) rotate(-90) scale(1 1.04)" font-size="28.9">Target Cell Death (%)</text>
<rect x="147.5" y="1971.9" width="142.1" height="111.7" fill="#fff" stroke="#000" stroke-width="2"/>
<line x1="155.8" y1="2009.6" x2="205.2" y2="2009.6" stroke="#000" stroke-width="2.4"/>
<circle cx="181" cy="2009.6" r="5.6" fill="#000"/>
<text transform="translate(210.4 2020.8) scale(1 1.04)" font-size="28.6">HC</text>
<line x1="155.8" y1="2046.7" x2="205.2" y2="2046.7" stroke="#ee1c25" stroke-width="2.4"/>
<circle cx="181" cy="2046.7" r="5.6" fill="#ee1c25"/>
<text transform="translate(210.4 2057.6) scale(1 1.04)" font-size="28.6">JSLE</text>
<path d="M127.7 2213.5h4.4M129.9 2213.5V2266.7M127.7 2266.7h4.4" fill="none" stroke="#000" stroke-width="2.1"/>
<path d="M206.3 2171.9h4.4M208.5 2171.9V2245.9M206.3 2245.9h4.4" fill="none" stroke="#000" stroke-width="2.1"/>
<path d="M284.2 2102.6h4.4M286.4 2102.6V2220M284.2 2220h4.4" fill="none" stroke="#000" stroke-width="2.1"/>
<path d="M362.2 2019.5h4.4M364.4 2019.5V2161.5M362.2 2161.5h4.4" fill="none" stroke="#000" stroke-width="2.1"/>
<path d="M131.5 2242h4.4M133.7 2242V2263.6M131.5 2263.6h4.4" fill="none" stroke="#ee1c25" stroke-width="2.1"/>
<path d="M210 2213.5h4.4M212.2 2213.5V2252.4M210 2252.4h4.4" fill="none" stroke="#ee1c25" stroke-width="2.1"/>
<path d="M287.9 2143.3h4.4M290.1 2143.3V2217.9M287.9 2217.9h4.4" fill="none" stroke="#ee1c25" stroke-width="2.1"/>
<path d="M366.1 2086.2h4.4M368.3 2086.2V2184.1M366.1 2184.1h4.4" fill="none" stroke="#ee1c25" stroke-width="2.1"/>
<polyline points="129.9,2240.2 208.5,2209 286.4,2161.5 364.4,2090.9" fill="none" stroke="#000" stroke-width="2.4"/>
<ellipse cx="129.9" cy="2240.2" rx="5.6" ry="6.1" fill="#000"/>
<ellipse cx="208.5" cy="2209" rx="5.6" ry="6.1" fill="#000"/>
<ellipse cx="286.4" cy="2161.5" rx="5.6" ry="6.1" fill="#000"/>
<ellipse cx="364.4" cy="2090.9" rx="5.6" ry="6.1" fill="#000"/>
<polyline points="133.7,2252.9 212.2,2233.7 290.1,2181 368.3,2135.6" fill="none" stroke="#ee1c25" stroke-width="2.4"/>
<ellipse cx="133.7" cy="2252.9" rx="5.6" ry="6.1" fill="#ee1c25"/>
<ellipse cx="212.2" cy="2233.7" rx="5.6" ry="6.1" fill="#ee1c25"/>
<ellipse cx="290.1" cy="2181" rx="5.6" ry="6.1" fill="#ee1c25"/>
<ellipse cx="368.3" cy="2135.6" rx="5.6" ry="6.1" fill="#ee1c25"/>
<text font-weight="bold" transform="translate(509.5 1968) scale(1 1.04)" font-size="29.6">f</text>
<rect x="626.7" y="2143.3" width="68.3" height="136.9" fill="#fff" stroke="#000" stroke-width="2.1"/>
<rect x="723.6" y="2176.6" width="68" height="103.6" fill="#b4c0be" stroke="#000" stroke-width="2.1"/>
<path d="M602.6 2020V2280.2M590.4 2280.2H816.8" fill="none" stroke="#000" stroke-width="2.2"/>
<line x1="590.4" y1="2020" x2="602.6" y2="2020" stroke="#000" stroke-width="1.7"/>
<text text-anchor="end" transform="translate(588.2 2030.2) scale(1 1.04)" font-size="28.6">25</text>
<line x1="590.4" y1="2073.2" x2="602.6" y2="2073.2" stroke="#000" stroke-width="1.7"/>
<text text-anchor="end" transform="translate(588.2 2083.4) scale(1 1.04)" font-size="28.6">20</text>
<line x1="590.4" y1="2125.2" x2="602.6" y2="2125.2" stroke="#000" stroke-width="1.7"/>
<text text-anchor="end" transform="translate(588.2 2135.4) scale(1 1.04)" font-size="28.6">15</text>
<line x1="590.4" y1="2176.6" x2="602.6" y2="2176.6" stroke="#000" stroke-width="1.7"/>
<text text-anchor="end" transform="translate(588.2 2186.8) scale(1 1.04)" font-size="28.6">10</text>
<line x1="590.4" y1="2228.3" x2="602.6" y2="2228.3" stroke="#000" stroke-width="1.7"/>
<text text-anchor="end" transform="translate(588.2 2238.5) scale(1 1.04)" font-size="28.6">5</text>
<line x1="590.4" y1="2280.2" x2="602.6" y2="2280.2" stroke="#000" stroke-width="1.7"/>
<text text-anchor="end" transform="translate(588.2 2290.4) scale(1 1.04)" font-size="28.6">0</text>
<line x1="661" y1="2280.2" x2="661" y2="2289" stroke="#000" stroke-width="1.7"/>
<line x1="757.4" y1="2280.2" x2="757.4" y2="2289" stroke="#000" stroke-width="1.7"/>
<text text-anchor="middle" transform="translate(662.5 2316.6) scale(1 1.04)" font-size="28.6">HC</text>
<text text-anchor="middle" transform="translate(758.5 2316.6) scale(1 1.04)" font-size="28.6">JSLE</text>
<text transform="translate(535.4 2282.3) rotate(-90) scale(1 1.04)" font-size="28.9">Target Cell Death (%)</text>
<path d="M657 2127.8h8M661 2127.8V2158.9" fill="none" stroke="#000" stroke-width="1.7"/>
<path d="M757.4 2165.4V2188.3M753.4 2188.3h8" fill="none" stroke="#000" stroke-width="1.7"/>
<path d="M661 2075.8V2070.6H757.9V2075.8" fill="none" stroke="#000" stroke-width="1.7"/>
<text text-anchor="middle" transform="translate(715 2068.5) scale(1 1.04)" font-size="28.6">0.13</text>
<ellipse cx="643.1" cy="2078.4" rx="8.6" ry="6.6" fill="#000"/>
<ellipse cx="667" cy="2087" rx="8.6" ry="6.6" fill="#000"/>
<ellipse cx="672.2" cy="2090.9" rx="8.6" ry="6.6" fill="#000"/>
<ellipse cx="661.8" cy="2099.2" rx="8.6" ry="6.6" fill="#000"/>
<ellipse cx="670.4" cy="2138.1" rx="8.6" ry="6.6" fill="#000"/>
<ellipse cx="665.2" cy="2164.1" rx="8.6" ry="6.6" fill="#000"/>
<ellipse cx="641.8" cy="2178.4" rx="8.6" ry="6.6" fill="#000"/>
<ellipse cx="651.4" cy="2190.9" rx="8.6" ry="6.6" fill="#000"/>
<ellipse cx="647" cy="2203.1" rx="8.6" ry="6.6" fill="#000"/>
<ellipse cx="661.8" cy="2210.3" rx="8.6" ry="6.6" fill="#000"/>
<ellipse cx="759.2" cy="2122" rx="7.6" ry="5.8" fill="#fff" stroke="#000" stroke-width="1.9"/>
<ellipse cx="747.5" cy="2130.4" rx="7.6" ry="5.8" fill="#fff" stroke="#000" stroke-width="1.9"/>
<ellipse cx="757.9" cy="2162.3" rx="7.6" ry="5.8" fill="#fff" stroke="#000" stroke-width="1.9"/>
<ellipse cx="754" cy="2164.9" rx="7.6" ry="5.8" fill="#fff" stroke="#000" stroke-width="1.9"/>
<ellipse cx="743.6" cy="2171.9" rx="7.6" ry="5.8" fill="#fff" stroke="#000" stroke-width="1.9"/>
<ellipse cx="770.3" cy="2199.7" rx="7.6" ry="5.8" fill="#fff" stroke="#000" stroke-width="1.9"/>
<ellipse cx="753.5" cy="2204.9" rx="7.6" ry="5.8" fill="#fff" stroke="#000" stroke-width="1.9"/>
<ellipse cx="773.5" cy="2212.7" rx="7.6" ry="5.8" fill="#fff" stroke="#000" stroke-width="1.9"/>
<ellipse cx="771.6" cy="2222.5" rx="7.6" ry="5.8" fill="#fff" stroke="#000" stroke-width="1.9"/></svg></body></html>
